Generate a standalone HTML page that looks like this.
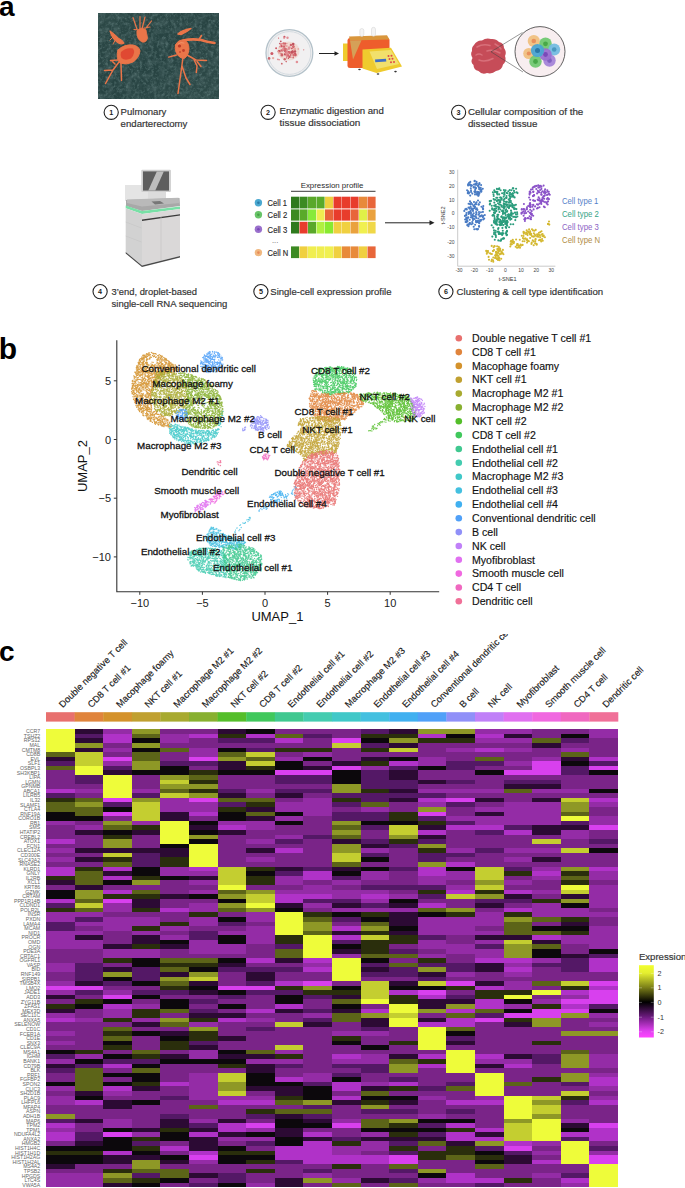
<!DOCTYPE html>
<html><head><meta charset="utf-8"><style>
html,body{margin:0;padding:0;background:#fff;}
body{width:685px;height:1188px;overflow:hidden;position:relative;}
svg{position:absolute;left:0;top:0;}
text{font-family:'Liberation Sans',sans-serif;}
</style></head><body>
<svg width="685" height="1188" viewBox="0 0 685 1188">
<text x="-1" y="15.6" font-size="28" font-weight="bold" fill="#000">a</text>
<text x="-1.2" y="359" font-size="30" font-weight="bold" fill="#000">b</text>
<text x="-1" y="661" font-size="28" font-weight="bold" fill="#000">c</text>
<path fill="#eefc3a" shape-rendering="crispEdges" d="M46.0 729.20H74.6V752.10H46.0zM74.6 765.84H103.2V775.00H74.6zM103.2 775.00H131.8V797.90H103.2zM160.4 820.80H189.0V843.70H160.4zM189.0 843.70H217.6V866.60H189.0zM217.6 884.92H246.2V889.50H217.6zM246.2 903.24H274.8V907.82H246.2zM274.8 912.40H303.4V935.30H274.8zM303.4 935.30H332.0V958.20H303.4zM332.0 958.20H360.6V981.10H332.0zM360.6 999.42H389.2V1004.00H360.6zM389.2 1004.00H417.8V1013.16H389.2zM389.2 1017.74H417.8V1026.90H389.2zM417.8 1026.90H446.4V1049.80H417.8zM446.4 1049.80H475.0V1072.70H446.4zM475.0 1072.70H503.6V1095.60H475.0zM503.6 994.84H532.2V999.42H503.6zM503.6 1095.60H532.2V1118.50H503.6zM532.2 990.26H560.8V994.84H532.2zM532.2 1118.50H560.8V1141.40H532.2zM560.8 816.22H589.4V820.80H560.8zM560.8 884.92H589.4V889.50H560.8zM560.8 1141.40H589.4V1164.30H560.8zM589.4 1164.30H618.0V1187.20H589.4z"/>
<path fill="#5c6418" shape-rendering="crispEdges" d="M46.0 752.10H74.6V756.68H46.0zM46.0 765.84H74.6V770.42H46.0zM46.0 802.48H74.6V811.64H46.0zM74.6 797.90H103.2V802.48H74.6zM74.6 807.06H103.2V816.22H74.6zM74.6 871.18H103.2V884.92H74.6zM74.6 898.66H103.2V903.24H74.6zM74.6 907.82H103.2V912.40H74.6zM74.6 1068.12H103.2V1091.02H74.6zM103.2 825.38H131.8V829.96H103.2zM103.2 862.02H131.8V866.60H103.2zM103.2 1026.90H131.8V1031.48H103.2zM103.2 1036.06H131.8V1040.64H103.2zM103.2 1178.04H131.8V1182.62H103.2zM131.8 733.78H160.4V738.36H131.8zM131.8 752.10H160.4V761.26H131.8zM131.8 889.50H160.4V894.08H131.8zM131.8 1049.80H160.4V1054.38H131.8zM131.8 1068.12H160.4V1072.70H131.8zM131.8 1168.88H160.4V1173.46H131.8zM160.4 747.52H189.0V752.10H160.4zM160.4 788.74H189.0V793.32H160.4zM160.4 958.20H189.0V962.78H160.4zM160.4 967.36H189.0V971.94H160.4zM160.4 981.10H189.0V985.68H160.4zM160.4 1008.58H189.0V1013.16H160.4zM160.4 1022.32H189.0V1026.90H160.4zM160.4 1168.88H189.0V1178.04H160.4zM189.0 775.00H217.6V779.58H189.0zM189.0 958.20H217.6V962.78H189.0zM189.0 1104.76H217.6V1109.34H189.0zM217.6 752.10H246.2V756.68H217.6zM217.6 797.90H246.2V802.48H217.6zM217.6 889.50H246.2V894.08H217.6zM217.6 907.82H246.2V912.40H217.6zM246.2 756.68H274.8V761.26H246.2zM246.2 797.90H274.8V802.48H246.2zM246.2 811.64H274.8V816.22H246.2zM246.2 1049.80H274.8V1054.38H246.2zM274.8 733.78H303.4V738.36H274.8zM274.8 949.04H303.4V958.20H274.8zM274.8 1100.18H303.4V1104.76H274.8zM274.8 1109.34H303.4V1113.92H274.8zM303.4 916.98H332.0V921.56H303.4zM303.4 930.72H332.0V935.30H303.4zM303.4 1109.34H332.0V1113.92H303.4zM332.0 825.38H360.6V829.96H332.0zM332.0 834.54H360.6V839.12H332.0zM332.0 862.02H360.6V866.60H332.0zM332.0 999.42H360.6V1004.00H332.0zM332.0 1013.16H360.6V1022.32H332.0zM332.0 1182.62H360.6V1187.20H332.0zM360.6 802.48H389.2V807.06H360.6zM360.6 921.56H389.2V926.14H360.6zM360.6 953.62H389.2V958.20H360.6zM360.6 1091.02H389.2V1095.60H360.6zM360.6 1118.50H389.2V1127.66H360.6zM389.2 953.62H417.8V958.20H389.2zM389.2 962.78H417.8V967.36H389.2zM389.2 1058.96H417.8V1063.54H389.2zM389.2 1164.30H417.8V1168.88H389.2zM389.2 1182.62H417.8V1187.20H389.2zM417.8 907.82H446.4V912.40H417.8zM417.8 1141.40H446.4V1145.98H417.8zM446.4 1013.16H475.0V1017.74H446.4zM446.4 1026.90H475.0V1031.48H446.4zM446.4 1086.44H475.0V1091.02H446.4zM446.4 1155.14H475.0V1159.72H446.4zM475.0 756.68H503.6V761.26H475.0zM475.0 1008.58H503.6V1013.16H475.0zM475.0 1164.30H503.6V1168.88H475.0zM503.6 788.74H532.2V793.32H503.6zM503.6 921.56H532.2V935.30H503.6zM503.6 1081.86H532.2V1086.44H503.6zM532.2 738.36H560.8V742.94H532.2zM532.2 916.98H560.8V921.56H532.2zM532.2 930.72H560.8V935.30H532.2zM532.2 944.46H560.8V949.04H532.2zM532.2 981.10H560.8V985.68H532.2zM560.8 752.10H589.4V756.68H560.8zM560.8 811.64H589.4V816.22H560.8zM560.8 875.76H589.4V880.34H560.8zM560.8 1049.80H589.4V1054.38H560.8z"/>
<path fill="#2c0a34" shape-rendering="crispEdges" d="M46.0 756.68H74.6V761.26H46.0zM46.0 880.34H74.6V884.92H46.0zM46.0 994.84H74.6V999.42H46.0zM46.0 1008.58H74.6V1013.16H46.0zM46.0 1063.54H74.6V1068.12H46.0zM46.0 1164.30H74.6V1168.88H46.0zM74.6 729.20H103.2V733.78H74.6zM74.6 738.36H103.2V742.94H74.6zM74.6 747.52H103.2V752.10H74.6zM74.6 829.96H103.2V834.54H74.6zM74.6 848.28H103.2V852.86H74.6zM74.6 857.44H103.2V862.02H74.6zM74.6 884.92H103.2V889.50H74.6zM74.6 935.30H103.2V939.88H74.6zM74.6 981.10H103.2V985.68H74.6zM74.6 1091.02H103.2V1095.60H74.6zM74.6 1118.50H103.2V1123.08H74.6zM74.6 1141.40H103.2V1145.98H74.6zM103.2 770.42H131.8V775.00H103.2zM103.2 848.28H131.8V852.86H103.2zM103.2 871.18H131.8V875.76H103.2zM103.2 944.46H131.8V949.04H103.2zM103.2 967.36H131.8V971.94H103.2zM103.2 1100.18H131.8V1109.34H103.2zM103.2 1155.14H131.8V1164.30H103.2zM103.2 1182.62H131.8V1187.20H103.2zM131.8 829.96H160.4V834.54H131.8zM131.8 848.28H160.4V852.86H131.8zM131.8 898.66H160.4V907.82H131.8zM131.8 935.30H160.4V944.46H131.8zM131.8 1022.32H160.4V1026.90H131.8zM131.8 1086.44H160.4V1091.02H131.8zM131.8 1127.66H160.4V1132.24H131.8zM131.8 1155.14H160.4V1159.72H131.8zM160.4 811.64H189.0V820.80H160.4zM160.4 848.28H189.0V857.44H160.4zM160.4 894.08H189.0V898.66H160.4zM160.4 944.46H189.0V949.04H160.4zM160.4 971.94H189.0V976.52H160.4zM160.4 1031.48H189.0V1036.06H160.4zM160.4 1054.38H189.0V1058.96H160.4zM160.4 1118.50H189.0V1127.66H160.4zM160.4 1159.72H189.0V1164.30H160.4zM189.0 825.38H217.6V829.96H189.0zM189.0 875.76H217.6V880.34H189.0zM189.0 981.10H217.6V985.68H189.0zM189.0 990.26H217.6V994.84H189.0zM189.0 1013.16H217.6V1017.74H189.0zM189.0 1045.22H217.6V1049.80H189.0zM189.0 1127.66H217.6V1132.24H189.0zM189.0 1136.82H217.6V1150.56H189.0zM189.0 1173.46H217.6V1178.04H189.0zM217.6 729.20H246.2V733.78H217.6zM217.6 761.26H246.2V770.42H217.6zM217.6 793.32H246.2V797.90H217.6zM217.6 829.96H246.2V834.54H217.6zM217.6 962.78H246.2V967.36H217.6zM217.6 1013.16H246.2V1017.74H217.6zM217.6 1036.06H246.2V1040.64H217.6zM217.6 1054.38H246.2V1058.96H217.6zM217.6 1118.50H246.2V1123.08H217.6zM217.6 1132.24H246.2V1136.82H217.6zM246.2 807.06H274.8V811.64H246.2zM246.2 816.22H274.8V820.80H246.2zM246.2 848.28H274.8V852.86H246.2zM246.2 971.94H274.8V981.10H246.2zM246.2 1054.38H274.8V1058.96H246.2zM246.2 1063.54H274.8V1072.70H246.2zM246.2 1086.44H274.8V1091.02H246.2zM274.8 793.32H303.4V797.90H274.8zM274.8 866.60H303.4V871.18H274.8zM274.8 903.24H303.4V907.82H274.8zM274.8 958.20H303.4V962.78H274.8zM274.8 1008.58H303.4V1013.16H274.8zM274.8 1086.44H303.4V1095.60H274.8zM274.8 1113.92H303.4V1118.50H274.8zM274.8 1127.66H303.4V1136.82H274.8zM274.8 1178.04H303.4V1187.20H274.8zM303.4 765.84H332.0V770.42H303.4zM303.4 1022.32H332.0V1026.90H303.4zM303.4 1118.50H332.0V1123.08H303.4zM303.4 1136.82H332.0V1141.40H303.4zM332.0 761.26H360.6V765.84H332.0zM332.0 839.12H360.6V843.70H332.0zM332.0 866.60H360.6V871.18H332.0zM332.0 903.24H360.6V907.82H332.0zM332.0 930.72H360.6V935.30H332.0zM332.0 949.04H360.6V953.62H332.0zM332.0 994.84H360.6V999.42H332.0zM332.0 1008.58H360.6V1013.16H332.0zM332.0 1100.18H360.6V1104.76H332.0zM360.6 756.68H389.2V761.26H360.6zM360.6 843.70H389.2V848.28H360.6zM360.6 967.36H389.2V971.94H360.6zM360.6 1017.74H389.2V1026.90H360.6zM360.6 1086.44H389.2V1091.02H360.6zM360.6 1136.82H389.2V1141.40H360.6zM360.6 1178.04H389.2V1182.62H360.6zM389.2 729.20H417.8V733.78H389.2zM389.2 742.94H417.8V747.52H389.2zM389.2 770.42H417.8V779.58H389.2zM389.2 788.74H417.8V793.32H389.2zM389.2 797.90H417.8V802.48H389.2zM389.2 903.24H417.8V907.82H389.2zM389.2 912.40H417.8V926.14H389.2zM389.2 930.72H417.8V935.30H389.2zM389.2 981.10H417.8V985.68H389.2zM389.2 1054.38H417.8V1058.96H389.2zM389.2 1100.18H417.8V1104.76H389.2zM389.2 1136.82H417.8V1141.40H389.2zM417.8 779.58H446.4V784.16H417.8zM417.8 825.38H446.4V829.96H417.8zM417.8 834.54H446.4V839.12H417.8zM417.8 971.94H446.4V976.52H417.8zM417.8 999.42H446.4V1008.58H417.8zM417.8 1017.74H446.4V1022.32H417.8zM417.8 1136.82H446.4V1141.40H417.8zM446.4 999.42H475.0V1004.00H446.4zM446.4 1040.64H475.0V1045.22H446.4zM446.4 1141.40H475.0V1145.98H446.4zM475.0 797.90H503.6V802.48H475.0zM475.0 811.64H503.6V816.22H475.0zM475.0 903.24H503.6V907.82H475.0zM475.0 935.30H503.6V939.88H475.0zM475.0 962.78H503.6V971.94H475.0zM475.0 981.10H503.6V985.68H475.0zM475.0 1063.54H503.6V1068.12H475.0zM475.0 1132.24H503.6V1136.82H475.0zM503.6 733.78H532.2V738.36H503.6zM503.6 784.16H532.2V788.74H503.6zM503.6 894.08H532.2V898.66H503.6zM503.6 935.30H532.2V939.88H503.6zM503.6 1022.32H532.2V1026.90H503.6zM503.6 1054.38H532.2V1058.96H503.6zM503.6 1155.14H532.2V1164.30H503.6zM532.2 742.94H560.8V747.52H532.2zM532.2 784.16H560.8V788.74H532.2zM532.2 797.90H560.8V802.48H532.2zM532.2 825.38H560.8V834.54H532.2zM532.2 857.44H560.8V862.02H532.2zM532.2 939.88H560.8V944.46H532.2zM560.8 756.68H589.4V761.26H560.8zM560.8 825.38H589.4V829.96H560.8zM560.8 894.08H589.4V898.66H560.8zM560.8 921.56H589.4V926.14H560.8zM560.8 953.62H589.4V958.20H560.8zM560.8 1123.08H589.4V1127.66H560.8z"/>
<path fill="#541866" shape-rendering="crispEdges" d="M46.0 761.26H74.6V765.84H46.0zM46.0 793.32H74.6V797.90H46.0zM46.0 903.24H74.6V907.82H46.0zM46.0 921.56H74.6V930.72H46.0zM46.0 1054.38H74.6V1058.96H46.0zM46.0 1068.12H74.6V1072.70H46.0zM46.0 1118.50H74.6V1123.08H46.0zM74.6 733.78H103.2V738.36H74.6zM74.6 775.00H103.2V784.16H74.6zM74.6 916.98H103.2V921.56H74.6zM74.6 962.78H103.2V981.10H74.6zM74.6 990.26H103.2V994.84H74.6zM74.6 1063.54H103.2V1068.12H74.6zM74.6 1132.24H103.2V1141.40H74.6zM103.2 765.84H131.8V770.42H103.2zM103.2 802.48H131.8V807.06H103.2zM103.2 981.10H131.8V985.68H103.2zM103.2 1058.96H131.8V1063.54H103.2zM131.8 793.32H160.4V797.90H131.8zM131.8 852.86H160.4V866.60H131.8zM131.8 967.36H160.4V981.10H131.8zM131.8 990.26H160.4V994.84H131.8zM131.8 1058.96H160.4V1063.54H131.8zM131.8 1141.40H160.4V1145.98H131.8zM131.8 1173.46H160.4V1178.04H131.8zM160.4 761.26H189.0V765.84H160.4zM160.4 990.26H189.0V994.84H160.4zM160.4 1095.60H189.0V1100.18H160.4zM160.4 1113.92H189.0V1118.50H160.4zM189.0 761.26H217.6V765.84H189.0zM189.0 930.72H217.6V939.88H189.0zM189.0 999.42H217.6V1004.00H189.0zM189.0 1008.58H217.6V1013.16H189.0zM189.0 1040.64H217.6V1045.22H189.0zM189.0 1123.08H217.6V1127.66H189.0zM189.0 1182.62H217.6V1187.20H189.0zM217.6 738.36H246.2V742.94H217.6zM217.6 788.74H246.2V793.32H217.6zM217.6 802.48H246.2V807.06H217.6zM217.6 921.56H246.2V926.14H217.6zM217.6 967.36H246.2V971.94H217.6zM217.6 994.84H246.2V999.42H217.6zM217.6 1173.46H246.2V1182.62H217.6zM246.2 738.36H274.8V742.94H246.2zM246.2 747.52H274.8V752.10H246.2zM246.2 967.36H274.8V971.94H246.2zM246.2 981.10H274.8V985.68H246.2zM246.2 990.26H274.8V994.84H246.2zM246.2 1026.90H274.8V1031.48H246.2zM246.2 1113.92H274.8V1118.50H246.2zM246.2 1141.40H274.8V1145.98H246.2zM274.8 775.00H303.4V784.16H274.8zM274.8 788.74H303.4V793.32H274.8zM274.8 839.12H303.4V843.70H274.8zM274.8 871.18H303.4V875.76H274.8zM274.8 944.46H303.4V949.04H274.8zM274.8 967.36H303.4V971.94H274.8zM274.8 990.26H303.4V994.84H274.8zM274.8 1063.54H303.4V1068.12H274.8zM274.8 1159.72H303.4V1164.30H274.8zM303.4 733.78H332.0V738.36H303.4zM303.4 775.00H332.0V784.16H303.4zM303.4 788.74H332.0V793.32H303.4zM303.4 834.54H332.0V839.12H303.4zM303.4 866.60H332.0V871.18H303.4zM303.4 898.66H332.0V903.24H303.4zM303.4 994.84H332.0V999.42H303.4zM303.4 1008.58H332.0V1013.16H303.4zM303.4 1017.74H332.0V1022.32H303.4zM303.4 1081.86H332.0V1086.44H303.4zM303.4 1104.76H332.0V1109.34H303.4zM303.4 1113.92H332.0V1118.50H303.4zM303.4 1168.88H332.0V1173.46H303.4zM332.0 793.32H360.6V797.90H332.0zM332.0 802.48H360.6V807.06H332.0zM332.0 811.64H360.6V820.80H332.0zM332.0 875.76H360.6V880.34H332.0zM332.0 898.66H360.6V903.24H332.0zM332.0 916.98H360.6V921.56H332.0zM332.0 939.88H360.6V944.46H332.0zM332.0 1063.54H360.6V1068.12H332.0zM332.0 1072.70H360.6V1077.28H332.0zM332.0 1136.82H360.6V1141.40H332.0zM360.6 729.20H389.2V733.78H360.6zM360.6 742.94H389.2V747.52H360.6zM360.6 770.42H389.2V788.74H360.6zM360.6 793.32H389.2V802.48H360.6zM360.6 811.64H389.2V820.80H360.6zM360.6 825.38H389.2V829.96H360.6zM360.6 839.12H389.2V843.70H360.6zM360.6 852.86H389.2V857.44H360.6zM360.6 884.92H389.2V889.50H360.6zM360.6 903.24H389.2V907.82H360.6zM360.6 962.78H389.2V967.36H360.6zM360.6 971.94H389.2V976.52H360.6zM360.6 1026.90H389.2V1031.48H360.6zM360.6 1063.54H389.2V1072.70H360.6zM360.6 1109.34H389.2V1113.92H360.6zM389.2 765.84H417.8V770.42H389.2zM389.2 779.58H417.8V788.74H389.2zM389.2 793.32H417.8V797.90H389.2zM389.2 843.70H417.8V848.28H389.2zM389.2 866.60H417.8V871.18H389.2zM389.2 884.92H417.8V889.50H389.2zM389.2 949.04H417.8V953.62H389.2zM389.2 967.36H417.8V976.52H389.2zM389.2 1077.28H417.8V1081.86H389.2zM389.2 1109.34H417.8V1113.92H389.2zM389.2 1141.40H417.8V1145.98H389.2zM389.2 1150.56H417.8V1155.14H389.2zM389.2 1168.88H417.8V1173.46H389.2zM389.2 1178.04H417.8V1182.62H389.2zM417.8 793.32H446.4V797.90H417.8zM417.8 816.22H446.4V820.80H417.8zM417.8 839.12H446.4V843.70H417.8zM417.8 852.86H446.4V862.02H417.8zM417.8 884.92H446.4V889.50H417.8zM417.8 894.08H446.4V898.66H417.8zM417.8 935.30H446.4V939.88H417.8zM417.8 962.78H446.4V967.36H417.8zM417.8 976.52H446.4V981.10H417.8zM417.8 1086.44H446.4V1091.02H417.8zM417.8 1123.08H446.4V1127.66H417.8zM417.8 1132.24H446.4V1136.82H417.8zM446.4 761.26H475.0V770.42H446.4zM446.4 779.58H475.0V784.16H446.4zM446.4 802.48H475.0V807.06H446.4zM446.4 820.80H475.0V825.38H446.4zM446.4 852.86H475.0V857.44H446.4zM446.4 962.78H475.0V971.94H446.4zM446.4 994.84H475.0V999.42H446.4zM446.4 1036.06H475.0V1040.64H446.4zM446.4 1081.86H475.0V1086.44H446.4zM446.4 1109.34H475.0V1113.92H446.4zM475.0 761.26H503.6V765.84H475.0zM475.0 829.96H503.6V834.54H475.0zM475.0 848.28H503.6V852.86H475.0zM475.0 898.66H503.6V903.24H475.0zM475.0 944.46H503.6V949.04H475.0zM475.0 1013.16H503.6V1017.74H475.0zM475.0 1145.98H503.6V1150.56H475.0zM475.0 1182.62H503.6V1187.20H475.0zM503.6 779.58H532.2V784.16H503.6zM503.6 825.38H532.2V829.96H503.6zM503.6 866.60H532.2V871.18H503.6zM503.6 898.66H532.2V903.24H503.6zM503.6 1150.56H532.2V1155.14H503.6zM532.2 779.58H560.8V784.16H532.2zM532.2 962.78H560.8V967.36H532.2zM532.2 1054.38H560.8V1063.54H532.2zM560.8 738.36H589.4V742.94H560.8zM560.8 765.84H589.4V775.00H560.8zM560.8 820.80H589.4V825.38H560.8zM560.8 958.20H589.4V971.94H560.8zM560.8 1081.86H589.4V1086.44H560.8zM560.8 1100.18H589.4V1104.76H560.8zM560.8 1136.82H589.4V1141.40H560.8zM560.8 1173.46H589.4V1178.04H560.8zM589.4 761.26H618.0V765.84H589.4zM589.4 839.12H618.0V843.70H589.4zM589.4 953.62H618.0V958.20H589.4zM589.4 1004.00H618.0V1008.58H589.4zM589.4 1145.98H618.0V1150.56H589.4z"/>
<path fill="#7a2488" shape-rendering="crispEdges" d="M46.0 770.42H74.6V788.74H46.0zM46.0 825.38H74.6V839.12H46.0zM46.0 843.70H74.6V848.28H46.0zM46.0 852.86H74.6V857.44H46.0zM46.0 862.02H74.6V866.60H46.0zM46.0 884.92H74.6V889.50H46.0zM46.0 949.04H74.6V962.78H46.0zM46.0 971.94H74.6V981.10H46.0zM46.0 999.42H74.6V1004.00H46.0zM46.0 1022.32H74.6V1031.48H46.0zM46.0 1036.06H74.6V1040.64H46.0zM46.0 1045.22H74.6V1049.80H46.0zM46.0 1072.70H74.6V1081.86H46.0zM46.0 1091.02H74.6V1095.60H46.0zM46.0 1104.76H74.6V1113.92H46.0zM46.0 1141.40H74.6V1145.98H46.0zM46.0 1168.88H74.6V1173.46H46.0zM74.6 784.16H103.2V788.74H74.6zM74.6 793.32H103.2V797.90H74.6zM74.6 820.80H103.2V825.38H74.6zM74.6 834.54H103.2V848.28H74.6zM74.6 852.86H103.2V857.44H74.6zM74.6 862.02H103.2V866.60H74.6zM74.6 926.14H103.2V930.72H74.6zM74.6 949.04H103.2V962.78H74.6zM74.6 994.84H103.2V999.42H74.6zM74.6 1008.58H103.2V1017.74H74.6zM74.6 1022.32H103.2V1049.80H74.6zM74.6 1104.76H103.2V1118.50H74.6zM74.6 1123.08H103.2V1132.24H74.6zM74.6 1164.30H103.2V1173.46H74.6zM103.2 742.94H131.8V747.52H103.2zM103.2 752.10H131.8V756.68H103.2zM103.2 816.22H131.8V820.80H103.2zM103.2 884.92H131.8V889.50H103.2zM103.2 912.40H131.8V916.98H103.2zM103.2 930.72H131.8V944.46H103.2zM103.2 962.78H131.8V967.36H103.2zM103.2 985.68H131.8V990.26H103.2zM103.2 1022.32H131.8V1026.90H103.2zM103.2 1049.80H131.8V1054.38H103.2zM103.2 1068.12H131.8V1072.70H103.2zM103.2 1077.28H131.8V1081.86H103.2zM103.2 1095.60H131.8V1100.18H103.2zM103.2 1109.34H131.8V1118.50H103.2zM103.2 1164.30H131.8V1168.88H103.2zM131.8 775.00H160.4V788.74H131.8zM131.8 834.54H160.4V848.28H131.8zM131.8 884.92H160.4V889.50H131.8zM131.8 912.40H160.4V916.98H131.8zM131.8 985.68H160.4V990.26H131.8zM131.8 999.42H160.4V1004.00H131.8zM131.8 1026.90H160.4V1031.48H131.8zM131.8 1036.06H160.4V1049.80H131.8zM131.8 1091.02H160.4V1100.18H131.8zM131.8 1104.76H160.4V1127.66H131.8zM160.4 729.20H189.0V733.78H160.4zM160.4 742.94H189.0V747.52H160.4zM160.4 752.10H189.0V761.26H160.4zM160.4 880.34H189.0V894.08H160.4zM160.4 898.66H189.0V907.82H160.4zM160.4 912.40H189.0V921.56H160.4zM160.4 930.72H189.0V935.30H160.4zM160.4 949.04H189.0V958.20H160.4zM160.4 994.84H189.0V999.42H160.4zM160.4 1013.16H189.0V1017.74H160.4zM160.4 1026.90H189.0V1031.48H160.4zM160.4 1049.80H189.0V1054.38H160.4zM160.4 1063.54H189.0V1081.86H160.4zM160.4 1086.44H189.0V1095.60H160.4zM160.4 1100.18H189.0V1113.92H160.4zM160.4 1141.40H189.0V1145.98H160.4zM160.4 1150.56H189.0V1155.14H160.4zM160.4 1164.30H189.0V1168.88H160.4zM160.4 1182.62H189.0V1187.20H160.4zM189.0 729.20H217.6V733.78H189.0zM189.0 738.36H217.6V747.52H189.0zM189.0 765.84H217.6V770.42H189.0zM189.0 816.22H217.6V820.80H189.0zM189.0 884.92H217.6V889.50H189.0zM189.0 898.66H217.6V903.24H189.0zM189.0 926.14H217.6V930.72H189.0zM189.0 953.62H217.6V958.20H189.0zM189.0 994.84H217.6V999.42H189.0zM189.0 1004.00H217.6V1008.58H189.0zM189.0 1063.54H217.6V1072.70H189.0zM189.0 1100.18H217.6V1104.76H189.0zM189.0 1109.34H217.6V1118.50H189.0zM189.0 1164.30H217.6V1173.46H189.0zM189.0 1178.04H217.6V1182.62H189.0zM217.6 742.94H246.2V747.52H217.6zM217.6 775.00H246.2V788.74H217.6zM217.6 834.54H246.2V866.60H217.6zM217.6 912.40H246.2V916.98H217.6zM217.6 926.14H246.2V930.72H217.6zM217.6 953.62H246.2V958.20H217.6zM217.6 971.94H246.2V985.68H217.6zM217.6 999.42H246.2V1004.00H217.6zM217.6 1008.58H246.2V1013.16H217.6zM217.6 1022.32H246.2V1036.06H217.6zM217.6 1040.64H246.2V1049.80H217.6zM217.6 1068.12H246.2V1072.70H217.6zM217.6 1104.76H246.2V1118.50H217.6zM217.6 1141.40H246.2V1145.98H217.6zM217.6 1164.30H246.2V1173.46H217.6zM246.2 742.94H274.8V747.52H246.2zM246.2 775.00H274.8V788.74H246.2zM246.2 793.32H274.8V797.90H246.2zM246.2 829.96H274.8V839.12H246.2zM246.2 843.70H274.8V848.28H246.2zM246.2 852.86H274.8V857.44H246.2zM246.2 862.02H274.8V866.60H246.2zM246.2 884.92H274.8V889.50H246.2zM246.2 921.56H274.8V926.14H246.2zM246.2 944.46H274.8V958.20H246.2zM246.2 962.78H274.8V967.36H246.2zM246.2 994.84H274.8V1008.58H246.2zM246.2 1013.16H274.8V1017.74H246.2zM246.2 1022.32H274.8V1026.90H246.2zM246.2 1031.48H274.8V1049.80H246.2zM246.2 1091.02H274.8V1095.60H246.2zM246.2 1104.76H274.8V1109.34H246.2zM246.2 1118.50H274.8V1123.08H246.2zM246.2 1145.98H274.8V1150.56H246.2zM246.2 1164.30H274.8V1168.88H246.2zM246.2 1173.46H274.8V1182.62H246.2zM274.8 729.20H303.4V733.78H274.8zM274.8 742.94H303.4V747.52H274.8zM274.8 752.10H303.4V756.68H274.8zM274.8 784.16H303.4V788.74H274.8zM274.8 797.90H303.4V802.48H274.8zM274.8 825.38H303.4V834.54H274.8zM274.8 843.70H303.4V848.28H274.8zM274.8 852.86H303.4V866.60H274.8zM274.8 884.92H303.4V889.50H274.8zM274.8 962.78H303.4V967.36H274.8zM274.8 971.94H303.4V981.10H274.8zM274.8 1013.16H303.4V1022.32H274.8zM274.8 1026.90H303.4V1045.22H274.8zM274.8 1068.12H303.4V1077.28H274.8zM274.8 1104.76H303.4V1109.34H274.8zM274.8 1164.30H303.4V1178.04H274.8zM303.4 729.20H332.0V733.78H303.4zM303.4 738.36H332.0V747.52H303.4zM303.4 761.26H332.0V765.84H303.4zM303.4 784.16H332.0V788.74H303.4zM303.4 793.32H332.0V797.90H303.4zM303.4 816.22H332.0V834.54H303.4zM303.4 839.12H332.0V866.60H303.4zM303.4 880.34H332.0V884.92H303.4zM303.4 907.82H332.0V912.40H303.4zM303.4 971.94H332.0V981.10H303.4zM303.4 999.42H332.0V1008.58H303.4zM303.4 1026.90H332.0V1072.70H303.4zM303.4 1127.66H332.0V1132.24H303.4zM303.4 1164.30H332.0V1168.88H303.4zM303.4 1182.62H332.0V1187.20H303.4zM332.0 729.20H360.6V738.36H332.0zM332.0 747.52H360.6V761.26H332.0zM332.0 807.06H360.6V811.64H332.0zM332.0 884.92H360.6V889.50H332.0zM332.0 921.56H360.6V926.14H332.0zM332.0 981.10H360.6V985.68H332.0zM332.0 1022.32H360.6V1031.48H332.0zM332.0 1045.22H360.6V1054.38H332.0zM332.0 1068.12H360.6V1072.70H332.0zM332.0 1091.02H360.6V1095.60H332.0zM332.0 1104.76H360.6V1118.50H332.0zM332.0 1127.66H360.6V1136.82H332.0zM332.0 1168.88H360.6V1178.04H332.0zM360.6 752.10H389.2V756.68H360.6zM360.6 829.96H389.2V839.12H360.6zM360.6 862.02H389.2V866.60H360.6zM360.6 880.34H389.2V884.92H360.6zM360.6 976.52H389.2V981.10H360.6zM360.6 1004.00H389.2V1008.58H360.6zM360.6 1036.06H389.2V1045.22H360.6zM360.6 1049.80H389.2V1054.38H360.6zM360.6 1072.70H389.2V1081.86H360.6zM360.6 1113.92H389.2V1118.50H360.6zM360.6 1150.56H389.2V1155.14H360.6zM360.6 1164.30H389.2V1178.04H360.6zM360.6 1182.62H389.2V1187.20H360.6zM389.2 752.10H417.8V756.68H389.2zM389.2 802.48H417.8V811.64H389.2zM389.2 848.28H417.8V866.60H389.2zM389.2 871.18H417.8V884.92H389.2zM389.2 889.50H417.8V894.08H389.2zM389.2 944.46H417.8V949.04H389.2zM389.2 958.20H417.8V962.78H389.2zM389.2 976.52H417.8V981.10H389.2zM389.2 1026.90H417.8V1040.64H389.2zM389.2 1045.22H417.8V1054.38H389.2zM389.2 1072.70H417.8V1077.28H389.2zM389.2 1091.02H417.8V1095.60H389.2zM389.2 1104.76H417.8V1109.34H389.2zM389.2 1113.92H417.8V1118.50H389.2zM389.2 1173.46H417.8V1178.04H389.2zM417.8 742.94H446.4V756.68H417.8zM417.8 770.42H446.4V779.58H417.8zM417.8 784.16H446.4V788.74H417.8zM417.8 898.66H446.4V903.24H417.8zM417.8 949.04H446.4V953.62H417.8zM417.8 1013.16H446.4V1017.74H417.8zM417.8 1049.80H446.4V1054.38H417.8zM417.8 1068.12H446.4V1086.44H417.8zM417.8 1091.02H446.4V1095.60H417.8zM417.8 1100.18H446.4V1113.92H417.8zM417.8 1145.98H446.4V1150.56H417.8zM417.8 1159.72H446.4V1168.88H417.8zM417.8 1182.62H446.4V1187.20H417.8zM446.4 742.94H475.0V747.52H446.4zM446.4 752.10H475.0V761.26H446.4zM446.4 770.42H475.0V779.58H446.4zM446.4 784.16H475.0V788.74H446.4zM446.4 793.32H475.0V797.90H446.4zM446.4 807.06H475.0V816.22H446.4zM446.4 829.96H475.0V848.28H446.4zM446.4 857.44H475.0V862.02H446.4zM446.4 880.34H475.0V884.92H446.4zM446.4 898.66H475.0V907.82H446.4zM446.4 935.30H475.0V944.46H446.4zM446.4 953.62H475.0V962.78H446.4zM446.4 976.52H475.0V981.10H446.4zM446.4 990.26H475.0V994.84H446.4zM446.4 1045.22H475.0V1049.80H446.4zM446.4 1072.70H475.0V1081.86H446.4zM446.4 1091.02H475.0V1100.18H446.4zM446.4 1104.76H475.0V1109.34H446.4zM446.4 1113.92H475.0V1118.50H446.4zM446.4 1159.72H475.0V1173.46H446.4zM446.4 1182.62H475.0V1187.20H446.4zM475.0 742.94H503.6V747.52H475.0zM475.0 752.10H503.6V756.68H475.0zM475.0 765.84H503.6V770.42H475.0zM475.0 775.00H503.6V788.74H475.0zM475.0 793.32H503.6V797.90H475.0zM475.0 802.48H503.6V807.06H475.0zM475.0 834.54H503.6V848.28H475.0zM475.0 852.86H503.6V866.60H475.0zM475.0 907.82H503.6V912.40H475.0zM475.0 926.14H503.6V930.72H475.0zM475.0 971.94H503.6V981.10H475.0zM475.0 1022.32H503.6V1054.38H475.0zM475.0 1068.12H503.6V1072.70H475.0zM475.0 1104.76H503.6V1127.66H475.0zM475.0 1168.88H503.6V1178.04H475.0zM503.6 742.94H532.2V747.52H503.6zM503.6 752.10H532.2V761.26H503.6zM503.6 765.84H532.2V770.42H503.6zM503.6 775.00H532.2V779.58H503.6zM503.6 793.32H532.2V802.48H503.6zM503.6 834.54H532.2V848.28H503.6zM503.6 852.86H532.2V857.44H503.6zM503.6 862.02H532.2V866.60H503.6zM503.6 875.76H532.2V880.34H503.6zM503.6 884.92H532.2V889.50H503.6zM503.6 903.24H532.2V907.82H503.6zM503.6 976.52H532.2V981.10H503.6zM503.6 1026.90H532.2V1054.38H503.6zM503.6 1068.12H532.2V1081.86H503.6zM503.6 1086.44H532.2V1095.60H503.6zM503.6 1164.30H532.2V1178.04H503.6zM503.6 1182.62H532.2V1187.20H503.6zM532.2 729.20H560.8V738.36H532.2zM532.2 747.52H560.8V756.68H532.2zM532.2 775.00H560.8V779.58H532.2zM532.2 793.32H560.8V797.90H532.2zM532.2 834.54H560.8V839.12H532.2zM532.2 843.70H560.8V848.28H532.2zM532.2 852.86H560.8V857.44H532.2zM532.2 862.02H560.8V866.60H532.2zM532.2 880.34H560.8V889.50H532.2zM532.2 894.08H560.8V898.66H532.2zM532.2 921.56H560.8V926.14H532.2zM532.2 967.36H560.8V981.10H532.2zM532.2 985.68H560.8V990.26H532.2zM532.2 994.84H560.8V999.42H532.2zM532.2 1026.90H560.8V1040.64H532.2zM532.2 1045.22H560.8V1054.38H532.2zM532.2 1063.54H560.8V1077.28H532.2zM532.2 1081.86H560.8V1095.60H532.2zM532.2 1145.98H560.8V1150.56H532.2zM532.2 1155.14H560.8V1159.72H532.2zM532.2 1164.30H560.8V1173.46H532.2zM532.2 1178.04H560.8V1187.20H532.2zM560.8 729.20H589.4V733.78H560.8zM560.8 742.94H589.4V747.52H560.8zM560.8 775.00H589.4V788.74H560.8zM560.8 793.32H589.4V797.90H560.8zM560.8 839.12H589.4V848.28H560.8zM560.8 852.86H589.4V866.60H560.8zM560.8 944.46H589.4V953.62H560.8zM560.8 971.94H589.4V981.10H560.8zM560.8 1017.74H589.4V1031.48H560.8zM560.8 1036.06H589.4V1049.80H560.8zM560.8 1068.12H589.4V1072.70H560.8zM560.8 1086.44H589.4V1091.02H560.8zM560.8 1104.76H589.4V1118.50H560.8zM560.8 1164.30H589.4V1173.46H560.8zM589.4 738.36H618.0V756.68H589.4zM589.4 775.00H618.0V788.74H589.4zM589.4 793.32H618.0V797.90H589.4zM589.4 807.06H618.0V816.22H589.4zM589.4 829.96H618.0V839.12H589.4zM589.4 843.70H618.0V848.28H589.4zM589.4 852.86H618.0V866.60H589.4zM589.4 880.34H618.0V884.92H589.4zM589.4 907.82H618.0V912.40H589.4zM589.4 916.98H618.0V926.14H589.4zM589.4 971.94H618.0V981.10H589.4zM589.4 1017.74H618.0V1022.32H589.4zM589.4 1026.90H618.0V1031.48H589.4zM589.4 1036.06H618.0V1054.38H589.4zM589.4 1068.12H618.0V1072.70H589.4zM589.4 1091.02H618.0V1095.60H589.4zM589.4 1104.76H618.0V1123.08H589.4zM589.4 1141.40H618.0V1145.98H589.4z"/>
<path fill="#b032c8" shape-rendering="crispEdges" d="M46.0 788.74H74.6V793.32H46.0zM46.0 839.12H74.6V843.70H46.0zM46.0 866.60H74.6V875.76H46.0zM46.0 898.66H74.6V903.24H46.0zM46.0 1017.74H74.6V1022.32H46.0zM46.0 1123.08H74.6V1127.66H46.0zM46.0 1132.24H74.6V1141.40H46.0zM74.6 1100.18H103.2V1104.76H74.6zM103.2 733.78H131.8V742.94H103.2zM103.2 866.60H131.8V871.18H103.2zM103.2 875.76H131.8V880.34H103.2zM103.2 889.50H131.8V894.08H103.2zM103.2 1004.00H131.8V1008.58H103.2zM103.2 1063.54H131.8V1068.12H103.2zM103.2 1086.44H131.8V1091.02H103.2zM103.2 1150.56H131.8V1155.14H103.2zM160.4 907.82H189.0V912.40H160.4zM160.4 1081.86H189.0V1086.44H160.4zM160.4 1145.98H189.0V1150.56H160.4zM189.0 733.78H217.6V738.36H189.0zM189.0 811.64H217.6V816.22H189.0zM189.0 866.60H217.6V871.18H189.0zM189.0 1132.24H217.6V1136.82H189.0zM189.0 1150.56H217.6V1155.14H189.0zM217.6 825.38H246.2V829.96H217.6zM217.6 1017.74H246.2V1022.32H217.6zM217.6 1100.18H246.2V1104.76H217.6zM217.6 1123.08H246.2V1132.24H217.6zM246.2 733.78H274.8V738.36H246.2zM246.2 958.20H274.8V962.78H246.2zM246.2 1008.58H274.8V1013.16H246.2zM246.2 1100.18H274.8V1104.76H246.2zM274.8 738.36H303.4V742.94H274.8zM274.8 848.28H303.4V852.86H274.8zM274.8 894.08H303.4V903.24H274.8zM274.8 981.10H303.4V985.68H274.8zM274.8 1004.00H303.4V1008.58H274.8zM274.8 1077.28H303.4V1081.86H274.8zM274.8 1145.98H303.4V1159.72H274.8zM303.4 871.18H332.0V880.34H303.4zM303.4 894.08H332.0V898.66H303.4zM303.4 958.20H332.0V962.78H303.4zM303.4 967.36H332.0V971.94H303.4zM303.4 1132.24H332.0V1136.82H303.4zM303.4 1141.40H332.0V1164.30H303.4zM332.0 926.14H360.6V930.72H332.0zM332.0 935.30H360.6V939.88H332.0zM332.0 1054.38H360.6V1058.96H332.0zM332.0 1081.86H360.6V1091.02H332.0zM332.0 1095.60H360.6V1100.18H332.0zM332.0 1155.14H360.6V1164.30H332.0zM360.6 894.08H389.2V898.66H360.6zM360.6 1008.58H389.2V1013.16H360.6zM360.6 1155.14H389.2V1164.30H360.6zM389.2 761.26H417.8V765.84H389.2zM389.2 990.26H417.8V994.84H389.2zM389.2 1081.86H417.8V1086.44H389.2zM417.8 733.78H446.4V738.36H417.8zM417.8 797.90H446.4V802.48H417.8zM417.8 829.96H446.4V834.54H417.8zM417.8 866.60H446.4V875.76H417.8zM417.8 903.24H446.4V907.82H417.8zM417.8 994.84H446.4V999.42H417.8zM417.8 1022.32H446.4V1026.90H417.8zM417.8 1054.38H446.4V1058.96H417.8zM417.8 1063.54H446.4V1068.12H417.8zM446.4 825.38H475.0V829.96H446.4zM446.4 862.02H475.0V866.60H446.4zM446.4 889.50H475.0V894.08H446.4zM446.4 1008.58H475.0V1013.16H446.4zM446.4 1017.74H475.0V1026.90H446.4zM446.4 1100.18H475.0V1104.76H446.4zM446.4 1123.08H475.0V1127.66H446.4zM446.4 1132.24H475.0V1141.40H446.4zM446.4 1173.46H475.0V1182.62H446.4zM475.0 733.78H503.6V738.36H475.0zM475.0 747.52H503.6V752.10H475.0zM475.0 825.38H503.6V829.96H475.0zM475.0 958.20H503.6V962.78H475.0zM475.0 985.68H503.6V990.26H475.0zM475.0 999.42H503.6V1008.58H475.0zM475.0 1054.38H503.6V1058.96H475.0zM475.0 1100.18H503.6V1104.76H475.0zM475.0 1127.66H503.6V1132.24H475.0zM475.0 1136.82H503.6V1141.40H475.0zM475.0 1178.04H503.6V1182.62H475.0zM503.6 829.96H532.2V834.54H503.6zM503.6 889.50H532.2V894.08H503.6zM503.6 907.82H532.2V912.40H503.6zM503.6 958.20H532.2V962.78H503.6zM503.6 967.36H532.2V971.94H503.6zM503.6 1063.54H532.2V1068.12H503.6zM503.6 1141.40H532.2V1145.98H503.6zM532.2 871.18H560.8V875.76H532.2zM532.2 935.30H560.8V939.88H532.2zM532.2 1159.72H560.8V1164.30H532.2zM560.8 990.26H589.4V994.84H560.8zM560.8 1004.00H589.4V1008.58H560.8zM560.8 1132.24H589.4V1136.82H560.8zM560.8 1178.04H589.4V1182.62H560.8zM589.4 756.68H618.0V761.26H589.4zM589.4 797.90H618.0V802.48H589.4zM589.4 866.60H618.0V871.18H589.4zM589.4 958.20H618.0V971.94H589.4zM589.4 985.68H618.0V990.26H589.4zM589.4 1077.28H618.0V1086.44H589.4zM589.4 1100.18H618.0V1104.76H589.4zM589.4 1127.66H618.0V1141.40H589.4z"/>
<path fill="#2a2e0c" shape-rendering="crispEdges" d="M46.0 797.90H74.6V802.48H46.0zM46.0 875.76H74.6V880.34H46.0zM46.0 907.82H74.6V912.40H46.0zM46.0 1004.00H74.6V1008.58H46.0zM46.0 1150.56H74.6V1155.14H46.0zM74.6 866.60H103.2V871.18H74.6zM74.6 999.42H103.2V1004.00H74.6zM74.6 1049.80H103.2V1054.38H74.6zM74.6 1150.56H103.2V1155.14H74.6zM103.2 834.54H131.8V839.12H103.2zM103.2 857.44H131.8V862.02H103.2zM103.2 894.08H131.8V898.66H103.2zM103.2 958.20H131.8V962.78H103.2zM103.2 1017.74H131.8V1022.32H103.2zM103.2 1031.48H131.8V1036.06H103.2zM103.2 1045.22H131.8V1049.80H103.2zM103.2 1168.88H131.8V1173.46H103.2zM131.8 825.38H160.4V829.96H131.8zM131.8 875.76H160.4V880.34H131.8zM131.8 894.08H160.4V898.66H131.8zM131.8 907.82H160.4V912.40H131.8zM131.8 926.14H160.4V930.72H131.8zM131.8 944.46H160.4V949.04H131.8zM131.8 1008.58H160.4V1017.74H131.8zM131.8 1054.38H160.4V1058.96H131.8zM131.8 1081.86H160.4V1086.44H131.8zM131.8 1136.82H160.4V1141.40H131.8zM131.8 1145.98H160.4V1150.56H131.8zM131.8 1178.04H160.4V1182.62H131.8zM160.4 857.44H189.0V866.60H160.4zM160.4 921.56H189.0V926.14H160.4zM160.4 962.78H189.0V967.36H160.4zM160.4 985.68H189.0V990.26H160.4zM160.4 1040.64H189.0V1049.80H160.4zM160.4 1127.66H189.0V1132.24H160.4zM189.0 770.42H217.6V775.00H189.0zM189.0 779.58H217.6V784.16H189.0zM189.0 788.74H217.6V793.32H189.0zM189.0 912.40H217.6V916.98H189.0zM189.0 962.78H217.6V967.36H189.0zM189.0 1017.74H217.6V1022.32H189.0zM189.0 1031.48H217.6V1040.64H189.0zM217.6 733.78H246.2V738.36H217.6zM217.6 807.06H246.2V811.64H217.6zM217.6 1063.54H246.2V1068.12H217.6zM217.6 1150.56H246.2V1155.14H217.6zM246.2 765.84H274.8V770.42H246.2zM246.2 802.48H274.8V807.06H246.2zM246.2 866.60H274.8V871.18H246.2zM246.2 875.76H274.8V884.92H246.2zM246.2 1109.34H274.8V1113.92H246.2zM246.2 1150.56H274.8V1155.14H246.2zM246.2 1159.72H274.8V1164.30H246.2zM246.2 1168.88H274.8V1173.46H246.2zM274.8 747.52H303.4V752.10H274.8zM274.8 935.30H303.4V944.46H274.8zM274.8 985.68H303.4V990.26H274.8zM274.8 1054.38H303.4V1058.96H274.8zM274.8 1095.60H303.4V1100.18H274.8zM303.4 747.52H332.0V752.10H303.4zM303.4 912.40H332.0V916.98H303.4zM303.4 990.26H332.0V994.84H303.4zM332.0 797.90H360.6V802.48H332.0zM332.0 990.26H360.6V994.84H332.0zM332.0 1036.06H360.6V1040.64H332.0zM332.0 1141.40H360.6V1145.98H332.0zM332.0 1164.30H360.6V1168.88H332.0zM360.6 733.78H389.2V738.36H360.6zM360.6 747.52H389.2V752.10H360.6zM360.6 761.26H389.2V765.84H360.6zM360.6 788.74H389.2V793.32H360.6zM360.6 912.40H389.2V916.98H360.6zM360.6 930.72H389.2V935.30H360.6zM360.6 939.88H389.2V953.62H360.6zM360.6 1100.18H389.2V1104.76H360.6zM389.2 733.78H417.8V738.36H389.2zM389.2 811.64H417.8V820.80H389.2zM389.2 839.12H417.8V843.70H389.2zM389.2 935.30H417.8V944.46H389.2zM389.2 994.84H417.8V1004.00H389.2zM389.2 1040.64H417.8V1045.22H389.2zM389.2 1086.44H417.8V1091.02H389.2zM389.2 1123.08H417.8V1127.66H389.2zM389.2 1132.24H417.8V1136.82H389.2zM389.2 1145.98H417.8V1150.56H389.2zM417.8 738.36H446.4V742.94H417.8zM417.8 820.80H446.4V825.38H417.8zM417.8 848.28H446.4V852.86H417.8zM417.8 889.50H446.4V894.08H417.8zM417.8 958.20H446.4V962.78H417.8zM417.8 1058.96H446.4V1063.54H417.8zM417.8 1150.56H446.4V1159.72H417.8zM446.4 738.36H475.0V742.94H446.4zM446.4 912.40H475.0V916.98H446.4zM446.4 985.68H475.0V990.26H446.4zM446.4 1127.66H475.0V1132.24H446.4zM446.4 1145.98H475.0V1155.14H446.4zM475.0 889.50H503.6V894.08H475.0zM475.0 990.26H503.6V999.42H475.0zM475.0 1155.14H503.6V1159.72H475.0zM503.6 871.18H532.2V875.76H503.6zM503.6 912.40H532.2V916.98H503.6zM503.6 990.26H532.2V994.84H503.6zM503.6 1017.74H532.2V1022.32H503.6zM503.6 1178.04H532.2V1182.62H503.6zM532.2 898.66H560.8V903.24H532.2zM532.2 1004.00H560.8V1008.58H532.2zM532.2 1040.64H560.8V1045.22H532.2zM532.2 1077.28H560.8V1081.86H532.2zM560.8 871.18H589.4V875.76H560.8zM560.8 880.34H589.4V884.92H560.8zM560.8 916.98H589.4V921.56H560.8zM560.8 930.72H589.4V935.30H560.8zM560.8 985.68H589.4V990.26H560.8zM560.8 1095.60H589.4V1100.18H560.8z"/>
<path fill="#0c080c" shape-rendering="crispEdges" d="M46.0 811.64H74.6V820.80H46.0zM46.0 889.50H74.6V898.66H46.0zM46.0 1049.80H74.6V1054.38H46.0zM46.0 1081.86H74.6V1086.44H46.0zM46.0 1145.98H74.6V1150.56H46.0zM46.0 1155.14H74.6V1164.30H46.0zM74.6 816.22H103.2V820.80H74.6zM74.6 1004.00H103.2V1008.58H74.6zM74.6 1058.96H103.2V1063.54H74.6zM74.6 1095.60H103.2V1100.18H74.6zM74.6 1145.98H103.2V1150.56H74.6zM74.6 1155.14H103.2V1164.30H74.6zM103.2 807.06H131.8V811.64H103.2zM103.2 829.96H131.8V834.54H103.2zM103.2 880.34H131.8V884.92H103.2zM103.2 976.52H131.8V981.10H103.2zM103.2 999.42H131.8V1004.00H103.2zM103.2 1040.64H131.8V1045.22H103.2zM103.2 1054.38H131.8V1058.96H103.2zM103.2 1072.70H131.8V1077.28H103.2zM103.2 1081.86H131.8V1086.44H103.2zM103.2 1127.66H131.8V1132.24H103.2zM103.2 1136.82H131.8V1150.56H103.2zM131.8 738.36H160.4V742.94H131.8zM131.8 747.52H160.4V752.10H131.8zM131.8 770.42H160.4V775.00H131.8zM131.8 866.60H160.4V875.76H131.8zM131.8 958.20H160.4V967.36H131.8zM131.8 981.10H160.4V985.68H131.8zM131.8 994.84H160.4V999.42H131.8zM131.8 1031.48H160.4V1036.06H131.8zM131.8 1063.54H160.4V1068.12H131.8zM131.8 1072.70H160.4V1081.86H131.8zM131.8 1100.18H160.4V1104.76H131.8zM131.8 1150.56H160.4V1155.14H131.8zM131.8 1182.62H160.4V1187.20H131.8zM160.4 765.84H189.0V775.00H160.4zM160.4 843.70H189.0V848.28H160.4zM160.4 875.76H189.0V880.34H160.4zM160.4 939.88H189.0V944.46H160.4zM160.4 999.42H189.0V1008.58H160.4zM160.4 1036.06H189.0V1040.64H160.4zM160.4 1058.96H189.0V1063.54H160.4zM160.4 1132.24H189.0V1141.40H160.4zM160.4 1155.14H189.0V1159.72H160.4zM160.4 1178.04H189.0V1182.62H160.4zM189.0 820.80H217.6V825.38H189.0zM189.0 829.96H217.6V834.54H189.0zM189.0 839.12H217.6V843.70H189.0zM189.0 894.08H217.6V898.66H189.0zM189.0 967.36H217.6V971.94H189.0zM189.0 985.68H217.6V990.26H189.0zM189.0 1058.96H217.6V1063.54H189.0zM217.6 747.52H246.2V752.10H217.6zM217.6 770.42H246.2V775.00H217.6zM217.6 811.64H246.2V820.80H217.6zM217.6 898.66H246.2V903.24H217.6zM217.6 916.98H246.2V921.56H217.6zM217.6 935.30H246.2V944.46H217.6zM217.6 958.20H246.2V962.78H217.6zM217.6 990.26H246.2V994.84H217.6zM217.6 1004.00H246.2V1008.58H217.6zM217.6 1049.80H246.2V1054.38H217.6zM217.6 1058.96H246.2V1063.54H217.6zM217.6 1145.98H246.2V1150.56H217.6zM217.6 1155.14H246.2V1164.30H217.6zM217.6 1182.62H246.2V1187.20H217.6zM246.2 729.20H274.8V733.78H246.2zM246.2 770.42H274.8V775.00H246.2zM246.2 871.18H274.8V875.76H246.2zM246.2 1072.70H274.8V1086.44H246.2zM246.2 1132.24H274.8V1136.82H246.2zM246.2 1155.14H274.8V1159.72H246.2zM274.8 761.26H303.4V770.42H274.8zM274.8 811.64H303.4V816.22H274.8zM274.8 820.80H303.4V825.38H274.8zM274.8 907.82H303.4V912.40H274.8zM274.8 994.84H303.4V1004.00H274.8zM274.8 1081.86H303.4V1086.44H274.8zM274.8 1118.50H303.4V1127.66H274.8zM274.8 1136.82H303.4V1145.98H274.8zM303.4 756.68H332.0V761.26H303.4zM303.4 1086.44H332.0V1100.18H303.4zM303.4 1123.08H332.0V1127.66H303.4zM332.0 770.42H360.6V784.16H332.0zM332.0 871.18H360.6V875.76H332.0zM332.0 912.40H360.6V916.98H332.0zM332.0 944.46H360.6V949.04H332.0zM332.0 985.68H360.6V990.26H332.0zM332.0 1004.00H360.6V1008.58H332.0zM332.0 1040.64H360.6V1045.22H332.0zM332.0 1077.28H360.6V1081.86H332.0zM360.6 738.36H389.2V742.94H360.6zM360.6 820.80H389.2V825.38H360.6zM360.6 857.44H389.2V862.02H360.6zM360.6 866.60H389.2V871.18H360.6zM360.6 916.98H389.2V921.56H360.6zM360.6 958.20H389.2V962.78H360.6zM360.6 1045.22H389.2V1049.80H360.6zM360.6 1095.60H389.2V1100.18H360.6zM360.6 1127.66H389.2V1132.24H360.6zM389.2 756.68H417.8V761.26H389.2zM389.2 820.80H417.8V825.38H389.2zM389.2 898.66H417.8V903.24H389.2zM389.2 926.14H417.8V930.72H389.2zM389.2 985.68H417.8V990.26H389.2zM389.2 1095.60H417.8V1100.18H389.2zM389.2 1127.66H417.8V1132.24H389.2zM417.8 765.84H446.4V770.42H417.8zM417.8 912.40H446.4V916.98H417.8zM417.8 985.68H446.4V990.26H417.8zM417.8 1118.50H446.4V1123.08H417.8zM417.8 1127.66H446.4V1132.24H417.8zM417.8 1173.46H446.4V1178.04H417.8zM446.4 733.78H475.0V738.36H446.4zM446.4 866.60H475.0V871.18H446.4zM446.4 1031.48H475.0V1036.06H446.4zM446.4 1118.50H475.0V1123.08H446.4zM475.0 770.42H503.6V775.00H475.0zM475.0 1150.56H503.6V1155.14H475.0zM475.0 1159.72H503.6V1164.30H475.0zM503.6 999.42H532.2V1004.00H503.6zM503.6 1008.58H532.2V1013.16H503.6zM532.2 926.14H560.8V930.72H532.2zM532.2 949.04H560.8V958.20H532.2zM560.8 733.78H589.4V738.36H560.8zM560.8 761.26H589.4V765.84H560.8zM560.8 903.24H589.4V907.82H560.8zM560.8 926.14H589.4V930.72H560.8zM560.8 1127.66H589.4V1132.24H560.8zM589.4 770.42H618.0V775.00H589.4zM589.4 788.74H618.0V793.32H589.4zM589.4 848.28H618.0V852.86H589.4zM589.4 949.04H618.0V953.62H589.4zM589.4 1008.58H618.0V1013.16H589.4z"/>
<path fill="#942ca6" shape-rendering="crispEdges" d="M46.0 820.80H74.6V825.38H46.0zM46.0 848.28H74.6V852.86H46.0zM46.0 857.44H74.6V862.02H46.0zM46.0 912.40H74.6V921.56H46.0zM46.0 930.72H74.6V949.04H46.0zM46.0 962.78H74.6V971.94H46.0zM46.0 981.10H74.6V985.68H46.0zM46.0 990.26H74.6V994.84H46.0zM46.0 1013.16H74.6V1017.74H46.0zM46.0 1031.48H74.6V1036.06H46.0zM46.0 1040.64H74.6V1045.22H46.0zM46.0 1058.96H74.6V1063.54H46.0zM46.0 1086.44H74.6V1091.02H46.0zM46.0 1095.60H74.6V1104.76H46.0zM46.0 1127.66H74.6V1132.24H46.0zM46.0 1173.46H74.6V1187.20H46.0zM74.6 788.74H103.2V793.32H74.6zM74.6 825.38H103.2V829.96H74.6zM74.6 912.40H103.2V916.98H74.6zM74.6 921.56H103.2V926.14H74.6zM74.6 930.72H103.2V935.30H74.6zM74.6 939.88H103.2V949.04H74.6zM74.6 1017.74H103.2V1022.32H74.6zM74.6 1054.38H103.2V1058.96H74.6zM74.6 1173.46H103.2V1187.20H74.6zM103.2 729.20H131.8V733.78H103.2zM103.2 747.52H131.8V752.10H103.2zM103.2 761.26H131.8V765.84H103.2zM103.2 903.24H131.8V912.40H103.2zM103.2 916.98H131.8V930.72H103.2zM103.2 949.04H131.8V958.20H103.2zM103.2 990.26H131.8V994.84H103.2zM103.2 1008.58H131.8V1017.74H103.2zM103.2 1091.02H131.8V1095.60H103.2zM103.2 1118.50H131.8V1127.66H103.2zM131.8 788.74H160.4V793.32H131.8zM131.8 820.80H160.4V825.38H131.8zM131.8 916.98H160.4V926.14H131.8zM131.8 930.72H160.4V935.30H131.8zM131.8 949.04H160.4V958.20H131.8zM131.8 1004.00H160.4V1008.58H131.8zM131.8 1017.74H160.4V1022.32H131.8zM131.8 1132.24H160.4V1136.82H131.8zM160.4 733.78H189.0V742.94H160.4zM160.4 797.90H189.0V811.64H160.4zM160.4 866.60H189.0V875.76H160.4zM160.4 926.14H189.0V930.72H160.4zM160.4 935.30H189.0V939.88H160.4zM189.0 747.52H217.6V756.68H189.0zM189.0 802.48H217.6V811.64H189.0zM189.0 871.18H217.6V875.76H189.0zM189.0 880.34H217.6V884.92H189.0zM189.0 889.50H217.6V894.08H189.0zM189.0 903.24H217.6V912.40H189.0zM189.0 916.98H217.6V926.14H189.0zM189.0 939.88H217.6V953.62H189.0zM189.0 1022.32H217.6V1026.90H189.0zM189.0 1049.80H217.6V1058.96H189.0zM189.0 1072.70H217.6V1100.18H189.0zM189.0 1118.50H217.6V1123.08H189.0zM189.0 1159.72H217.6V1164.30H189.0zM217.6 820.80H246.2V825.38H217.6zM217.6 930.72H246.2V935.30H217.6zM217.6 944.46H246.2V953.62H217.6zM217.6 1095.60H246.2V1100.18H217.6zM217.6 1136.82H246.2V1141.40H217.6zM246.2 788.74H274.8V793.32H246.2zM246.2 820.80H274.8V829.96H246.2zM246.2 839.12H274.8V843.70H246.2zM246.2 857.44H274.8V862.02H246.2zM246.2 912.40H274.8V921.56H246.2zM246.2 926.14H274.8V944.46H246.2zM246.2 1017.74H274.8V1022.32H246.2zM246.2 1058.96H274.8V1063.54H246.2zM246.2 1095.60H274.8V1100.18H246.2zM246.2 1127.66H274.8V1132.24H246.2zM246.2 1136.82H274.8V1141.40H246.2zM246.2 1182.62H274.8V1187.20H246.2zM274.8 756.68H303.4V761.26H274.8zM274.8 802.48H303.4V811.64H274.8zM274.8 816.22H303.4V820.80H274.8zM274.8 834.54H303.4V839.12H274.8zM274.8 875.76H303.4V884.92H274.8zM274.8 889.50H303.4V894.08H274.8zM274.8 1049.80H303.4V1054.38H274.8zM274.8 1058.96H303.4V1063.54H274.8zM303.4 752.10H332.0V756.68H303.4zM303.4 797.90H332.0V816.22H303.4zM303.4 884.92H332.0V894.08H303.4zM303.4 903.24H332.0V907.82H303.4zM303.4 962.78H332.0V967.36H303.4zM303.4 1013.16H332.0V1017.74H303.4zM303.4 1072.70H332.0V1081.86H303.4zM303.4 1173.46H332.0V1178.04H303.4zM332.0 880.34H360.6V884.92H332.0zM332.0 889.50H360.6V898.66H332.0zM332.0 907.82H360.6V912.40H332.0zM332.0 953.62H360.6V958.20H332.0zM332.0 1031.48H360.6V1036.06H332.0zM332.0 1058.96H360.6V1063.54H332.0zM332.0 1118.50H360.6V1123.08H332.0zM332.0 1145.98H360.6V1155.14H332.0zM332.0 1178.04H360.6V1182.62H332.0zM360.6 765.84H389.2V770.42H360.6zM360.6 807.06H389.2V811.64H360.6zM360.6 848.28H389.2V852.86H360.6zM360.6 871.18H389.2V880.34H360.6zM360.6 889.50H389.2V894.08H360.6zM360.6 898.66H389.2V903.24H360.6zM360.6 907.82H389.2V912.40H360.6zM360.6 1031.48H389.2V1036.06H360.6zM360.6 1054.38H389.2V1063.54H360.6zM360.6 1081.86H389.2V1086.44H360.6zM360.6 1132.24H389.2V1136.82H360.6zM360.6 1141.40H389.2V1150.56H360.6zM389.2 894.08H417.8V898.66H389.2zM389.2 907.82H417.8V912.40H389.2zM417.8 756.68H446.4V765.84H417.8zM417.8 788.74H446.4V793.32H417.8zM417.8 802.48H446.4V807.06H417.8zM417.8 875.76H446.4V884.92H417.8zM417.8 916.98H446.4V935.30H417.8zM417.8 939.88H446.4V949.04H417.8zM417.8 953.62H446.4V958.20H417.8zM417.8 1095.60H446.4V1100.18H417.8zM417.8 1113.92H446.4V1118.50H417.8zM417.8 1178.04H446.4V1182.62H417.8zM446.4 747.52H475.0V752.10H446.4zM446.4 788.74H475.0V793.32H446.4zM446.4 816.22H475.0V820.80H446.4zM446.4 848.28H475.0V852.86H446.4zM446.4 871.18H475.0V880.34H446.4zM446.4 884.92H475.0V889.50H446.4zM446.4 916.98H475.0V935.30H446.4zM446.4 944.46H475.0V953.62H446.4zM446.4 971.94H475.0V976.52H446.4zM475.0 729.20H503.6V733.78H475.0zM475.0 738.36H503.6V742.94H475.0zM475.0 788.74H503.6V793.32H475.0zM475.0 807.06H503.6V811.64H475.0zM475.0 816.22H503.6V825.38H475.0zM475.0 912.40H503.6V926.14H475.0zM475.0 930.72H503.6V935.30H475.0zM475.0 939.88H503.6V944.46H475.0zM475.0 949.04H503.6V958.20H475.0zM475.0 1058.96H503.6V1063.54H475.0zM475.0 1095.60H503.6V1100.18H475.0zM503.6 729.20H532.2V733.78H503.6zM503.6 738.36H532.2V742.94H503.6zM503.6 747.52H532.2V752.10H503.6zM503.6 761.26H532.2V765.84H503.6zM503.6 802.48H532.2V825.38H503.6zM503.6 848.28H532.2V852.86H503.6zM503.6 857.44H532.2V862.02H503.6zM503.6 880.34H532.2V884.92H503.6zM503.6 962.78H532.2V967.36H503.6zM503.6 971.94H532.2V976.52H503.6zM503.6 981.10H532.2V990.26H503.6zM503.6 1004.00H532.2V1008.58H503.6zM503.6 1058.96H532.2V1063.54H503.6zM532.2 756.68H560.8V761.26H532.2zM532.2 788.74H560.8V793.32H532.2zM532.2 802.48H560.8V825.38H532.2zM532.2 848.28H560.8V852.86H532.2zM532.2 866.60H560.8V871.18H532.2zM532.2 875.76H560.8V880.34H532.2zM532.2 889.50H560.8V894.08H532.2zM532.2 903.24H560.8V916.98H532.2zM532.2 958.20H560.8V962.78H532.2zM532.2 999.42H560.8V1004.00H532.2zM532.2 1141.40H560.8V1145.98H532.2zM532.2 1150.56H560.8V1155.14H532.2zM532.2 1173.46H560.8V1178.04H532.2zM560.8 747.52H589.4V752.10H560.8zM560.8 788.74H589.4V793.32H560.8zM560.8 829.96H589.4V839.12H560.8zM560.8 907.82H589.4V916.98H560.8zM560.8 935.30H589.4V944.46H560.8zM560.8 994.84H589.4V999.42H560.8zM560.8 1118.50H589.4V1123.08H560.8zM560.8 1182.62H589.4V1187.20H560.8zM589.4 729.20H618.0V738.36H589.4zM589.4 802.48H618.0V807.06H589.4zM589.4 816.22H618.0V825.38H589.4zM589.4 871.18H618.0V880.34H589.4zM589.4 884.92H618.0V907.82H589.4zM589.4 912.40H618.0V916.98H589.4zM589.4 926.14H618.0V949.04H589.4zM589.4 1013.16H618.0V1017.74H589.4zM589.4 1022.32H618.0V1026.90H589.4zM589.4 1054.38H618.0V1068.12H589.4zM589.4 1072.70H618.0V1077.28H589.4zM589.4 1086.44H618.0V1091.02H589.4zM589.4 1095.60H618.0V1100.18H589.4zM589.4 1150.56H618.0V1155.14H589.4z"/>
<path fill="#d840ee" shape-rendering="crispEdges" d="M46.0 985.68H74.6V990.26H46.0zM74.6 985.68H103.2V990.26H74.6zM103.2 756.68H131.8V761.26H103.2zM103.2 797.90H131.8V802.48H103.2zM103.2 811.64H131.8V816.22H103.2zM103.2 898.66H131.8V903.24H103.2zM103.2 994.84H131.8V999.42H103.2zM103.2 1132.24H131.8V1136.82H103.2zM189.0 756.68H217.6V761.26H189.0zM189.0 797.90H217.6V802.48H189.0zM189.0 1155.14H217.6V1159.72H189.0zM217.6 985.68H246.2V990.26H217.6zM246.2 985.68H274.8V990.26H246.2zM246.2 1123.08H274.8V1127.66H246.2zM274.8 770.42H303.4V775.00H274.8zM303.4 770.42H332.0V775.00H303.4zM303.4 981.10H332.0V985.68H303.4zM332.0 738.36H360.6V742.94H332.0zM332.0 765.84H360.6V770.42H332.0zM332.0 1123.08H360.6V1127.66H332.0zM389.2 1155.14H417.8V1164.30H389.2zM417.8 811.64H446.4V816.22H417.8zM417.8 990.26H446.4V994.84H417.8zM446.4 797.90H475.0V802.48H446.4zM446.4 981.10H475.0V985.68H446.4zM475.0 1017.74H503.6V1022.32H475.0zM503.6 770.42H532.2V775.00H503.6zM503.6 1013.16H532.2V1017.74H503.6zM503.6 1145.98H532.2V1150.56H503.6zM532.2 761.26H560.8V775.00H532.2zM532.2 1008.58H560.8V1017.74H532.2zM560.8 999.42H589.4V1004.00H560.8zM560.8 1008.58H589.4V1013.16H560.8zM589.4 765.84H618.0V770.42H589.4zM589.4 825.38H618.0V829.96H589.4zM589.4 981.10H618.0V985.68H589.4zM589.4 990.26H618.0V1004.00H589.4zM589.4 1123.08H618.0V1127.66H589.4zM589.4 1155.14H618.0V1164.30H589.4z"/>
<path fill="#8e9826" shape-rendering="crispEdges" d="M46.0 1113.92H74.6V1118.50H46.0zM74.6 742.94H103.2V747.52H74.6zM74.6 802.48H103.2V807.06H74.6zM74.6 889.50H103.2V898.66H74.6zM103.2 820.80H131.8V825.38H103.2zM103.2 839.12H131.8V848.28H103.2zM103.2 971.94H131.8V976.52H103.2zM103.2 1173.46H131.8V1178.04H103.2zM131.8 729.20H160.4V733.78H131.8zM131.8 742.94H160.4V747.52H131.8zM131.8 761.26H160.4V770.42H131.8zM131.8 797.90H160.4V802.48H131.8zM131.8 880.34H160.4V884.92H131.8zM131.8 1159.72H160.4V1168.88H131.8zM160.4 775.00H189.0V779.58H160.4zM160.4 784.16H189.0V788.74H160.4zM160.4 976.52H189.0V981.10H160.4zM160.4 1017.74H189.0V1022.32H160.4zM189.0 784.16H217.6V788.74H189.0zM189.0 793.32H217.6V797.90H189.0zM189.0 834.54H217.6V839.12H189.0zM189.0 971.94H217.6V976.52H189.0zM189.0 1026.90H217.6V1031.48H189.0zM217.6 756.68H246.2V761.26H217.6zM217.6 894.08H246.2V898.66H217.6zM217.6 903.24H246.2V907.82H217.6zM217.6 1081.86H246.2V1091.02H217.6zM246.2 889.50H274.8V894.08H246.2zM246.2 907.82H274.8V912.40H246.2zM303.4 921.56H332.0V930.72H303.4zM303.4 985.68H332.0V990.26H303.4zM303.4 1100.18H332.0V1104.76H303.4zM303.4 1178.04H332.0V1182.62H303.4zM332.0 784.16H360.6V793.32H332.0zM332.0 820.80H360.6V825.38H332.0zM332.0 829.96H360.6V834.54H332.0zM332.0 843.70H360.6V852.86H332.0zM360.6 926.14H389.2V930.72H360.6zM360.6 1013.16H389.2V1017.74H360.6zM360.6 1104.76H389.2V1109.34H360.6zM389.2 738.36H417.8V742.94H389.2zM389.2 834.54H417.8V839.12H389.2zM389.2 1063.54H417.8V1072.70H389.2zM389.2 1118.50H417.8V1123.08H389.2zM417.8 729.20H446.4V733.78H417.8zM417.8 807.06H446.4V811.64H417.8zM417.8 843.70H446.4V848.28H417.8zM417.8 862.02H446.4V866.60H417.8zM417.8 967.36H446.4V971.94H417.8zM417.8 1008.58H446.4V1013.16H417.8zM417.8 1168.88H446.4V1173.46H417.8zM446.4 729.20H475.0V733.78H446.4zM446.4 907.82H475.0V912.40H446.4zM446.4 1004.00H475.0V1008.58H446.4zM475.0 880.34H503.6V884.92H475.0zM475.0 894.08H503.6V898.66H475.0zM475.0 1141.40H503.6V1145.98H475.0zM503.6 916.98H532.2V921.56H503.6zM503.6 944.46H532.2V958.20H503.6zM503.6 1118.50H532.2V1123.08H503.6zM532.2 1017.74H560.8V1026.90H532.2zM532.2 1100.18H560.8V1104.76H532.2zM532.2 1113.92H560.8V1118.50H532.2zM560.8 802.48H589.4V811.64H560.8zM560.8 866.60H589.4V871.18H560.8zM560.8 898.66H589.4V903.24H560.8zM560.8 1013.16H589.4V1017.74H560.8zM560.8 1031.48H589.4V1036.06H560.8zM560.8 1054.38H589.4V1068.12H560.8zM560.8 1072.70H589.4V1081.86H560.8zM589.4 1031.48H618.0V1036.06H589.4z"/>
<path fill="#c4ce30" shape-rendering="crispEdges" d="M74.6 752.10H103.2V765.84H74.6zM74.6 903.24H103.2V907.82H74.6zM103.2 852.86H131.8V857.44H103.2zM131.8 802.48H160.4V820.80H131.8zM160.4 779.58H189.0V784.16H160.4zM160.4 793.32H189.0V797.90H160.4zM189.0 976.52H217.6V981.10H189.0zM217.6 866.60H246.2V884.92H217.6zM217.6 1072.70H246.2V1081.86H217.6zM217.6 1091.02H246.2V1095.60H217.6zM246.2 752.10H274.8V756.68H246.2zM246.2 761.26H274.8V765.84H246.2zM246.2 894.08H274.8V903.24H246.2zM274.8 1022.32H303.4V1026.90H274.8zM274.8 1045.22H303.4V1049.80H274.8zM332.0 742.94H360.6V747.52H332.0zM332.0 852.86H360.6V862.02H332.0zM360.6 935.30H389.2V939.88H360.6zM360.6 981.10H389.2V999.42H360.6zM389.2 747.52H417.8V752.10H389.2zM389.2 825.38H417.8V834.54H389.2zM389.2 1013.16H417.8V1017.74H389.2zM417.8 981.10H446.4V985.68H417.8zM446.4 894.08H475.0V898.66H446.4zM475.0 866.60H503.6V880.34H475.0zM475.0 884.92H503.6V889.50H475.0zM503.6 939.88H532.2V944.46H503.6zM503.6 1123.08H532.2V1141.40H503.6zM532.2 839.12H560.8V843.70H532.2zM532.2 1095.60H560.8V1100.18H532.2zM532.2 1104.76H560.8V1113.92H532.2zM560.8 797.90H589.4V802.48H560.8zM560.8 848.28H589.4V852.86H560.8zM560.8 889.50H589.4V894.08H560.8zM560.8 981.10H589.4V985.68H560.8zM560.8 1091.02H589.4V1095.60H560.8z"/>
<rect x="46.00" y="712.2" width="28.90" height="9.4" fill="#e8706e"/>
<rect x="74.60" y="712.2" width="28.90" height="9.4" fill="#e0843c"/>
<rect x="103.20" y="712.2" width="28.90" height="9.4" fill="#d4922c"/>
<rect x="131.80" y="712.2" width="28.90" height="9.4" fill="#c0a030"/>
<rect x="160.40" y="712.2" width="28.90" height="9.4" fill="#a8aa30"/>
<rect x="189.00" y="712.2" width="28.90" height="9.4" fill="#88b030"/>
<rect x="217.60" y="712.2" width="28.90" height="9.4" fill="#54be2a"/>
<rect x="246.20" y="712.2" width="28.90" height="9.4" fill="#40c85c"/>
<rect x="274.80" y="712.2" width="28.90" height="9.4" fill="#40c890"/>
<rect x="303.40" y="712.2" width="28.90" height="9.4" fill="#44ccb0"/>
<rect x="332.00" y="712.2" width="28.90" height="9.4" fill="#40c8c8"/>
<rect x="360.60" y="712.2" width="28.90" height="9.4" fill="#44c0e0"/>
<rect x="389.20" y="712.2" width="28.90" height="9.4" fill="#40b0f0"/>
<rect x="417.80" y="712.2" width="28.90" height="9.4" fill="#50a0f8"/>
<rect x="446.40" y="712.2" width="28.90" height="9.4" fill="#9090f8"/>
<rect x="475.00" y="712.2" width="28.90" height="9.4" fill="#c080f8"/>
<rect x="503.60" y="712.2" width="28.90" height="9.4" fill="#e070f0"/>
<rect x="532.20" y="712.2" width="28.90" height="9.4" fill="#f068e0"/>
<rect x="560.80" y="712.2" width="28.90" height="9.4" fill="#f068c0"/>
<rect x="589.40" y="712.2" width="28.90" height="9.4" fill="#f07098"/>
<defs><clipPath id="lc"><rect x="0" y="634" width="685" height="80"/></clipPath></defs><g clip-path="url(#lc)">
<text transform="translate(62.8 708.3) rotate(-45)" font-size="9.35" fill="#1a1a1a" stroke="#1a1a1a" stroke-width="0.15">Double negative T cell</text>
<text transform="translate(91.4 708.3) rotate(-45)" font-size="9.35" fill="#1a1a1a" stroke="#1a1a1a" stroke-width="0.15">CD8 T cell #1</text>
<text transform="translate(120.0 708.3) rotate(-45)" font-size="9.35" fill="#1a1a1a" stroke="#1a1a1a" stroke-width="0.15">Macophage foamy</text>
<text transform="translate(148.6 708.3) rotate(-45)" font-size="9.35" fill="#1a1a1a" stroke="#1a1a1a" stroke-width="0.15">NKT cell #1</text>
<text transform="translate(177.2 708.3) rotate(-45)" font-size="9.35" fill="#1a1a1a" stroke="#1a1a1a" stroke-width="0.15">Macrophage M2 #1</text>
<text transform="translate(205.8 708.3) rotate(-45)" font-size="9.35" fill="#1a1a1a" stroke="#1a1a1a" stroke-width="0.15">Macrophage M2 #2</text>
<text transform="translate(234.4 708.3) rotate(-45)" font-size="9.35" fill="#1a1a1a" stroke="#1a1a1a" stroke-width="0.15">NKT cell #2</text>
<text transform="translate(263.0 708.3) rotate(-45)" font-size="9.35" fill="#1a1a1a" stroke="#1a1a1a" stroke-width="0.15">CD8 T cell #2</text>
<text transform="translate(291.6 708.3) rotate(-45)" font-size="9.35" fill="#1a1a1a" stroke="#1a1a1a" stroke-width="0.15">Endothelial cell #1</text>
<text transform="translate(320.2 708.3) rotate(-45)" font-size="9.35" fill="#1a1a1a" stroke="#1a1a1a" stroke-width="0.15">Endothelial cell #2</text>
<text transform="translate(348.8 708.3) rotate(-45)" font-size="9.35" fill="#1a1a1a" stroke="#1a1a1a" stroke-width="0.15">Macrophage M2 #3</text>
<text transform="translate(377.4 708.3) rotate(-45)" font-size="9.35" fill="#1a1a1a" stroke="#1a1a1a" stroke-width="0.15">Endothelial cell #3</text>
<text transform="translate(406.0 708.3) rotate(-45)" font-size="9.35" fill="#1a1a1a" stroke="#1a1a1a" stroke-width="0.15">Endothelial cell #4</text>
<text transform="translate(434.6 708.3) rotate(-45)" font-size="9.35" fill="#1a1a1a" stroke="#1a1a1a" stroke-width="0.15">Conventional dendritic cell</text>
<text transform="translate(463.2 708.3) rotate(-45)" font-size="9.35" fill="#1a1a1a" stroke="#1a1a1a" stroke-width="0.15">B cell</text>
<text transform="translate(491.8 708.3) rotate(-45)" font-size="9.35" fill="#1a1a1a" stroke="#1a1a1a" stroke-width="0.15">NK cell</text>
<text transform="translate(520.4 708.3) rotate(-45)" font-size="9.35" fill="#1a1a1a" stroke="#1a1a1a" stroke-width="0.15">Myofibroblast</text>
<text transform="translate(549.0 708.3) rotate(-45)" font-size="9.35" fill="#1a1a1a" stroke="#1a1a1a" stroke-width="0.15">Smooth muscle cell</text>
<text transform="translate(577.6 708.3) rotate(-45)" font-size="9.35" fill="#1a1a1a" stroke="#1a1a1a" stroke-width="0.15">CD4 T cell</text>
<text transform="translate(606.2 708.3) rotate(-45)" font-size="9.35" fill="#1a1a1a" stroke="#1a1a1a" stroke-width="0.15">Dendritic cell</text>
</g>
<g font-size="5.2" fill="#666" text-anchor="end"><text x="40.2" y="733.29">CCR7</text><text x="40.2" y="737.87">TSHZ2</text><text x="40.2" y="742.45">RPS12</text><text x="40.2" y="747.03">MAL</text><text x="40.2" y="751.61">CMTM8</text><text x="40.2" y="756.19">CD8B</text><text x="40.2" y="760.77">EVL</text><text x="40.2" y="765.35">SLF1</text><text x="40.2" y="769.93">OSBPL3</text><text x="40.2" y="774.51">SH3KBP1</text><text x="40.2" y="779.09">LIPA</text><text x="40.2" y="783.67">LGMN</text><text x="40.2" y="788.25">GPNMB</text><text x="40.2" y="792.83">ABCA1</text><text x="40.2" y="797.41">LILRB5</text><text x="40.2" y="801.99">IL32</text><text x="40.2" y="806.57">SLAMF1</text><text x="40.2" y="811.15">CTLA4</text><text x="40.2" y="815.73">RNF19A</text><text x="40.2" y="820.31">CORO1B</text><text x="40.2" y="824.89">RB1</text><text x="40.2" y="829.47">SMS</text><text x="40.2" y="834.05">HTATIP2</text><text x="40.2" y="838.63">CREBL2</text><text x="40.2" y="843.21">ATOX1</text><text x="40.2" y="847.79">FCN1</text><text x="40.2" y="852.37">CLEC12A</text><text x="40.2" y="856.95">CD300E</text><text x="40.2" y="861.53">SLC43A2</text><text x="40.2" y="866.11">RNASE2</text><text x="40.2" y="870.69">KLRD1</text><text x="40.2" y="875.27">GNLY</text><text x="40.2" y="879.85">IL2RB</text><text x="40.2" y="884.43">XCL1</text><text x="40.2" y="889.01">KRT86</text><text x="40.2" y="893.59">GZMK</text><text x="40.2" y="898.17">CRTAM</text><text x="40.2" y="902.75">PPP1R14B</text><text x="40.2" y="907.33">CLDND1</text><text x="40.2" y="911.91">POLR2L</text><text x="40.2" y="916.49">INSR</text><text x="40.2" y="921.07">PXDN</text><text x="40.2" y="925.65">LAMA4</text><text x="40.2" y="930.23">MCAM</text><text x="40.2" y="934.81">NID1</text><text x="40.2" y="939.39">PROCR</text><text x="40.2" y="943.97">OMD</text><text x="40.2" y="948.55">OGN</text><text x="40.2" y="953.13">PDE3A</text><text x="40.2" y="957.71">CRTAC1</text><text x="40.2" y="962.29">OGFRL1</text><text x="40.2" y="966.87">VASP</text><text x="40.2" y="971.45">BID</text><text x="40.2" y="976.03">RNF149</text><text x="40.2" y="980.61">SIRPB1</text><text x="40.2" y="985.19">TMSB4X</text><text x="40.2" y="989.77">LMO2</text><text x="40.2" y="994.35">JADE1</text><text x="40.2" y="998.93">ADD3</text><text x="40.2" y="1003.51">ZYG11B</text><text x="40.2" y="1008.09">ZFAS1</text><text x="40.2" y="1012.67">MEX3D</text><text x="40.2" y="1017.25">SEC11C</text><text x="40.2" y="1021.83">ANXA5</text><text x="40.2" y="1026.41">SELENOW</text><text x="40.2" y="1030.99">CD1C</text><text x="40.2" y="1035.57">FCER1A</text><text x="40.2" y="1040.15">CD1E</text><text x="40.2" y="1044.73">SNX3</text><text x="40.2" y="1049.31">CLEC9A</text><text x="40.2" y="1053.89">MS4A1</text><text x="40.2" y="1058.47">IGHM</text><text x="40.2" y="1063.05">BANK1</text><text x="40.2" y="1067.63">CD79B</text><text x="40.2" y="1072.21">BLK</text><text x="40.2" y="1076.79">PRF1</text><text x="40.2" y="1081.37">FGFBP2</text><text x="40.2" y="1085.95">SPON2</text><text x="40.2" y="1090.53">CLIC3</text><text x="40.2" y="1095.11">SH2D1B</text><text x="40.2" y="1099.69">PLAC9</text><text x="40.2" y="1104.27">LHFPL6</text><text x="40.2" y="1108.85">MFAP4</text><text x="40.2" y="1113.43">ASPN</text><text x="40.2" y="1118.01">ADH1B</text><text x="40.2" y="1122.59">MAP6</text><text x="40.2" y="1127.17">TPM2</text><text x="40.2" y="1131.75">TPM1</text><text x="40.2" y="1136.33">NDUFA4L2</text><text x="40.2" y="1140.91">ANXA2</text><text x="40.2" y="1145.49">HMGB2</text><text x="40.2" y="1150.07">HIST1H4C</text><text x="40.2" y="1154.65">HIST1H1D</text><text x="40.2" y="1159.23">HIST1H2AG</text><text x="40.2" y="1163.81">HIST1H2AL</text><text x="40.2" y="1168.39">MS4A2</text><text x="40.2" y="1172.97">TPSB2</text><text x="40.2" y="1177.55">HPGDS</text><text x="40.2" y="1182.13">LTC4S</text><text x="40.2" y="1186.71">VWA5A</text></g>
<defs><linearGradient id="cb" x1="0" y1="0" x2="0" y2="1">
<stop offset="0" stop-color="#f2ff30"/><stop offset="0.11" stop-color="#e4ee30"/>
<stop offset="0.31" stop-color="#7a7e18"/><stop offset="0.51" stop-color="#000000"/>
<stop offset="0.71" stop-color="#6a1a7c"/><stop offset="0.91" stop-color="#e040f0"/><stop offset="1" stop-color="#ff44ff"/>
</linearGradient></defs>
<rect x="639" y="965.2" width="14.8" height="72.3" fill="url(#cb)"/>
<line x1="639" x2="642" y1="973.4" y2="973.4" stroke="#fff" stroke-opacity=".5" stroke-width=".6"/>
<line x1="650.8" x2="653.8" y1="973.4" y2="973.4" stroke="#fff" stroke-opacity=".5" stroke-width=".6"/>
<text x="657.5" y="976.0" font-size="7.2" fill="#333">2</text>
<line x1="639" x2="642" y1="987.8" y2="987.8" stroke="#fff" stroke-opacity=".5" stroke-width=".6"/>
<line x1="650.8" x2="653.8" y1="987.8" y2="987.8" stroke="#fff" stroke-opacity=".5" stroke-width=".6"/>
<text x="657.5" y="990.4" font-size="7.2" fill="#333">1</text>
<line x1="639" x2="642" y1="1002.4" y2="1002.4" stroke="#fff" stroke-opacity=".5" stroke-width=".6"/>
<line x1="650.8" x2="653.8" y1="1002.4" y2="1002.4" stroke="#fff" stroke-opacity=".5" stroke-width=".6"/>
<text x="657.5" y="1005.0" font-size="7.2" fill="#333">0</text>
<line x1="639" x2="642" y1="1017.2" y2="1017.2" stroke="#fff" stroke-opacity=".5" stroke-width=".6"/>
<line x1="650.8" x2="653.8" y1="1017.2" y2="1017.2" stroke="#fff" stroke-opacity=".5" stroke-width=".6"/>
<text x="657.5" y="1019.8" font-size="7.2" fill="#333">-1</text>
<line x1="639" x2="642" y1="1031.8" y2="1031.8" stroke="#fff" stroke-opacity=".5" stroke-width=".6"/>
<line x1="650.8" x2="653.8" y1="1031.8" y2="1031.8" stroke="#fff" stroke-opacity=".5" stroke-width=".6"/>
<text x="657.5" y="1034.4" font-size="7.2" fill="#333">-2</text>
<text x="638.9" y="960" font-size="9.6" fill="#3a3a3a" stroke="#3a3a3a" stroke-width="0.2">Expression</text>
<path stroke="#d4922c" stroke-width="1.3" stroke-linecap="round" fill="none" opacity="0.88" d="M146.2 363.6h0M161.1 357.7h0M155.8 379.7h0M134.0 390.4h0M133.1 384.9h0M150.8 414.5h0M137.0 369.0h0M160.0 423.6h0M145.5 413.7h0M139.6 396.0h0M156.4 356.9h0M145.7 396.3h0M152.1 374.8h0M142.5 395.5h0M155.3 418.1h0M164.7 373.9h0M150.5 409.2h0M138.3 389.0h0M169.7 423.3h0M149.0 402.5h0M132.4 387.0h0M139.1 361.0h0M137.3 370.8h0M149.2 417.8h0M135.1 386.0h0M156.5 418.7h0M144.1 383.5h0M147.8 418.8h0M139.4 369.7h0M142.0 388.7h0M158.3 372.0h0M148.2 394.8h0M162.2 356.3h0M149.3 382.2h0M136.1 400.0h0M140.9 364.4h0M146.9 356.2h0M136.0 379.6h0M159.4 363.4h0M142.9 378.4h0M170.1 427.0h0M152.6 388.6h0M147.0 372.1h0M169.2 364.4h0M156.2 354.2h0M143.3 379.8h0M139.0 410.3h0M155.7 410.9h0M146.4 369.0h0M168.4 426.4h0M141.7 391.2h0M147.6 354.4h0M143.2 404.3h0M141.5 369.3h0M140.4 367.6h0M159.9 420.0h0M135.3 401.9h0M139.5 411.6h0M146.6 412.5h0M164.5 365.0h0M147.4 393.5h0M155.4 422.5h0M151.2 417.8h0M169.1 368.1h0M142.9 374.3h0M142.4 396.4h0M143.2 383.8h0M147.5 386.7h0M158.0 420.3h0M150.6 421.3h0M155.3 353.6h0M151.5 366.0h0M139.3 387.9h0M146.3 391.2h0M136.2 394.4h0M142.7 373.1h0M152.0 392.4h0M163.3 418.2h0M156.9 423.2h0M169.7 362.5h0M136.9 385.5h0M134.7 402.6h0M167.1 419.7h0M138.4 406.1h0M161.5 363.0h0M149.6 388.9h0M138.8 384.7h0M154.9 377.7h0M140.3 376.2h0M167.3 425.4h0M136.2 372.2h0M143.7 362.0h0M150.7 420.8h0M168.7 371.7h0M152.1 377.7h0M156.6 422.0h0M143.6 361.9h0M155.4 370.2h0M145.6 375.2h0M154.2 365.6h0M147.2 353.6h0M140.0 387.9h0M154.0 415.0h0M149.3 390.4h0M162.8 426.2h0M147.0 414.9h0M149.9 378.4h0M143.1 364.5h0M144.3 370.4h0M144.8 386.8h0M138.6 385.8h0M145.5 379.1h0M153.0 390.1h0M140.6 390.2h0M135.5 382.3h0M145.3 369.7h0M164.0 418.4h0M149.2 376.8h0M137.8 391.6h0M154.4 415.1h0M158.0 419.4h0M137.5 379.4h0M161.5 357.2h0M165.0 371.2h0M134.8 372.2h0M164.7 367.7h0M165.1 425.7h0M153.9 381.0h0M160.7 358.0h0M138.1 371.3h0M162.2 374.1h0M172.2 367.2h0M132.2 386.8h0M168.8 425.1h0M151.9 372.4h0M141.0 396.0h0M137.9 391.7h0M153.6 354.1h0M152.0 374.9h0M137.8 378.1h0M145.8 415.5h0M148.4 381.8h0M147.8 384.4h0M143.9 355.8h0M142.8 372.2h0M154.7 366.5h0M160.2 421.0h0M144.5 355.9h0M152.9 378.1h0M145.0 407.8h0M161.3 374.9h0M156.8 381.9h0M139.0 364.4h0M154.1 368.8h0M140.2 359.0h0M147.0 359.1h0M142.3 371.7h0M157.4 419.0h0M150.3 391.7h0M148.6 377.7h0M170.7 368.5h0M143.8 370.9h0M149.6 385.8h0M160.8 375.1h0M137.2 371.2h0M149.1 369.0h0M145.1 386.9h0M142.1 370.8h0M150.6 371.6h0M161.8 421.9h0M146.8 383.9h0M162.5 367.1h0M154.4 367.7h0M168.8 369.6h0M141.5 409.5h0M154.0 366.3h0M141.6 383.6h0M161.7 423.6h0M138.1 381.8h0M134.1 381.8h0M148.4 377.2h0M144.2 378.7h0M175.4 367.8h0M147.7 414.1h0M133.6 387.9h0M140.2 379.6h0M150.1 413.3h0M165.5 419.9h0M146.9 372.7h0M143.4 406.2h0M145.8 373.0h0M142.1 388.0h0M149.0 371.1h0M151.0 389.4h0M173.7 366.0h0M159.1 376.9h0M146.0 379.4h0M140.4 408.9h0M142.7 357.1h0M132.9 393.8h0M143.5 358.5h0M135.8 389.7h0M142.1 383.6h0M161.7 361.3h0M157.2 380.3h0M165.1 367.2h0M142.7 370.7h0M157.8 376.8h0M154.5 369.6h0M153.0 413.9h0M136.8 366.5h0M143.3 410.8h0M141.3 380.0h0M137.8 367.6h0M143.0 397.3h0M161.1 367.5h0M162.3 366.1h0M145.6 367.5h0M149.4 393.6h0M160.5 359.1h0M138.9 404.6h0M150.1 373.5h0M145.6 394.9h0M147.7 383.6h0M170.8 427.2h0M148.0 367.0h0M164.6 367.5h0M150.7 414.0h0M149.9 418.7h0M152.4 364.4h0M132.1 393.7h0M160.6 420.7h0M135.5 399.1h0M148.3 390.2h0M138.1 373.5h0M155.2 421.9h0M136.4 389.1h0M168.1 425.0h0M140.4 361.7h0M153.4 356.2h0M169.0 364.3h0M167.2 368.9h0M149.8 415.9h0M169.2 366.0h0M141.3 382.3h0M155.0 381.1h0M137.0 370.8h0M164.5 419.8h0M133.3 394.5h0M160.0 375.3h0M150.6 396.1h0M150.8 401.8h0M151.8 385.2h0M153.7 369.9h0M152.3 365.7h0M137.3 384.6h0M135.6 385.5h0M154.7 355.3h0M160.4 358.4h0M154.7 356.3h0M154.4 380.7h0M170.5 427.2h0M173.2 364.6h0M167.4 422.3h0M134.4 378.6h0M165.9 364.2h0M168.6 363.0h0M154.3 421.5h0M140.9 372.0h0M154.5 376.2h0M162.4 419.6h0M136.6 392.2h0M157.8 418.7h0M167.8 372.1h0M147.8 409.8h0M151.6 365.5h0M168.8 371.3h0M154.8 419.6h0M137.4 369.3h0M136.3 379.1h0M141.6 396.1h0M158.3 367.6h0M142.5 363.4h0M135.8 400.3h0M149.7 372.1h0M157.0 378.6h0M133.4 392.2h0M149.9 370.1h0M132.0 393.7h0M140.5 398.0h0M168.5 365.4h0M145.5 374.8h0M141.7 360.1h0M146.7 408.6h0M163.9 372.2h0M143.5 400.5h0M175.4 368.5h0M143.3 370.0h0M165.3 423.3h0M161.7 425.9h0M152.8 415.4h0M163.2 416.8h0M151.3 406.8h0M157.4 375.4h0M141.1 399.1h0M147.1 362.9h0M134.4 396.7h0M148.0 413.8h0M136.3 367.7h0M160.3 414.3h0M160.2 373.8h0M165.9 367.6h0M146.0 384.1h0M144.3 406.1h0M148.2 376.4h0M132.8 383.3h0M151.3 410.4h0M147.2 405.3h0M155.9 368.5h0M168.8 365.0h0M166.2 425.8h0M131.6 389.2h0M153.8 412.2h0M139.8 389.4h0M147.2 414.8h0M144.3 368.4h0M136.4 400.1h0M160.0 379.0h0M149.7 381.9h0M140.8 372.0h0M148.7 418.8h0M142.1 386.9h0M147.3 376.8h0M139.1 385.2h0M137.1 387.0h0M171.8 370.1h0M140.1 374.9h0M138.4 363.9h0M142.7 376.8h0M155.2 364.3h0M146.4 366.5h0M136.0 381.1h0M140.3 400.2h0M136.3 367.7h0M149.1 354.8h0M149.6 411.8h0M137.9 397.7h0M149.9 408.0h0M150.6 369.4h0M164.3 418.5h0M145.7 399.5h0M135.9 383.8h0M160.1 371.0h0M150.7 386.5h0M162.2 422.2h0M139.7 401.5h0M133.1 393.1h0M136.0 395.5h0M141.0 403.7h0M149.3 409.6h0M147.6 356.5h0M143.9 382.3h0M132.0 383.7h0M150.6 404.8h0M147.5 372.2h0M141.6 408.0h0M141.4 412.6h0M149.3 368.2h0M147.5 400.3h0M152.7 374.4h0M148.6 371.3h0M150.8 366.2h0M144.2 370.6h0M145.2 388.3h0M150.9 400.2h0M161.3 371.0h0M142.1 410.7h0M147.2 363.7h0M161.9 419.5h0M140.4 404.4h0M151.4 418.7h0M156.7 372.1h0M142.1 362.7h0M153.9 356.6h0M156.0 417.2h0M161.7 415.5h0M148.5 383.7h0M162.5 422.3h0M146.8 417.1h0M148.1 387.9h0M141.0 385.0h0M150.7 393.9h0M154.4 372.7h0M146.5 376.1h0M145.0 396.4h0M162.5 368.2h0M166.2 359.8h0M166.7 421.0h0M157.0 371.6h0M145.2 384.0h0M145.9 384.6h0M160.7 422.5h0M133.9 394.9h0M158.4 422.8h0M160.8 368.2h0M164.2 370.4h0M164.9 366.3h0M163.9 416.6h0M164.7 358.5h0M152.4 422.4h0M145.6 407.1h0M153.6 356.7h0M148.2 395.5h0M151.4 403.2h0M148.0 400.8h0M149.0 411.4h0M157.2 374.2h0M146.5 397.8h0M158.8 375.4h0M150.9 419.1h0M148.6 403.8h0M158.8 419.7h0M150.7 396.4h0M157.5 372.8h0M162.6 421.0h0M147.2 358.6h0M156.6 412.2h0M140.5 408.7h0M173.9 369.8h0M152.6 367.8h0M143.0 408.8h0M166.6 369.7h0M157.8 419.7h0M140.0 366.7h0M139.6 405.0h0M147.9 394.7h0M149.8 391.1h0M136.2 399.8h0M167.3 364.0h0M158.6 378.2h0M155.1 353.7h0M157.3 371.9h0M168.7 424.7h0M143.0 355.1h0M140.6 365.8h0M156.8 417.8h0M143.1 394.7h0M160.6 424.2h0M143.1 378.7h0M165.8 422.9h0M162.3 374.7h0M136.2 376.6h0M143.1 361.5h0M142.3 363.0h0M164.1 366.9h0M137.8 385.9h0M152.0 377.8h0M160.0 363.0h0M143.5 383.2h0M138.5 372.6h0M139.1 389.2h0M161.9 368.1h0M153.2 373.8h0M143.2 367.4h0M135.8 374.0h0M164.5 374.3h0M139.9 385.0h0M173.0 368.6h0M157.5 362.6h0M139.6 410.2h0M163.8 367.0h0M143.9 367.7h0M153.9 353.4h0M148.1 364.5h0M148.3 397.0h0M131.6 391.3h0M151.7 391.0h0M136.9 406.0h0M146.0 405.8h0M148.8 408.8h0M155.9 353.8h0M175.5 369.0h0M139.7 359.9h0M142.8 413.7h0M163.3 366.9h0M163.4 359.9h0M144.2 361.4h0M158.4 417.0h0M138.1 395.3h0M165.4 364.6h0M169.1 422.8h0M149.1 383.9h0M142.4 377.4h0M168.1 420.9h0M133.8 391.2h0M142.8 384.0h0M155.6 357.4h0M151.1 390.2h0M160.7 372.2h0M162.3 372.8h0M156.1 421.8h0M159.7 371.1h0M145.3 401.0h0M136.9 396.9h0M143.6 387.3h0M144.8 382.8h0M144.5 370.5h0M135.4 393.3h0M140.6 405.7h0M145.6 370.4h0M141.5 390.8h0M148.9 396.3h0M170.7 370.2h0M144.9 410.3h0M134.2 381.4h0M151.5 407.6h0M136.4 369.2h0M138.4 377.6h0M147.5 403.1h0M159.5 416.2h0M152.0 386.7h0M164.4 374.3h0M149.2 394.0h0M148.9 376.4h0M154.2 385.6h0M139.8 375.1h0M138.0 395.5h0M157.9 358.8h0M175.1 367.6h0M150.8 420.8h0M147.7 397.0h0M135.9 380.4h0M149.7 394.5h0M157.6 418.5h0M155.6 413.6h0M139.2 376.2h0M168.8 426.8h0M138.5 374.0h0M140.0 365.9h0M160.4 355.4h0M150.2 411.5h0M145.4 404.2h0M161.9 367.0h0M143.5 400.9h0M166.0 360.2h0M155.2 414.2h0M139.1 372.3h0M158.0 378.5h0M151.9 381.2h0M158.0 424.5h0M142.8 355.5h0M158.9 424.5h0M142.5 381.6h0M164.2 368.9h0M153.5 411.9h0M142.5 365.3h0M147.7 366.2h0M157.0 360.9h0M155.7 381.2h0M149.8 357.1h0M147.4 370.6h0M140.1 373.6h0M138.5 405.4h0M135.6 372.5h0M169.5 361.8h0M151.6 415.2h0M168.1 364.2h0M147.5 406.6h0M154.4 369.3h0M152.0 362.1h0M163.6 371.8h0M148.2 370.7h0M159.1 368.2h0M143.7 410.3h0M148.9 401.7h0M157.3 375.6h0M149.2 358.7h0M146.0 402.1h0M136.4 394.5h0M147.9 389.9h0M144.9 357.2h0M145.6 369.2h0M137.2 406.2h0M144.3 382.6h0M137.4 373.0h0M150.2 401.8h0M163.3 370.9h0M160.1 365.9h0M138.8 367.1h0M145.2 380.9h0M160.5 365.7h0M164.1 371.4h0M151.2 403.7h0M144.5 355.4h0M165.6 358.7h0M144.2 359.0h0M150.9 390.7h0M143.3 393.3h0M156.2 371.0h0M134.1 379.1h0M150.2 367.4h0M145.6 362.5h0M142.2 370.4h0M137.9 394.6h0M146.6 413.6h0M139.1 402.4h0M136.6 374.0h0M147.8 367.7h0M140.4 405.0h0M146.2 387.5h0M148.0 364.9h0M136.4 389.0h0M151.2 366.5h0M160.0 422.6h0M161.2 371.1h0M142.6 362.6h0M139.9 400.2h0M170.0 422.0h0M146.3 366.1h0M148.2 393.7h0M148.2 414.8h0M138.6 374.8h0M157.9 358.2h0M162.8 364.5h0M151.4 366.6h0M144.3 402.0h0M154.9 383.9h0M146.8 385.2h0M172.6 364.6h0M144.9 385.6h0M157.1 378.4h0M140.3 358.6h0M146.2 386.9h0M170.9 425.6h0M144.9 395.2h0M160.9 374.7h0M147.1 418.8h0M135.3 401.9h0M148.4 395.9h0M150.4 392.1h0M157.2 382.0h0M136.6 365.8h0M143.0 359.4h0M155.6 371.1h0M141.7 395.3h0M136.6 390.8h0M158.2 358.2h0M150.0 357.7h0M151.4 417.2h0M165.9 360.8h0M149.3 365.1h0M166.7 362.5h0M142.2 380.2h0M141.1 374.8h0M139.1 408.3h0M147.0 409.7h0M137.0 380.3h0M165.0 423.6h0M158.9 359.7h0M156.4 412.7h0M162.2 371.4h0M140.2 385.8h0M139.8 393.9h0M144.6 403.9h0M147.0 363.6h0M154.3 417.9h0M134.9 377.0h0M158.3 355.5h0M139.1 379.4h0M149.1 378.8h0M146.6 353.7h0M162.0 372.7h0M143.9 389.9h0M143.4 395.0h0M155.5 424.3h0M147.9 373.4h0M145.3 409.7h0M160.4 378.6h0M156.5 382.8h0M134.2 377.6h0M153.4 379.9h0M142.5 369.9h0M147.3 362.4h0M152.1 385.7h0M157.3 375.0h0M145.1 375.4h0M147.7 410.5h0M150.9 417.6h0M134.5 388.7h0M138.9 372.4h0M163.5 368.6h0M149.6 367.3h0M158.9 417.3h0M161.0 367.0h0M164.9 424.7h0M158.8 358.2h0M147.0 362.5h0M140.0 392.6h0M173.5 368.2h0M146.3 408.6h0M134.0 383.4h0M133.5 399.4h0M146.7 389.4h0M158.7 371.6h0M152.5 353.2h0M146.4 359.2h0M138.5 362.9h0M166.4 359.0h0M158.8 377.1h0M165.2 371.6h0M166.6 425.8h0M152.1 373.2h0M155.3 423.1h0M165.9 359.0h0M134.1 390.0h0M156.7 365.9h0M138.2 365.6h0M165.0 421.6h0M166.9 370.5h0M160.4 378.1h0M134.4 400.8h0M149.7 417.3h0M134.1 394.7h0M141.6 371.2h0M143.4 384.9h0M142.0 367.5h0M141.3 395.1h0M144.3 377.2h0M153.5 419.3h0M138.8 403.6h0M157.8 418.7h0M147.8 410.9h0M170.8 365.9h0M170.8 427.1h0M138.3 407.6h0M162.5 359.0h0M164.1 418.6h0M142.1 411.8h0M154.4 369.6h0M136.9 388.9h0M137.6 384.5h0M139.6 403.8h0M138.1 407.8h0M147.5 389.6h0M143.8 365.5h0M143.5 357.4h0M133.4 390.5h0M150.0 394.1h0M162.9 426.2h0M149.6 376.2h0M149.1 381.2h0M159.1 421.9h0M143.0 398.2h0M148.6 370.3h0M140.4 360.9h0M142.1 399.6h0M162.3 376.5h0M141.6 398.3h0M141.5 362.9h0M168.5 370.2h0M148.8 414.9h0M168.7 361.5h0M138.4 371.1h0M136.1 379.1h0M153.2 412.3h0M166.0 363.5h0M155.1 370.1h0M148.3 377.8h0M148.8 353.5h0M140.6 395.2h0M164.1 372.9h0M146.2 370.4h0M160.4 416.9h0M140.6 384.1h0M148.3 355.5h0M151.6 379.8h0M163.9 374.4h0M150.0 401.0h0M149.0 395.8h0M173.6 366.6h0M148.4 402.3h0M146.4 357.5h0M152.5 387.0h0M153.0 419.2h0M151.5 389.2h0M154.7 414.3h0M149.7 355.3h0M136.8 368.8h0M150.5 396.2h0M171.2 363.2h0M146.6 391.2h0M143.9 372.0h0M145.7 371.4h0M154.7 383.8h0M155.9 380.3h0M152.6 389.0h0M158.0 379.7h0M167.9 367.3h0M133.7 375.9h0M155.7 383.0h0M157.2 376.6h0M143.9 412.1h0M144.7 405.7h0M151.7 418.3h0M134.0 384.9h0M160.6 355.9h0M158.6 365.8h0M144.8 368.1h0M169.6 363.2h0M173.3 367.8h0M167.2 423.8h0M150.3 401.8h0M162.7 363.9h0M144.8 369.7h0M157.9 376.2h0M157.0 363.8h0M169.8 363.6h0M167.9 426.0h0M149.3 354.7h0M148.7 400.5h0M141.6 393.3h0M135.7 387.2h0M162.4 360.8h0M169.2 361.4h0M144.7 378.4h0M153.5 417.3h0M170.0 369.3h0M158.7 425.0h0M161.3 356.0h0M146.6 386.1h0M142.7 408.1h0M139.6 411.5h0M145.0 357.4h0M156.9 359.4h0M156.6 411.5h0M132.9 390.9h0M135.8 400.9h0M137.4 395.7h0M147.5 380.4h0M161.6 364.5h0M146.5 415.6h0M136.8 387.4h0M138.9 392.5h0M154.5 379.8h0M140.4 382.6h0M140.7 361.8h0M154.3 419.3h0M153.7 411.8h0M141.9 408.7h0M138.4 372.1h0M132.8 381.8h0M155.0 374.2h0M157.8 369.8h0M142.6 397.3h0M150.0 358.8h0M142.6 407.5h0M162.4 363.6h0M147.1 362.8h0M140.4 368.7h0M153.3 389.6h0M166.9 420.6h0M140.5 399.3h0M147.3 364.4h0M165.4 362.4h0M169.2 422.8h0M142.9 415.3h0M142.0 367.1h0M152.3 370.0h0M153.9 420.6h0M149.3 411.2h0M149.9 358.8h0M161.2 415.2h0M146.9 397.0h0M131.6 389.0h0M146.7 368.3h0M147.5 415.8h0M159.6 374.2h0M135.4 372.6h0M136.9 403.6h0M139.8 372.6h0M159.2 419.5h0M149.4 389.8h0M169.3 364.4h0M152.1 413.1h0M142.8 378.7h0M136.0 393.8h0M134.9 399.2h0M147.9 402.0h0M151.8 408.8h0M146.2 362.5h0M138.0 396.4h0M157.7 355.7h0M149.3 408.5h0M160.7 373.3h0M144.1 364.4h0M157.6 414.4h0M137.8 391.1h0M171.4 364.4h0M165.1 365.1h0M145.6 356.2h0M145.0 381.0h0M139.9 375.5h0M174.4 367.1h0M146.0 385.2h0M136.3 371.8h0M149.4 381.2h0M151.9 415.2h0M145.8 363.7h0M165.7 372.9h0M155.5 373.9h0M160.1 371.8h0M143.5 370.5h0M134.6 393.5h0M150.2 413.0h0M136.5 375.3h0M160.8 425.0h0M147.0 381.8h0M161.9 420.1h0M137.5 377.7h0M134.4 383.3h0M154.3 416.4h0M149.8 395.4h0M143.9 415.8h0M138.3 402.8h0M161.0 418.4h0M137.4 405.2h0M143.9 357.3h0M158.9 414.3h0M143.9 368.2h0M141.6 359.3h0M162.2 425.6h0M163.3 357.6h0M137.7 372.9h0M134.1 385.8h0M156.7 413.0h0M136.4 369.1h0M160.1 377.8h0M146.5 395.0h0M141.3 411.9h0M132.7 390.2h0M150.7 356.9h0M153.2 362.3h0M147.0 366.5h0M149.8 373.5h0M140.3 407.6h0M140.4 405.2h0M140.4 372.2h0M143.4 379.0h0M138.9 399.8h0M153.1 414.1h0M140.9 371.2h0M163.8 423.4h0M141.2 396.3h0M152.5 355.5h0M134.6 376.5h0M159.9 418.9h0M140.8 370.5h0M136.1 396.7h0M137.2 367.3h0M151.4 357.3h0M152.9 382.3h0M142.3 401.1h0M158.7 356.9h0M141.8 381.7h0M141.4 402.8h0M165.9 360.0h0M138.8 390.8h0M156.7 414.0h0M156.3 374.1h0M149.5 352.8h0M161.0 367.8h0M147.5 359.3h0M148.2 375.0h0M166.2 363.3h0M150.0 398.2h0M161.0 421.2h0M162.4 416.2h0M151.0 418.3h0M151.5 405.4h0M142.9 374.8h0M147.3 376.6h0M135.7 385.5h0M169.6 427.1h0M165.7 372.8h0M142.8 383.3h0M146.4 410.2h0M166.7 419.2h0M145.7 399.4h0M148.1 392.7h0M156.0 422.8h0M150.0 421.0h0M162.9 425.0h0M164.0 426.7h0M139.4 385.2h0M142.7 371.6h0M140.9 371.7h0M145.3 357.0h0M136.5 389.4h0M143.9 410.1h0M139.5 359.7h0M145.2 383.0h0M164.6 359.3h0M169.2 369.2h0M162.0 373.1h0M172.7 364.1h0M161.6 365.8h0M141.6 357.1h0M148.0 406.6h0M142.9 379.8h0M142.7 412.1h0M144.4 380.9h0M166.3 369.1h0M140.2 368.7h0M148.9 379.7h0M161.7 415.2h0M153.3 365.3h0M141.9 385.4h0M147.9 387.5h0M171.1 424.7h0M142.3 365.0h0M170.8 368.2h0M135.2 372.2h0M164.7 357.8h0M152.1 376.1h0M140.8 402.1h0M132.5 387.6h0M142.1 389.8h0M172.6 365.9h0M141.7 397.2h0M140.1 408.6h0M158.0 422.9h0M149.7 403.3h0M142.0 388.1h0M154.7 423.6h0M159.7 368.5h0M169.4 367.4h0M146.1 382.8h0M147.0 402.6h0M132.4 380.4h0M143.2 386.4h0M137.7 370.3h0M138.2 362.5h0M142.1 364.8h0M150.0 419.1h0M161.6 417.0h0M144.6 374.0h0M150.6 392.1h0M136.7 370.6h0M167.9 419.9h0M157.4 365.9h0M163.0 371.5h0M142.2 379.8h0M131.8 388.0h0M160.9 365.8h0M142.0 384.6h0M175.1 367.8h0M172.4 369.7h0M137.2 369.0h0M141.2 372.2h0M149.9 383.9h0M134.9 396.1h0M147.6 405.2h0M151.3 365.4h0M153.4 353.5h0M162.2 364.3h0M163.5 425.0h0M140.4 409.9h0M145.1 371.5h0M158.2 367.1h0M132.1 392.5h0M164.5 372.7h0M139.3 404.6h0M143.5 405.7h0M146.7 391.5h0M146.0 383.6h0M153.2 371.7h0M143.4 411.8h0M153.8 366.4h0M164.1 369.5h0M135.7 396.3h0M140.1 405.5h0M141.9 359.2h0M137.7 366.7h0M158.0 360.3h0M160.3 370.3h0M143.2 384.1h0M141.5 374.1h0M159.4 420.1h0M140.7 375.6h0M161.6 371.8h0M138.6 369.2h0M164.1 424.4h0M145.8 406.5h0M133.9 398.1h0M152.5 367.1h0M136.9 390.4h0M155.2 379.5h0M166.8 360.2h0M134.6 381.3h0M153.4 371.2h0M161.9 368.9h0M145.9 388.1h0M148.3 385.8h0M159.6 360.1h0M144.1 355.0h0M137.3 387.3h0M159.6 374.8h0M135.3 381.9h0M166.4 362.4h0M138.9 392.2h0M169.4 364.9h0M139.3 409.8h0M150.8 377.7h0M137.0 370.5h0M143.2 408.0h0M158.9 373.9h0M164.9 362.0h0M146.9 370.9h0M143.0 387.5h0M139.3 408.3h0M147.0 366.3h0M150.5 414.1h0M159.1 419.9h0M143.5 379.7h0M148.5 378.8h0M150.1 400.1h0M168.1 426.8h0M168.5 371.3h0M169.7 362.3h0M156.0 377.5h0M146.9 411.2h0M141.2 377.8h0M142.8 359.8h0M146.3 354.2h0M167.7 369.3h0M165.2 367.1h0M152.5 382.5h0M168.0 424.0h0M145.5 399.8h0M157.5 360.2h0M158.2 414.6h0M150.4 418.5h0M161.7 367.9h0M147.9 379.6h0M133.0 396.7h0M151.1 406.2h0M155.3 414.0h0M141.5 408.3h0M168.0 368.7h0M151.2 380.9h0M163.8 422.2h0M140.6 374.9h0M146.4 407.3h0M139.9 393.4h0M167.7 366.0h0M154.3 419.9h0M154.7 422.4h0M156.9 363.0h0M150.7 397.5h0M143.2 373.0h0M150.6 390.8h0M142.2 371.4h0M155.0 365.4h0M158.9 420.3h0M140.6 396.3h0M143.8 415.3h0M137.9 386.8h0M146.7 409.9h0M142.6 367.2h0M138.8 383.1h0M159.6 375.0h0M138.8 368.7h0M145.8 390.2h0M139.8 388.3h0M152.9 367.1h0M158.4 363.1h0M163.4 425.0h0M149.8 378.9h0M150.8 378.7h0M147.6 399.6h0M151.1 374.7h0M164.9 423.7h0M138.0 379.7h0M156.5 382.5h0M139.7 360.9h0M153.3 389.5h0M148.0 419.6h0M147.4 392.3h0M153.1 377.2h0M149.1 398.1h0M167.2 371.8h0M148.3 381.4h0M156.0 373.0h0M146.6 414.1h0M138.7 404.2h0M138.1 369.4h0M156.5 421.6h0M151.2 366.7h0M149.0 359.2h0M139.7 398.1h0M162.1 425.2h0M151.2 381.6h0M143.0 369.7h0M163.6 365.4h0M139.6 363.7h0M147.4 407.7h0M134.1 392.1h0M151.4 411.8h0M146.8 382.0h0M137.9 365.4h0M148.9 404.2h0M150.3 402.6h0M159.5 376.0h0M148.6 372.5h0M145.9 409.2h0M143.4 398.2h0M153.7 372.9h0M138.2 409.5h0M157.5 420.5h0M166.8 359.9h0M144.0 360.8h0M164.5 371.5h0M135.8 389.4h0M164.3 368.4h0M161.2 373.1h0M150.9 395.3h0M152.2 417.2h0M165.6 363.1h0M162.4 356.2h0M165.2 362.1h0M142.8 413.6h0M132.9 388.2h0M152.6 387.5h0M139.8 362.5h0M168.6 361.2h0M139.9 389.9h0M146.7 364.5h0M167.2 371.0h0M173.0 368.9h0M165.4 369.7h0M152.5 414.2h0M138.7 403.7h0M156.7 382.7h0M139.0 362.5h0M152.8 389.3h0M143.6 379.9h0M158.3 364.4h0M137.8 396.0h0M156.4 375.8h0M137.1 373.6h0M147.8 397.7h0M156.6 367.7h0M162.6 422.0h0M133.6 384.3h0M150.4 420.2h0M158.3 414.3h0M154.9 376.6h0M163.2 357.3h0M169.3 426.1h0M143.7 363.3h0M148.0 402.0h0M161.2 364.3h0M143.0 362.9h0M138.6 363.4h0M138.7 390.1h0M150.2 393.1h0M150.7 370.0h0M165.9 370.4h0M169.0 370.4h0M135.6 388.2h0M149.1 377.5h0M166.3 368.9h0M152.0 390.1h0M135.1 377.2h0M135.5 401.1h0M150.7 375.4h0M154.8 422.7h0M142.5 363.8h0M145.3 376.6h0M138.5 399.3h0M134.1 390.4h0M146.7 359.9h0M154.7 364.9h0M161.6 359.1h0M141.6 382.2h0M140.4 358.8h0M146.7 372.2h0M162.0 369.0h0M149.7 404.0h0M151.0 363.9h0M134.6 393.1h0M136.0 390.0h0M153.7 366.8h0M167.9 360.7h0M146.1 356.2h0M147.3 404.6h0M148.1 405.8h0M151.4 352.5h0M164.1 360.9h0M148.8 402.8h0M147.5 418.1h0M140.4 391.3h0M153.4 377.6h0M148.4 390.6h0M158.2 369.0h0M144.1 390.1h0M154.4 383.7h0M161.7 366.2h0M155.7 373.0h0M154.7 380.5h0M144.6 382.5h0M141.1 386.2h0M147.7 375.3h0M147.8 409.0h0M164.8 367.8h0M142.1 411.3h0M143.8 356.8h0M147.8 354.6h0M162.0 425.0h0M168.1 369.5h0M146.8 360.4h0M153.6 380.0h0M143.7 388.9h0M163.9 419.6h0M151.4 383.9h0M139.8 364.1h0M150.9 366.7h0M151.4 382.1h0M158.5 371.4h0M132.3 381.6h0M148.7 353.0h0M148.4 409.5h0M146.6 403.4h0M159.9 366.4h0M159.3 374.3h0M172.9 369.8h0M146.1 354.9h0M146.2 400.7h0M137.0 368.2h0M145.6 383.6h0M142.5 396.4h0M148.6 355.1h0M143.7 410.6h0M133.9 380.8h0M141.8 399.3h0M156.4 381.4h0M143.3 408.9h0M135.5 387.0h0M148.2 384.8h0M154.6 374.0h0M148.4 417.0h0M147.7 377.5h0M144.3 358.6h0M136.6 401.6h0M155.7 376.9h0M146.4 415.8h0M146.8 383.6h0M151.8 382.8h0M142.0 411.7h0M152.3 414.8h0M148.5 407.4h0M152.9 367.1h0M139.3 400.8h0M163.0 371.7h0M160.8 362.5h0M159.4 365.1h0M154.6 375.8h0M137.5 375.4h0M157.5 368.9h0M151.6 414.7h0M148.0 386.0h0M161.2 360.2h0M159.3 354.7h0M164.6 372.3h0M170.0 365.5h0M151.5 414.7h0M170.7 367.5h0M159.9 361.3h0M138.7 374.2h0M164.8 369.3h0M170.7 363.0h0M144.2 408.3h0M169.3 370.9h0M141.6 368.6h0M165.4 418.2h0M147.7 368.0h0M147.2 407.3h0M154.5 411.5h0M140.4 406.6h0M147.5 413.4h0M135.7 373.0h0M148.6 395.8h0M141.3 385.1h0M143.0 414.8h0M159.9 361.6h0M151.3 402.9h0M136.0 383.2h0M139.7 395.7h0M140.1 388.0h0M154.4 415.2h0M155.9 368.6h0M164.5 369.4h0M148.3 388.3h0M134.4 400.6h0M162.9 363.8h0M142.7 358.5h0M142.9 358.7h0M153.7 371.1h0M145.1 387.0h0M148.3 411.6h0M164.4 360.8h0M146.4 360.3h0M149.3 375.7h0M154.8 385.4h0M151.3 410.1h0M139.5 382.8h0M142.6 394.2h0M148.2 418.5h0M137.4 374.8h0M140.7 400.6h0M132.4 385.5h0M146.2 397.2h0M146.8 361.9h0M162.0 373.8h0M156.3 413.1h0M136.7 407.3h0M148.2 365.7h0M149.4 389.9h0M155.2 374.8h0M151.3 369.4h0M160.9 414.9h0M149.3 409.1h0M144.1 360.4h0M133.3 386.0h0M171.3 367.5h0M151.5 409.6h0M144.0 363.7h0M155.1 384.2h0M142.3 394.4h0M150.4 354.7h0M151.7 421.1h0M145.2 396.3h0M145.2 406.1h0M137.2 387.8h0M141.5 358.3h0M142.9 370.3h0M165.2 359.5h0M158.7 417.2h0M164.3 373.1h0M154.1 366.3h0M151.3 373.4h0M158.1 374.7h0M143.9 400.6h0M154.0 369.4h0M136.6 390.5h0M148.4 383.2h0M143.1 413.5h0M159.3 367.6h0M139.4 371.7h0M159.5 366.8h0M135.8 401.9h0M136.2 388.0h0M150.8 380.4h0M169.7 370.3h0M145.6 379.9h0M139.2 363.9h0M157.3 368.2h0M146.7 359.9h0M138.5 406.2h0M146.4 416.1h0M145.2 372.3h0M149.4 353.1h0M151.3 380.8h0M175.2 369.4h0M135.9 405.6h0M142.6 373.8h0M156.5 413.4h0M138.4 392.8h0M143.5 382.3h0M140.1 405.5h0M157.2 376.8h0M136.1 377.3h0M163.6 422.3h0M151.7 387.0h0M136.4 398.9h0M168.3 370.9h0M162.6 419.4h0M153.9 377.4h0M151.7 411.9h0M160.2 365.3h0M134.9 386.3h0M132.2 388.4h0M150.3 416.2h0M142.2 375.2h0M153.8 381.9h0M146.1 397.9h0M150.7 415.2h0M163.2 424.9h0M148.9 371.9h0M159.7 357.1h0M156.1 380.5h0M153.8 382.7h0M136.7 397.3h0M171.1 426.5h0M142.7 395.6h0M148.7 374.5h0M146.5 393.1h0M164.5 425.1h0M163.5 423.5h0M142.3 380.9h0M141.7 405.3h0M169.9 371.5h0M175.3 370.2h0M177.7 369.1h0M169.1 366.3h0M173.1 365.2h0M168.6 370.3h0M175.1 365.1h0M176.7 370.9h0M169.2 370.9h0M172.0 371.3h0M170.2 371.9h0M175.0 364.8h0M168.7 370.0h0M170.1 366.2h0M176.8 370.4h0M176.8 368.8h0M175.5 365.1h0M170.8 366.6h0M169.2 370.7h0M168.2 366.9h0M169.2 371.8h0M174.6 368.3h0M170.7 372.3h0M173.5 371.8h0M168.8 366.3h0M166.5 368.5h0M171.5 372.9h0M172.2 367.4h0M170.6 365.1h0M174.5 370.7h0M178.8 369.9h0M169.6 368.6h0M169.3 368.0h0M172.0 372.2h0M172.2 372.7h0M167.1 372.3h0M174.6 371.9h0M165.4 371.6h0M177.3 367.4h0M176.3 368.2h0M171.2 365.8h0M177.0 370.6h0M168.3 367.4h0M171.2 369.2h0M174.5 367.3h0M172.8 369.2h0M171.7 372.8h0M171.2 367.2h0M171.3 365.5h0M179.1 369.3h0M173.1 367.8h0"/>
<path stroke="#a8aa30" stroke-width="1.3" stroke-linecap="round" fill="none" opacity="0.88" d="M160.5 385.0h0M169.8 390.9h0M158.9 373.1h0M157.0 386.4h0M180.7 411.0h0M160.0 406.0h0M167.8 395.0h0M171.3 372.6h0M153.5 400.9h0M177.2 387.9h0M162.5 373.7h0M172.0 400.3h0M159.5 372.7h0M169.5 372.2h0M179.0 399.0h0M161.6 390.9h0M159.9 379.1h0M157.9 407.6h0M168.2 403.1h0M164.2 407.2h0M173.6 400.3h0M165.9 396.1h0M176.5 394.8h0M175.3 375.2h0M163.7 381.1h0M167.9 410.0h0M180.7 403.3h0M162.5 381.2h0M177.8 384.2h0M178.5 386.6h0M179.9 396.7h0M165.4 415.4h0M152.1 395.4h0M165.8 405.6h0M163.0 380.1h0M180.8 395.6h0M179.7 392.9h0M159.3 392.1h0M176.3 405.3h0M175.2 390.8h0M178.8 401.0h0M173.7 403.7h0M158.5 384.8h0M164.0 375.0h0M164.2 403.7h0M172.9 378.5h0M178.8 376.0h0M179.5 377.4h0M154.7 382.1h0M161.8 404.7h0M177.4 396.1h0M160.7 413.7h0M163.5 385.2h0M158.5 390.2h0M182.8 384.7h0M161.3 380.3h0M155.4 387.3h0M155.5 378.8h0M171.0 405.8h0M178.5 386.3h0M172.3 392.2h0M163.5 376.8h0M184.7 398.3h0M177.6 381.5h0M171.4 408.5h0M164.3 393.3h0M176.3 379.4h0M174.8 390.0h0M161.4 376.0h0M156.7 394.6h0M157.6 406.7h0M154.7 398.9h0M159.3 405.4h0M168.9 412.9h0M163.8 388.7h0M183.3 405.8h0M179.5 397.9h0M154.9 406.2h0M178.5 385.1h0M177.0 389.3h0M186.5 388.1h0M181.5 392.1h0M181.9 384.3h0M169.6 374.3h0M183.7 401.4h0M167.2 414.8h0M154.1 402.6h0M178.6 398.1h0M167.7 397.7h0M182.0 383.2h0M161.3 372.6h0M179.1 380.2h0M176.3 397.1h0M156.0 389.4h0M166.9 373.3h0M177.4 393.0h0M169.7 377.3h0M170.5 407.0h0M156.0 410.4h0M167.0 382.8h0M160.1 391.5h0M175.6 396.5h0M184.8 393.9h0M170.5 415.5h0M159.2 371.5h0M163.5 384.9h0M155.7 389.6h0M169.4 410.5h0M177.5 403.8h0M179.8 384.4h0M178.7 380.0h0M172.1 397.7h0M180.5 378.3h0M164.1 408.0h0M155.5 380.2h0M155.1 403.5h0M179.3 400.1h0M180.6 394.1h0M172.4 412.4h0M175.6 400.4h0M173.4 393.1h0M179.8 396.6h0M155.9 390.0h0M167.0 390.3h0M165.9 390.0h0M165.1 414.7h0M178.4 388.6h0M168.1 397.5h0M164.9 381.5h0M182.8 381.6h0M160.7 402.3h0M181.3 392.0h0M165.7 381.3h0M181.3 409.8h0M178.2 391.5h0M156.5 373.4h0M181.7 400.9h0M169.0 411.1h0M186.4 398.6h0M154.8 397.4h0M167.0 382.0h0M186.3 403.8h0M155.6 381.1h0M164.0 396.7h0M163.3 390.6h0M181.9 378.9h0M178.4 385.7h0M163.4 398.2h0M155.2 389.3h0M174.7 399.6h0M164.0 372.2h0M155.7 396.1h0M157.5 384.6h0M174.5 411.5h0M170.6 382.2h0M180.7 377.8h0M161.0 390.6h0M158.3 376.7h0M159.1 385.8h0M166.0 405.1h0M166.3 392.2h0M166.1 405.8h0M185.3 390.0h0M176.9 388.0h0M161.3 376.8h0M184.6 387.0h0M177.5 391.6h0M171.0 380.1h0M157.7 385.9h0M176.9 395.3h0M167.5 373.8h0M160.9 380.3h0M182.3 395.6h0M163.4 382.0h0M162.1 383.4h0M164.2 406.5h0M181.0 402.3h0M184.6 400.3h0M157.2 382.4h0M171.1 407.9h0M173.3 390.2h0M179.6 386.2h0M160.7 409.1h0M155.5 400.3h0M164.5 411.0h0M162.3 375.3h0M158.6 407.2h0M188.2 399.8h0M176.9 383.5h0M161.4 374.6h0M174.3 386.6h0M158.1 390.5h0M157.3 399.2h0M176.0 393.8h0M157.8 410.3h0M155.2 378.6h0M169.1 395.8h0M178.6 411.2h0M168.8 372.6h0M163.1 377.2h0M173.9 406.1h0M155.9 384.0h0M183.3 401.9h0M155.1 401.8h0M181.2 389.2h0M156.9 400.6h0M163.1 376.8h0M157.3 388.9h0M155.8 388.1h0M172.0 395.7h0M166.3 406.9h0M154.3 385.6h0M186.0 405.4h0M171.4 406.4h0M172.8 376.0h0M160.7 375.1h0M184.3 385.3h0M166.5 395.1h0M154.8 402.7h0M181.2 406.8h0M184.5 385.1h0M156.5 405.2h0M177.3 387.5h0M164.0 377.7h0M182.6 391.6h0M181.9 386.1h0M163.2 394.0h0M179.3 410.7h0M164.4 402.1h0M166.3 409.7h0M179.9 395.9h0M164.8 383.1h0M184.6 407.0h0M162.6 374.5h0M171.1 395.8h0M171.5 389.3h0M172.2 374.8h0M156.3 401.2h0M175.4 407.2h0M177.3 412.9h0M160.0 406.0h0M156.8 394.8h0M180.3 377.8h0M171.0 411.5h0M179.4 388.7h0M169.2 383.3h0M176.9 384.5h0M178.8 392.8h0M181.3 387.2h0M184.5 401.7h0M168.1 396.2h0M181.6 394.7h0M185.1 403.0h0M169.6 409.2h0M156.7 386.0h0M178.1 408.0h0M165.2 415.7h0M172.7 385.3h0M160.9 391.0h0M182.9 396.0h0M173.9 386.4h0M178.6 408.1h0M164.1 376.4h0M167.1 415.4h0M159.4 380.7h0M153.1 394.6h0M162.4 401.2h0M172.3 397.8h0M162.4 404.0h0M177.2 403.1h0M168.9 391.7h0M161.9 372.5h0M168.7 398.6h0M158.1 409.7h0M182.0 392.8h0M157.7 383.0h0M164.4 386.5h0M173.7 375.8h0M183.1 386.0h0M185.5 385.6h0M162.6 378.7h0M187.7 397.4h0M171.6 403.9h0M154.9 387.6h0M161.0 396.1h0M164.7 396.9h0M184.3 382.3h0M166.8 413.5h0M160.7 387.3h0M173.1 381.4h0M177.9 400.3h0M153.7 402.3h0M164.2 377.2h0M181.4 391.5h0M186.2 394.8h0M161.4 394.2h0M176.5 408.9h0M166.5 396.0h0M183.3 379.7h0M171.4 396.7h0M167.7 379.1h0M166.6 397.5h0M154.5 403.0h0M156.0 382.3h0M181.7 409.7h0M151.7 390.2h0M160.0 397.3h0M153.9 402.2h0M155.1 380.8h0M167.7 415.4h0M163.3 385.0h0M169.1 378.1h0M166.3 402.4h0M163.3 406.8h0M158.0 375.3h0M174.8 391.2h0M179.4 401.0h0M165.1 376.5h0M174.3 405.0h0M169.0 392.1h0M177.1 398.3h0M167.1 379.1h0M168.6 395.6h0M172.2 385.6h0M179.1 381.9h0M165.9 413.2h0M167.6 400.2h0M183.9 379.9h0M164.1 415.3h0M153.5 384.6h0M169.1 404.4h0M175.0 412.8h0M167.4 371.9h0M171.0 399.4h0M158.7 409.5h0M166.7 414.2h0M164.6 398.8h0M160.5 385.2h0M184.5 393.4h0M174.2 407.3h0M155.1 406.0h0M165.8 394.4h0M167.0 390.6h0M185.9 404.0h0M177.6 377.1h0M176.6 399.3h0M162.9 382.8h0M186.0 394.8h0M164.3 373.8h0M166.9 375.8h0M178.6 407.4h0M181.0 406.6h0M154.5 408.9h0M182.5 394.1h0M159.9 409.5h0M155.6 385.4h0M166.8 405.6h0M181.5 397.0h0M154.1 404.7h0M159.6 385.4h0M164.0 415.5h0M153.3 390.4h0M169.9 402.5h0M170.8 405.5h0M163.8 389.4h0M179.3 402.5h0M184.7 384.7h0M183.2 404.1h0M172.5 374.2h0M154.7 384.8h0M178.2 403.8h0M174.4 380.0h0M178.4 408.1h0M174.5 381.0h0M172.5 388.6h0M161.2 377.4h0M183.9 399.3h0M153.2 384.4h0M171.5 392.5h0M185.6 396.9h0M175.2 397.2h0M180.8 387.3h0M155.3 380.8h0M176.0 376.6h0M151.8 393.1h0M165.5 380.0h0M160.3 385.4h0M166.8 387.0h0M163.3 371.6h0M182.8 404.1h0M159.9 411.5h0M168.4 380.0h0M155.6 393.4h0M172.3 376.0h0M163.1 398.7h0M176.6 399.2h0M174.6 387.8h0M180.2 378.5h0M164.2 379.8h0M183.7 407.8h0M182.6 388.0h0M172.8 401.2h0M159.9 388.0h0M154.8 406.8h0M158.0 376.9h0M161.6 399.7h0M175.2 394.5h0M183.4 404.8h0M157.4 381.7h0M156.6 374.2h0M164.3 410.9h0M175.9 374.7h0M159.3 397.5h0M154.6 396.3h0M173.8 374.3h0M180.4 381.6h0M173.4 394.7h0M163.9 413.6h0M166.0 389.9h0M171.5 408.7h0M171.5 403.2h0M159.2 396.5h0M167.7 381.2h0M180.7 380.7h0M178.0 392.9h0M167.2 402.7h0M161.0 401.0h0M169.8 413.3h0M168.0 386.9h0M152.0 392.0h0M155.0 392.6h0M167.9 386.5h0M170.0 394.7h0M165.8 376.7h0M151.7 396.0h0M164.4 385.2h0M179.2 393.0h0M156.0 380.0h0M165.0 388.8h0M165.6 414.4h0M167.7 396.8h0M187.6 399.8h0M173.6 408.2h0M163.7 372.3h0M187.4 394.9h0M173.1 373.7h0M179.3 387.6h0M175.4 383.5h0M185.9 387.4h0M161.5 411.2h0M159.5 383.0h0M169.5 415.1h0M155.4 380.2h0M166.7 406.2h0M178.1 406.6h0M164.6 407.6h0M168.9 411.1h0M169.2 382.4h0M156.7 393.2h0M184.2 396.7h0M169.3 391.9h0M155.1 382.6h0M186.0 403.5h0M170.3 398.3h0M173.6 373.0h0M160.1 376.9h0M170.5 397.1h0M168.5 392.0h0M156.4 403.2h0M171.4 384.7h0M153.6 388.3h0M168.1 382.3h0M179.3 411.7h0M168.1 375.4h0M168.3 394.1h0M180.9 379.1h0M161.6 415.3h0M151.4 398.4h0M154.6 404.7h0M167.1 412.6h0M159.5 410.4h0M159.6 372.9h0M165.8 414.7h0M164.5 403.2h0M152.3 394.1h0M171.5 375.1h0M173.0 390.9h0M163.4 408.3h0M177.3 376.2h0M181.1 405.2h0M169.0 415.8h0M173.8 376.1h0M159.2 376.6h0M174.2 399.0h0M161.0 382.7h0M172.4 398.3h0M151.2 398.2h0M174.3 405.6h0M170.7 375.9h0M159.5 400.3h0M160.5 406.8h0M171.8 386.9h0M187.6 397.0h0M160.1 396.3h0M183.5 387.4h0M167.5 396.9h0M188.5 399.6h0M157.9 397.1h0M163.2 392.1h0M170.3 384.9h0M173.8 407.9h0M168.8 399.2h0M162.0 382.3h0M170.4 394.8h0M159.5 405.4h0M170.0 386.8h0M160.6 408.6h0M160.4 373.9h0M183.5 401.5h0M163.8 390.7h0M177.0 378.0h0M164.9 406.3h0M176.9 397.2h0M154.9 380.5h0M160.7 372.1h0M175.3 396.6h0M186.1 395.8h0M185.9 391.9h0M170.7 383.4h0M168.6 413.1h0M164.4 379.7h0M174.7 393.8h0M169.1 412.7h0M152.2 402.4h0M173.7 400.3h0M170.0 372.3h0M168.2 408.5h0M171.7 378.2h0M177.9 412.6h0M183.9 399.9h0M168.6 407.4h0M164.0 377.2h0M183.9 402.6h0M172.2 413.9h0M174.5 410.4h0M155.0 396.8h0M157.9 385.7h0M156.7 391.7h0M152.8 400.4h0M175.6 411.7h0M184.0 395.3h0M186.6 393.0h0M154.1 402.6h0M171.5 411.6h0M176.2 402.9h0M168.5 383.2h0M167.0 403.1h0M159.7 377.9h0M169.4 400.5h0M153.5 383.0h0M180.3 384.5h0M154.3 392.7h0M184.0 405.9h0M152.8 402.6h0M174.6 392.5h0M176.3 394.3h0M158.0 402.2h0M155.9 384.7h0M183.4 396.4h0M170.4 402.9h0M169.7 388.1h0M164.4 372.5h0M175.8 377.9h0M183.5 383.5h0M181.6 400.2h0M174.0 404.3h0M161.2 408.5h0M171.6 405.0h0M182.9 382.2h0M166.6 387.1h0M177.1 392.9h0M171.7 410.6h0M153.7 386.9h0M177.1 394.9h0M159.5 401.1h0M164.0 413.2h0M155.0 387.0h0M153.8 393.4h0M164.8 383.2h0M183.1 409.5h0M175.6 388.3h0M167.2 398.3h0M171.0 410.0h0M185.0 385.5h0M175.6 400.4h0M185.1 387.2h0M169.0 414.8h0M153.3 396.1h0M179.1 377.8h0M182.4 406.5h0M187.0 403.2h0M171.8 408.0h0M181.6 399.2h0M176.4 378.8h0M163.9 385.4h0M183.6 406.1h0M163.5 374.2h0M165.8 409.4h0M171.3 399.3h0M167.7 391.5h0M171.0 392.4h0M156.4 377.3h0M170.3 406.9h0M167.4 373.4h0M175.7 377.3h0M160.9 389.8h0M179.7 390.4h0M166.9 388.9h0M170.8 383.4h0M164.3 403.4h0M152.5 401.4h0M164.8 412.7h0M162.4 390.3h0M161.7 401.0h0M166.6 402.8h0M162.1 391.4h0M172.2 403.2h0M175.8 390.1h0M156.6 379.0h0M158.0 400.7h0M164.0 411.8h0M159.9 381.8h0M158.0 377.2h0M176.9 396.9h0M160.5 407.4h0M176.7 390.1h0M174.1 400.4h0M167.8 374.9h0M164.9 413.6h0M165.2 399.6h0M154.4 405.8h0M183.8 387.6h0M165.1 393.9h0M160.6 380.2h0M155.9 401.8h0M170.4 414.0h0M174.4 398.8h0M167.6 389.9h0M156.5 395.5h0M161.4 376.2h0M184.1 396.7h0M184.3 384.0h0M182.6 380.2h0M175.6 395.8h0M163.4 374.3h0M169.5 394.4h0M182.1 379.9h0M158.0 384.5h0M181.5 381.2h0M154.1 402.8h0M169.9 375.8h0M169.0 413.3h0M165.9 395.9h0M167.0 393.6h0M173.0 386.4h0M161.8 379.2h0M165.4 398.0h0M172.0 379.8h0M157.2 396.3h0M157.2 400.3h0M176.1 394.4h0M169.6 409.6h0M169.1 380.5h0M166.4 374.1h0M173.1 380.6h0M177.7 378.6h0M177.2 398.7h0M162.2 401.6h0M166.1 411.2h0M182.4 405.3h0M173.8 382.5h0M182.2 401.5h0M182.9 407.0h0M168.3 388.6h0M181.2 400.4h0M171.5 410.3h0M168.7 375.1h0M184.5 380.9h0M156.1 404.8h0M176.7 389.3h0M173.7 395.8h0M187.0 393.7h0M171.5 391.6h0M166.6 402.0h0M155.2 402.1h0M186.3 405.2h0M171.6 386.7h0M171.5 410.6h0M179.5 407.3h0M169.2 409.6h0M158.1 385.9h0M170.5 403.6h0M168.1 384.4h0M183.9 388.5h0M166.9 380.8h0M169.4 402.7h0M164.7 400.7h0M171.7 414.1h0M158.9 373.6h0M158.8 377.6h0M183.3 394.1h0M170.4 378.6h0M162.6 411.7h0M167.9 381.3h0M173.7 375.8h0M170.8 400.0h0M154.4 395.5h0M162.8 404.4h0M174.4 411.9h0M174.1 379.0h0M158.0 402.6h0M166.8 383.5h0M168.8 410.2h0M172.3 404.4h0M180.1 383.3h0M174.5 387.7h0M169.0 394.7h0M176.3 378.3h0M162.9 409.2h0M157.1 404.8h0M164.6 374.5h0M179.1 393.0h0M185.0 396.3h0M171.0 378.4h0M163.2 380.7h0M163.3 405.5h0M172.8 408.2h0M170.3 399.3h0M160.1 402.2h0M166.4 403.4h0M173.2 377.0h0M162.4 404.8h0M151.6 399.3h0M171.7 403.1h0M163.5 392.3h0M169.1 404.6h0M153.8 393.8h0M160.9 397.4h0M160.9 380.0h0M159.8 411.2h0M164.8 410.6h0M178.9 382.9h0M186.4 399.3h0M155.3 394.2h0M169.8 401.1h0M162.0 411.9h0M174.7 374.0h0M162.6 402.9h0M160.4 407.0h0M177.1 391.8h0M172.8 404.0h0M176.5 388.8h0M170.0 393.7h0M159.2 382.5h0M183.1 409.0h0M177.5 401.9h0M170.4 396.7h0M167.9 414.6h0M153.9 382.3h0M181.4 406.8h0M184.0 382.3h0M186.4 387.5h0M168.1 413.8h0M171.7 401.5h0M161.1 375.5h0M182.3 382.0h0M187.4 401.4h0M158.3 402.9h0M163.1 394.6h0M180.9 397.0h0M177.2 386.1h0M155.9 385.4h0M179.1 396.2h0M156.1 381.6h0M169.1 371.4h0M152.7 391.1h0M155.9 404.6h0M181.2 385.0h0M167.0 385.0h0M175.8 410.7h0M177.2 378.9h0M170.2 409.2h0M155.1 397.8h0M180.9 405.9h0M174.1 388.7h0M168.3 395.1h0M173.4 411.0h0M161.7 383.2h0M158.0 375.8h0M155.8 387.0h0M162.5 373.7h0M160.5 393.5h0M169.0 401.6h0M156.9 376.3h0M163.6 374.8h0M155.6 375.4h0M181.4 410.5h0M183.1 400.2h0M162.4 407.8h0M185.8 404.9h0M175.6 377.3h0M176.3 401.2h0M159.8 392.3h0M159.1 410.2h0M175.0 402.0h0M174.6 373.5h0M184.7 406.0h0M170.6 397.5h0M169.7 404.9h0M171.3 383.3h0M170.6 380.4h0M184.1 403.3h0M158.9 393.7h0M173.2 396.9h0M168.5 393.8h0M177.2 410.6h0M170.6 406.2h0M176.8 376.1h0M160.8 384.9h0M164.5 392.9h0M178.9 387.5h0M177.6 412.6h0M157.1 399.2h0M184.3 407.1h0M163.2 377.2h0M181.6 389.5h0M164.3 391.7h0M178.7 411.2h0M185.8 405.4h0M157.7 387.4h0M163.9 378.7h0M169.1 376.7h0M175.8 389.3h0M160.4 401.8h0M163.5 371.8h0M182.9 404.9h0M184.4 384.0h0M161.0 402.2h0M175.8 395.5h0M167.1 415.1h0M156.5 397.5h0M179.4 407.5h0M179.5 378.8h0M160.2 372.5h0M172.0 374.4h0M158.2 378.6h0M161.9 414.7h0M157.1 377.1h0M165.5 407.2h0M154.7 406.4h0M171.7 406.9h0M163.8 372.6h0M154.8 403.5h0M170.3 405.3h0M158.6 383.4h0M159.0 409.2h0M177.7 377.7h0M168.7 382.3h0M180.1 403.3h0M177.0 379.6h0M152.6 399.7h0M164.7 394.2h0M175.7 412.6h0M175.7 394.1h0M180.2 392.9h0M152.2 395.5h0M166.7 385.9h0M166.0 380.7h0M162.9 404.5h0M184.6 391.4h0M170.6 404.4h0M180.7 388.2h0M174.2 400.3h0M164.1 375.8h0M172.7 389.0h0M184.8 400.7h0M179.7 396.5h0M179.6 376.8h0M173.7 379.3h0M154.5 402.6h0M178.6 400.9h0M160.7 392.8h0M180.2 399.7h0M174.8 394.9h0M153.8 389.7h0M176.4 410.0h0M153.9 393.8h0M164.0 380.2h0M156.5 380.6h0M166.9 402.7h0M186.6 396.0h0M166.9 371.7h0M156.0 407.3h0M155.3 384.3h0M171.0 394.5h0M176.7 389.0h0M154.5 392.4h0M153.8 395.7h0M155.3 395.1h0M164.6 415.0h0M177.9 398.1h0M160.7 390.5h0M172.4 374.8h0M167.0 415.4h0M166.2 393.6h0M179.6 407.5h0M179.0 388.0h0M178.0 379.7h0M158.3 378.6h0M164.4 404.1h0M187.1 398.5h0M168.0 409.5h0M175.6 405.9h0M156.7 374.5h0M170.9 398.2h0M177.1 378.8h0M172.6 414.6h0M160.6 407.8h0M187.5 401.2h0M167.7 389.6h0M168.8 376.4h0M153.8 383.4h0M157.6 411.4h0M164.8 410.4h0M172.4 411.4h0M185.1 402.9h0M168.0 381.7h0M172.4 384.8h0M167.0 395.3h0M164.6 414.1h0M187.3 394.5h0M172.4 379.6h0M181.0 392.7h0M174.7 402.2h0M171.9 376.6h0M168.4 373.5h0M165.4 376.8h0M167.5 373.4h0M174.1 381.0h0M178.2 397.1h0M169.5 389.8h0M170.9 385.9h0M183.1 407.4h0M181.2 393.0h0M170.0 408.9h0M155.5 380.9h0M151.5 393.0h0M168.2 414.0h0M186.4 389.1h0M169.8 375.5h0M179.6 394.2h0M157.4 410.4h0M169.1 415.9h0M156.3 382.8h0M181.1 385.9h0M160.0 384.7h0M176.6 410.9h0M152.9 392.6h0M159.3 376.2h0M160.2 404.0h0M172.9 376.6h0M161.9 373.7h0M186.2 404.9h0M168.9 414.2h0M160.7 379.4h0M174.9 397.7h0M170.7 405.8h0M152.9 392.7h0M156.3 404.5h0M167.4 408.7h0M173.0 397.7h0M163.8 375.4h0M176.1 413.7h0M174.1 404.5h0M173.6 380.8h0M154.0 404.4h0M168.2 376.3h0M172.2 382.7h0M161.0 410.4h0M174.5 404.6h0M182.0 390.5h0M168.1 390.3h0M164.6 406.0h0M184.6 384.2h0M178.0 380.5h0M180.5 385.6h0M163.2 405.1h0M185.6 390.4h0M161.4 387.8h0M171.1 394.6h0M162.2 373.4h0M175.0 403.2h0M177.4 388.7h0M172.1 394.4h0M159.6 394.5h0M153.6 400.4h0M170.3 395.1h0M182.9 399.7h0M186.8 401.6h0M182.2 385.2h0M165.9 394.4h0M171.5 396.4h0M178.3 386.2h0M174.0 404.0h0M165.5 401.6h0M185.3 387.4h0M171.0 392.6h0M182.9 382.9h0M161.9 388.5h0M175.8 377.7h0M178.8 389.4h0M152.0 388.2h0M172.7 374.8h0M188.2 397.3h0M168.4 372.0h0M160.4 386.0h0M175.7 378.6h0M172.5 401.9h0M170.7 404.7h0M174.7 374.5h0M176.0 392.6h0M164.4 409.2h0M159.7 400.1h0M168.0 391.3h0M169.9 387.6h0M159.7 402.1h0M174.8 373.2h0M161.3 412.9h0M161.7 384.0h0M173.0 387.6h0M155.9 380.9h0M157.5 390.8h0M161.8 401.2h0M162.8 376.8h0M167.4 387.2h0M175.4 376.7h0M174.2 410.7h0M157.3 411.6h0M177.5 405.2h0M153.6 398.7h0M181.2 385.3h0M164.9 385.6h0M164.9 380.7h0M167.8 384.8h0M168.8 409.4h0M166.2 389.8h0M179.7 402.6h0M187.2 394.8h0M165.7 371.0h0M171.0 386.8h0M162.7 412.9h0M180.8 401.2h0M176.6 392.8h0M154.5 408.4h0M179.9 392.3h0M172.4 407.1h0M169.8 392.2h0M169.4 404.0h0M178.9 385.9h0M180.5 387.7h0M176.6 387.8h0M180.6 388.0h0M164.3 390.3h0M171.7 412.8h0M178.5 403.3h0M179.6 389.8h0M155.5 409.4h0M184.3 403.4h0M170.6 387.2h0M169.6 391.4h0M188.3 399.1h0M157.7 405.6h0M165.5 397.8h0M172.4 404.2h0M162.4 401.4h0M165.0 406.1h0M169.8 399.8h0M170.9 400.0h0M165.7 415.4h0M165.8 403.6h0M182.6 387.1h0M167.0 387.3h0M164.0 389.4h0M172.3 399.8h0M162.4 405.3h0M184.2 388.0h0M170.0 380.6h0M160.5 409.3h0M175.4 391.0h0M175.3 379.1h0M172.9 379.1h0M171.6 385.4h0M161.0 404.2h0M164.7 404.3h0M179.5 387.7h0M172.0 397.0h0M177.0 395.6h0M187.8 398.6h0M166.5 411.8h0M185.0 397.7h0M151.4 398.9h0M166.7 396.7h0M183.1 384.8h0M160.5 372.4h0M155.1 382.8h0M171.1 413.3h0M157.5 383.8h0M165.2 399.7h0M164.4 401.0h0M156.7 372.7h0M173.0 403.5h0M176.4 373.7h0M186.2 402.0h0M157.1 389.3h0M164.4 410.5h0M185.6 404.8h0M175.2 397.2h0M170.4 400.4h0M169.9 388.7h0M182.8 384.3h0M166.4 401.5h0M167.5 388.9h0M159.0 386.8h0M181.0 379.2h0M173.0 405.7h0M155.4 392.7h0M158.1 400.0h0M176.8 380.7h0M159.8 384.4h0M163.5 411.1h0M184.2 406.6h0M166.0 391.4h0M166.0 379.6h0M183.1 384.4h0M169.5 373.1h0M177.2 394.0h0M181.4 403.4h0M179.3 382.6h0M160.5 397.8h0M178.4 393.1h0M164.7 374.2h0M172.1 405.7h0M177.1 392.0h0M181.1 389.3h0M173.3 391.1h0M182.1 402.6h0M182.1 382.2h0M170.2 395.3h0M181.9 391.0h0M157.0 409.4h0M172.1 404.2h0M179.1 398.9h0M163.7 378.1h0M175.2 380.6h0M168.3 391.7h0M151.5 394.6h0M160.6 374.8h0M166.2 378.3h0M168.6 378.1h0M178.9 410.4h0M163.3 374.0h0M175.7 405.0h0M169.4 411.1h0M156.6 403.3h0M183.3 390.5h0M170.4 409.1h0M165.4 382.3h0M162.7 386.7h0"/>
<path stroke="#88b030" stroke-width="1.3" stroke-linecap="round" fill="none" opacity="0.88" d="M198.5 380.2h0M199.3 377.9h0M210.7 384.3h0M206.4 408.5h0M187.0 407.5h0M215.6 407.0h0M189.0 391.1h0M198.5 388.7h0M192.3 376.6h0M192.3 401.6h0M211.9 400.7h0M180.4 375.4h0M203.0 405.8h0M194.6 413.8h0M213.2 411.3h0M209.1 398.2h0M201.8 419.5h0M192.3 414.8h0M210.2 395.7h0M184.8 415.3h0M209.5 404.0h0M211.6 425.6h0M189.0 411.1h0M221.0 405.0h0M213.2 393.1h0M198.6 405.3h0M214.2 395.7h0M201.4 380.5h0M185.7 388.6h0M205.9 394.5h0M213.9 403.0h0M195.0 410.1h0M217.2 418.9h0M195.9 427.8h0M212.3 387.9h0M192.8 401.7h0M218.1 410.0h0M204.7 395.2h0M195.2 395.1h0M210.2 397.2h0M210.1 421.5h0M181.9 373.4h0M214.6 395.1h0M180.4 372.9h0M190.9 421.8h0M211.8 386.7h0M196.2 395.7h0M209.9 388.3h0M194.0 400.6h0M188.7 396.4h0M211.6 400.7h0M203.7 385.3h0M194.4 382.6h0M202.9 402.9h0M217.5 406.0h0M211.9 394.2h0M192.6 411.1h0M203.6 423.6h0M209.1 423.3h0M199.0 416.6h0M192.8 411.3h0M191.4 382.8h0M190.1 413.0h0M210.1 423.6h0M210.3 399.8h0M188.2 414.3h0M198.7 421.9h0M214.3 402.3h0M196.0 402.3h0M190.2 393.8h0M198.9 388.6h0M185.7 409.8h0M188.0 388.1h0M194.4 399.9h0M189.6 392.3h0M198.0 422.2h0M213.0 399.3h0M214.8 396.7h0M196.8 420.4h0M189.8 402.1h0M193.6 403.4h0M195.6 391.6h0M219.6 411.2h0M199.0 392.8h0M217.0 392.9h0M202.4 387.5h0M220.9 404.1h0M219.9 411.3h0M215.1 404.1h0M215.4 408.3h0M207.2 389.4h0M212.3 401.9h0M212.8 410.5h0M215.8 411.4h0M195.3 426.0h0M218.8 410.0h0M197.6 400.4h0M215.4 405.7h0M199.0 417.5h0M189.3 406.5h0M218.4 395.4h0M183.2 373.0h0M215.6 398.6h0M192.5 398.9h0M203.8 384.8h0M207.1 408.2h0M191.3 378.1h0M191.0 384.3h0M190.4 414.2h0M214.6 417.0h0M216.3 407.8h0M205.2 396.2h0M215.0 402.3h0M193.8 400.2h0M199.2 382.8h0M208.3 419.2h0M196.2 415.4h0M208.7 402.3h0M221.8 414.3h0M210.4 393.6h0M209.5 411.5h0M196.4 425.6h0M197.7 398.5h0M188.8 397.0h0M187.0 413.0h0M211.2 410.9h0M184.0 375.0h0M210.2 403.0h0M220.0 418.3h0M207.5 418.8h0M200.8 388.6h0M208.0 407.8h0M201.0 397.9h0M212.3 422.7h0M200.1 394.1h0M190.8 418.9h0M188.5 413.0h0M190.3 395.3h0M199.1 386.2h0M215.0 425.2h0M211.3 403.0h0M208.7 387.0h0M195.7 414.5h0M192.2 382.7h0M202.2 422.7h0M197.4 385.2h0M214.5 395.8h0M198.0 421.6h0M191.4 397.5h0M193.1 407.6h0M197.0 419.0h0M203.1 413.1h0M203.8 411.5h0M195.5 380.6h0M194.4 390.6h0M200.9 426.6h0M216.7 395.2h0M193.5 396.7h0M212.6 398.3h0M210.4 428.0h0M211.7 401.2h0M211.4 400.1h0M204.1 395.9h0M212.9 386.6h0M210.1 388.2h0M204.8 415.9h0M201.6 386.0h0M191.8 403.5h0M206.5 395.0h0M212.3 413.2h0M207.1 385.6h0M221.7 403.1h0M219.5 409.9h0M187.7 413.5h0M205.7 393.6h0M209.2 415.0h0M208.6 384.6h0M197.5 424.4h0M186.6 386.0h0M200.0 380.4h0M188.7 413.4h0M196.4 412.2h0M189.6 399.2h0M216.9 392.9h0M191.3 424.8h0M194.7 402.7h0M217.4 418.6h0M214.8 423.7h0M188.4 375.2h0M202.6 393.1h0M210.0 384.7h0M205.4 395.8h0M186.3 417.3h0M212.3 396.9h0M198.4 383.8h0M194.6 387.3h0M185.3 415.1h0M197.5 380.9h0M188.3 381.1h0M203.2 416.0h0M209.6 419.0h0M197.0 396.9h0M218.5 419.1h0M197.0 419.1h0M192.0 386.1h0M202.8 384.2h0M189.7 407.9h0M185.8 416.5h0M217.3 395.9h0M191.3 378.2h0M209.9 403.7h0M190.2 386.2h0M210.6 423.8h0M187.9 398.4h0M204.1 389.5h0M205.2 402.8h0M196.6 380.6h0M206.1 422.1h0M205.4 415.7h0M219.8 405.5h0M215.2 403.2h0M197.6 381.3h0M199.6 412.4h0M213.7 422.5h0M201.3 425.4h0M186.6 420.2h0M203.5 379.9h0M201.4 415.7h0M204.8 410.3h0M205.1 424.2h0M187.1 374.9h0M202.2 392.1h0M195.8 394.5h0M209.1 404.2h0M190.8 423.6h0M189.5 389.2h0M186.7 411.7h0M209.2 392.8h0M193.2 403.2h0M188.0 396.3h0M215.5 389.7h0M205.1 426.9h0M210.5 423.6h0M193.8 426.0h0M212.7 423.9h0M187.6 394.3h0M212.7 404.5h0M219.3 396.7h0M198.2 381.7h0M190.3 421.5h0M189.8 422.7h0M214.1 404.4h0M190.6 424.9h0M197.8 393.0h0M218.9 418.4h0M208.5 388.4h0M189.8 383.1h0M203.7 390.0h0M187.7 421.6h0M187.7 419.4h0M194.6 402.8h0M196.6 416.5h0M185.6 385.0h0M215.8 390.7h0M205.3 425.8h0M221.8 404.1h0M193.2 408.8h0M210.9 410.5h0M208.4 393.9h0M210.2 392.1h0M188.5 377.9h0M202.9 381.9h0M190.7 389.0h0M194.7 395.7h0M221.9 401.9h0M202.7 394.8h0M202.6 418.1h0M201.5 401.1h0M193.8 382.7h0M187.6 377.3h0M190.8 374.6h0M198.3 407.4h0M197.4 416.9h0M202.7 387.2h0M211.6 393.1h0M188.1 374.2h0M189.3 424.6h0M213.2 427.1h0M192.3 377.0h0M190.1 407.2h0M190.1 422.3h0M204.4 394.8h0M181.2 375.5h0M187.8 406.9h0M190.9 395.5h0M205.4 413.6h0M208.5 396.7h0M198.7 424.5h0M201.8 405.2h0M208.0 399.4h0M205.0 428.4h0M191.7 400.1h0M202.9 389.4h0M197.2 396.6h0M189.5 399.3h0M207.6 412.2h0M186.8 386.3h0M208.4 395.4h0M180.0 375.3h0M200.8 424.3h0M209.8 397.3h0M189.7 379.7h0M207.1 415.3h0M195.7 377.1h0M190.5 412.0h0M212.7 394.8h0M217.9 394.2h0M218.1 412.0h0M195.8 399.3h0M201.9 387.1h0M220.0 412.7h0M216.6 421.4h0M192.0 405.0h0M196.7 384.5h0M208.0 389.1h0M199.2 421.3h0M188.5 423.2h0M214.0 425.6h0M192.5 392.0h0M218.9 396.5h0M219.3 417.1h0M190.8 392.5h0M189.5 383.2h0M200.7 414.2h0M208.9 397.1h0M201.4 379.5h0M188.9 391.6h0M194.1 409.3h0M188.9 385.7h0M217.4 416.2h0M219.9 416.1h0M186.8 399.7h0M215.5 417.6h0M188.3 399.4h0M189.0 414.0h0M208.0 397.4h0M193.6 377.1h0M211.4 415.7h0M197.6 415.5h0M215.2 411.2h0M214.4 426.6h0M198.4 416.0h0M210.9 391.3h0M194.9 387.6h0M214.4 408.3h0M191.4 413.9h0M186.3 417.4h0M205.2 415.3h0M205.7 427.7h0M209.3 398.4h0M190.8 389.5h0M213.9 418.3h0M221.4 410.9h0M200.7 394.5h0M209.7 408.8h0M220.4 414.3h0M195.3 387.9h0M197.3 394.5h0M211.5 415.0h0M189.2 410.2h0M204.3 426.6h0M201.2 392.2h0M218.8 407.4h0M193.4 408.8h0M184.9 382.9h0M217.8 398.3h0M199.2 385.6h0M214.1 405.9h0M195.7 393.9h0M187.5 384.1h0M209.1 389.8h0M198.4 427.8h0M195.3 395.0h0M221.7 412.8h0M198.6 394.7h0M188.1 380.9h0M185.8 406.1h0M193.5 409.7h0M213.2 395.0h0M195.2 376.7h0M187.5 407.2h0M208.3 390.8h0M194.5 412.9h0M199.8 396.9h0M203.3 378.8h0M199.2 388.8h0M209.6 401.9h0M197.0 427.5h0M203.6 411.4h0M195.2 394.7h0M193.4 386.0h0M213.6 420.8h0M190.6 404.0h0M198.7 379.7h0M211.0 402.2h0M185.9 411.9h0M217.1 401.3h0M198.3 426.9h0M209.8 394.0h0M198.9 389.9h0M188.2 389.3h0M190.3 382.9h0M217.3 393.6h0M203.2 417.9h0M215.8 390.8h0M215.4 408.4h0M209.4 402.9h0M220.7 416.7h0M193.4 423.3h0M206.6 416.6h0M188.1 386.1h0M212.7 402.0h0M191.0 397.6h0M217.9 417.8h0M195.3 409.7h0M184.3 374.7h0M190.9 401.3h0M193.0 404.9h0M187.4 403.5h0M189.9 408.3h0M213.1 419.8h0M202.7 392.0h0M191.0 400.9h0M211.6 390.4h0M204.9 387.2h0M210.3 400.2h0M192.0 397.5h0M197.5 405.2h0M200.8 414.4h0M213.5 413.6h0M190.0 381.5h0M220.9 407.2h0M211.0 406.4h0M203.4 421.3h0M187.9 405.8h0M195.7 424.0h0M188.5 387.4h0M219.3 412.8h0M197.3 393.3h0M210.5 385.0h0M219.1 420.7h0M219.1 418.3h0M191.1 417.3h0M204.1 386.2h0M209.0 395.6h0M210.3 386.0h0M197.2 410.7h0M194.7 386.8h0M201.7 425.7h0M199.7 427.6h0M187.3 379.9h0M200.5 428.1h0M218.4 411.0h0M212.2 403.6h0M222.1 402.3h0M211.2 406.0h0M217.7 391.2h0M198.8 418.0h0M189.5 393.2h0M216.1 408.7h0M212.4 395.6h0M188.7 394.0h0M213.9 426.6h0M184.7 381.9h0M190.4 407.1h0M197.4 382.0h0M193.7 400.5h0M200.6 419.5h0M204.5 379.6h0M201.9 382.3h0M190.5 379.1h0M208.3 417.6h0M193.0 418.3h0M199.6 382.6h0M211.0 390.6h0M219.2 403.3h0M205.9 415.3h0M206.7 425.6h0M221.0 413.8h0M189.9 412.3h0M204.1 420.7h0M212.8 390.9h0M185.7 409.3h0M190.4 394.8h0M207.4 407.9h0M218.2 411.9h0M218.8 406.7h0M207.1 422.2h0M211.6 408.0h0M179.8 373.6h0M210.3 419.9h0M195.4 384.1h0M197.9 419.6h0M187.1 384.0h0M211.5 386.4h0M218.0 395.4h0M216.7 395.9h0M217.3 423.3h0M216.6 413.1h0M203.5 401.0h0M210.2 406.1h0M218.4 414.7h0M197.9 420.0h0M190.9 394.3h0M204.0 426.8h0M188.9 419.9h0M207.6 424.0h0M191.5 409.6h0M218.0 422.0h0M209.4 419.5h0M186.7 401.4h0M188.8 419.6h0M186.2 415.3h0M186.8 391.4h0M204.2 387.7h0M208.5 386.8h0M220.3 407.9h0M219.1 414.1h0M195.1 383.6h0M218.1 409.6h0M193.7 376.3h0M188.8 375.0h0M185.7 414.3h0M190.6 417.2h0M211.1 408.5h0M205.2 380.2h0M215.3 424.2h0M201.9 382.8h0M190.6 401.8h0M213.1 389.6h0M214.4 415.2h0M222.2 411.5h0M204.9 408.1h0M186.7 376.2h0M204.2 380.0h0M213.3 397.7h0M213.2 423.6h0M194.4 416.9h0M193.0 425.0h0M189.5 412.9h0M190.8 396.0h0M210.5 418.8h0M184.3 382.0h0M187.5 415.4h0M208.3 412.6h0M189.7 417.0h0M187.6 397.1h0M208.8 384.8h0M207.9 394.8h0M207.4 418.5h0M208.6 420.8h0M208.0 416.1h0M215.7 405.8h0M201.9 381.4h0M188.6 377.1h0M191.2 403.9h0M218.2 419.2h0M186.6 405.4h0M186.9 375.9h0M187.9 383.8h0M214.3 420.9h0M194.9 391.7h0M209.5 402.1h0M192.8 380.7h0M188.0 401.8h0M190.0 399.8h0M200.6 387.1h0M202.2 417.9h0M203.7 391.8h0M219.8 416.2h0M199.8 397.6h0M215.8 407.1h0M202.8 401.2h0M218.1 392.2h0M183.9 382.2h0M189.0 377.7h0M221.9 403.5h0M213.9 397.8h0M201.5 385.0h0M218.1 395.9h0M196.3 414.0h0M199.7 396.1h0M215.2 396.2h0M187.1 399.2h0M191.8 386.8h0M212.8 391.9h0M206.1 389.3h0M212.9 411.9h0M205.4 382.1h0M200.6 419.1h0M213.3 405.5h0M206.4 381.9h0M196.0 411.7h0M209.4 421.0h0M189.2 379.2h0M192.8 378.1h0M221.3 404.6h0M190.2 380.0h0M202.1 388.3h0M203.7 412.5h0M188.2 379.7h0M201.2 394.8h0M198.1 393.0h0M185.4 379.2h0M210.7 407.9h0M208.9 408.2h0M201.1 383.3h0M219.1 402.2h0M198.6 387.0h0M195.0 427.4h0M196.3 417.5h0M190.2 385.5h0M191.7 394.6h0M207.0 395.2h0M216.5 396.8h0M213.7 394.5h0M189.6 422.6h0M206.6 412.9h0M201.5 412.2h0M221.0 413.9h0M191.4 421.9h0M215.5 422.2h0M197.6 395.5h0M185.5 382.0h0M191.6 395.8h0M195.2 398.2h0M199.7 423.2h0M207.4 425.5h0M216.7 400.1h0M203.9 419.7h0M192.9 379.7h0M212.2 402.6h0M199.1 379.5h0M202.9 404.5h0M210.0 423.0h0M192.5 395.7h0M193.5 417.7h0M199.3 380.6h0M195.1 397.6h0M218.6 402.9h0M222.1 402.8h0M220.9 411.2h0M207.8 389.0h0M185.3 408.3h0M187.4 382.6h0M210.0 424.5h0M187.1 385.7h0M184.4 384.0h0M188.2 395.8h0M188.7 409.6h0M188.8 387.3h0M196.8 381.8h0M218.0 406.8h0M191.8 394.9h0M197.2 390.3h0M184.4 384.0h0M192.9 378.1h0M205.7 383.5h0M201.0 411.3h0M200.4 413.9h0M213.1 397.5h0M187.6 374.7h0M209.2 393.0h0M191.1 377.0h0M199.2 419.9h0M188.2 422.1h0M188.7 405.9h0M220.1 398.5h0M197.1 426.1h0M216.8 424.4h0M209.8 384.9h0M180.2 373.5h0M219.5 402.8h0M190.3 382.4h0M199.7 418.6h0M214.2 422.7h0M194.3 385.4h0M201.1 424.8h0M205.6 421.3h0M186.8 400.8h0M219.3 404.4h0M213.7 417.7h0M197.9 411.0h0M209.1 397.0h0M201.4 417.8h0M194.5 410.3h0M202.8 420.2h0M188.8 398.5h0M189.5 417.4h0M182.9 380.3h0M204.6 415.9h0M193.5 376.8h0M197.4 387.5h0M193.6 385.4h0M214.6 393.7h0M210.1 403.2h0M188.3 388.0h0M208.2 420.8h0M189.7 377.9h0M210.3 423.8h0M204.6 380.5h0M194.9 380.4h0M190.6 404.6h0M200.6 382.0h0M190.4 422.7h0M192.5 389.1h0M207.4 426.0h0M207.3 410.2h0M191.0 410.6h0M219.1 398.6h0M195.8 410.8h0M217.3 410.9h0M219.7 416.2h0M208.3 384.1h0M191.9 424.4h0M222.2 414.9h0M193.9 418.6h0M180.9 372.9h0M188.9 420.6h0M198.1 420.1h0M200.0 393.2h0M198.5 425.8h0M210.1 427.8h0M186.4 409.3h0M184.7 377.4h0M199.8 402.8h0M194.0 376.3h0M202.9 381.6h0M192.9 426.8h0M207.2 409.9h0M205.3 383.6h0M208.8 426.8h0M193.5 383.6h0M207.5 420.1h0M185.5 383.4h0M200.5 383.8h0M200.8 427.9h0M187.1 381.7h0M204.5 425.5h0M209.5 420.6h0M205.2 421.9h0M183.3 379.7h0M220.2 396.4h0M204.0 395.4h0M195.2 387.2h0M210.5 417.2h0M208.9 397.1h0M196.5 382.9h0M204.4 395.0h0M202.1 400.0h0M191.2 395.8h0M197.4 422.8h0M198.5 384.8h0M198.7 398.1h0M200.5 398.9h0M191.7 375.3h0M192.6 391.8h0M187.9 402.2h0M218.2 411.1h0M215.7 409.5h0M188.1 418.0h0M212.0 399.7h0M202.4 417.1h0M197.2 379.1h0M219.9 400.8h0M198.8 386.2h0M204.5 412.0h0M192.0 425.8h0M208.0 427.0h0M220.5 398.0h0M205.8 421.7h0M206.7 389.2h0M222.8 409.7h0M195.4 426.4h0M198.7 378.8h0M206.6 402.8h0M203.8 407.0h0M189.9 380.9h0M187.1 400.2h0M195.6 415.0h0M184.4 383.9h0M201.5 410.9h0M192.1 383.9h0M195.1 417.1h0M188.8 391.4h0M190.8 398.2h0M187.5 416.5h0M217.8 412.3h0M196.0 419.5h0M196.4 413.9h0M191.2 375.9h0M198.6 420.2h0M204.0 387.2h0M187.5 403.7h0M200.9 423.1h0M198.1 393.5h0M202.4 383.2h0M192.4 401.9h0M220.3 399.4h0M201.3 391.6h0M205.7 392.0h0M211.1 407.8h0M180.8 375.1h0M203.1 385.2h0M193.5 412.6h0M195.9 402.0h0M188.3 407.6h0M211.9 417.4h0M209.6 398.5h0M190.0 411.8h0M196.8 390.4h0M210.0 415.5h0M184.9 383.8h0M217.9 424.4h0M206.4 387.0h0M203.3 415.4h0M193.5 408.8h0M205.1 423.4h0M212.9 409.9h0M202.5 422.3h0M205.1 411.0h0M192.0 378.3h0M203.1 384.8h0M186.6 404.7h0M192.0 378.6h0M192.2 410.1h0M198.0 418.4h0M208.6 386.8h0M188.6 373.9h0M220.8 402.4h0M213.7 393.9h0M218.1 415.4h0M200.4 388.1h0M185.2 376.6h0M186.4 402.1h0M201.5 379.8h0M221.7 411.2h0M220.2 416.6h0M192.7 417.8h0M195.5 376.5h0M219.4 409.3h0M222.8 408.3h0M199.4 422.7h0M198.7 392.4h0M186.4 377.4h0M222.8 411.5h0M216.2 393.7h0M191.5 401.9h0M188.1 386.8h0M210.7 416.7h0M222.2 409.1h0M193.8 398.7h0M204.4 405.6h0M219.3 404.2h0M221.3 399.2h0M192.6 399.4h0M217.8 423.7h0M191.4 402.3h0M205.5 383.0h0M203.5 424.8h0M218.1 407.0h0M201.4 414.4h0M198.4 412.0h0M194.8 403.5h0M211.0 405.2h0M205.1 393.9h0M193.8 409.1h0M198.1 397.1h0M195.0 388.6h0M206.2 421.6h0M186.8 408.8h0M207.8 394.8h0M219.7 409.3h0M207.4 392.0h0M217.8 399.8h0M198.4 411.2h0M202.4 428.3h0M183.4 375.9h0M204.8 385.0h0M201.8 388.8h0M194.4 385.0h0M189.3 379.9h0M221.9 413.6h0M194.2 378.4h0M202.8 427.7h0M197.8 396.8h0M188.7 421.8h0M188.1 421.9h0M193.0 417.6h0M210.1 424.8h0M203.9 392.5h0M189.8 385.5h0M192.3 418.5h0M200.8 381.2h0M209.2 384.0h0M187.2 379.7h0M194.9 394.4h0M192.7 382.1h0M186.3 414.1h0M210.0 398.3h0M187.2 390.0h0M193.3 386.4h0M195.4 413.6h0M205.7 409.0h0M186.7 383.7h0M187.0 376.6h0M215.8 419.7h0M190.9 380.4h0M201.1 414.4h0M185.4 376.9h0M202.1 389.1h0M219.0 423.1h0M210.7 401.1h0M207.1 391.0h0M197.0 397.3h0M211.1 420.5h0M191.7 376.5h0M188.0 400.4h0M212.4 413.5h0M219.2 416.1h0M191.4 375.4h0M199.7 390.8h0M217.1 423.2h0M202.2 415.8h0M210.7 401.5h0M197.9 425.9h0M213.9 404.4h0M212.6 403.2h0M192.5 379.4h0M204.2 421.1h0M202.9 399.6h0M193.1 379.0h0M215.8 425.8h0M200.4 400.4h0M204.2 428.1h0M187.1 411.3h0M206.5 383.9h0M198.8 396.1h0M221.7 402.8h0M184.5 413.8h0M195.0 379.2h0M201.8 412.3h0M184.9 412.5h0M197.4 381.7h0M198.8 425.0h0M202.4 421.9h0M199.4 386.3h0M209.0 388.8h0M207.7 402.3h0M204.8 424.3h0M203.6 417.8h0M210.4 398.8h0M187.8 421.7h0M203.2 427.9h0M217.8 414.4h0M215.4 412.5h0M182.4 376.2h0M212.4 415.4h0M209.3 393.0h0M188.2 397.1h0M189.7 413.7h0M215.6 414.1h0M192.6 404.9h0M192.2 403.1h0M201.9 380.9h0M216.0 418.0h0M188.5 414.4h0M214.3 407.0h0M220.0 396.3h0M188.2 399.0h0M191.6 393.7h0M213.2 390.5h0M210.1 405.6h0M217.0 408.7h0M216.3 408.2h0M197.1 383.4h0M212.0 388.8h0M207.9 409.1h0M192.8 386.5h0M187.6 412.3h0M181.4 375.4h0M217.9 424.5h0M211.3 404.3h0M197.6 383.6h0M202.2 396.1h0M214.4 424.1h0M202.0 379.5h0M202.2 418.3h0M208.3 398.6h0M217.2 399.7h0M196.0 394.6h0M195.0 387.8h0M201.3 396.5h0M211.8 400.6h0M185.3 387.4h0M206.5 414.2h0M194.1 415.4h0M204.2 386.6h0M216.1 425.7h0M214.7 418.5h0M204.5 386.1h0M191.3 420.7h0M190.3 399.5h0M213.8 416.4h0M214.0 405.3h0M217.2 413.7h0M198.9 401.8h0M200.6 382.9h0M197.4 412.7h0M206.3 382.7h0M205.4 386.2h0M183.0 380.2h0M208.5 426.6h0M184.4 375.6h0M178.7 373.4h0M210.9 423.3h0M192.5 383.1h0M190.0 397.6h0M207.7 428.4h0M202.7 378.8h0M208.1 410.7h0M204.3 393.9h0M219.3 416.1h0M188.8 393.8h0M204.8 393.7h0M198.4 380.2h0M184.9 373.2h0M203.4 425.4h0M212.6 405.5h0M190.8 410.2h0M188.3 395.4h0M204.9 422.3h0M204.6 387.3h0M182.8 372.8h0M198.9 403.4h0M186.5 384.1h0M204.3 395.0h0M200.5 423.7h0M199.0 414.1h0M191.5 389.4h0M213.3 403.0h0M218.2 407.0h0M207.0 396.3h0M215.6 397.6h0M184.3 384.9h0M186.1 407.5h0M208.7 398.5h0M207.4 395.9h0M196.5 427.0h0M203.9 391.5h0M206.0 427.2h0M199.0 395.7h0M215.0 420.1h0M188.2 409.9h0M191.4 392.2h0M214.1 392.7h0M219.1 399.6h0M216.6 422.3h0M199.9 398.4h0M191.8 380.0h0M219.4 417.4h0M201.7 413.3h0M215.6 409.9h0M217.2 399.0h0M186.6 385.0h0M208.6 428.1h0M194.8 407.2h0M212.0 428.3h0M195.2 385.7h0M208.0 421.4h0M208.7 409.3h0M203.9 418.8h0M201.0 418.2h0M187.1 394.4h0M202.5 405.9h0M216.2 397.9h0M218.4 411.9h0M191.5 375.2h0M191.5 419.7h0M198.3 380.3h0M202.3 387.6h0M200.2 419.9h0M208.2 385.9h0M200.0 413.3h0M191.5 375.0h0M206.6 383.4h0M218.1 423.9h0M213.2 416.0h0M213.0 419.1h0M195.1 412.9h0M198.0 427.6h0M213.3 397.8h0M209.8 405.2h0M188.1 386.8h0M209.7 423.8h0M206.3 414.9h0M189.5 405.0h0M211.9 395.9h0M209.3 391.1h0M192.2 381.8h0M193.6 425.0h0M209.1 393.6h0M214.8 409.8h0M197.9 409.4h0M208.7 390.8h0M186.8 409.0h0M195.8 388.9h0M211.8 413.8h0M222.7 406.4h0M187.9 390.7h0M188.6 381.3h0M189.5 400.5h0M214.5 415.7h0M206.7 387.3h0M191.7 417.1h0M216.2 419.8h0M188.6 380.2h0M183.2 379.9h0M192.4 375.1h0M191.3 420.4h0M188.9 400.9h0M210.7 402.8h0M221.3 404.7h0M206.6 384.2h0M191.9 391.7h0M217.1 404.1h0M210.4 404.2h0M220.9 399.0h0M191.5 389.2h0M192.8 417.8h0M210.9 393.4h0M185.5 414.5h0M209.2 383.7h0M215.0 406.5h0M213.9 425.6h0M208.8 410.0h0M191.4 387.7h0M194.8 417.9h0M204.8 387.9h0M218.6 401.3h0M222.0 409.0h0M211.1 391.7h0M208.3 395.0h0M201.5 382.2h0M194.6 395.5h0M186.9 408.5h0M199.3 421.9h0M215.4 414.7h0M190.8 403.7h0M209.4 408.7h0M191.9 391.5h0M195.0 388.7h0M187.3 400.0h0M201.7 390.7h0M191.2 375.6h0M191.3 397.1h0M209.0 386.9h0M195.1 422.9h0M206.6 397.3h0M187.5 416.5h0M216.3 393.3h0M188.9 385.8h0M187.1 418.7h0M214.1 389.2h0M204.1 383.2h0M218.9 401.3h0M204.6 416.9h0M210.0 399.0h0M203.9 389.1h0M184.9 384.8h0M221.7 405.5h0M222.2 414.2h0M206.3 410.8h0M213.8 412.6h0M214.9 391.3h0M213.8 405.8h0M205.9 420.7h0M212.2 411.5h0M184.6 381.0h0M192.3 408.9h0M183.4 383.2h0M190.5 403.1h0M210.3 425.5h0M188.3 377.1h0M216.6 405.4h0M219.4 412.5h0M187.9 397.6h0M190.8 420.7h0M195.3 421.4h0M220.6 413.6h0M194.3 407.7h0M212.5 391.4h0M191.9 411.8h0M197.3 412.3h0M190.8 377.2h0M208.0 386.7h0M187.2 398.3h0M200.3 422.3h0M209.4 396.8h0M205.2 425.1h0M205.0 384.1h0M221.5 417.0h0M188.0 393.0h0M187.8 418.7h0M210.3 415.9h0M203.4 385.9h0M197.7 402.7h0M184.8 383.6h0M205.5 382.1h0M184.9 384.7h0M189.3 408.9h0M190.9 391.8h0M192.1 390.2h0M204.2 425.7h0M194.8 420.2h0M189.2 385.0h0M193.8 390.2h0M208.2 412.7h0M215.0 421.5h0M208.4 384.7h0M215.8 419.7h0M199.0 413.1h0M194.1 410.7h0M181.8 377.5h0M208.0 396.3h0M191.1 402.6h0M200.1 382.7h0M185.0 377.0h0M194.0 413.2h0M196.2 413.9h0M191.7 419.9h0M199.2 380.5h0M203.1 394.4h0M221.8 413.2h0M215.1 393.8h0M193.7 424.1h0M200.3 395.1h0M189.7 421.8h0M198.3 415.9h0M210.5 427.4h0M209.2 414.4h0M217.5 408.3h0M220.5 403.5h0M208.0 394.0h0M188.5 412.0h0M204.7 385.6h0M192.8 385.9h0M202.0 387.9h0M202.5 388.1h0M196.2 387.0h0M210.3 423.0h0M194.7 413.5h0M206.1 388.4h0M196.6 395.3h0M194.3 382.9h0M189.7 399.0h0M187.8 410.1h0M197.2 390.9h0M213.6 396.1h0M190.6 383.6h0M199.2 417.7h0M208.1 389.3h0M186.6 414.7h0M204.8 384.7h0M213.0 426.7h0M199.6 426.8h0M198.8 392.1h0M219.3 401.7h0M197.5 424.1h0M209.6 411.4h0M216.9 424.9h0M215.1 403.0h0M207.0 392.2h0M193.1 389.9h0M202.5 381.7h0M201.6 387.0h0M191.6 385.0h0M211.6 393.2h0M216.8 390.7h0M187.6 382.4h0M201.5 397.3h0M184.3 373.0h0M192.9 389.6h0M219.5 395.5h0M206.9 397.4h0M217.2 418.5h0M207.9 428.3h0M206.1 395.1h0M199.2 407.9h0M209.4 412.1h0M196.7 382.0h0M187.3 383.0h0M203.9 410.9h0M190.2 393.9h0M205.8 418.0h0M201.2 378.5h0M196.1 376.7h0M194.4 427.1h0M189.3 389.7h0M195.4 410.0h0M213.7 392.2h0M209.2 426.5h0M197.9 395.4h0M217.1 403.0h0M186.8 393.9h0M198.3 383.4h0M219.4 414.5h0M191.0 385.0h0M190.8 394.5h0M207.4 415.9h0M186.8 393.7h0M220.8 398.0h0M210.4 418.9h0M198.7 393.5h0M212.9 408.3h0M220.9 399.6h0M217.1 408.3h0M203.4 420.4h0M199.9 418.4h0M186.4 416.1h0M198.9 412.5h0M201.5 420.0h0M209.2 393.9h0M201.4 394.2h0M186.1 386.0h0M189.3 417.8h0M208.9 386.1h0M196.9 422.6h0M209.0 424.3h0M214.9 404.5h0M185.0 385.6h0M188.0 391.6h0M205.6 389.3h0M187.6 421.1h0M196.3 398.7h0M217.2 414.2h0M214.5 416.8h0M210.9 421.2h0M202.3 422.3h0M214.9 416.9h0M188.0 404.3h0M197.7 413.8h0M195.9 390.2h0M212.3 411.4h0M194.3 412.4h0M189.8 400.4h0M186.4 391.6h0M196.8 377.3h0M192.0 392.1h0M192.7 400.8h0M218.5 420.0h0M191.3 379.9h0M212.2 413.8h0M218.9 394.8h0M185.7 377.4h0M196.0 415.5h0M188.5 375.8h0M186.4 374.3h0M202.1 398.0h0M218.8 399.6h0M209.5 427.4h0M211.7 385.5h0M193.5 396.9h0M197.5 388.2h0M185.0 373.8h0M208.9 383.9h0M193.0 417.1h0M201.7 385.4h0M219.8 397.5h0M222.6 412.9h0M209.2 397.2h0M186.5 409.3h0M221.5 405.9h0M207.5 406.2h0M190.8 384.2h0M205.3 424.5h0M217.2 399.7h0M191.3 405.3h0M213.3 426.7h0M195.1 412.3h0M196.9 382.4h0M208.8 415.2h0M196.1 392.8h0M212.9 398.2h0M202.0 386.4h0M192.4 375.6h0M218.1 418.9h0M200.4 420.0h0M210.4 400.6h0M192.3 387.2h0M205.1 398.5h0M206.1 420.8h0M209.3 383.6h0M191.4 400.2h0M186.0 408.4h0M191.5 425.9h0M192.8 380.4h0M208.1 386.0h0M214.6 399.1h0M190.0 405.5h0M188.0 387.2h0M187.8 381.2h0M196.7 397.6h0M208.7 406.8h0M199.2 420.3h0M217.6 395.2h0M215.9 403.9h0M192.9 388.0h0M196.7 426.0h0M199.1 392.6h0M219.6 395.9h0M213.8 422.7h0M220.2 413.5h0M200.4 389.2h0M220.3 417.5h0M207.2 411.1h0M198.5 386.5h0M182.8 380.8h0M213.7 395.7h0M190.5 386.4h0M192.2 406.0h0M210.2 396.5h0M210.2 404.5h0M214.5 413.3h0M193.8 378.8h0M184.9 411.5h0M201.3 409.6h0M213.7 426.7h0M205.9 396.3h0M200.3 391.8h0"/>
<path stroke="#40c8c8" stroke-width="1.3" stroke-linecap="round" fill="none" opacity="0.88" d="M171.7 432.3h0M195.4 431.5h0M177.9 435.9h0M174.5 427.0h0M187.9 443.8h0M202.5 437.1h0M214.6 435.7h0M205.8 433.4h0M214.0 431.6h0M196.7 432.9h0M207.0 430.9h0M181.7 429.3h0M191.9 435.1h0M172.1 425.5h0M186.9 443.2h0M179.9 430.3h0M181.0 429.7h0M179.8 430.7h0M198.3 435.3h0M184.3 427.9h0M189.2 443.4h0M198.8 438.6h0M203.8 441.7h0M207.4 433.4h0M180.8 439.8h0M183.3 435.7h0M212.2 436.9h0M180.9 427.4h0M184.8 442.9h0M172.9 428.3h0M193.8 435.6h0M196.7 441.6h0M211.6 434.5h0M180.4 440.2h0M190.2 429.0h0M207.5 439.5h0M210.1 433.9h0M194.6 441.3h0M182.6 431.2h0M215.2 433.4h0M198.9 439.2h0M185.8 429.1h0M172.8 436.7h0M184.7 430.2h0M174.8 436.0h0M176.3 428.0h0M185.2 440.2h0M200.3 435.1h0M214.2 437.6h0M201.2 443.2h0M192.2 441.9h0M217.6 428.9h0M178.6 435.5h0M169.6 425.6h0M172.2 429.7h0M203.2 439.4h0M210.5 435.0h0M206.6 440.2h0M197.5 440.8h0M181.0 431.0h0M174.3 432.9h0M178.0 425.9h0M213.3 430.4h0M198.2 433.7h0M201.3 440.5h0M178.1 434.9h0M182.1 427.4h0M179.5 440.1h0M215.6 432.6h0M177.3 427.2h0M184.0 431.3h0M213.1 434.5h0M193.3 436.7h0M177.4 431.3h0M184.0 435.5h0M172.2 435.5h0M215.8 430.2h0M182.4 431.4h0M190.6 435.5h0M177.9 428.2h0M169.6 431.9h0M174.4 428.4h0M180.0 434.2h0M196.1 440.3h0M180.5 436.7h0M205.1 435.3h0M186.6 434.2h0M202.2 432.7h0M205.7 439.2h0M206.4 432.6h0M175.9 427.1h0M183.5 435.3h0M171.5 430.0h0M175.9 434.7h0M178.6 440.8h0M171.7 431.0h0M206.2 441.0h0M188.3 443.3h0M212.9 435.3h0M185.2 427.5h0M177.9 436.4h0M188.1 439.9h0M185.8 436.1h0M180.8 426.3h0M201.8 432.8h0M203.5 441.0h0M174.1 427.2h0M192.5 429.3h0M175.0 426.5h0M170.7 432.5h0M175.3 424.1h0M201.1 430.7h0M189.6 443.1h0M171.2 426.6h0M192.7 430.9h0M208.4 435.8h0M189.5 435.2h0M193.8 435.4h0M184.7 440.6h0M198.0 439.8h0M193.7 430.3h0M196.0 438.0h0M189.2 432.3h0M194.7 439.5h0M177.1 427.4h0M178.5 431.2h0M213.7 436.3h0M182.6 436.9h0M190.7 438.2h0M187.7 432.8h0M209.9 432.7h0M195.9 439.4h0M212.4 435.8h0M187.5 427.5h0M207.5 437.6h0M175.4 435.7h0M187.5 431.2h0M195.3 432.3h0M186.7 429.0h0M198.8 431.9h0M177.7 425.3h0M188.3 440.8h0M209.2 433.0h0M208.8 439.4h0M179.5 437.5h0M213.6 431.0h0M180.2 439.1h0M200.0 431.8h0M192.8 439.7h0M202.6 437.9h0M199.2 442.6h0M187.3 434.2h0M191.3 441.5h0M185.2 428.6h0M187.1 440.8h0M185.5 440.1h0M203.5 436.4h0M212.3 430.5h0M211.8 438.9h0M205.2 440.7h0M212.9 430.3h0M196.1 443.5h0M209.3 432.5h0M215.8 429.4h0M178.6 433.7h0M192.7 433.7h0M208.7 430.3h0M188.7 442.3h0M205.8 438.8h0M208.6 432.4h0M186.0 434.5h0M203.9 433.5h0M215.1 432.2h0M191.8 428.7h0M179.0 430.1h0M179.3 436.6h0M197.2 439.0h0M195.1 436.4h0M195.2 433.5h0M185.7 430.0h0M185.3 434.2h0M190.9 435.0h0M184.5 436.3h0M197.9 433.0h0M209.2 433.6h0M186.0 429.9h0M216.3 430.5h0M197.7 432.2h0M201.9 435.2h0M182.6 439.1h0M176.5 430.5h0M201.1 438.3h0M202.1 430.9h0M188.6 428.6h0M187.1 434.1h0M200.6 439.5h0M186.6 429.1h0M193.6 436.7h0M196.6 443.9h0M186.1 428.0h0M189.0 442.4h0M177.3 428.5h0M207.9 438.0h0M176.9 440.1h0M186.1 440.7h0M175.6 431.8h0M183.9 440.7h0M207.1 434.7h0M191.6 433.2h0M198.1 431.5h0M193.1 438.0h0M174.7 438.0h0M209.7 434.1h0M173.0 425.9h0M173.3 437.7h0M187.8 431.1h0M216.7 432.2h0M195.9 439.3h0M204.9 438.1h0M197.0 436.6h0M179.7 440.1h0M215.5 432.2h0M187.4 428.0h0M170.2 426.5h0M176.2 434.4h0M214.8 436.8h0M189.6 442.6h0M189.9 434.1h0M215.1 431.9h0M208.6 434.0h0M174.1 434.4h0M216.4 435.9h0M207.1 430.3h0M176.4 429.3h0M180.0 435.2h0M169.3 428.3h0M200.0 432.9h0M172.7 431.6h0M182.7 440.3h0M180.6 436.9h0M202.6 432.3h0M170.8 434.7h0M174.0 428.6h0M170.1 424.2h0M182.2 430.7h0M185.7 436.8h0M183.8 433.3h0M175.3 437.2h0M190.4 441.3h0M198.5 437.7h0M213.9 435.8h0M212.6 437.3h0M185.7 438.4h0M182.2 434.1h0M200.2 439.8h0M180.9 439.3h0M195.9 436.7h0M173.3 434.5h0M173.2 436.7h0M208.5 431.6h0M190.4 436.6h0M211.0 437.9h0M204.1 437.2h0M192.8 430.6h0M185.8 428.9h0M210.6 433.1h0M196.6 436.8h0M174.8 430.6h0M182.0 435.1h0M188.1 442.9h0M213.9 432.7h0M187.4 436.6h0M183.9 428.7h0M214.6 437.0h0M193.7 433.2h0M208.7 439.0h0M182.7 430.1h0M202.1 430.5h0M185.0 428.1h0M181.2 428.3h0M213.2 433.1h0M196.1 430.2h0M177.1 437.8h0M190.2 442.6h0M207.6 440.0h0M201.4 435.6h0M176.1 424.7h0M195.1 442.8h0M185.1 436.9h0M213.3 429.8h0M204.8 439.0h0M190.3 442.0h0M170.9 429.5h0M201.8 434.2h0M197.2 432.2h0M197.1 435.3h0M184.6 431.2h0M176.7 436.7h0M198.2 431.7h0M177.7 424.8h0M175.3 429.4h0M197.8 433.5h0M179.8 437.7h0M185.5 439.8h0M200.0 435.5h0M170.3 430.0h0M174.1 435.3h0M180.5 434.6h0M188.3 429.1h0M191.6 429.3h0M216.2 433.2h0M174.9 439.1h0M176.8 439.1h0M194.7 439.2h0M208.5 440.6h0M199.1 442.3h0M206.1 431.5h0M187.1 441.1h0M215.3 431.4h0M203.6 430.6h0M182.4 429.6h0M203.1 433.2h0M179.8 426.6h0M177.1 434.7h0M171.3 432.0h0M196.5 433.9h0M201.0 441.9h0M181.7 432.6h0M174.0 433.4h0M191.7 430.1h0M179.2 432.5h0M183.1 433.8h0M197.4 432.0h0M198.5 432.2h0M193.6 433.7h0M198.0 439.4h0M183.8 426.9h0M186.0 434.8h0M182.2 439.7h0M217.3 433.5h0M187.9 437.4h0M174.6 437.7h0M169.8 430.0h0M171.1 434.2h0M174.9 437.3h0M189.1 440.5h0M174.5 425.2h0M193.8 434.1h0M177.6 428.7h0M190.4 440.7h0M188.1 439.6h0M183.7 430.6h0M173.0 426.3h0M190.1 432.6h0M182.1 426.3h0M196.2 441.0h0M179.8 439.6h0M186.9 443.6h0M209.2 435.9h0M188.1 434.4h0M214.2 433.6h0M197.0 433.9h0M181.4 437.9h0M200.1 439.2h0M174.4 428.3h0M193.0 443.0h0M188.5 427.9h0M195.0 430.1h0M191.5 441.2h0M173.8 430.6h0M191.1 436.2h0M171.1 432.7h0M188.1 438.3h0M185.1 434.3h0M192.3 430.7h0M171.4 424.3h0M178.3 430.2h0M170.2 430.7h0M182.8 430.4h0M210.8 435.2h0M205.3 440.7h0M187.3 440.6h0M203.5 435.4h0M199.6 433.2h0M190.2 433.5h0M199.2 441.3h0M185.5 435.2h0M177.0 439.1h0M190.4 429.8h0M193.2 443.1h0M201.1 431.1h0M209.0 440.2h0M188.5 437.8h0M179.1 429.1h0M216.2 435.1h0M204.4 431.1h0M188.6 443.0h0M176.1 432.2h0M181.8 438.5h0M173.8 433.1h0M178.3 432.1h0M202.4 437.7h0M184.0 430.5h0M189.7 428.8h0M202.0 437.1h0M183.3 429.3h0M179.0 439.5h0M215.9 434.2h0M174.8 435.0h0M180.2 437.1h0M200.2 441.0h0M202.6 438.8h0M193.5 443.3h0M179.2 436.4h0M196.0 432.4h0M189.6 436.0h0M206.5 438.3h0M173.7 427.9h0M192.9 439.7h0M182.4 439.0h0M180.1 429.9h0M211.0 435.1h0M169.8 433.4h0M187.3 433.7h0M192.4 442.8h0M188.0 442.3h0M183.3 439.2h0M176.3 435.8h0M206.2 440.9h0M183.9 441.4h0M205.1 432.5h0M180.2 436.9h0M211.4 439.0h0M191.9 429.6h0M195.5 437.5h0M184.0 429.5h0M189.8 429.5h0M178.2 428.2h0M193.3 442.0h0M202.0 442.3h0M200.4 431.1h0M176.9 429.3h0M176.2 435.6h0M190.7 438.8h0M198.3 438.9h0M207.7 431.5h0M215.4 436.8h0M193.0 431.5h0M190.5 430.7h0M211.4 431.3h0M173.4 428.8h0M210.7 434.4h0M186.2 441.9h0M218.2 432.3h0M175.5 430.2h0M201.3 441.3h0M191.7 437.1h0M190.9 434.6h0M191.6 432.1h0M197.4 431.8h0M183.5 432.2h0M205.6 434.0h0M173.2 425.7h0M170.7 429.5h0M189.2 443.9h0M213.4 435.1h0M202.2 436.5h0M209.5 431.3h0M180.0 429.1h0M188.9 429.7h0M184.5 436.2h0M208.6 440.0h0M190.3 436.6h0M202.1 440.1h0M173.9 432.2h0M183.6 441.2h0M175.3 435.3h0M190.6 443.5h0M176.2 438.3h0M170.1 429.6h0M172.7 430.8h0M196.3 437.1h0M200.4 440.0h0M216.2 430.7h0M174.2 437.2h0M181.5 434.6h0M171.2 432.9h0M176.5 431.0h0M186.2 430.5h0M200.9 433.8h0M199.4 430.3h0M196.5 431.6h0M211.6 432.7h0M189.6 435.4h0M171.4 433.9h0M179.2 437.5h0M195.9 432.0h0M189.1 428.2h0M171.9 428.5h0M169.8 428.5h0M178.5 431.0h0M204.1 440.7h0M196.7 439.5h0M203.1 431.1h0M217.5 429.3h0M175.6 431.3h0M184.5 427.5h0M203.7 432.5h0M178.7 440.1h0M208.5 437.0h0M186.2 435.4h0M176.8 432.7h0M198.5 437.9h0M207.5 430.4h0M206.5 431.0h0M207.8 434.2h0M197.5 442.3h0M177.4 434.0h0M176.9 426.3h0M207.8 438.3h0M185.1 433.8h0M186.5 433.9h0M170.4 429.5h0M216.9 430.2h0M203.9 436.5h0M192.0 436.5h0M203.6 435.6h0M180.1 433.2h0M208.3 434.0h0M195.9 439.5h0M185.1 427.1h0M191.1 444.1h0M169.8 429.9h0M179.5 433.4h0M208.2 435.3h0M195.4 439.2h0M217.5 434.1h0M185.7 427.2h0M183.7 432.4h0M173.2 433.4h0M195.0 443.5h0M183.8 428.4h0M192.6 443.1h0M179.2 425.1h0M194.3 444.2h0M183.8 439.3h0M191.8 433.6h0M176.8 426.2h0M184.2 431.9h0M216.6 430.4h0M171.5 429.6h0M203.6 436.2h0M183.0 438.8h0M204.1 441.7h0M212.8 437.3h0M193.4 438.8h0M191.6 441.5h0M199.5 434.5h0M181.7 441.7h0M214.7 433.6h0M180.1 438.3h0M182.0 431.6h0M174.2 434.1h0M192.2 437.4h0M186.5 431.7h0M206.8 440.2h0M198.4 430.5h0M205.9 432.3h0M206.9 435.8h0M186.6 430.2h0M181.6 436.9h0M195.2 430.2h0M177.4 429.3h0M190.8 437.9h0M196.6 441.9h0M186.3 440.8h0M200.6 433.4h0M181.8 441.2h0M202.1 437.6h0M175.5 424.5h0M195.5 443.0h0M178.3 433.9h0M212.0 432.7h0M183.6 437.4h0M210.6 433.8h0M203.2 433.1h0M196.5 430.2h0M183.4 430.6h0M191.3 430.9h0M220.8 419.1h0M218.6 429.0h0M218.2 429.5h0M220.6 423.9h0M220.4 424.0h0M220.3 419.6h0M219.8 424.8h0M220.9 421.8h0M220.4 422.0h0M218.6 425.3h0M221.8 413.1h0M219.2 425.5h0M219.1 429.4h0M221.7 415.3h0M218.8 428.9h0M220.6 418.0h0M220.6 423.4h0M220.0 417.7h0M220.9 420.8h0M219.2 425.5h0M220.6 418.6h0M220.9 419.6h0M221.0 418.3h0M223.0 411.3h0M218.4 423.5h0M218.4 429.5h0M220.7 422.0h0M220.1 423.1h0M220.2 420.1h0M221.1 426.7h0M220.3 418.3h0M222.7 415.5h0M218.0 429.9h0M220.8 421.7h0M220.1 423.7h0"/>
<path stroke="#50a0f8" stroke-width="1.3" stroke-linecap="round" fill="none" opacity="0.88" d="M207.7 362.2h0M209.4 356.8h0M204.0 357.8h0M214.8 361.9h0M207.4 365.9h0M207.9 369.4h0M219.5 356.2h0M211.9 359.0h0M221.7 364.6h0M212.1 365.3h0M214.7 369.2h0M210.6 356.3h0M212.5 357.7h0M209.3 368.7h0M214.2 356.0h0M212.0 353.8h0M211.7 370.0h0M210.6 357.8h0M211.2 358.9h0M204.6 355.8h0M211.7 359.5h0M202.8 364.4h0M220.3 363.0h0M207.8 362.0h0M207.0 359.4h0M207.2 354.9h0M218.1 354.7h0M212.9 362.1h0M216.9 362.6h0M206.6 371.9h0M211.1 354.6h0M212.5 362.3h0M211.4 366.8h0M208.3 365.2h0M206.0 367.0h0M218.3 362.7h0M221.1 360.0h0M208.7 367.8h0M210.2 364.4h0M201.3 362.5h0M219.5 353.8h0M201.8 361.9h0M214.0 359.3h0M209.6 371.6h0M204.0 358.0h0M206.1 371.0h0M214.2 363.2h0M202.0 368.5h0M219.4 356.2h0M207.9 367.2h0M214.7 359.5h0M222.4 360.1h0M205.9 356.0h0M200.8 360.9h0M221.4 367.0h0M208.0 357.7h0M218.5 369.1h0M207.2 356.5h0M206.0 368.9h0M211.0 365.8h0M215.6 368.6h0M212.5 351.5h0M215.2 356.3h0M219.7 363.8h0M215.8 366.1h0M219.6 369.0h0M205.8 367.4h0M208.1 367.6h0M212.8 363.6h0M208.0 361.0h0M213.2 366.3h0M214.7 363.3h0M211.1 362.4h0M218.7 359.9h0M217.6 364.0h0M200.7 362.9h0M210.5 355.0h0M220.5 363.3h0M209.6 363.5h0M210.0 361.8h0M213.5 366.9h0M209.0 369.3h0M213.6 366.9h0M211.5 371.4h0M215.5 371.9h0M218.8 363.1h0M209.1 353.0h0M201.6 368.1h0M211.6 359.1h0M221.0 356.1h0M204.6 355.9h0M200.8 366.4h0M210.6 356.0h0M213.7 355.9h0M212.1 367.4h0M209.7 370.8h0M208.1 352.6h0M207.0 353.7h0M211.1 356.7h0M208.2 362.8h0M208.5 356.2h0M204.8 355.8h0M205.5 365.3h0M220.6 362.2h0M221.7 367.0h0M220.6 362.5h0M209.6 370.5h0M220.8 357.9h0M217.5 368.1h0M215.4 356.1h0M206.2 362.5h0M208.1 359.8h0M207.2 354.0h0M206.4 365.7h0M206.5 370.7h0M220.0 361.1h0M206.8 365.4h0M204.9 355.7h0M206.4 359.6h0M217.6 357.4h0M209.3 351.6h0M218.9 357.3h0M218.7 367.6h0M202.6 357.6h0M218.3 366.1h0M209.7 353.9h0M203.9 358.7h0M211.3 365.4h0M220.0 366.2h0M212.8 362.6h0M214.1 352.1h0M201.0 363.0h0M209.9 370.1h0M205.3 358.6h0M205.8 365.4h0M218.5 353.2h0M208.9 366.0h0M217.0 367.9h0M203.8 366.9h0M210.4 370.5h0M204.5 369.5h0M221.1 364.4h0M203.9 358.6h0M208.5 370.4h0M204.0 360.1h0M208.5 362.7h0M211.3 365.2h0M218.1 367.0h0M214.5 365.2h0M209.0 366.0h0M210.4 357.9h0M207.2 360.4h0M202.5 366.7h0M203.9 363.8h0M218.8 355.1h0M205.2 357.1h0M204.9 362.0h0M206.6 366.9h0M206.9 354.9h0M219.0 367.0h0M218.1 370.3h0M210.4 360.5h0M205.6 364.5h0M210.1 367.8h0M220.0 368.4h0M201.6 363.2h0M210.3 352.0h0M216.2 355.7h0M204.1 370.0h0M206.2 366.1h0M215.3 364.9h0M206.9 361.9h0M207.3 366.2h0M210.6 372.0h0M212.5 363.4h0M213.2 355.1h0M209.0 362.1h0M218.1 363.3h0M208.0 372.4h0M208.0 372.5h0M210.7 359.8h0M218.9 356.1h0M218.4 352.7h0M213.7 371.7h0M213.9 356.4h0M204.9 368.7h0M206.1 371.5h0M209.9 353.2h0M216.8 367.2h0M208.5 361.8h0M209.9 358.7h0M214.4 360.9h0M207.3 361.6h0M212.5 351.9h0M207.4 356.6h0M206.4 358.9h0M206.3 359.1h0M215.7 356.1h0M206.8 367.0h0M215.0 357.7h0M206.5 366.7h0M208.7 368.7h0M215.5 356.1h0M213.0 370.7h0M214.6 370.3h0M207.8 357.3h0M212.5 358.9h0M212.0 356.6h0M204.8 364.4h0M202.1 366.2h0M203.6 357.0h0M219.7 362.5h0M210.7 358.2h0M211.9 368.1h0M208.3 354.0h0M204.2 366.4h0M211.0 371.5h0M205.1 366.7h0M209.0 357.2h0M205.1 360.9h0M209.8 352.9h0M222.7 359.8h0M208.3 353.8h0M201.6 363.1h0M214.9 369.7h0M206.0 368.7h0M217.2 352.3h0M204.5 355.4h0M220.0 367.4h0M203.7 364.8h0M209.9 371.8h0M219.3 357.3h0M206.3 362.0h0M209.3 368.5h0M204.4 370.1h0M213.5 359.7h0M222.2 358.7h0M210.2 368.0h0M219.2 357.6h0M210.4 371.2h0M217.8 353.6h0M209.0 363.6h0M213.2 364.5h0M215.2 354.7h0M212.5 351.8h0M204.7 362.0h0M208.6 366.1h0M203.1 362.4h0M209.7 355.3h0M220.7 358.7h0M206.8 368.7h0M212.7 364.0h0M216.4 362.5h0M218.9 363.2h0M211.1 370.9h0M211.2 366.2h0M212.2 371.5h0M206.6 356.4h0M213.9 366.6h0M205.9 369.2h0M210.4 361.9h0M208.4 361.0h0M222.3 357.4h0M208.1 372.5h0M214.9 357.6h0M217.6 362.9h0M215.3 367.1h0M213.2 366.0h0M204.4 355.0h0M210.1 369.5h0M205.1 368.1h0M219.0 367.2h0M218.6 355.8h0M200.5 363.8h0M216.0 369.1h0M216.4 364.1h0M208.3 371.4h0M206.2 361.0h0M202.6 363.7h0M215.8 362.4h0M214.6 351.9h0M217.5 364.6h0M219.8 365.5h0M217.5 357.2h0M221.6 363.9h0M212.6 359.4h0M219.4 364.9h0M212.7 364.5h0M206.5 360.6h0M216.9 368.9h0M207.9 357.8h0M212.2 361.6h0M209.2 357.6h0M208.0 371.1h0M214.4 353.4h0M204.1 359.2h0M217.6 361.8h0M203.5 362.3h0M215.6 369.4h0M210.0 355.7h0M200.9 364.0h0M212.2 366.3h0M205.4 357.1h0M204.3 369.6h0M213.2 357.0h0M208.3 356.6h0M207.9 371.5h0M206.1 366.4h0M221.1 357.7h0M204.0 366.3h0M207.9 361.0h0M219.7 354.5h0M205.2 364.6h0M205.4 360.9h0M205.0 365.0h0M215.1 352.1h0M206.9 368.3h0M207.1 370.8h0M222.0 366.5h0M209.4 358.6h0M221.4 366.6h0M221.1 358.4h0M201.9 361.5h0M223.0 364.1h0M219.3 365.3h0M209.5 361.7h0M205.6 359.6h0M214.1 366.5h0M207.5 365.2h0M209.3 367.3h0M217.6 354.1h0M218.0 355.7h0M216.4 352.1h0M184.8 410.7h0M184.2 417.6h0M180.1 410.7h0M180.2 409.8h0M186.8 413.9h0M181.2 416.0h0M180.1 417.4h0M186.6 415.2h0M179.6 418.3h0M176.8 412.3h0M181.7 419.2h0M182.8 414.3h0M183.3 420.2h0M180.2 410.8h0M182.2 410.2h0M178.6 416.7h0M181.1 410.7h0M186.0 416.4h0M182.5 414.5h0M178.4 414.7h0M182.6 412.6h0M182.9 415.8h0M187.0 414.3h0M180.6 415.4h0M186.3 418.0h0M178.7 416.2h0M177.4 415.2h0M182.1 417.0h0M176.7 417.6h0M178.5 412.6h0M186.7 417.2h0M176.9 416.1h0M179.2 418.5h0M176.8 417.5h0M180.5 410.5h0M178.7 418.5h0M183.3 413.4h0M176.0 417.5h0M182.2 411.2h0M182.2 409.5h0M177.7 414.6h0M183.5 409.9h0M181.7 415.4h0M182.2 412.1h0M178.3 412.3h0M177.6 411.1h0M175.9 413.4h0M182.5 416.7h0M178.2 416.1h0M185.8 410.0h0M182.3 420.1h0M180.6 416.5h0M185.1 413.1h0M176.9 417.2h0M181.5 415.4h0M177.3 415.2h0M181.0 416.7h0M176.7 412.1h0M182.3 418.2h0M187.3 413.4h0M186.0 413.0h0M178.7 414.9h0M181.8 410.2h0M183.1 419.0h0M177.7 416.2h0M182.2 411.2h0M186.2 410.2h0M185.3 409.4h0M186.6 411.9h0M184.2 416.8h0M183.9 418.1h0M178.9 414.0h0M182.9 417.4h0M180.6 412.9h0M183.3 409.7h0M182.3 413.5h0M184.0 412.6h0M176.2 417.2h0M179.5 409.4h0M181.8 410.2h0M176.3 415.5h0M180.9 409.1h0M182.3 414.8h0M182.8 409.9h0M180.4 419.3h0M182.1 410.3h0M177.3 418.8h0M178.4 415.9h0M179.9 412.3h0M180.1 416.2h0M180.0 412.7h0M180.0 419.1h0M185.0 413.3h0M184.6 416.9h0M184.3 412.5h0M183.5 419.1h0M184.6 410.3h0M181.8 410.2h0M185.2 415.2h0M181.7 419.2h0M187.0 415.8h0M181.0 417.0h0M181.7 410.8h0"/>
<path stroke="#40c85c" stroke-width="1.3" stroke-linecap="round" fill="none" opacity="0.88" d="M353.3 386.7h0M336.2 390.3h0M327.2 374.1h0M347.4 391.6h0M337.3 381.3h0M339.9 377.3h0M331.4 368.0h0M338.7 389.3h0M328.2 386.4h0M345.1 385.9h0M320.2 378.9h0M339.3 391.6h0M321.1 389.0h0M319.5 381.5h0M326.0 386.1h0M331.5 373.9h0M336.1 391.9h0M350.9 381.5h0M344.4 392.8h0M344.0 383.9h0M346.8 369.3h0M337.9 373.6h0M334.7 368.5h0M325.2 381.0h0M355.9 384.0h0M348.5 377.3h0M317.9 374.9h0M342.6 382.3h0M317.5 372.3h0M343.0 393.3h0M332.3 381.0h0M352.4 387.5h0M342.5 381.7h0M348.9 375.4h0M314.9 389.5h0M342.7 368.9h0M354.4 379.4h0M332.9 368.3h0M319.1 389.4h0M344.0 382.5h0M336.1 376.3h0M316.4 373.7h0M346.9 386.0h0M347.3 370.0h0M330.7 379.7h0M313.5 382.4h0M319.8 380.5h0M346.6 368.7h0M354.2 387.7h0M328.7 368.7h0M343.1 378.5h0M356.8 379.6h0M339.8 375.8h0M319.1 377.9h0M322.3 380.7h0M323.6 387.0h0M350.7 385.6h0M325.2 367.6h0M345.9 377.6h0M339.9 390.9h0M326.3 377.4h0M355.3 377.6h0M352.6 380.2h0M349.5 374.8h0M322.9 379.4h0M330.8 375.6h0M321.6 390.2h0M342.1 382.3h0M315.7 375.1h0M352.5 376.4h0M341.4 373.3h0M341.1 381.5h0M338.6 367.5h0M322.8 374.2h0M335.6 375.0h0M329.2 380.4h0M337.6 376.4h0M327.9 382.6h0M340.3 387.5h0M340.5 369.5h0M328.3 384.5h0M344.2 392.3h0M345.0 383.4h0M339.7 373.8h0M338.1 376.6h0M327.3 372.4h0M326.1 380.9h0M315.5 390.0h0M324.4 390.7h0M322.9 380.9h0M343.2 383.3h0M352.8 387.3h0M333.8 377.3h0M330.1 379.2h0M326.0 386.3h0M317.3 389.2h0M328.2 391.6h0M323.1 388.4h0M350.7 375.5h0M337.6 388.5h0M354.4 382.6h0M332.8 383.8h0M339.7 369.0h0M338.1 392.7h0M336.6 371.2h0M326.2 392.4h0M331.2 368.4h0M325.2 382.6h0M319.8 380.2h0M334.0 385.3h0M324.8 371.5h0M333.2 371.3h0M337.4 377.4h0M350.4 371.4h0M336.1 374.1h0M318.6 369.9h0M337.4 381.1h0M340.0 385.7h0M354.2 373.5h0M320.0 389.0h0M316.3 384.6h0M326.3 394.0h0M318.5 380.2h0M318.1 369.7h0M344.4 388.8h0M319.2 374.6h0M323.6 373.4h0M339.1 366.3h0M348.4 389.7h0M355.0 384.8h0M318.4 374.4h0M339.4 386.7h0M346.6 387.8h0M328.8 379.7h0M339.7 380.5h0M323.6 375.1h0M342.5 368.2h0M349.3 368.5h0M331.4 391.3h0M320.7 381.0h0M321.8 369.3h0M339.7 392.1h0M330.8 392.6h0M327.0 385.7h0M351.2 371.2h0M345.0 374.2h0M330.1 370.2h0M352.4 374.4h0M330.3 390.5h0M330.6 382.7h0M338.6 388.9h0M332.5 391.6h0M335.6 391.4h0M346.8 378.0h0M324.8 390.5h0M339.2 372.1h0M338.2 383.4h0M314.7 381.2h0M339.1 371.4h0M352.4 376.9h0M337.4 375.2h0M331.7 394.4h0M329.5 379.5h0M323.9 377.8h0M346.8 391.9h0M342.3 393.3h0M324.6 392.5h0M347.3 385.7h0M333.1 387.0h0M313.7 384.5h0M318.4 378.5h0M315.3 386.4h0M321.6 370.7h0M343.7 386.3h0M331.7 371.9h0M321.1 368.4h0M316.5 374.2h0M337.1 368.0h0M337.5 380.5h0M326.1 368.3h0M330.4 390.7h0M345.4 386.6h0M325.9 371.0h0M346.8 368.5h0M333.1 376.4h0M326.0 382.6h0M334.8 389.6h0M322.5 374.8h0M328.2 370.2h0M325.0 380.5h0M329.8 374.5h0M347.1 387.1h0M353.5 381.8h0M338.4 383.3h0M353.6 375.5h0M350.5 380.7h0M346.7 388.7h0M325.4 383.2h0M332.6 370.8h0M329.5 393.7h0M327.5 369.8h0M343.1 379.7h0M339.7 369.7h0M335.8 379.0h0M338.0 379.8h0M328.1 369.5h0M320.8 372.1h0M329.4 394.7h0M316.0 377.3h0M336.0 371.8h0M327.5 386.4h0M342.9 389.1h0M343.6 375.7h0M342.1 389.1h0M343.8 383.5h0M330.7 367.4h0M332.5 369.2h0M325.6 388.2h0M338.6 391.9h0M350.8 386.9h0M345.5 384.3h0M337.0 369.5h0M334.7 392.2h0M344.3 393.0h0M347.2 367.9h0M330.3 390.5h0M344.6 380.2h0M332.7 377.4h0M328.9 376.3h0M333.5 383.1h0M319.4 370.9h0M340.6 382.6h0M334.3 381.1h0M325.8 381.4h0M325.8 383.5h0M326.1 378.3h0M314.7 375.9h0M332.7 383.9h0M326.8 373.0h0M333.0 392.3h0M353.9 387.0h0M354.1 380.5h0M340.0 369.9h0M344.7 373.7h0M337.2 372.7h0M335.3 377.5h0M351.6 381.2h0M346.6 373.5h0M334.9 381.3h0M326.3 378.0h0M327.2 385.7h0M338.4 386.7h0M316.5 372.3h0M320.2 382.1h0M333.0 391.3h0M350.6 382.9h0M332.5 378.9h0M334.0 388.1h0M342.3 368.8h0M348.6 392.9h0M345.7 371.0h0M352.4 370.2h0M343.3 388.6h0M336.1 368.0h0M314.2 384.7h0M346.4 376.0h0M346.5 377.0h0M332.8 385.9h0M343.1 384.8h0M318.7 386.0h0M347.2 387.8h0M340.5 383.2h0M341.7 387.8h0M333.5 374.4h0M328.2 370.5h0M348.2 381.0h0M356.2 384.8h0M337.0 369.1h0M315.5 380.4h0M317.9 384.4h0M323.0 392.7h0M341.3 367.4h0M350.8 385.8h0M322.1 376.9h0M342.5 391.9h0M330.3 389.4h0M340.0 389.8h0M315.8 386.7h0M350.4 376.1h0M350.3 376.2h0M349.6 375.6h0M337.2 384.0h0M328.0 378.5h0M340.9 393.9h0M344.0 369.4h0M352.3 386.6h0M335.6 382.7h0M340.3 369.0h0M333.7 392.3h0M315.7 381.5h0M315.3 378.4h0M332.1 374.9h0M328.8 372.4h0M330.1 394.4h0M318.7 390.1h0M347.9 379.3h0M343.3 382.0h0M346.2 389.8h0M314.9 383.8h0M345.7 368.1h0M336.3 389.7h0M342.4 377.1h0M348.9 392.5h0M322.7 373.2h0M349.1 387.9h0M331.6 394.7h0M356.0 383.3h0M329.4 368.6h0M331.7 368.5h0M322.5 391.1h0M345.7 376.4h0M352.7 388.1h0M342.9 385.8h0M324.5 382.2h0M320.7 369.2h0M344.8 378.8h0M326.6 388.7h0M341.0 385.6h0M352.7 371.4h0M332.5 368.1h0M345.2 387.8h0M315.7 389.7h0M339.5 373.2h0M343.6 393.0h0M351.4 377.2h0M324.2 386.5h0M327.2 390.6h0M324.9 391.9h0M353.8 381.7h0M350.6 369.9h0M344.9 368.7h0M326.7 374.4h0M319.5 384.6h0M356.4 380.6h0M354.5 373.7h0M318.2 374.2h0M348.9 375.5h0M328.0 391.3h0M339.6 377.5h0M351.3 370.1h0M321.4 383.9h0M334.4 385.9h0M348.7 385.9h0M320.3 387.0h0M323.0 368.8h0M325.7 377.2h0M334.9 369.4h0M340.7 377.0h0M356.5 379.9h0M349.5 389.4h0M339.4 385.2h0M316.1 372.2h0M326.5 371.1h0M323.9 368.8h0M338.6 391.3h0M327.4 390.2h0M351.1 382.6h0M350.9 373.3h0M339.7 384.7h0M324.1 381.0h0M347.7 379.9h0M351.2 380.3h0M346.1 370.3h0M341.4 368.5h0M334.4 393.6h0M313.7 380.5h0M332.5 389.2h0M350.0 381.5h0M338.2 381.7h0M341.9 372.5h0M322.8 380.2h0M342.2 389.0h0M324.6 371.5h0M316.5 388.1h0M332.1 389.4h0M328.1 369.2h0M318.4 371.7h0M347.8 386.6h0M343.6 388.5h0M336.1 373.7h0M348.3 373.2h0M349.9 375.7h0M355.5 383.2h0M336.7 374.2h0M352.6 383.8h0M325.4 375.0h0M325.8 375.5h0M354.2 382.7h0M340.4 387.6h0M315.3 383.5h0M347.3 368.4h0M353.9 380.3h0M330.7 390.0h0M324.7 380.2h0M325.8 386.6h0M328.6 379.9h0M330.8 388.6h0M336.6 377.2h0M351.3 378.8h0M316.7 386.2h0M327.7 387.1h0M344.6 382.1h0M343.1 391.3h0M338.3 377.0h0M321.7 375.7h0M348.9 390.9h0M328.6 372.8h0M329.8 377.8h0M343.6 367.2h0M342.8 367.1h0M321.7 378.8h0M346.6 371.6h0M341.6 366.7h0M319.5 374.9h0M315.9 389.4h0M338.1 390.0h0M333.3 382.2h0M326.5 384.6h0M350.3 377.8h0M327.9 388.1h0M348.3 392.4h0M330.5 375.8h0M335.0 383.3h0M342.4 390.0h0M340.5 373.3h0M346.9 388.5h0M349.7 368.9h0M330.3 390.7h0M329.9 370.7h0M314.2 386.4h0M332.9 370.9h0M332.8 387.3h0M315.7 375.4h0M342.2 384.0h0M337.5 374.2h0M328.3 393.1h0M334.0 374.4h0M333.5 369.4h0M337.9 393.3h0M350.0 371.7h0M356.5 377.8h0M319.6 369.4h0M328.7 377.1h0M346.6 374.2h0M340.5 379.9h0M348.1 373.0h0M355.0 387.2h0M340.3 382.4h0M341.5 366.7h0M352.1 380.1h0M321.3 376.4h0M344.6 388.8h0M322.1 377.2h0M330.0 393.7h0M344.6 381.1h0M332.5 368.0h0M346.0 375.9h0M316.4 379.6h0M343.4 381.7h0M330.1 387.4h0M323.4 386.3h0M331.2 394.0h0M350.5 372.5h0M352.2 378.9h0M327.7 370.3h0M322.3 377.2h0M342.9 392.2h0M325.4 367.3h0M338.8 376.6h0M354.6 374.2h0M342.7 387.1h0M333.8 388.4h0M349.9 369.6h0M349.2 383.2h0M339.1 368.8h0M337.5 374.6h0M322.9 393.0h0M324.0 371.7h0M350.7 381.5h0M351.5 371.0h0M352.6 378.1h0M351.9 383.7h0M327.6 376.3h0M317.4 382.0h0M324.0 375.3h0M329.7 379.9h0M328.2 381.7h0M335.4 391.4h0M336.6 385.4h0M342.3 376.8h0M332.2 372.1h0M342.6 369.4h0M350.1 377.9h0M330.9 388.9h0M325.7 385.8h0M347.3 385.4h0M319.9 369.5h0M346.0 383.6h0M328.6 393.2h0M320.7 390.0h0M321.4 379.7h0M326.7 383.1h0M327.7 388.9h0M338.4 370.8h0M343.5 368.5h0M350.9 375.4h0M340.6 392.5h0M332.5 375.2h0M315.0 385.4h0M342.4 385.7h0M316.2 375.8h0M324.7 370.5h0M317.4 372.6h0M350.8 391.1h0M339.6 375.3h0M327.1 392.2h0M318.6 369.3h0M354.6 373.9h0M355.0 374.5h0M316.9 375.3h0M350.8 390.9h0M339.6 381.4h0M332.1 376.0h0M354.3 377.4h0M317.3 383.0h0M329.2 375.2h0M354.5 385.3h0M333.1 392.8h0M320.7 371.2h0M345.5 374.3h0M344.5 375.3h0M321.8 386.8h0M346.0 374.6h0M314.2 376.2h0M336.8 374.8h0M346.7 379.7h0M322.2 381.8h0M318.6 386.6h0M320.3 382.8h0M323.3 369.3h0M334.9 371.4h0M342.8 380.6h0M322.4 392.3h0M336.8 388.9h0M347.5 373.4h0M322.4 374.4h0M335.3 387.4h0M317.9 373.6h0M353.9 383.2h0M338.6 378.5h0M327.0 376.9h0M333.8 375.8h0M339.9 370.4h0M329.6 393.0h0M334.8 389.6h0M320.5 389.7h0M320.1 390.9h0M346.7 385.8h0M347.0 375.5h0M348.5 392.7h0M340.9 385.8h0M322.9 377.6h0M344.2 383.1h0M336.9 369.9h0M313.2 379.9h0M330.9 389.2h0M337.9 384.6h0M339.8 393.6h0M340.9 382.7h0M344.0 388.9h0M325.5 369.3h0M326.2 384.3h0M322.1 376.2h0M333.2 375.9h0M341.3 393.2h0M336.4 389.2h0M322.9 391.9h0M350.7 369.2h0M313.2 378.1h0M319.8 389.8h0M334.3 384.5h0M334.6 369.1h0M332.4 394.0h0M342.5 378.2h0M314.2 378.1h0M326.9 387.2h0M329.6 367.6h0M329.9 366.8h0M338.7 393.1h0M337.6 382.1h0M337.9 366.7h0M326.5 379.5h0M336.5 392.1h0M343.9 375.8h0M356.3 383.7h0M315.7 381.1h0M325.6 377.6h0M339.7 390.4h0M344.7 393.5h0M337.9 369.2h0M338.6 391.4h0M327.2 394.2h0M315.6 383.8h0M322.5 383.0h0M323.1 381.3h0M353.5 380.9h0M320.1 381.9h0M350.0 369.6h0M319.0 384.6h0M323.9 369.5h0M351.0 370.0h0M315.7 374.1h0M346.5 381.5h0M338.3 370.6h0M342.5 369.6h0M348.4 388.8h0M354.4 378.5h0M329.1 391.4h0M331.4 385.5h0M346.0 372.0h0M337.7 389.4h0M327.5 379.4h0M341.9 387.5h0M331.1 370.0h0M330.5 369.5h0M340.3 367.9h0M324.7 367.6h0M334.9 392.7h0M342.9 369.5h0M318.6 385.4h0M316.4 383.2h0M351.8 377.6h0M326.8 367.5h0M345.0 382.1h0M344.3 368.8h0M329.5 375.3h0M336.0 380.5h0M344.6 379.0h0M333.5 371.2h0M330.5 372.7h0M331.7 385.0h0M333.9 372.6h0M346.0 369.9h0M349.6 391.6h0M321.5 371.2h0M337.4 367.1h0M335.3 380.2h0M347.6 371.5h0M345.9 368.3h0M335.6 378.2h0M329.1 380.0h0M327.4 386.5h0M331.4 374.7h0M341.7 390.1h0M347.2 392.1h0M353.7 381.9h0M331.7 369.5h0M334.5 370.5h0M325.7 371.2h0M349.2 383.1h0M331.3 376.9h0M325.7 371.6h0M348.8 375.3h0M330.6 391.0h0M338.9 367.1h0M340.1 368.8h0M334.7 373.1h0M347.2 382.5h0M332.6 388.0h0M352.8 378.1h0M343.5 370.4h0M341.5 377.2h0M316.9 369.7h0M330.2 370.3h0M346.4 391.5h0M332.7 371.3h0M314.3 382.4h0M330.7 385.7h0M326.3 374.2h0M340.8 392.4h0M332.5 388.3h0M313.6 380.8h0M347.1 378.7h0M316.3 384.5h0M356.0 376.8h0M318.4 381.4h0M340.6 379.8h0M315.8 376.8h0M334.0 374.6h0M333.7 385.7h0M340.4 382.0h0M329.4 373.0h0M343.7 379.9h0M321.6 368.9h0M351.5 389.5h0M355.6 385.7h0M331.8 392.6h0M315.6 379.2h0M351.0 381.6h0M348.0 388.5h0M325.6 393.8h0M337.5 378.1h0M337.8 392.2h0M327.3 367.9h0M336.8 369.0h0M328.5 371.1h0M314.9 377.7h0M322.8 376.0h0M327.8 389.2h0M330.8 370.9h0M339.0 380.1h0M315.8 379.6h0M325.5 373.4h0M334.3 391.9h0M331.3 391.1h0M335.2 374.9h0M326.5 392.1h0M353.6 373.1h0M338.6 375.7h0M323.4 387.1h0M347.0 370.3h0M327.1 375.4h0M325.0 388.1h0M347.8 368.0h0M331.7 394.2h0M355.9 386.4h0M347.3 384.0h0M330.7 366.9h0M316.6 380.9h0M352.4 377.5h0M335.3 369.8h0M339.9 392.4h0M323.1 379.5h0M333.6 392.6h0M344.6 383.2h0M320.3 385.5h0M334.7 385.9h0M327.0 377.8h0M335.1 388.9h0M335.9 372.0h0M334.0 382.6h0M314.7 382.9h0M337.5 384.7h0M342.5 388.0h0M316.3 375.2h0M324.6 384.3h0M352.1 376.6h0M323.7 381.7h0M352.4 387.2h0M324.5 393.2h0M319.7 382.7h0M321.5 369.2h0M326.8 386.4h0M343.3 370.6h0M328.1 394.0h0M338.9 389.7h0M348.7 375.1h0M348.5 386.1h0M327.4 386.0h0M347.6 380.8h0M336.5 371.8h0M348.6 391.1h0M333.3 369.1h0M353.2 381.7h0M338.6 386.9h0M337.6 383.7h0M327.8 382.5h0M322.2 386.3h0M344.1 380.3h0M346.0 381.4h0M321.7 374.9h0M326.4 376.6h0M327.7 371.6h0M317.8 379.8h0M315.6 378.9h0M318.8 379.8h0M318.3 373.1h0M335.1 389.8h0M346.4 370.1h0M326.1 382.4h0M345.1 392.6h0M336.5 370.0h0M314.0 382.6h0M351.4 373.4h0M343.4 387.8h0M334.3 372.6h0M317.2 384.9h0M319.1 383.9h0M323.5 368.9h0M333.7 388.7h0M346.3 375.1h0M326.9 381.8h0M336.6 368.2h0M353.0 389.3h0M345.3 368.5h0M337.2 370.0h0M317.0 380.9h0M334.5 378.9h0M344.9 382.2h0M331.2 391.4h0M321.8 381.2h0M315.6 388.9h0M321.5 382.4h0M343.7 368.4h0M316.4 380.6h0M339.5 371.7h0M327.6 393.4h0M341.3 371.0h0M339.8 373.7h0M323.0 387.2h0M346.6 370.6h0M344.9 377.3h0M332.4 387.5h0M325.7 379.9h0M339.5 393.2h0M353.3 388.7h0M336.1 375.8h0M333.2 379.2h0M331.3 391.6h0M334.2 387.3h0M335.1 392.2h0M349.5 374.8h0M348.0 385.8h0M332.0 370.0h0M317.0 376.4h0M340.4 391.3h0M329.4 386.4h0M339.0 392.1h0M345.3 374.4h0M329.1 367.1h0M339.9 367.4h0M316.2 382.8h0M351.6 390.3h0M334.7 390.7h0M338.6 391.3h0M342.8 374.6h0M337.9 387.5h0M335.2 374.6h0M354.7 377.1h0M332.5 381.0h0M314.1 381.7h0M339.8 370.9h0M343.7 379.1h0M354.6 377.0h0M342.0 376.1h0M334.8 389.2h0M351.5 370.0h0M325.6 368.7h0M335.4 374.0h0M325.0 385.1h0M335.9 378.4h0M337.8 375.6h0M320.6 374.5h0M353.3 380.3h0M317.4 382.9h0M320.3 369.9h0M333.7 391.3h0M337.5 366.4h0M347.4 381.1h0M326.9 375.2h0M350.2 376.6h0M342.8 374.4h0M332.0 369.5h0M322.8 376.1h0M334.8 376.3h0M340.3 379.2h0M326.7 377.1h0M332.2 374.9h0M328.9 379.5h0M350.8 389.4h0M350.9 379.6h0M350.2 385.5h0M327.1 383.6h0M315.0 384.8h0M341.8 376.2h0M327.4 389.0h0M325.8 381.3h0M326.6 375.5h0M337.6 390.6h0M348.3 377.2h0M319.0 371.3h0M348.8 371.7h0M330.6 394.8h0M323.7 388.5h0M323.8 378.3h0M354.3 385.1h0M331.5 393.9h0M335.9 369.6h0M326.6 371.3h0M325.0 370.4h0M342.4 388.5h0M348.3 380.7h0M318.9 388.2h0M340.5 369.6h0M349.3 386.7h0M338.1 373.8h0M329.6 394.4h0M339.5 367.6h0M331.8 382.4h0M343.2 381.5h0M322.0 385.7h0M334.9 385.4h0M326.7 388.1h0M321.8 376.0h0M315.0 388.8h0M322.4 390.1h0M339.2 389.8h0M343.4 371.3h0M345.2 389.5h0M331.9 388.8h0M326.8 368.8h0M335.1 368.1h0M328.8 392.8h0M350.7 387.7h0M330.1 370.3h0M335.6 368.5h0M346.7 389.2h0M316.4 375.2h0M336.1 377.2h0M343.4 367.1h0M346.1 385.2h0M322.5 368.3h0M318.4 370.5h0M333.1 370.5h0M348.7 383.3h0M324.1 374.3h0M330.9 378.3h0M339.9 371.0h0M339.5 384.5h0M350.8 389.6h0M346.6 383.0h0M341.5 383.5h0M328.6 368.5h0M333.1 377.5h0M352.5 380.1h0M327.1 377.6h0M334.6 383.8h0M344.1 367.2h0M346.0 386.6h0M353.5 376.2h0M325.3 390.5h0M353.4 387.1h0M325.2 380.8h0M337.8 373.9h0M338.5 383.4h0M332.4 373.4h0M350.3 368.6h0M333.5 383.9h0"/>
<path stroke="#e0843c" stroke-width="1.3" stroke-linecap="round" fill="none" opacity="0.88" d="M311.6 400.3h0M316.7 418.1h0M345.1 418.5h0M311.5 404.0h0M356.2 394.5h0M327.7 409.7h0M356.7 397.0h0M340.3 410.6h0M311.4 394.1h0M334.6 410.1h0M339.4 409.8h0M344.2 402.1h0M341.7 402.5h0M349.6 406.4h0M311.9 402.0h0M313.2 404.1h0M349.3 403.4h0M310.3 396.5h0M331.7 398.0h0M354.5 397.0h0M321.7 403.5h0M341.0 395.2h0M346.5 406.3h0M316.7 408.0h0M323.0 397.9h0M326.4 414.5h0M338.3 394.7h0M344.4 395.2h0M309.1 398.6h0M330.3 405.6h0M322.1 394.8h0M354.3 393.5h0M337.8 415.8h0M328.4 411.1h0M324.0 410.8h0M346.2 404.7h0M343.0 415.8h0M357.8 405.8h0M327.3 396.1h0M325.0 412.5h0M313.7 409.6h0M321.2 404.4h0M315.4 411.4h0M330.2 421.6h0M321.7 409.7h0M334.9 406.1h0M344.0 403.4h0M352.0 410.0h0M323.0 396.7h0M344.8 407.6h0M317.9 403.8h0M359.6 403.3h0M325.3 409.9h0M312.2 401.4h0M316.5 401.2h0M337.2 409.5h0M339.1 410.2h0M322.2 410.2h0M328.9 414.3h0M331.7 409.7h0M346.5 403.9h0M321.0 414.0h0M334.8 406.7h0M327.8 407.4h0M342.5 416.5h0M347.6 407.7h0M351.6 393.1h0M360.0 404.4h0M323.7 413.9h0M318.5 409.8h0M312.0 411.6h0M352.0 413.2h0M338.3 415.0h0M320.5 405.2h0M339.6 398.9h0M326.6 413.3h0M337.9 413.0h0M339.8 415.4h0M336.3 413.9h0M354.5 398.1h0M311.9 400.7h0M347.7 397.0h0M319.2 400.0h0M330.6 406.1h0M322.4 399.3h0M320.0 396.6h0M336.3 410.6h0M335.7 420.2h0M315.6 409.1h0M314.1 414.4h0M347.8 398.1h0M328.7 394.7h0M334.6 399.3h0M353.8 394.2h0M336.0 403.1h0M354.1 402.8h0M332.5 402.1h0M331.4 413.4h0M328.1 406.9h0M332.0 412.0h0M326.8 420.3h0M313.1 393.6h0M322.4 396.7h0M315.4 395.5h0M362.8 400.2h0M333.5 414.8h0M350.1 410.4h0M340.9 409.3h0M313.2 410.3h0M342.3 418.2h0M351.3 405.7h0M342.8 398.9h0M322.0 395.1h0M341.7 399.5h0M321.3 413.2h0M363.0 401.3h0M332.5 411.7h0M355.4 409.6h0M358.8 399.1h0M354.0 396.2h0M312.4 399.6h0M346.3 408.9h0M325.0 403.2h0M319.6 411.0h0M350.9 393.2h0M312.5 411.0h0M310.0 411.3h0M314.8 396.5h0M331.0 412.2h0M328.1 398.3h0M349.9 401.0h0M324.3 414.2h0M309.8 406.7h0M324.9 410.9h0M322.4 405.3h0M344.8 419.8h0M316.6 406.1h0M316.4 397.0h0M320.8 404.2h0M314.1 408.1h0M337.6 394.0h0M336.9 419.8h0M335.4 404.2h0M327.4 410.0h0M328.0 412.2h0M338.5 409.4h0M350.9 399.9h0M312.6 401.7h0M320.9 412.7h0M341.3 393.3h0M349.3 403.0h0M341.8 399.5h0M317.3 400.7h0M345.6 406.1h0M350.1 414.1h0M357.1 394.7h0M318.2 399.8h0M347.4 403.6h0M331.8 395.0h0M351.8 413.6h0M343.5 418.7h0M351.7 405.3h0M329.9 421.5h0M352.3 407.4h0M345.6 399.1h0M319.7 398.5h0M338.3 400.0h0M329.9 405.8h0M317.2 407.1h0M310.1 403.9h0M342.0 406.8h0M310.0 406.7h0M358.8 401.9h0M323.8 416.5h0M334.6 396.9h0M315.4 410.2h0M317.3 411.1h0M316.7 404.2h0M344.6 410.7h0M326.1 408.8h0M313.6 396.4h0M310.6 411.6h0M362.2 404.7h0M358.5 396.2h0M347.1 398.9h0M360.4 400.3h0M330.7 405.7h0M324.5 418.2h0M326.9 414.0h0M322.6 417.3h0M335.9 393.7h0M357.4 395.2h0M313.1 411.3h0M340.1 407.0h0M325.6 402.2h0M332.0 419.2h0M339.1 417.9h0M339.7 400.8h0M316.5 406.4h0M328.9 411.5h0M339.9 414.1h0M319.5 416.7h0M328.1 394.2h0M333.5 396.1h0M333.9 419.1h0M330.6 396.6h0M349.0 401.2h0M341.3 415.7h0M323.3 397.1h0M315.2 411.0h0M351.9 414.1h0M362.9 402.1h0M347.7 408.7h0M345.7 399.8h0M324.4 393.1h0M310.7 395.5h0M311.9 390.8h0M325.9 406.3h0M348.1 394.6h0M316.0 409.5h0M328.3 419.4h0M342.6 412.0h0M355.6 405.9h0M331.3 410.7h0M314.7 395.8h0M314.5 414.8h0M343.2 395.8h0M357.4 394.8h0M320.2 400.6h0M351.9 409.4h0M352.2 413.1h0M350.0 406.8h0M337.2 409.6h0M335.8 401.1h0M345.7 416.6h0M330.4 403.3h0M310.7 401.3h0M332.0 407.9h0M355.0 395.5h0M333.7 413.1h0M314.7 397.4h0M321.7 407.4h0M349.7 415.6h0M314.4 401.7h0M314.1 399.3h0M352.5 405.4h0M325.5 403.3h0M347.2 392.8h0M333.6 395.1h0M346.3 416.0h0M321.8 395.3h0M315.7 408.4h0M340.5 409.0h0M334.9 417.0h0M334.7 418.4h0M333.2 405.1h0M332.1 397.3h0M331.5 402.0h0M353.6 400.3h0M349.7 408.8h0M342.1 415.3h0M357.4 394.3h0M325.1 418.9h0M331.0 402.9h0M324.0 415.2h0M337.1 405.5h0M356.3 395.2h0M352.4 413.7h0M353.2 406.7h0M314.2 396.2h0M348.1 394.4h0M342.1 402.9h0M328.6 393.9h0M339.0 410.3h0M310.9 405.4h0M316.9 400.3h0M314.6 401.1h0M337.2 420.1h0M317.6 414.2h0M331.7 406.3h0M319.3 395.1h0M327.4 406.5h0M323.9 406.7h0M358.1 404.9h0M330.2 411.8h0M359.3 396.1h0M358.3 400.7h0M328.3 399.2h0M352.5 410.3h0M317.1 399.7h0M340.9 416.6h0M342.5 411.3h0M326.0 417.3h0M342.9 409.3h0M324.6 408.3h0M326.5 402.7h0M360.8 404.2h0M319.5 403.2h0M321.6 412.7h0M320.7 412.7h0M334.5 403.3h0M341.6 396.7h0M326.6 394.6h0M343.9 419.1h0M312.4 398.6h0M315.3 406.9h0M355.0 394.9h0M354.6 402.8h0M338.5 409.3h0M340.7 409.0h0M326.1 395.0h0M334.2 398.1h0M336.6 398.3h0M339.4 400.0h0M332.0 419.3h0M321.1 416.5h0M333.1 401.1h0M330.5 406.4h0M326.6 409.5h0M332.1 408.6h0M317.2 406.6h0M357.5 396.1h0M322.9 402.0h0M339.1 402.5h0M357.3 397.5h0M322.5 407.3h0M326.5 412.9h0M337.3 416.9h0M320.2 420.1h0M362.9 403.1h0M339.8 403.5h0M351.8 413.7h0M310.1 400.9h0M342.7 419.1h0M326.5 414.9h0M353.7 405.6h0M347.4 413.9h0M345.6 417.0h0M311.9 408.9h0M328.8 406.8h0M355.3 399.2h0M336.7 414.1h0M338.4 407.8h0M313.5 403.9h0M351.8 401.4h0M318.8 414.4h0M346.7 413.4h0M350.2 414.0h0M312.6 392.7h0M344.7 400.7h0M327.4 419.2h0M322.4 403.3h0M342.0 396.4h0M353.2 403.0h0M361.7 401.8h0M330.4 403.4h0M317.6 400.7h0M348.8 401.0h0M328.4 403.6h0M325.7 420.9h0M359.0 408.8h0M341.8 412.8h0M342.1 407.9h0M347.5 408.7h0M354.4 406.6h0M326.7 395.5h0M325.3 402.3h0M326.8 407.5h0M342.6 400.9h0M334.7 412.1h0M312.6 412.2h0M352.0 413.8h0M329.0 416.5h0M321.0 411.2h0M328.3 418.9h0M324.8 413.3h0M338.4 403.4h0M363.3 404.7h0M344.6 410.3h0M326.3 408.8h0M332.6 409.9h0M346.3 393.4h0M324.0 408.3h0M357.1 403.8h0M353.6 408.3h0M327.1 402.4h0M337.4 418.0h0M314.2 404.5h0M355.2 396.5h0M338.6 418.0h0M351.9 396.6h0M333.1 402.0h0M358.8 407.8h0M312.7 401.4h0M317.5 399.6h0M351.2 414.8h0M342.6 415.9h0M328.2 417.0h0M352.3 405.2h0M342.5 403.6h0M314.0 409.0h0M335.4 397.9h0M330.6 409.6h0M324.0 401.1h0M334.5 402.5h0M329.0 409.8h0M333.9 419.5h0M326.3 409.6h0M361.3 400.7h0M337.1 399.9h0M324.9 404.3h0M345.0 408.2h0M314.0 413.1h0M329.7 419.9h0M325.4 393.9h0M312.0 396.6h0M323.7 394.4h0M323.3 412.5h0M344.0 399.9h0M335.7 415.4h0M316.1 398.9h0M332.4 400.3h0M345.1 417.3h0M354.2 410.3h0M338.5 411.2h0M324.8 412.5h0M318.7 419.7h0M351.1 413.7h0M334.8 409.1h0M334.0 411.2h0M313.4 406.2h0M331.6 418.1h0M324.3 399.6h0M317.5 415.4h0M348.1 397.3h0M347.6 398.0h0M357.5 403.4h0M357.8 406.5h0M315.8 414.6h0M317.0 394.5h0M331.4 407.6h0M341.3 419.4h0M335.2 407.3h0M359.7 407.0h0M318.0 396.4h0M334.5 409.3h0M314.7 406.7h0M335.1 405.9h0M345.4 397.0h0M312.7 408.7h0M320.6 407.2h0M347.8 401.7h0M335.5 413.9h0M327.9 413.4h0M316.5 406.0h0M313.3 407.7h0M318.5 406.4h0M347.5 412.2h0M332.2 410.8h0M338.4 402.9h0M327.5 405.0h0M342.5 400.9h0M349.2 413.6h0M335.2 407.5h0M314.3 391.4h0M354.0 399.0h0M349.2 402.9h0M312.6 394.8h0M309.5 403.3h0M342.9 413.2h0M313.6 390.8h0M320.9 414.4h0M315.5 394.8h0M348.4 404.8h0M338.4 393.4h0M315.6 402.4h0M337.5 403.2h0M348.8 411.1h0M327.5 408.9h0M321.2 419.0h0M330.2 409.6h0M349.4 413.1h0M316.4 391.4h0M324.7 406.9h0M326.3 398.6h0M350.3 394.2h0M319.6 405.0h0M315.0 416.4h0M342.3 418.9h0M324.7 406.5h0M335.9 416.8h0M331.4 410.4h0M361.8 404.2h0M313.3 412.5h0M323.6 410.7h0M316.9 392.8h0M360.1 401.1h0M324.3 406.4h0M323.5 408.7h0M321.3 414.8h0M361.2 397.8h0M327.9 403.5h0M313.0 406.5h0M317.5 417.5h0M318.0 397.5h0M319.9 413.0h0M337.1 399.8h0M340.2 408.4h0M339.1 398.1h0M352.1 397.4h0M353.4 395.9h0M318.6 398.4h0M349.1 399.1h0M331.4 417.8h0M322.9 417.9h0M330.8 404.7h0M313.8 402.8h0M333.6 398.3h0M331.0 405.0h0M342.0 417.0h0M349.7 408.7h0M325.8 393.4h0M320.6 407.5h0M332.4 400.2h0M315.7 413.5h0M330.4 400.4h0M356.9 396.5h0M335.8 398.8h0M354.5 405.3h0M330.2 405.8h0M362.1 404.6h0M342.1 415.9h0M346.8 401.0h0M337.6 415.0h0M314.1 394.5h0M340.6 407.9h0M347.6 396.5h0M311.7 406.2h0M338.5 417.0h0M338.8 419.8h0M322.2 413.2h0M318.2 406.0h0M343.5 392.8h0M329.3 418.0h0M313.4 394.7h0M312.2 411.5h0M349.6 403.1h0M324.3 407.1h0M339.2 397.4h0M319.4 415.1h0M337.0 419.9h0M327.2 401.9h0M348.4 415.2h0M347.1 404.9h0M328.0 420.3h0M338.2 412.1h0M336.4 417.9h0M322.8 409.3h0M346.0 414.8h0M347.3 405.8h0M320.0 396.9h0M343.9 416.1h0M320.8 410.8h0M346.5 418.2h0M317.9 402.6h0M361.8 402.3h0M318.3 412.2h0M350.1 414.9h0M327.2 405.4h0M313.5 403.2h0M328.6 401.3h0M331.7 401.3h0M327.3 411.9h0M340.9 418.3h0M351.2 414.6h0M341.7 397.7h0M321.6 410.1h0M344.1 396.4h0M309.6 398.7h0M344.1 398.9h0M342.3 407.9h0M310.2 399.0h0M354.2 401.9h0M331.7 417.2h0M357.1 407.4h0M333.0 402.6h0M314.1 403.5h0M309.7 405.1h0M339.8 402.0h0M341.8 418.2h0M358.7 401.9h0M324.0 395.2h0M361.8 406.7h0M321.7 417.8h0M357.7 399.1h0M340.9 401.9h0M358.9 398.2h0M311.5 396.5h0M339.1 414.2h0M337.1 417.9h0M328.9 406.5h0M335.2 416.6h0M340.6 404.8h0M329.3 420.7h0M349.3 401.4h0M345.1 393.8h0M317.5 400.8h0M322.2 406.1h0M348.0 408.8h0M332.5 417.0h0M328.4 395.3h0M356.2 405.8h0M313.5 411.8h0M332.5 408.3h0M351.0 410.8h0M361.6 401.2h0M320.6 414.5h0M317.3 407.8h0M321.5 404.5h0M358.4 397.7h0M342.3 395.5h0M331.9 418.6h0M345.1 419.2h0M326.0 398.8h0M316.2 394.0h0M347.6 402.6h0M319.6 399.5h0M323.3 402.2h0M351.4 408.0h0M337.9 394.7h0M338.9 399.9h0M312.5 405.6h0M335.2 394.2h0M359.3 404.4h0M327.1 410.1h0M314.7 404.0h0M339.3 394.7h0M316.0 394.9h0M356.2 410.3h0M356.7 409.2h0M340.5 404.4h0M326.9 406.1h0M334.6 397.2h0M319.2 418.2h0M358.5 407.2h0M345.1 407.3h0M330.9 421.8h0M341.2 398.0h0M322.7 405.3h0M318.3 414.5h0M349.5 412.1h0M322.4 394.2h0M339.0 404.4h0M322.8 419.2h0M344.1 403.3h0M347.7 396.4h0M351.1 394.1h0M341.0 410.7h0M330.2 420.9h0M320.0 397.4h0M353.4 401.7h0M330.0 406.5h0M327.6 393.8h0M326.5 402.1h0M317.4 413.6h0M347.7 414.5h0M354.0 402.1h0M327.7 416.4h0M349.4 404.3h0M334.0 409.4h0M316.5 394.3h0M341.2 409.0h0M349.9 392.4h0M318.6 410.9h0M320.9 407.1h0M318.8 411.3h0M322.7 419.3h0M360.4 399.0h0M359.0 408.5h0M320.2 406.0h0M330.3 420.2h0M318.1 411.2h0M331.6 397.3h0M342.7 416.8h0M343.5 392.9h0M344.7 401.8h0M353.8 409.8h0M353.5 401.0h0M316.1 414.8h0M352.2 413.2h0M348.0 414.9h0M336.4 395.0h0M324.3 415.5h0M357.5 400.0h0M354.5 394.0h0M326.9 414.9h0M347.7 395.4h0M355.1 409.1h0M326.3 402.4h0M326.5 405.7h0M348.4 395.2h0M326.6 406.7h0M338.3 396.6h0M335.4 398.4h0M333.1 398.8h0M339.1 409.1h0M362.0 400.0h0M333.1 404.4h0M324.3 398.8h0M350.1 402.7h0M346.3 414.8h0M316.0 411.6h0M333.0 403.2h0M349.8 411.4h0M334.7 396.1h0M358.3 406.8h0M324.5 403.9h0M345.6 399.0h0M334.1 413.1h0M344.8 406.9h0M345.5 400.7h0M354.9 411.9h0M312.4 401.3h0M324.2 419.7h0M344.0 411.3h0M337.4 397.5h0M344.4 407.8h0M343.5 394.4h0M317.9 401.5h0M328.4 395.8h0M344.5 418.7h0M339.1 414.3h0M329.5 402.2h0M344.3 394.9h0M348.4 412.2h0M327.8 419.8h0M353.5 412.9h0M334.1 408.1h0M344.3 398.3h0M355.6 409.1h0M333.7 409.5h0M335.3 402.5h0M338.3 417.3h0M357.3 402.8h0M334.9 402.1h0M359.6 399.5h0M339.2 408.8h0M317.7 407.3h0M325.3 396.4h0M310.9 409.2h0M312.7 412.8h0M344.6 413.1h0M326.7 416.9h0M322.9 418.4h0M336.5 399.4h0M326.2 401.3h0M335.0 417.1h0M321.4 405.9h0M315.5 394.9h0M334.0 402.6h0M325.2 416.8h0M313.0 390.4h0M327.5 398.2h0M350.1 400.9h0M315.2 406.0h0M360.9 406.6h0M317.9 415.8h0M313.9 398.3h0M350.0 413.0h0M337.0 403.1h0M313.2 406.2h0M333.0 395.0h0M348.9 397.7h0M323.1 400.1h0M339.5 406.7h0M349.9 403.1h0M332.5 403.4h0M325.4 414.5h0M324.6 412.0h0M361.3 403.5h0M341.3 397.9h0M342.8 410.4h0M312.4 392.3h0M333.2 413.0h0M322.5 399.5h0M351.7 402.8h0M315.2 407.4h0M325.6 398.5h0M357.0 396.1h0M352.9 398.5h0M318.5 418.3h0M321.9 397.0h0M335.2 406.8h0M314.9 415.4h0M331.6 397.7h0M352.1 394.4h0M339.3 394.5h0M339.0 419.2h0M340.9 417.2h0M327.0 406.7h0M330.4 410.3h0M346.0 399.8h0M335.5 414.3h0M323.5 399.4h0M319.4 411.6h0M313.6 395.0h0M318.3 404.1h0M329.6 409.7h0M331.2 398.5h0M329.9 401.3h0M328.6 407.4h0M328.7 410.2h0M353.9 402.0h0M326.1 411.3h0M310.9 400.2h0M321.0 405.8h0M331.4 397.2h0M319.9 411.1h0M326.0 396.0h0M340.5 394.2h0M313.7 391.6h0M341.2 409.8h0M345.2 407.7h0M327.3 404.6h0M353.8 409.5h0M352.7 399.3h0M356.6 402.0h0M354.0 398.2h0M354.4 411.9h0M345.0 401.6h0M335.0 414.5h0M326.4 417.7h0M337.3 403.9h0M337.3 419.7h0M350.9 400.9h0M343.1 411.6h0M326.6 406.7h0M351.8 395.3h0M327.4 401.7h0M344.5 404.3h0M309.3 398.2h0M327.8 394.5h0M312.0 390.7h0M341.8 405.2h0M341.4 400.5h0M315.9 396.3h0M331.2 416.4h0M318.2 393.3h0M321.1 403.6h0M355.1 397.6h0M344.7 403.4h0M343.7 405.2h0M320.8 403.2h0M324.4 404.2h0M314.0 408.8h0M313.0 406.3h0M340.7 412.7h0M336.7 407.9h0M337.8 411.3h0M312.9 396.7h0M329.1 400.1h0M351.1 410.4h0M324.8 401.9h0M348.5 411.3h0M339.0 403.2h0M322.2 402.7h0M313.0 412.4h0M342.1 416.9h0M354.8 412.1h0M314.0 411.9h0M322.0 399.9h0M327.9 408.0h0M351.7 395.1h0M327.4 396.0h0M343.8 395.3h0M329.9 416.3h0M339.1 399.9h0M317.4 394.3h0M343.0 398.4h0M319.3 414.0h0M328.6 396.7h0M313.1 399.3h0M336.1 401.0h0M350.9 404.9h0M326.2 415.9h0M353.3 400.7h0M344.1 412.5h0M317.4 395.1h0M328.3 401.7h0M363.5 403.4h0M322.7 396.8h0M322.2 409.1h0M310.2 398.3h0M356.8 402.3h0M350.0 407.5h0M321.7 393.6h0M330.1 419.3h0M333.2 415.2h0M326.8 399.9h0M312.5 397.1h0M361.5 403.7h0M345.4 407.9h0M320.9 415.6h0M341.1 402.0h0M331.8 398.8h0M335.7 417.7h0M344.8 407.2h0M315.1 391.7h0M320.7 408.0h0M330.5 415.7h0M312.2 411.5h0M335.3 417.3h0M313.4 415.2h0M349.8 407.2h0M350.6 411.3h0M340.7 400.3h0M355.4 398.1h0M319.1 396.8h0M352.6 396.1h0M340.4 409.0h0M312.9 400.1h0M341.6 416.6h0M334.3 415.6h0M329.1 421.7h0M319.2 408.3h0M348.6 415.4h0M359.7 403.1h0M313.7 404.6h0M327.9 396.6h0M347.6 409.6h0M320.2 418.5h0M344.6 398.3h0M311.8 391.8h0M348.5 409.9h0M338.5 403.3h0M321.7 419.3h0M339.4 420.7h0M331.8 399.2h0M337.3 418.7h0M344.5 413.5h0M346.3 401.0h0M352.4 409.0h0M316.6 395.5h0M314.9 403.9h0M317.7 408.3h0M315.2 414.4h0M324.2 412.2h0M328.6 402.3h0M316.9 415.3h0M333.1 396.3h0M324.4 396.7h0M336.8 417.2h0M317.4 415.8h0M353.4 393.2h0M346.5 409.4h0M340.1 393.5h0M358.6 406.7h0M337.2 397.0h0M324.2 408.9h0M322.6 411.3h0M348.9 405.8h0M350.4 401.8h0M361.4 402.2h0M324.2 419.1h0M345.1 394.9h0M326.4 399.5h0M316.4 405.5h0M355.2 395.4h0M323.8 405.9h0M329.5 409.4h0M315.0 397.1h0M357.6 397.6h0M362.0 400.3h0M325.2 406.0h0M336.8 402.2h0M346.2 416.3h0M336.8 416.4h0M326.9 402.8h0M345.1 418.8h0M339.9 416.2h0M320.9 395.4h0M333.1 414.7h0M323.7 404.3h0M342.5 397.1h0M333.9 407.8h0M361.6 404.7h0M315.3 404.0h0M341.3 398.9h0M330.7 401.9h0M360.3 396.8h0M322.3 420.5h0M358.5 405.2h0M316.5 402.0h0M328.4 420.2h0M339.2 411.1h0M315.4 402.0h0M312.9 401.2h0M325.0 406.8h0M347.2 405.4h0M335.0 406.8h0M327.6 404.3h0M311.7 408.0h0M313.6 408.7h0M324.0 413.3h0M331.6 398.5h0M347.2 400.5h0M329.8 415.5h0M315.1 416.0h0M333.5 418.4h0M320.9 396.4h0M318.9 397.2h0M319.2 407.6h0M353.2 394.7h0M335.1 419.4h0M338.8 419.2h0M326.1 417.6h0M330.1 416.9h0M321.1 394.1h0M333.8 416.0h0M331.0 401.2h0M324.3 402.5h0M322.3 416.5h0M331.6 413.7h0M359.9 396.5h0M343.1 405.3h0M323.7 406.0h0M347.6 408.5h0M345.7 397.5h0M310.4 407.3h0M321.6 411.3h0M310.8 393.8h0M314.5 395.9h0M346.2 402.7h0M313.4 410.5h0M326.6 396.5h0M349.7 401.8h0M331.4 416.4h0M340.4 401.0h0M361.6 399.8h0M353.0 396.0h0M318.8 398.1h0M325.6 400.5h0M355.4 410.3h0M318.0 415.1h0M322.7 420.6h0M344.2 409.7h0M324.2 417.2h0M339.8 403.1h0M336.0 405.2h0M329.4 396.4h0M341.0 404.5h0M320.8 397.3h0M348.4 395.8h0M346.4 402.0h0M314.7 396.9h0M348.8 400.4h0M361.3 404.6h0M353.1 397.1h0M360.7 397.4h0M343.8 393.5h0M346.4 409.9h0M312.0 399.6h0M327.3 397.5h0M353.1 394.1h0M323.4 395.6h0M318.5 418.0h0M351.4 399.6h0M325.1 395.3h0M342.3 393.6h0M332.6 410.4h0M316.4 391.2h0M311.6 404.0h0M347.8 408.2h0M362.3 403.7h0M357.6 398.3h0M330.3 421.8h0M332.4 409.3h0M329.0 420.0h0M329.2 397.3h0M322.6 417.0h0M340.1 402.3h0M319.4 398.6h0M322.7 405.7h0M312.1 407.2h0M341.9 414.0h0M339.0 414.4h0M318.3 416.6h0M320.7 401.0h0M342.2 393.4h0M348.4 400.6h0M319.1 396.1h0M321.4 410.2h0M322.0 408.1h0M350.1 400.5h0M344.9 392.7h0M338.3 405.2h0M309.8 399.3h0M356.0 405.1h0M335.0 407.2h0M319.0 410.9h0M317.0 407.2h0M335.4 412.3h0M317.1 404.2h0M347.7 403.4h0M315.0 390.8h0M318.4 397.3h0M321.2 403.0h0M350.1 409.4h0M331.0 402.1h0M334.3 401.0h0M357.8 402.7h0M350.1 407.7h0M333.1 408.9h0M352.0 405.2h0M345.5 399.1h0M346.1 397.4h0M324.6 419.9h0M347.1 410.5h0M325.5 408.4h0M325.4 397.0h0M344.4 394.3h0M310.6 411.2h0M328.6 400.9h0M343.7 418.1h0M345.0 394.0h0M350.9 407.5h0M325.6 404.8h0M333.6 401.1h0M340.7 404.7h0M353.1 409.6h0M342.7 398.1h0M339.7 412.2h0M315.9 408.8h0M342.2 408.3h0M354.7 395.1h0M348.5 413.0h0M338.0 404.4h0M329.8 402.1h0M331.2 396.5h0M353.5 408.7h0M314.4 406.9h0M343.6 419.2h0M332.1 414.4h0M322.9 401.4h0M331.3 409.1h0M323.5 395.2h0M310.5 395.4h0M326.0 404.5h0M331.2 408.0h0M354.6 409.7h0M315.6 403.4h0M343.1 412.8h0M335.0 413.8h0M331.5 417.3h0M309.5 397.8h0M342.8 416.4h0M324.3 412.3h0M337.1 415.6h0M357.1 404.7h0M322.0 400.9h0M329.3 420.6h0M318.9 395.5h0M329.6 403.7h0M350.9 398.4h0M328.1 400.2h0M316.9 406.8h0M328.2 399.2h0M324.3 414.8h0M329.9 411.9h0M347.5 416.1h0M354.5 411.9h0M337.2 400.8h0M314.7 393.3h0M330.9 418.4h0M360.4 397.5h0M339.3 400.8h0M339.3 418.3h0M317.8 406.5h0M313.3 393.8h0M328.0 406.1h0"/>
<path stroke="#54be2a" stroke-width="1.3" stroke-linecap="round" fill="none" opacity="0.88" d="M375.4 403.0h0M385.3 396.7h0M401.9 414.3h0M367.0 396.7h0M383.9 408.3h0M408.3 398.3h0M377.8 396.4h0M413.5 414.7h0M387.6 402.9h0M392.6 403.0h0M361.8 395.1h0M382.3 406.4h0M398.6 414.3h0M407.8 398.3h0M415.3 411.7h0M399.2 402.1h0M408.7 403.5h0M396.6 409.0h0M392.4 400.2h0M399.9 398.3h0M410.6 406.5h0M360.4 394.0h0M387.7 394.7h0M389.9 396.2h0M411.7 413.4h0M412.6 417.7h0M403.9 410.3h0M378.7 395.5h0M366.4 394.0h0M410.6 414.5h0M389.4 412.9h0M374.2 403.2h0M380.6 406.2h0M397.2 400.2h0M392.6 406.4h0M383.0 410.4h0M390.2 405.6h0M401.2 416.5h0M360.2 394.1h0M388.1 415.2h0M401.5 413.5h0M378.0 408.1h0M391.2 395.0h0M388.7 405.5h0M386.7 417.8h0M400.1 410.3h0M386.2 412.7h0M396.3 399.8h0M383.8 397.0h0M413.3 405.4h0M391.6 418.9h0M383.4 404.6h0M379.6 408.9h0M398.8 408.5h0M401.6 398.2h0M409.2 404.9h0M390.3 410.3h0M398.1 401.6h0M368.3 402.6h0M378.4 407.9h0M394.8 399.8h0M382.6 409.4h0M403.4 417.2h0M399.8 420.0h0M391.0 401.8h0M400.5 411.3h0M362.1 400.5h0M393.1 413.8h0M413.9 412.6h0M402.7 400.6h0M400.8 418.6h0M398.7 400.8h0M412.8 403.8h0M392.4 403.2h0M393.2 419.3h0M411.3 420.8h0M397.9 411.6h0M379.8 406.3h0M400.8 405.5h0M393.9 406.7h0M367.1 400.4h0M398.0 415.1h0M405.0 410.8h0M403.2 402.6h0M380.4 401.6h0M400.2 394.7h0M404.3 407.1h0M384.0 405.4h0M380.8 402.9h0M386.0 395.4h0M384.6 393.2h0M386.3 406.0h0M377.4 393.7h0M370.7 393.5h0M392.2 405.4h0M403.7 412.3h0M410.0 398.6h0M413.6 417.9h0M403.0 399.4h0M386.6 410.1h0M397.9 410.3h0M397.5 398.2h0M385.9 406.3h0M363.8 397.6h0M396.1 405.9h0M410.1 408.9h0M394.3 416.2h0M415.7 410.6h0M386.0 394.7h0M375.2 397.9h0M408.9 411.2h0M374.5 396.3h0M385.5 400.7h0M405.2 405.8h0M396.2 396.4h0M382.2 395.5h0M403.4 399.9h0M404.7 410.9h0M403.6 398.3h0M413.6 416.4h0M412.0 409.5h0M382.8 411.1h0M382.6 404.1h0M389.2 415.2h0M392.0 394.8h0M388.4 409.9h0M387.2 398.2h0M382.4 401.3h0M400.8 398.0h0M365.0 399.7h0M393.2 393.4h0M398.8 409.9h0M384.5 398.0h0M409.5 409.0h0M405.0 408.9h0M408.8 420.5h0M399.8 417.3h0M392.8 396.4h0M372.8 404.1h0M392.5 404.5h0M387.2 402.9h0M393.7 410.4h0M399.0 413.2h0M415.0 416.2h0M400.9 400.1h0M379.8 407.8h0M371.3 398.6h0M404.7 400.8h0M396.6 399.6h0M398.7 402.5h0M364.7 395.3h0M405.2 397.0h0M408.8 406.4h0M404.7 404.8h0M413.9 410.2h0M407.0 395.8h0M383.5 404.1h0M380.7 401.8h0M406.8 398.1h0M412.0 410.5h0M389.6 406.5h0M389.5 417.9h0M362.6 395.5h0M390.7 414.5h0M390.6 392.9h0M395.8 417.4h0M400.2 406.1h0M379.6 405.0h0M402.0 406.5h0M367.0 395.1h0M398.9 407.4h0M403.1 403.4h0M385.6 406.8h0M382.7 396.4h0M405.2 405.4h0M395.3 394.4h0M392.3 418.1h0M390.0 403.5h0M374.5 405.3h0M395.8 402.1h0M406.6 420.1h0M388.2 404.6h0M392.3 413.9h0M388.4 400.0h0M377.6 397.5h0M369.2 399.8h0M394.7 411.9h0M388.7 401.4h0M388.5 412.9h0M385.6 409.9h0M390.2 421.1h0M399.4 411.4h0M391.3 395.3h0M377.3 401.6h0M373.6 399.7h0M382.3 395.6h0M376.0 403.1h0M416.0 410.3h0M415.4 413.3h0M401.9 400.9h0M407.3 416.0h0M374.1 397.9h0M383.8 407.4h0M390.1 405.7h0M412.9 419.8h0M391.3 416.0h0M392.9 412.7h0M412.2 419.9h0M385.5 395.9h0M413.0 409.0h0M386.6 393.0h0M413.1 412.5h0M408.9 417.1h0M394.9 403.1h0M385.3 397.6h0M404.9 401.8h0M407.2 398.9h0M362.6 396.4h0M393.7 411.0h0M385.0 399.0h0M390.8 406.5h0M398.9 404.6h0M379.4 409.4h0M389.8 402.3h0M381.5 406.9h0M364.5 399.8h0M400.0 419.3h0M389.9 402.3h0M393.7 416.3h0M379.9 392.8h0M411.0 399.7h0M380.6 410.7h0M409.8 410.7h0M402.4 402.6h0M395.5 396.1h0M400.8 394.8h0M404.5 412.9h0M409.5 404.2h0M375.8 395.3h0M380.4 392.8h0M394.6 395.4h0M361.0 396.6h0M411.4 401.4h0M391.5 402.8h0M378.9 394.7h0M407.1 417.6h0M388.2 393.8h0M402.3 416.7h0M407.8 414.4h0M388.4 402.8h0M389.0 418.3h0M388.9 393.7h0M392.7 396.9h0M404.4 396.7h0M390.0 400.9h0M396.6 421.5h0M401.7 402.8h0M388.4 411.9h0M387.9 396.3h0M399.2 397.4h0M396.5 420.1h0M392.4 418.9h0M392.3 404.5h0M386.3 416.8h0M404.8 408.1h0M392.6 401.0h0M366.0 401.3h0M369.4 396.0h0M412.4 405.9h0M387.9 405.6h0M400.4 404.0h0M391.8 417.9h0M395.6 396.0h0M391.6 397.5h0M391.8 410.7h0M403.6 414.8h0M398.3 400.5h0M371.9 396.3h0M374.0 401.9h0M382.6 397.3h0M397.2 416.6h0M390.1 405.2h0M367.3 398.5h0M389.4 398.0h0M405.1 408.1h0M407.0 398.7h0M389.5 415.5h0M386.6 400.0h0M408.9 412.7h0M376.3 398.1h0M391.5 403.8h0M378.4 407.3h0M407.7 409.4h0M380.6 394.9h0M366.1 401.4h0M382.1 394.0h0M401.7 415.7h0M394.9 407.2h0M386.6 413.3h0M387.1 406.4h0M392.5 405.3h0M402.8 401.5h0M404.2 417.7h0M404.4 403.2h0M384.4 399.7h0M400.1 395.9h0M402.3 398.6h0M410.7 420.3h0M403.2 407.1h0M410.0 400.9h0M391.0 399.1h0M410.4 411.7h0M384.6 393.8h0M414.7 416.0h0M368.0 394.4h0M389.2 412.9h0M363.4 397.3h0M403.1 403.1h0M378.3 397.7h0M379.2 406.3h0M387.7 413.4h0M393.2 417.2h0M405.3 405.3h0M372.3 394.8h0M407.8 420.4h0M401.5 406.3h0M376.8 403.5h0M363.8 393.9h0M401.3 404.5h0M370.0 402.7h0M403.0 409.9h0M399.8 400.2h0M386.3 405.3h0M383.8 399.8h0M404.7 395.7h0M390.2 402.3h0M411.2 411.4h0M385.3 402.0h0M373.3 397.2h0M404.9 411.5h0M402.5 412.6h0M362.9 400.0h0M411.6 403.5h0M396.6 408.3h0M407.3 405.3h0M396.8 410.0h0M378.0 402.9h0M378.6 399.5h0M392.3 411.3h0M391.9 399.0h0M393.4 409.3h0M397.7 413.2h0M385.9 396.3h0M388.1 418.0h0M396.8 422.0h0M396.0 393.7h0M391.7 404.4h0M398.3 395.8h0M390.5 413.5h0M385.9 396.7h0M408.4 402.9h0M383.1 397.6h0M378.0 399.7h0M410.8 403.8h0M397.7 409.4h0M362.1 398.2h0M406.0 413.5h0M389.0 396.8h0M404.4 404.1h0M389.6 409.9h0M383.4 393.2h0M411.8 419.8h0M409.9 415.9h0M401.3 406.0h0M373.4 404.4h0M374.5 400.0h0M388.6 412.4h0M399.1 419.6h0M400.0 409.3h0M410.7 411.8h0M414.9 407.0h0M411.4 413.8h0M386.5 409.0h0M374.2 392.4h0M380.9 408.6h0M398.9 401.1h0M400.9 399.0h0M387.1 408.4h0M380.6 408.0h0M404.6 408.7h0M364.6 396.4h0M382.1 410.3h0M393.7 395.5h0M405.2 419.8h0M379.1 400.9h0M405.1 421.5h0M407.3 418.0h0M405.3 410.6h0M396.8 403.0h0M410.9 409.6h0M365.8 395.6h0M363.5 401.2h0M407.8 406.0h0M401.0 406.9h0M373.9 404.5h0M393.8 414.2h0M408.6 400.9h0M401.8 401.3h0M396.9 414.6h0M383.9 406.6h0M403.1 409.4h0M414.4 414.5h0M367.6 393.1h0M408.5 403.5h0M391.3 398.8h0M394.4 408.1h0M407.2 399.3h0M413.5 414.3h0M413.1 414.8h0M384.2 398.3h0M378.7 398.3h0M399.9 396.9h0M362.2 398.6h0M379.9 401.1h0M378.8 393.2h0M397.3 400.1h0M412.3 413.5h0M403.4 405.9h0M391.2 409.0h0M394.6 409.8h0M373.3 403.4h0M403.8 407.1h0M401.9 413.4h0M404.4 410.1h0M398.0 418.3h0M393.8 403.3h0M412.6 403.0h0M398.5 396.5h0M389.6 407.4h0M405.6 415.4h0M400.8 401.2h0M389.3 412.7h0M412.0 408.1h0M413.9 404.8h0M371.0 399.3h0M400.6 404.7h0M396.6 396.1h0M408.0 403.2h0M411.0 402.9h0M383.9 413.7h0M397.1 421.1h0M402.6 409.6h0M397.2 419.8h0M408.3 401.9h0M389.6 396.9h0M401.3 420.0h0M405.1 398.3h0M392.5 420.0h0M376.1 403.8h0M388.4 418.8h0M389.1 404.0h0M392.7 395.8h0M401.0 406.7h0M379.5 402.0h0M396.0 398.5h0M395.5 405.8h0M361.3 394.9h0M371.7 397.3h0M392.0 400.1h0M367.3 400.1h0M387.3 399.3h0M390.6 394.8h0M364.4 400.9h0M391.9 401.6h0M389.3 395.3h0M396.3 405.8h0M413.8 417.9h0M367.6 394.9h0M377.4 398.3h0M394.4 421.7h0M368.5 393.0h0M372.6 398.6h0M392.7 402.0h0M400.7 409.3h0M393.1 412.3h0M382.1 412.0h0M385.0 405.9h0M403.0 410.8h0M405.2 419.8h0M408.2 399.2h0M395.5 407.4h0M400.4 420.7h0M390.2 397.5h0M377.1 407.6h0M389.5 400.3h0M398.9 417.4h0M412.9 418.4h0M387.4 393.7h0M411.5 402.5h0M395.8 396.7h0M384.7 395.4h0M379.5 405.3h0M413.8 418.6h0M413.6 413.4h0M412.0 404.5h0M391.2 401.0h0M393.2 417.4h0M395.5 402.4h0M406.3 408.4h0M389.2 402.0h0M402.0 413.8h0M381.2 398.6h0M366.6 395.2h0M392.7 409.7h0M389.1 416.4h0M382.3 406.8h0M375.5 406.7h0M405.2 409.3h0M400.2 421.0h0M396.0 394.3h0M404.7 395.5h0M366.5 399.7h0M396.8 421.1h0M394.5 393.8h0M383.6 414.1h0M386.5 411.5h0M380.3 410.3h0M365.6 394.8h0M371.4 400.5h0M404.8 421.8h0M412.8 406.8h0M375.1 399.4h0M365.4 400.1h0M372.2 399.1h0M397.3 422.1h0M368.9 393.0h0M410.3 418.0h0M385.1 402.2h0M400.5 414.3h0M389.2 416.1h0M386.6 402.8h0M401.5 420.4h0M396.8 413.8h0M399.8 404.5h0M388.1 399.5h0M391.5 395.1h0M372.0 399.6h0M389.4 404.6h0M399.3 412.4h0M381.5 401.3h0M396.4 400.8h0M395.1 396.9h0M392.7 417.5h0M388.3 406.9h0M370.2 395.1h0M388.4 420.3h0M388.6 408.2h0M389.7 418.6h0M399.8 408.1h0M369.9 393.9h0M407.6 411.4h0M387.7 410.3h0M402.5 397.4h0M387.8 415.2h0M410.0 411.4h0M405.8 410.6h0M406.2 413.1h0M413.2 406.9h0M393.3 415.7h0M385.6 405.2h0M381.4 401.4h0M399.3 396.2h0M392.2 397.8h0M387.4 396.0h0M396.2 413.0h0M377.4 404.6h0M376.0 396.9h0M387.0 398.4h0M388.4 410.7h0M407.8 412.8h0M382.3 410.2h0M411.6 409.3h0M406.1 419.8h0M387.1 412.7h0M381.4 406.4h0M388.6 400.9h0M408.9 400.1h0M403.3 416.9h0M411.0 415.5h0M407.2 398.3h0M361.2 395.3h0M394.1 413.2h0M411.7 410.0h0M377.4 394.1h0M395.2 420.3h0M389.2 415.9h0M378.7 405.6h0M360.9 397.7h0M400.0 414.4h0M365.7 402.0h0M387.7 413.7h0M403.5 397.7h0M360.0 396.7h0M387.3 406.3h0M387.9 394.9h0M371.7 398.8h0M391.4 407.9h0M396.2 413.3h0M393.0 415.6h0M373.9 397.6h0M386.8 409.6h0M401.1 410.1h0M394.3 394.1h0M372.9 402.7h0M385.2 404.0h0M377.7 392.7h0M391.9 410.3h0M385.0 414.3h0M389.7 411.8h0M407.8 417.6h0M384.6 394.0h0M382.9 396.4h0M364.7 396.3h0M392.9 417.5h0M383.9 393.0h0M403.7 406.3h0M369.4 394.1h0M409.3 421.2h0M401.4 411.1h0M395.2 415.7h0M412.4 408.8h0M389.0 407.3h0M384.6 411.9h0M369.2 392.9h0M413.9 407.2h0M406.9 417.0h0M380.5 406.8h0M386.4 404.6h0M409.5 398.8h0M388.3 406.1h0M374.9 394.3h0M402.5 415.0h0M388.4 412.8h0M399.4 396.2h0M402.0 413.2h0M384.1 406.5h0M397.7 394.3h0M394.8 414.6h0M398.6 402.1h0M390.0 414.7h0M407.6 417.4h0M413.2 415.2h0M368.5 396.2h0M394.4 393.1h0M413.0 418.6h0M402.8 397.2h0M383.0 407.4h0M393.1 415.0h0M409.9 417.0h0M399.8 395.3h0M397.4 411.5h0M379.5 397.7h0M379.7 394.9h0M396.5 408.0h0M377.2 397.0h0M412.2 405.8h0M409.8 417.1h0M388.2 399.5h0M415.4 414.7h0M384.7 400.8h0M400.4 411.1h0M405.9 397.4h0M370.4 394.4h0M394.5 420.9h0M369.2 401.7h0M388.1 397.4h0M408.6 399.1h0M400.2 395.6h0M385.3 404.4h0M391.1 400.6h0M389.1 409.3h0M407.9 404.2h0M395.1 394.2h0M385.8 400.1h0M403.7 405.5h0M382.7 399.2h0M373.8 395.9h0M388.2 404.8h0M387.3 403.6h0M393.4 401.2h0M376.3 393.0h0M391.8 405.6h0M380.8 397.1h0M409.3 421.1h0M406.7 413.8h0M386.4 410.7h0M379.5 403.1h0M397.8 418.5h0M375.7 397.0h0M387.0 412.7h0M371.1 394.6h0M397.5 412.0h0M394.1 400.9h0M388.9 406.7h0M391.8 411.7h0M405.9 396.0h0M398.8 421.7h0M361.8 398.9h0M402.6 408.5h0M389.5 417.0h0M380.0 406.5h0M399.2 395.8h0M399.1 411.2h0M395.2 404.7h0M403.8 413.2h0M398.8 396.2h0M410.6 413.0h0M411.4 403.8h0M395.3 393.2h0M376.8 407.2h0M394.3 409.8h0M399.3 404.0h0M374.1 401.9h0M387.7 405.6h0M361.4 397.6h0M404.0 421.0h0M384.3 403.7h0M392.6 412.2h0M386.6 398.6h0M408.7 397.2h0M404.5 401.5h0M398.7 396.4h0M409.7 405.5h0M390.7 408.2h0M389.5 394.9h0M394.8 406.6h0M406.1 399.0h0M390.9 403.0h0M372.2 396.1h0M383.8 396.2h0M402.8 419.6h0M404.9 405.1h0M361.7 394.1h0M398.2 421.3h0M407.5 402.8h0M408.2 415.7h0M395.3 418.0h0M403.6 407.7h0M405.7 413.0h0M401.6 411.5h0M373.5 393.8h0M384.8 414.6h0M402.4 420.1h0M406.3 406.9h0M410.1 401.0h0M413.8 414.2h0M394.0 412.5h0M390.3 418.7h0M399.2 404.5h0M359.4 394.3h0M409.9 413.5h0M408.0 408.6h0M377.3 405.0h0M381.1 399.5h0M377.2 404.7h0M367.2 396.3h0M411.2 418.4h0M388.1 405.1h0M404.8 407.2h0M399.9 411.1h0M381.1 397.7h0M379.3 395.6h0M405.0 399.2h0M390.3 412.1h0M413.2 416.8h0M405.0 400.1h0M372.3 396.5h0M407.6 396.7h0M364.3 394.9h0M395.8 415.3h0M388.5 400.2h0M373.9 399.2h0M390.1 393.3h0M409.4 415.4h0M410.6 409.1h0M391.7 416.0h0M371.5 399.7h0M371.8 402.9h0M389.5 406.0h0M415.0 411.7h0M395.0 400.7h0M373.9 402.3h0M380.9 403.2h0M412.9 405.8h0M379.5 394.3h0M413.1 407.5h0M410.5 417.5h0M386.7 407.5h0M401.3 397.1h0M393.5 418.8h0M399.8 394.5h0M388.2 393.6h0M399.1 414.7h0M414.8 412.2h0M401.3 410.6h0M382.7 402.6h0M376.0 397.3h0M391.3 399.6h0M415.4 413.3h0M404.0 402.5h0M389.6 409.6h0M401.2 407.5h0M382.2 397.7h0M396.8 411.0h0M408.6 403.1h0M379.0 399.8h0M414.3 414.4h0M385.9 411.7h0M364.2 400.9h0M389.1 415.8h0M409.0 418.0h0M397.8 410.9h0M407.7 404.0h0M365.1 398.2h0M410.7 418.5h0M375.0 397.3h0M400.7 404.4h0M393.1 394.5h0M394.3 394.3h0M390.7 409.8h0M403.2 404.0h0M396.0 412.3h0M389.8 399.3h0M386.0 413.9h0M385.8 405.2h0M376.6 400.5h0M379.5 402.6h0M398.9 410.0h0M396.4 412.2h0M404.6 410.0h0M401.5 415.8h0M407.8 399.9h0M387.4 406.9h0M392.2 398.2h0M399.8 397.2h0M413.5 406.2h0M387.8 400.8h0M402.9 396.4h0M383.3 406.6h0M394.6 399.0h0M401.0 400.4h0M365.4 397.5h0M399.0 409.4h0M399.3 394.9h0M399.2 403.0h0M376.9 394.9h0M377.4 392.1h0M397.8 417.3h0M390.7 415.6h0M390.7 396.8h0M371.7 403.3h0M391.3 417.0h0M407.3 404.0h0M406.5 401.4h0M392.4 412.9h0M399.4 414.1h0M399.5 399.7h0M408.4 414.6h0M407.4 400.5h0M381.2 402.3h0M407.6 408.0h0M395.5 418.4h0M379.8 407.9h0M386.8 401.5h0M388.1 409.9h0M378.8 398.1h0M397.6 417.8h0M398.5 417.5h0M371.5 394.1h0M397.3 396.3h0M407.2 407.5h0M400.0 412.2h0M406.0 407.5h0M414.2 406.8h0M384.4 407.6h0M396.2 414.2h0M407.0 395.9h0M388.2 401.2h0M396.5 410.1h0M393.3 401.2h0M403.4 395.2h0M370.4 403.4h0M383.7 395.8h0M410.8 413.4h0M376.3 403.9h0M368.0 399.3h0M389.9 394.2h0M410.9 401.7h0M402.1 416.3h0M388.7 411.8h0M392.0 420.1h0M402.5 403.9h0M402.4 412.8h0M391.6 397.3h0M391.2 408.5h0M388.6 417.0h0M399.3 419.3h0M416.0 410.6h0M387.8 408.4h0M381.1 401.6h0M401.0 404.3h0M393.6 393.6h0M390.2 415.5h0M385.8 410.8h0M388.3 414.0h0M389.4 398.1h0M404.1 399.8h0M385.8 409.1h0M403.7 411.9h0M400.2 419.1h0M399.3 416.2h0M399.8 403.4h0M404.8 399.5h0M406.2 413.2h0M400.8 406.0h0M405.0 406.5h0M387.4 407.5h0M403.9 404.3h0M385.6 407.8h0M407.2 402.4h0M409.9 420.6h0M379.1 397.3h0M362.4 399.6h0M390.7 401.6h0M383.4 413.2h0M385.7 403.0h0M388.1 419.9h0M388.3 416.5h0M388.9 420.9h0M390.6 395.7h0M396.6 411.0h0M399.4 413.2h0M392.8 402.3h0M362.1 395.6h0M396.1 408.4h0M397.8 402.7h0M406.8 403.4h0M381.3 405.3h0M406.1 419.9h0M377.0 394.8h0M374.9 406.2h0M414.2 413.6h0M388.7 418.5h0M410.3 408.2h0M408.7 412.7h0M390.3 403.7h0M401.9 420.8h0M389.2 399.2h0M381.9 401.0h0M407.2 402.3h0M390.4 404.2h0M397.3 414.2h0M385.7 404.1h0M396.4 411.7h0M384.9 392.8h0M377.0 403.2h0M393.3 418.7h0M406.8 413.5h0M371.8 394.6h0M377.4 405.8h0M398.1 405.2h0M371.8 395.4h0M366.2 393.3h0M401.6 398.4h0M375.0 397.2h0M406.4 410.0h0M387.1 401.6h0M399.5 414.2h0M406.0 405.5h0M403.1 404.0h0M361.0 396.5h0M412.7 416.7h0M375.3 406.0h0M398.0 413.7h0M411.9 405.8h0M408.6 401.2h0M381.9 406.6h0M386.6 407.9h0M380.2 393.8h0M400.1 408.2h0M401.6 398.3h0M386.1 406.2h0M377.7 406.5h0M396.1 408.6h0M404.4 417.9h0M395.8 405.8h0M379.6 402.4h0M414.9 412.8h0M390.3 407.8h0M380.7 407.3h0M400.0 402.1h0M370.3 397.9h0M398.2 397.6h0M392.0 406.3h0M366.1 396.1h0M403.4 420.1h0M383.5 408.1h0M377.1 408.0h0M367.1 399.8h0M380.8 421.7h0M375.8 427.9h0M379.5 424.3h0M382.0 421.9h0M372.4 426.1h0M378.0 423.5h0M385.9 422.2h0M370.5 430.7h0M382.4 421.3h0M373.7 427.1h0M384.1 421.8h0M379.5 422.7h0M377.0 428.3h0M385.1 419.1h0M374.0 428.3h0M369.3 430.7h0M385.1 419.8h0M371.9 431.0h0M374.3 428.1h0M384.5 418.4h0M371.8 428.9h0M377.6 425.7h0M374.7 424.5h0M384.7 419.6h0M373.6 429.5h0M373.9 428.3h0M380.3 422.9h0M368.6 430.8h0M383.8 419.4h0M379.0 423.8h0M382.0 422.1h0M372.3 427.1h0M372.2 428.4h0M373.5 426.0h0M376.0 429.0h0M373.8 427.8h0M382.0 422.5h0M380.1 425.3h0M386.1 420.0h0M378.3 424.0h0"/>
<path stroke="#c080f8" stroke-width="1.3" stroke-linecap="round" fill="none" opacity="0.88" d="M424.5 408.9h0M414.0 398.1h0M414.0 401.5h0M419.6 403.8h0M414.4 405.1h0M420.2 416.4h0M418.6 399.1h0M424.1 413.0h0M413.3 412.8h0M412.2 407.4h0M417.1 405.5h0M416.1 415.9h0M422.8 407.2h0M412.1 407.9h0M417.8 407.6h0M413.8 401.2h0M417.3 408.3h0M423.5 410.9h0M420.0 404.7h0M424.3 412.4h0M417.8 401.5h0M420.8 415.1h0M416.8 397.1h0M415.7 416.4h0M413.2 415.7h0M418.9 412.3h0M415.8 415.1h0M416.8 400.4h0M419.8 409.9h0M416.5 401.4h0M419.3 400.3h0M421.6 399.2h0M421.1 406.4h0M419.2 415.1h0M416.1 408.8h0M419.2 415.2h0M423.3 410.2h0M418.8 398.4h0M415.6 400.5h0M413.5 406.1h0M415.6 397.7h0M415.3 410.3h0M419.5 414.4h0M419.2 404.6h0M419.4 416.9h0M417.2 405.0h0M424.0 413.0h0M417.3 404.1h0M412.5 411.4h0M423.2 404.5h0M413.4 412.5h0M416.9 398.6h0M414.2 402.5h0M424.9 406.5h0M411.3 401.2h0M421.5 409.3h0M413.2 403.2h0M420.4 412.8h0M414.3 405.5h0M415.7 414.2h0M414.3 407.5h0M416.9 407.4h0M420.4 415.0h0M416.7 412.9h0M415.3 404.2h0M412.7 403.0h0M420.0 401.2h0M415.1 398.5h0M416.1 404.4h0M418.8 415.8h0M421.8 403.7h0M416.7 403.7h0M424.1 408.9h0M411.6 402.4h0M415.3 406.9h0M417.7 414.6h0M414.5 413.4h0M420.4 409.4h0M420.4 415.0h0M422.0 409.5h0M411.0 398.2h0M412.7 404.6h0M416.5 407.7h0M418.0 411.0h0M415.6 413.0h0M420.6 405.7h0M422.8 405.8h0M412.8 409.7h0M412.4 411.8h0M420.0 414.3h0M419.3 398.5h0M421.5 407.4h0M411.2 398.3h0M416.6 415.5h0M420.4 413.5h0M418.2 405.4h0M415.7 408.7h0M413.7 401.5h0M421.2 399.4h0M416.7 410.3h0M419.3 407.0h0M424.2 413.1h0M410.8 401.1h0M415.4 397.7h0M419.0 411.0h0M419.0 415.0h0M418.6 409.9h0M421.3 413.0h0M418.9 400.4h0M422.2 413.9h0M412.2 399.8h0M422.5 411.7h0M418.9 412.6h0M416.8 416.2h0M420.4 404.6h0M413.7 409.2h0M417.2 402.1h0M424.2 403.1h0M410.1 397.8h0M419.7 409.6h0M421.5 412.3h0M419.3 410.8h0M423.0 408.0h0M420.0 405.7h0M413.6 402.1h0M421.7 406.5h0M416.0 406.4h0M411.8 401.2h0M420.8 413.5h0M417.1 401.0h0M418.2 415.0h0M411.9 410.4h0M416.7 400.3h0M416.0 402.1h0M413.2 401.3h0M413.7 398.3h0M414.7 404.8h0M416.3 403.9h0M412.3 401.0h0M423.2 413.3h0M423.4 408.5h0M414.3 404.2h0M417.3 397.4h0M421.7 403.8h0M421.3 415.8h0M418.5 401.5h0M417.9 409.5h0M420.9 402.9h0M415.7 409.1h0M413.5 410.6h0M413.6 402.6h0M416.6 409.5h0M415.7 411.4h0M413.3 404.8h0M423.3 409.9h0M417.5 414.1h0M420.6 407.9h0M420.1 398.7h0M417.5 402.7h0M417.5 399.5h0M413.1 409.2h0M421.3 412.4h0M421.3 408.2h0M415.4 407.4h0M421.4 403.2h0M411.4 408.2h0M412.7 410.0h0M419.0 413.3h0M416.8 397.2h0M418.8 406.2h0M422.3 411.4h0M410.9 406.2h0M422.4 400.5h0M419.3 409.7h0M417.6 405.3h0M418.7 409.6h0M413.5 414.0h0M415.6 416.0h0M422.7 411.9h0M415.2 411.4h0M412.7 399.9h0M419.2 403.5h0M418.1 404.3h0M416.8 398.4h0M414.7 407.9h0M416.0 410.9h0M413.3 407.2h0M413.9 413.2h0M414.3 413.7h0M416.1 406.7h0M411.8 398.5h0M417.5 409.2h0M422.7 407.3h0M412.1 401.0h0M418.8 405.7h0M415.0 406.9h0M414.9 407.6h0M415.6 413.1h0M416.6 397.7h0M415.7 409.8h0M412.8 410.0h0M414.2 416.2h0M417.4 416.9h0M412.5 402.7h0M416.7 400.9h0M415.5 402.5h0M421.7 402.4h0M422.4 414.1h0M415.1 400.8h0M418.7 416.6h0M417.6 406.0h0M413.4 400.9h0M417.6 396.8h0M419.7 406.8h0M413.1 400.6h0M417.6 396.9h0M412.5 400.3h0M419.3 400.4h0M418.3 413.2h0M418.9 407.5h0M424.5 403.9h0M414.4 406.9h0M419.9 414.7h0M411.0 400.0h0M415.9 400.5h0M421.2 404.0h0M414.5 403.1h0M420.8 406.2h0M413.3 413.6h0M418.0 399.9h0M412.7 410.4h0M419.4 403.2h0"/>
<path stroke="#c0a030" stroke-width="1.3" stroke-linecap="round" fill="none" opacity="0.88" d="M323.6 420.8h0M309.6 450.0h0M327.1 447.4h0M308.6 444.3h0M290.7 442.5h0M310.6 435.1h0M297.4 437.2h0M327.1 433.4h0M305.4 447.5h0M336.0 440.6h0M331.7 449.4h0M328.7 421.3h0M293.1 439.1h0M316.7 451.5h0M327.2 429.8h0M316.0 439.6h0M307.0 450.6h0M325.8 450.5h0M305.0 455.1h0M320.5 437.7h0M331.4 443.6h0M325.0 453.8h0M315.2 438.4h0M312.1 446.1h0M304.3 423.6h0M312.1 421.0h0M296.8 452.1h0M324.4 441.8h0M334.0 453.2h0M323.1 451.3h0M328.8 430.9h0M308.4 427.9h0M295.0 441.7h0M306.8 453.0h0M303.6 420.8h0M322.8 450.5h0M319.3 425.9h0M287.9 446.8h0M287.6 444.4h0M329.0 418.4h0M332.3 451.2h0M312.8 452.4h0M327.4 453.1h0M301.7 419.8h0M312.4 442.6h0M336.9 440.1h0M338.3 438.0h0M334.5 443.9h0M308.7 433.1h0M289.7 447.0h0M309.9 417.8h0M319.8 430.3h0M319.5 423.1h0M337.3 445.8h0M327.8 453.6h0M310.4 418.3h0M318.2 442.9h0M328.2 441.2h0M315.4 425.0h0M305.3 448.9h0M319.7 420.1h0M329.1 422.0h0M307.9 426.7h0M299.9 442.9h0M315.9 417.1h0M328.4 447.5h0M291.4 444.0h0M331.1 423.6h0M314.5 441.7h0M319.3 425.6h0M324.7 441.3h0M340.1 425.6h0M323.3 434.7h0M316.4 446.7h0M295.0 444.7h0M292.2 447.2h0M334.2 423.6h0M318.9 422.3h0M326.6 434.8h0M325.5 452.6h0M302.2 446.6h0M307.4 444.9h0M314.8 425.4h0M338.4 427.7h0M307.8 450.8h0M299.0 445.9h0M319.7 439.8h0M331.6 420.3h0M307.9 448.3h0M324.3 420.9h0M307.0 417.4h0M313.7 417.6h0M337.2 444.3h0M333.5 419.9h0M309.1 422.9h0M308.2 442.2h0M305.3 451.9h0M299.9 450.9h0M289.6 442.4h0M337.1 427.5h0M305.6 442.8h0M305.4 445.7h0M316.3 426.7h0M305.6 456.1h0M337.5 429.6h0M295.5 441.8h0M330.7 423.8h0M307.0 419.6h0M332.2 429.5h0M311.0 447.9h0M304.7 455.8h0M290.0 445.9h0M316.8 426.7h0M305.2 459.8h0M318.0 447.4h0M309.0 425.8h0M288.2 445.7h0M311.5 436.7h0M311.9 454.0h0M314.1 432.5h0M307.9 451.3h0M316.4 434.1h0M299.6 436.8h0M318.9 433.7h0M308.3 439.2h0M313.1 447.8h0M302.0 432.2h0M300.4 419.3h0M329.9 432.4h0M300.0 422.0h0M311.8 421.0h0M327.3 431.7h0M328.8 452.1h0M331.4 452.3h0M300.5 454.6h0M304.3 440.9h0M314.4 426.9h0M314.8 426.2h0M307.7 448.7h0M303.5 438.4h0M317.7 419.5h0M323.0 437.8h0M326.5 420.0h0M300.5 423.5h0M303.2 455.3h0M330.8 426.9h0M303.5 427.6h0M304.3 451.5h0M305.1 430.8h0M304.4 424.0h0M333.9 452.1h0M336.3 430.5h0M315.9 417.9h0M300.4 449.2h0M333.6 428.3h0M332.0 448.2h0M333.9 424.8h0M336.7 429.8h0M299.1 434.3h0M302.7 443.5h0M312.2 456.5h0M299.4 444.3h0M322.3 452.3h0M329.7 451.7h0M292.8 440.9h0M298.8 437.0h0M302.9 443.1h0M324.8 450.3h0M318.1 421.6h0M302.4 455.9h0M310.1 444.1h0M336.9 448.3h0M329.3 439.2h0M340.7 428.6h0M310.5 453.0h0M301.4 421.0h0M311.2 449.6h0M331.9 451.8h0M336.7 435.7h0M329.9 448.6h0M340.8 425.4h0M320.0 416.4h0M314.4 431.0h0M322.0 434.9h0M334.7 430.0h0M336.5 427.6h0M337.9 418.8h0M307.4 457.4h0M325.9 418.3h0M323.1 437.4h0M325.4 435.2h0M307.7 443.8h0M317.9 418.3h0M306.2 442.4h0M328.9 451.2h0M318.1 432.5h0M326.9 434.6h0M335.2 435.2h0M312.8 447.3h0M313.3 431.1h0M287.9 446.7h0M334.8 428.6h0M312.5 443.4h0M311.6 447.4h0M300.9 431.4h0M300.7 450.5h0M303.6 421.6h0M316.6 441.2h0M304.5 459.1h0M320.7 447.6h0M326.6 434.6h0M316.9 441.6h0M313.8 441.1h0M292.2 438.9h0M302.2 439.7h0M310.4 448.2h0M318.5 424.9h0M295.0 442.4h0M317.6 443.8h0M330.7 453.6h0M312.6 426.0h0M303.3 458.3h0M314.0 436.0h0M314.6 434.3h0M320.2 432.4h0M300.0 424.6h0M304.6 451.2h0M312.6 420.6h0M324.4 451.8h0M293.4 437.8h0M324.2 416.7h0M332.1 427.0h0M306.6 457.5h0M339.4 424.5h0M315.3 448.0h0M331.5 427.5h0M315.3 423.0h0M296.2 450.1h0M331.2 430.6h0M300.7 443.8h0M302.4 448.0h0M305.1 422.1h0M321.1 438.4h0M328.7 436.9h0M319.1 423.1h0M331.7 448.3h0M303.5 431.1h0M333.0 426.7h0M301.9 444.3h0M318.4 452.4h0M292.5 447.5h0M333.2 428.8h0M296.4 449.2h0M313.7 449.9h0M333.8 452.7h0M312.1 444.3h0M305.0 430.2h0M329.3 427.2h0M330.2 424.6h0M310.3 428.3h0M296.7 441.9h0M332.4 420.1h0M335.8 448.7h0M322.5 450.1h0M313.4 434.1h0M298.2 438.2h0M314.0 440.7h0M316.4 437.7h0M331.0 443.8h0M297.5 439.0h0M316.0 430.8h0M311.4 425.5h0M333.3 427.4h0M322.3 425.9h0M335.3 428.6h0M305.0 445.6h0M334.0 432.3h0M321.3 439.8h0M334.0 436.8h0M332.6 433.0h0M335.5 431.8h0M302.4 424.2h0M330.6 421.2h0M318.2 424.4h0M315.2 447.5h0M300.3 452.7h0M325.9 428.0h0M321.8 419.2h0M289.2 446.9h0M313.4 431.9h0M299.9 442.1h0M337.6 427.6h0M291.9 444.1h0M327.8 424.6h0M337.5 429.4h0M305.4 448.4h0M327.4 421.8h0M314.4 422.5h0M328.6 423.6h0M304.1 452.3h0M325.7 429.9h0M308.7 452.0h0M324.0 450.7h0M306.0 437.8h0M322.3 426.6h0M340.8 428.2h0M299.9 452.2h0M298.6 431.6h0M320.3 428.8h0M333.8 437.5h0M319.8 423.8h0M310.5 443.8h0M327.5 431.0h0M319.9 418.6h0M303.2 425.8h0M310.9 457.2h0M332.8 449.4h0M319.4 451.9h0M288.8 444.8h0M312.9 445.1h0M294.5 445.2h0M304.0 451.2h0M340.3 434.5h0M317.8 424.2h0M328.9 441.9h0M301.8 436.9h0M305.0 448.7h0M302.2 450.9h0M319.7 428.7h0M300.9 421.2h0M299.9 446.8h0M337.4 443.1h0M337.8 426.8h0M320.5 443.1h0M301.4 427.1h0M320.6 445.8h0M291.6 438.6h0M293.2 446.7h0M316.1 440.1h0M301.1 438.7h0M338.3 446.8h0M322.5 428.0h0M307.8 440.2h0M333.0 432.0h0M305.6 451.2h0M325.4 426.4h0M317.8 442.4h0M302.2 444.6h0M338.7 421.6h0M315.5 434.3h0M324.1 424.3h0M313.3 417.5h0M336.2 439.2h0M315.6 442.8h0M316.7 449.0h0M303.5 431.1h0M314.9 444.8h0M300.5 430.4h0M306.4 453.7h0M309.8 420.1h0M298.9 445.5h0M316.9 432.9h0M310.6 445.0h0M330.5 428.9h0M334.1 429.1h0M321.8 434.5h0M325.9 425.0h0M301.8 437.0h0M314.1 436.2h0M334.1 428.8h0M306.5 422.6h0M296.4 444.0h0M303.2 432.6h0M321.6 434.5h0M336.1 430.8h0M335.2 418.0h0M307.1 438.2h0M307.6 420.6h0M313.9 434.3h0M330.6 424.4h0M317.6 439.8h0M295.5 436.8h0M320.5 416.5h0M328.1 443.4h0M332.9 437.1h0M336.4 451.0h0M304.8 454.6h0M302.9 434.4h0M298.3 436.2h0M325.0 441.4h0M315.6 424.5h0M299.8 434.1h0M298.3 425.5h0M305.0 429.6h0M291.4 447.1h0M304.9 421.5h0M326.3 425.8h0M301.7 433.0h0M301.5 437.6h0M319.1 436.0h0M291.8 443.4h0M323.1 444.3h0M309.6 440.0h0M304.3 456.3h0M311.7 448.2h0M324.6 435.7h0M326.2 432.6h0M294.2 435.9h0M329.0 424.0h0M299.6 445.9h0M301.6 430.9h0M334.1 450.3h0M316.2 425.9h0M306.5 428.5h0M317.8 425.1h0M336.0 433.0h0M324.1 447.5h0M311.9 417.2h0M308.0 441.7h0M329.1 439.4h0M298.8 424.8h0M303.7 451.0h0M335.6 445.7h0M313.3 452.4h0M338.2 445.7h0M325.5 453.2h0M328.8 437.1h0M314.2 428.1h0M331.3 450.2h0M309.2 436.0h0M329.8 451.5h0M331.4 422.5h0M329.8 420.2h0M337.4 420.3h0M339.9 428.8h0M323.1 417.1h0M322.1 435.1h0M323.3 451.7h0M317.1 452.3h0M309.7 421.9h0M331.8 447.1h0M296.7 438.0h0M292.7 440.7h0M333.7 452.9h0M307.4 429.2h0M316.0 446.1h0M317.5 450.8h0M295.5 438.3h0M296.4 451.6h0M297.4 436.8h0M300.0 432.7h0M336.6 431.1h0M319.4 448.8h0M328.6 428.3h0M305.8 459.8h0M326.8 443.0h0M305.7 422.0h0M311.7 446.5h0M292.5 441.4h0M291.4 445.7h0M317.1 446.4h0M334.1 443.9h0M319.2 454.3h0M325.0 425.5h0M328.2 419.9h0M306.8 436.1h0M326.2 425.1h0M308.6 442.7h0M319.6 425.9h0M314.5 443.6h0M333.3 436.2h0M335.7 421.9h0M332.3 436.4h0M322.0 437.7h0M327.3 422.8h0M315.2 442.7h0M292.2 438.4h0M328.3 417.6h0M336.0 449.2h0M313.0 430.4h0M303.1 428.2h0M331.3 432.4h0M305.7 455.4h0M322.5 446.4h0M318.6 433.4h0M339.6 423.1h0M306.8 457.5h0M311.8 451.5h0M338.7 420.2h0M319.8 417.3h0M301.0 448.5h0M293.7 449.6h0M310.3 445.3h0M326.2 451.4h0M311.3 440.3h0M297.1 433.4h0M315.3 419.1h0M326.5 431.1h0M332.0 431.9h0M330.9 420.7h0M328.0 421.3h0M302.2 431.1h0M319.0 453.4h0M315.3 427.2h0M309.5 447.0h0M329.2 438.7h0M295.6 438.8h0M290.1 443.0h0M298.7 444.8h0M314.3 421.3h0M296.9 444.1h0M333.1 435.8h0M313.0 433.6h0M325.1 435.0h0M325.2 452.2h0M306.2 437.9h0M300.4 420.1h0M326.8 417.8h0M313.2 420.7h0M320.4 433.6h0M295.2 450.4h0M333.5 441.8h0M306.3 425.2h0M304.5 434.4h0M301.6 425.7h0M319.7 439.1h0M316.1 431.5h0M324.5 442.5h0M316.3 443.5h0M328.5 430.9h0M322.7 429.0h0M333.9 434.1h0M333.2 442.1h0M315.4 452.3h0M336.8 443.1h0M300.8 440.3h0M315.5 417.6h0M335.4 450.4h0M322.9 453.9h0M319.9 419.2h0M309.5 441.0h0M319.4 451.0h0M302.0 425.4h0M312.7 417.3h0M316.1 427.1h0M300.2 432.8h0M323.0 441.0h0M323.0 426.1h0M301.8 441.9h0M302.1 453.6h0M308.7 434.1h0M337.2 423.4h0M306.5 425.9h0M317.7 445.2h0M309.3 437.9h0M336.4 448.2h0M306.9 428.5h0M330.1 426.1h0M304.9 440.6h0M321.5 441.8h0M311.5 440.7h0M301.9 439.1h0M334.9 442.1h0M314.4 426.5h0M306.4 426.3h0M301.3 451.9h0M322.5 451.9h0M321.0 427.5h0M321.9 429.3h0M310.0 433.7h0M326.3 418.6h0M310.9 447.4h0M299.9 438.2h0M300.7 429.7h0M323.7 431.0h0M295.3 445.5h0M335.0 445.2h0M302.6 418.7h0M328.8 449.6h0M332.4 421.6h0M312.2 446.1h0M302.2 451.7h0M299.1 451.9h0M315.0 451.9h0M309.8 435.9h0M301.6 443.3h0M296.7 437.2h0M308.6 456.0h0M331.3 435.4h0M314.6 429.9h0M329.4 421.2h0M297.8 443.0h0M313.8 418.9h0M316.0 423.2h0M324.3 431.9h0M337.6 428.0h0M319.0 433.8h0M315.0 434.4h0M326.0 430.9h0M331.4 449.2h0M302.7 434.6h0M308.6 424.3h0M305.7 458.9h0M333.5 434.6h0M339.6 419.7h0M334.5 422.9h0M300.4 435.4h0M330.9 434.3h0M301.1 445.4h0M312.2 449.2h0M328.6 449.4h0M302.4 423.4h0M302.5 450.5h0M315.6 433.7h0M308.2 449.5h0M315.0 417.8h0M306.1 455.9h0M304.3 441.1h0M326.3 425.7h0M326.1 430.7h0M325.1 443.3h0M307.8 440.4h0M318.2 423.2h0M339.7 418.9h0M330.9 420.5h0M318.5 425.1h0M332.2 424.6h0M317.6 436.4h0M324.9 444.6h0M308.6 433.2h0M326.5 452.9h0M307.3 422.5h0M311.9 427.5h0M320.4 427.9h0M302.7 446.2h0M321.1 447.9h0M316.1 433.6h0M295.4 451.1h0M309.0 450.6h0M320.7 424.1h0M332.5 453.3h0M336.7 445.8h0M304.9 453.2h0M300.5 437.0h0M325.9 421.1h0M304.9 427.9h0M296.4 443.9h0M340.0 429.3h0M290.0 445.1h0M305.3 418.2h0M324.7 432.7h0M332.6 421.7h0M324.8 416.9h0M314.8 441.9h0M331.2 433.5h0M336.1 431.4h0M330.7 432.7h0M300.3 454.5h0M303.4 421.5h0M329.9 418.8h0M297.7 445.9h0M320.8 419.5h0M338.1 440.0h0M319.7 429.4h0M298.6 423.7h0M331.8 438.1h0M303.7 460.7h0M328.3 431.3h0M336.2 449.3h0M302.3 439.0h0M315.1 426.7h0M328.1 432.8h0M297.6 449.5h0M333.4 432.1h0M336.5 431.9h0M297.9 443.3h0M317.8 442.9h0M328.3 445.4h0M292.7 438.3h0M331.1 426.6h0M320.1 443.5h0M332.2 419.5h0M313.9 446.6h0M322.6 447.5h0M316.3 417.6h0M330.9 449.6h0M299.8 423.7h0M333.7 432.5h0M315.2 428.9h0M301.1 421.8h0M316.6 452.1h0M324.3 424.4h0M324.4 434.0h0M302.6 424.9h0M302.2 456.1h0M311.2 447.5h0M307.1 425.9h0M315.9 432.8h0M311.8 429.3h0M312.4 430.7h0M335.0 450.5h0M308.9 436.4h0M302.0 451.5h0M322.9 448.5h0M329.5 449.5h0M320.9 431.1h0M315.7 441.4h0M324.4 419.7h0M331.7 434.1h0M327.4 452.6h0M311.5 443.2h0M309.3 438.4h0M321.5 423.4h0M305.3 450.5h0M324.4 425.9h0M322.3 429.4h0M311.7 424.7h0M305.9 459.1h0M318.0 449.3h0M323.9 421.5h0M334.4 435.5h0M335.3 426.6h0M292.5 447.2h0M326.6 420.3h0M328.6 441.5h0M333.3 420.4h0M334.1 426.0h0M313.9 446.3h0M312.3 436.5h0M313.1 452.5h0M334.1 432.2h0M292.6 440.9h0M301.1 447.2h0M338.4 418.9h0M311.4 452.4h0M328.6 439.2h0M298.5 447.1h0M311.6 428.6h0M306.7 443.8h0M331.5 425.1h0M303.6 421.2h0M339.1 443.4h0M327.3 440.5h0M301.3 453.5h0M334.0 450.5h0M332.2 446.2h0M301.9 438.3h0M318.5 419.5h0M295.7 437.7h0M295.2 445.0h0M316.9 445.6h0M329.2 436.8h0M325.4 427.5h0M308.5 423.4h0M335.1 430.4h0M329.0 435.9h0M304.4 448.6h0M319.7 448.3h0M309.5 442.7h0M335.1 448.6h0M321.2 441.7h0M313.0 441.8h0M311.1 430.2h0M331.6 439.1h0M338.0 442.2h0M311.1 440.4h0M334.8 446.0h0M316.5 427.6h0M298.8 422.3h0M331.6 421.3h0M299.2 434.5h0M289.6 444.5h0M320.6 428.2h0M340.0 428.9h0M337.0 427.7h0M293.0 441.8h0M336.0 433.8h0M336.0 427.6h0M337.5 448.3h0M295.9 443.3h0M334.1 444.8h0M301.0 424.6h0M321.9 429.3h0M335.9 427.9h0M307.0 432.4h0M327.8 438.5h0M288.8 446.3h0M308.7 425.6h0M319.6 426.5h0M335.1 452.5h0M322.8 437.3h0M306.8 427.4h0M321.9 450.9h0M323.9 417.3h0M334.1 438.2h0M320.9 442.8h0M316.1 443.1h0M315.6 437.2h0M332.0 444.4h0M340.3 424.3h0M328.8 431.7h0M321.2 431.3h0M325.1 444.7h0M307.5 422.1h0M297.2 448.4h0M299.5 442.9h0M316.0 418.0h0M337.1 446.6h0M326.6 424.0h0M290.6 447.6h0M330.5 435.6h0M308.2 446.6h0M318.2 424.7h0M335.0 444.9h0M319.4 428.5h0M315.5 444.9h0M319.0 420.4h0M322.6 431.4h0M302.4 447.5h0M313.8 453.2h0M315.1 429.0h0M304.5 460.3h0M321.6 418.8h0M314.0 448.7h0M310.5 442.5h0M328.7 424.2h0M300.7 449.5h0M312.5 425.0h0M330.1 439.1h0M294.9 445.5h0M329.7 436.4h0M310.6 428.1h0M295.1 444.0h0M310.1 454.0h0M304.3 451.4h0M308.6 452.8h0M307.7 457.1h0M336.7 440.6h0M305.3 454.1h0M304.0 427.9h0M303.2 456.0h0M301.0 453.6h0M336.0 442.3h0M319.2 428.2h0M318.4 452.2h0M305.6 432.5h0M340.8 432.5h0M309.0 448.1h0M298.0 435.3h0M296.4 436.8h0M304.9 422.9h0M294.8 441.4h0M332.1 448.3h0M335.6 437.5h0M323.8 421.9h0M316.5 453.9h0M301.1 452.1h0M326.0 421.0h0M299.4 423.6h0M318.1 449.7h0M303.1 454.6h0M330.1 440.3h0M328.8 449.3h0M328.3 446.2h0M332.0 421.8h0M303.0 430.4h0M290.9 447.9h0M310.6 446.3h0M327.5 442.3h0M338.8 442.0h0M328.4 427.9h0M328.2 426.0h0M310.8 430.2h0M310.1 419.1h0M325.4 430.1h0M295.9 435.9h0M301.3 447.9h0M298.1 439.3h0M313.6 440.0h0M326.2 449.4h0M309.9 448.3h0M301.4 446.4h0M335.6 429.0h0M311.8 446.0h0M331.4 441.4h0M318.5 448.7h0M334.4 445.7h0M323.2 417.2h0M296.7 436.3h0M339.3 431.5h0M315.9 417.9h0M302.9 428.8h0M296.1 443.1h0M290.5 442.4h0M307.3 452.7h0M326.5 431.8h0M324.1 432.7h0M327.3 432.2h0M318.0 438.1h0M335.8 422.1h0M299.8 445.7h0M292.7 441.2h0M319.5 454.2h0M329.6 449.4h0M298.6 435.9h0M322.8 437.2h0M332.4 437.1h0M323.3 438.4h0M304.5 432.0h0M334.0 420.7h0M331.9 425.4h0M301.1 448.5h0M323.2 435.9h0M290.1 443.0h0M338.1 430.3h0M339.0 432.4h0M302.8 435.2h0M310.6 442.0h0M323.2 426.9h0M329.0 436.1h0M333.6 437.7h0M321.3 418.0h0M299.4 451.5h0M315.3 439.8h0M299.1 435.1h0M334.6 434.5h0M296.8 441.3h0M339.1 424.3h0M328.9 439.0h0M320.2 443.6h0M337.4 442.5h0M336.8 449.0h0M312.0 441.7h0M336.0 434.3h0M327.9 426.3h0M306.7 441.7h0M341.8 429.2h0M328.2 429.5h0M322.9 451.5h0M314.0 445.3h0M312.7 445.4h0M316.4 443.6h0M331.5 420.1h0M334.6 418.1h0M318.1 451.5h0M320.4 416.6h0M308.4 449.2h0M333.1 445.8h0M329.9 430.3h0M322.0 442.6h0M338.2 439.3h0M309.3 431.7h0M311.7 420.8h0M317.5 443.8h0M290.9 444.9h0M325.0 446.6h0M312.8 442.6h0M318.3 439.6h0M331.0 433.7h0M324.8 417.7h0M312.4 418.7h0M312.7 452.9h0M310.5 450.3h0M319.5 425.9h0M301.8 439.4h0M321.9 428.8h0M333.6 428.2h0M301.0 428.6h0M299.0 447.7h0M304.2 430.2h0M296.7 449.5h0M306.3 437.8h0M317.5 437.3h0M318.4 435.7h0M294.0 438.7h0M317.5 449.6h0M334.8 445.0h0M309.3 454.2h0M324.9 417.7h0M334.7 435.9h0M293.6 438.5h0M323.2 419.1h0M326.0 424.7h0M295.7 450.7h0M309.0 423.9h0M317.2 426.9h0M292.3 446.9h0M311.5 438.2h0M303.8 419.7h0M310.3 434.8h0M316.8 451.1h0M318.0 437.7h0M297.3 440.8h0M303.4 444.9h0M317.1 419.7h0M316.8 442.7h0M317.1 451.2h0M330.3 442.8h0M340.1 435.5h0M320.3 435.0h0M297.2 445.6h0M316.5 439.4h0M332.1 448.8h0M332.5 448.1h0M315.6 418.6h0M320.1 451.4h0M302.1 441.0h0M304.2 441.5h0M317.3 444.4h0M320.0 446.0h0M307.3 421.1h0M322.8 419.0h0M306.7 454.8h0M323.8 438.0h0M327.4 443.4h0M303.8 422.1h0M292.3 441.7h0M322.7 453.4h0M308.3 431.6h0M302.5 446.2h0M327.5 453.4h0M304.5 422.8h0M327.3 417.1h0M332.5 448.0h0M328.8 423.7h0M296.5 442.0h0M299.9 449.6h0M313.5 452.9h0M337.2 443.9h0M308.3 422.5h0M332.5 440.1h0M298.5 424.8h0M309.2 447.9h0M309.7 455.8h0M295.7 446.5h0M310.4 418.3h0M305.5 447.5h0M318.6 416.8h0M317.6 440.3h0M315.5 454.4h0M313.6 427.6h0M315.4 452.8h0M336.9 425.6h0M326.8 433.0h0M311.6 421.6h0M305.1 432.3h0M316.7 442.4h0M295.9 439.3h0M312.1 452.9h0M314.9 420.5h0M337.8 421.8h0M311.6 453.7h0M319.0 451.6h0M327.7 444.9h0M332.1 421.5h0M330.0 431.8h0M330.9 421.2h0M299.5 433.3h0M325.3 420.0h0M335.5 427.5h0M288.7 445.4h0M330.5 421.1h0M313.1 428.8h0M298.6 439.8h0M306.0 447.1h0M292.3 439.2h0M332.9 429.9h0M327.1 417.0h0M336.2 445.0h0M312.2 423.9h0M331.4 438.8h0M338.4 437.2h0M306.1 431.5h0M308.7 452.2h0M332.4 450.9h0M315.4 446.9h0M312.4 444.5h0M325.7 426.3h0M306.6 438.5h0M296.4 435.5h0M307.8 451.1h0M336.6 433.9h0M334.6 432.7h0M334.1 422.7h0M309.0 446.3h0M300.9 451.2h0M311.5 448.3h0M322.5 444.2h0M320.2 435.8h0M332.6 420.7h0M321.1 429.5h0M320.4 444.8h0M332.2 449.1h0M330.2 432.9h0M328.7 447.7h0M317.3 432.7h0M332.3 428.5h0M298.7 424.6h0M292.6 446.5h0M317.5 446.9h0M289.8 444.1h0M307.8 455.2h0M331.1 427.6h0M289.4 443.4h0M311.3 438.8h0M305.2 426.7h0M335.8 444.4h0M336.7 422.5h0M322.1 426.3h0M306.5 429.5h0M299.2 445.4h0M317.0 446.3h0M301.3 440.2h0M309.4 434.6h0M292.8 449.1h0M317.1 419.0h0M340.3 435.0h0M337.1 423.6h0M340.3 424.0h0M333.2 418.4h0M314.1 454.4h0M301.0 439.5h0M334.0 428.1h0M306.3 448.2h0M322.5 425.1h0M318.6 442.4h0M300.5 428.9h0M292.0 443.1h0M314.1 452.8h0M302.0 452.9h0M306.2 444.0h0M326.2 422.4h0M329.1 426.2h0M303.3 454.3h0M324.2 449.0h0M297.4 443.9h0M328.7 426.2h0M326.9 449.5h0M324.4 424.9h0M323.2 435.8h0M298.5 442.0h0M330.5 440.7h0M316.7 417.1h0M303.6 456.2h0M308.3 421.5h0M320.2 433.3h0M317.7 416.4h0M331.7 434.0h0M292.0 443.9h0M335.4 423.9h0M311.9 438.4h0M333.1 445.5h0M336.3 451.0h0M310.3 454.1h0M292.4 437.8h0M301.8 443.8h0M292.3 449.1h0M336.9 419.9h0M325.5 423.2h0M300.8 451.6h0M303.9 443.2h0M300.3 437.7h0M318.2 425.2h0M323.2 421.6h0M335.1 419.3h0M311.3 434.2h0M317.1 448.7h0M326.3 438.6h0M301.8 429.2h0M314.6 442.1h0M309.7 422.2h0M304.9 439.5h0M329.3 425.8h0M307.5 436.6h0M298.4 452.7h0M322.3 417.6h0M316.8 446.1h0M338.7 444.5h0M316.5 432.7h0M325.8 417.7h0M316.7 438.8h0M332.7 433.5h0M336.8 444.9h0M326.1 423.7h0M307.6 434.7h0M310.3 420.4h0M306.2 438.7h0M337.4 438.3h0M329.0 449.5h0M329.7 430.8h0M298.7 431.5h0M338.1 433.8h0M326.8 452.6h0M333.6 425.3h0M312.8 450.1h0M295.2 446.6h0M298.3 431.5h0M307.6 454.6h0M311.8 434.5h0M339.0 432.6h0M335.7 438.3h0M323.5 449.5h0M333.9 439.0h0M321.5 423.0h0M336.2 420.7h0M332.2 444.1h0M324.0 435.9h0M313.8 422.8h0M329.4 443.9h0M301.9 451.1h0M289.3 442.0h0M329.2 421.6h0M324.2 424.7h0M320.8 453.8h0M303.3 444.5h0M324.0 453.4h0M339.8 421.1h0M321.3 417.8h0M306.6 448.0h0M311.1 456.5h0M331.5 439.8h0M302.3 423.2h0M310.6 444.4h0M314.9 434.7h0M321.4 427.5h0M287.2 445.2h0M300.2 421.4h0M300.8 437.9h0M318.9 440.6h0M322.3 437.0h0M317.3 420.4h0M335.8 418.7h0M322.7 430.9h0M287.4 446.3h0M328.8 443.9h0M315.0 441.2h0M300.4 418.6h0M324.5 423.4h0M320.5 421.4h0M296.4 445.9h0M328.7 421.6h0M312.6 426.0h0M314.6 433.8h0M333.1 423.6h0M319.8 421.0h0M336.6 431.8h0M308.1 430.0h0M336.2 447.0h0M336.1 450.0h0M292.0 448.8h0M296.2 441.9h0M340.3 438.4h0M306.6 437.7h0M333.1 439.8h0M309.7 417.8h0M296.1 441.8h0M333.0 435.0h0M317.7 445.8h0M321.8 451.3h0M314.7 437.4h0M332.5 429.3h0M315.0 439.0h0M296.6 437.4h0M319.8 443.0h0M314.1 442.9h0M304.9 427.6h0M318.1 436.4h0M298.4 423.9h0M296.3 444.3h0M322.8 452.3h0M303.8 424.3h0M317.0 454.9h0M309.6 418.3h0M293.8 450.1h0M311.3 435.8h0M324.6 434.1h0M331.1 447.9h0M311.3 436.7h0M316.6 440.2h0M309.4 418.5h0M334.3 435.2h0M302.6 443.3h0M298.3 425.1h0M322.8 437.1h0M339.9 420.6h0M322.5 453.3h0M317.0 436.3h0M312.5 423.9h0M291.9 441.5h0M293.2 439.0h0M297.1 445.1h0M312.4 442.5h0M315.0 424.6h0M320.0 422.9h0M316.2 454.9h0M292.8 437.3h0M311.9 428.4h0M337.0 436.2h0M340.0 433.0h0M296.2 451.4h0M311.2 431.6h0M334.4 450.6h0M316.5 433.6h0M331.7 417.6h0M330.7 426.2h0M315.2 439.6h0M302.6 428.5h0M303.2 446.4h0M316.9 455.0h0M289.6 441.1h0M321.5 432.1h0M330.0 439.0h0M304.3 458.1h0M315.7 426.0h0M322.6 427.5h0M317.4 417.8h0M336.7 431.0h0M335.9 429.1h0M308.5 424.2h0M314.5 454.5h0M339.2 437.1h0M332.6 450.9h0M311.1 446.7h0M326.1 429.1h0M317.6 419.1h0M327.0 434.2h0M331.5 439.9h0M332.4 419.9h0M304.5 434.7h0M305.7 429.1h0M293.1 439.3h0M313.4 444.4h0M298.4 452.9h0M331.3 432.7h0M309.3 457.5h0M314.5 428.3h0M310.3 417.6h0M296.8 444.9h0M311.9 423.7h0M338.8 425.2h0M309.3 452.3h0M305.7 436.8h0M306.6 456.5h0M319.0 438.2h0M340.4 422.7h0M303.0 437.5h0M333.3 421.2h0M335.5 418.6h0M303.2 445.4h0M294.1 447.7h0M299.9 444.8h0M338.6 428.7h0M329.5 438.1h0M323.3 452.8h0M314.6 435.2h0M327.0 443.4h0M296.4 448.6h0M314.4 427.9h0M332.9 422.9h0M333.7 442.1h0M335.1 449.0h0M309.7 433.1h0M330.8 433.2h0M331.9 447.1h0M324.7 419.9h0M315.0 455.8h0M333.5 417.6h0M303.1 443.5h0M322.5 441.6h0M300.0 432.7h0M307.0 459.3h0M317.8 443.2h0M299.3 442.0h0M303.9 443.8h0M292.4 439.4h0M310.2 427.7h0M331.5 441.9h0M334.6 436.9h0M311.7 447.8h0M311.1 451.4h0M295.3 451.1h0M306.2 431.7h0M328.7 445.9h0M325.5 432.8h0M328.1 430.6h0M310.5 443.1h0M307.5 438.2h0M289.2 441.6h0M303.3 419.8h0M326.7 447.2h0M322.3 453.9h0M333.3 422.3h0M327.8 431.1h0M329.8 428.9h0M302.2 431.0h0M300.7 424.7h0M340.1 424.5h0M317.8 420.5h0M330.9 448.4h0M315.4 450.4h0M303.4 424.7h0M324.6 447.1h0M304.1 459.0h0M328.5 421.1h0M340.7 425.5h0M301.6 433.6h0M328.3 449.8h0M312.9 451.1h0M327.0 423.9h0M312.5 444.9h0M338.3 433.0h0M339.7 420.8h0M304.9 438.7h0M321.4 424.9h0M301.4 420.2h0M339.7 433.2h0M304.8 456.4h0M334.9 419.2h0M336.5 451.0h0M305.2 452.7h0M303.3 434.1h0M337.0 434.5h0M334.7 452.0h0M315.9 454.1h0M335.7 452.0h0M298.0 452.5h0M322.1 440.5h0M315.2 445.5h0M302.0 449.0h0M312.1 456.1h0M335.7 439.4h0M313.9 442.2h0M313.4 427.9h0M299.3 451.4h0M306.8 453.4h0M329.1 446.9h0M326.3 437.4h0M319.9 450.0h0M311.3 447.4h0M324.2 434.6h0M317.0 425.4h0M300.5 432.7h0M325.1 431.5h0M335.3 451.6h0M324.1 439.0h0M319.3 434.4h0M331.0 437.6h0M312.5 429.8h0M306.4 419.8h0M309.0 453.6h0M303.0 437.4h0M303.5 418.3h0M317.9 428.4h0M300.2 440.2h0M302.7 433.7h0M318.2 446.8h0M318.9 445.7h0M317.1 435.7h0M302.8 423.9h0M303.1 434.4h0M298.8 431.1h0M312.5 425.6h0M331.1 431.7h0M300.7 432.1h0M309.8 425.8h0M318.9 447.3h0M301.1 447.1h0M326.1 449.1h0M306.2 433.8h0M335.3 447.2h0M313.3 454.6h0M327.8 422.8h0M337.9 422.5h0M326.3 422.3h0M325.3 426.0h0M329.7 424.9h0M309.5 435.6h0M319.1 430.3h0M307.5 426.3h0M304.1 433.3h0M325.1 417.9h0M322.8 427.6h0M318.4 446.8h0M303.7 458.1h0M325.1 420.3h0M333.1 443.0h0M325.0 447.0h0M299.2 442.2h0M320.1 450.8h0M337.7 440.0h0M340.0 433.2h0M325.2 422.0h0M327.1 428.5h0M331.9 426.3h0M302.2 423.1h0M327.5 444.3h0M306.4 422.8h0M339.4 439.7h0M329.5 441.4h0M301.9 424.1h0M294.3 448.8h0M332.3 421.0h0M334.3 446.7h0M327.7 438.9h0M300.6 444.2h0M301.3 443.4h0M318.3 434.3h0M331.0 420.9h0M331.6 424.6h0M318.7 426.6h0M308.6 439.6h0M308.7 448.9h0M325.0 428.0h0M317.2 443.1h0M290.1 445.5h0M328.7 425.2h0M336.8 419.2h0M332.4 445.7h0M293.0 449.2h0M329.0 422.0h0M325.3 427.0h0M310.9 448.6h0M312.3 447.4h0M328.4 432.0h0M314.3 428.5h0M335.3 423.2h0M310.1 447.8h0M301.2 433.8h0M289.2 442.3h0M298.0 432.2h0M304.9 442.0h0M332.7 435.2h0M336.2 438.4h0M314.1 434.9h0M319.2 417.4h0M303.5 442.3h0M323.8 442.9h0M296.2 440.4h0M333.2 427.3h0M311.6 431.4h0M317.2 434.8h0M328.3 419.7h0M334.4 423.8h0M320.1 451.8h0M321.4 449.7h0M336.4 433.8h0M292.4 449.7h0M324.4 437.4h0M304.2 439.2h0M294.5 439.6h0M308.2 452.6h0M338.9 443.0h0M313.0 436.1h0M299.9 421.5h0M306.6 444.6h0M301.8 433.8h0M329.7 442.9h0M314.9 421.3h0M334.1 423.2h0M304.3 432.8h0M316.9 435.1h0M322.1 427.3h0M309.5 447.8h0M300.2 425.1h0M334.5 430.5h0M337.5 443.1h0M325.2 419.5h0M328.2 443.2h0M302.5 427.1h0M315.8 426.2h0M293.8 441.4h0M334.0 422.9h0M302.8 440.8h0"/>
<path stroke="#e8706e" stroke-width="1.3" stroke-linecap="round" fill="none" opacity="0.88" d="M316.8 489.1h0M297.5 492.1h0M328.6 501.5h0M335.9 460.1h0M305.8 461.5h0M328.2 460.3h0M307.5 475.1h0M295.4 484.1h0M300.1 481.6h0M303.7 473.7h0M307.2 484.6h0M312.4 502.7h0M318.4 481.1h0M300.9 500.6h0M296.2 476.1h0M297.2 477.0h0M296.8 489.3h0M326.9 463.2h0M330.0 456.7h0M324.2 463.4h0M330.4 466.3h0M332.2 500.7h0M324.3 480.7h0M308.9 488.1h0M333.2 503.4h0M300.2 492.0h0M304.7 461.0h0M326.6 461.2h0M323.6 455.1h0M302.0 492.0h0M316.3 476.0h0M301.7 498.3h0M331.7 487.9h0M334.8 458.3h0M325.1 453.5h0M313.8 506.4h0M319.7 478.2h0M307.0 507.3h0M334.3 490.3h0M310.8 463.9h0M330.7 478.7h0M318.1 454.6h0M307.6 477.8h0M306.1 493.1h0M334.8 466.6h0M303.9 479.3h0M315.6 458.9h0M316.3 474.9h0M328.0 467.3h0M304.5 493.1h0M328.5 488.8h0M335.3 465.0h0M310.8 461.2h0M300.7 487.1h0M296.8 496.0h0M309.2 491.7h0M339.3 480.3h0M333.7 499.7h0M333.9 480.2h0M318.4 493.9h0M320.7 463.9h0M333.9 484.5h0M324.7 487.8h0M326.7 478.8h0M310.8 481.6h0M308.0 506.3h0M326.5 502.4h0M301.7 472.8h0M316.0 502.1h0M321.5 481.9h0M338.4 478.2h0M334.6 486.5h0M317.6 492.7h0M319.3 468.5h0M323.2 485.9h0M310.6 464.7h0M307.0 468.0h0M319.2 478.9h0M318.9 490.1h0M331.7 465.9h0M329.5 489.9h0M336.1 469.0h0M331.2 452.6h0M337.7 476.8h0M333.2 460.3h0M337.0 489.3h0M325.9 487.9h0M328.6 473.6h0M329.4 451.6h0M313.3 504.6h0M308.3 457.5h0M334.6 464.5h0M336.0 480.7h0M322.2 483.3h0M311.9 470.9h0M334.4 472.8h0M337.8 467.2h0M312.9 461.4h0M338.3 469.0h0M335.8 489.7h0M308.0 479.3h0M319.8 466.3h0M332.8 487.8h0M332.3 501.6h0M325.5 469.5h0M318.3 494.2h0M303.5 483.7h0M314.3 455.1h0M307.9 505.5h0M319.8 492.0h0M332.4 456.0h0M321.5 484.5h0M319.4 470.3h0M295.8 482.1h0M332.7 461.4h0M322.2 502.2h0M305.4 504.3h0M333.5 480.1h0M303.5 488.2h0M321.0 495.1h0M330.5 472.3h0M301.7 485.1h0M321.0 451.4h0M332.4 458.6h0M306.7 467.8h0M304.9 485.7h0M315.0 457.3h0M336.0 495.3h0M321.6 478.3h0M304.9 483.4h0M307.6 467.0h0M316.0 456.3h0M323.1 503.4h0M333.3 469.3h0M337.0 466.1h0M311.2 458.1h0M330.3 477.1h0M321.5 494.9h0M305.6 459.4h0M336.9 457.3h0M310.7 503.8h0M313.3 480.8h0M334.1 475.3h0M311.8 495.3h0M332.8 461.5h0M310.6 504.5h0M318.7 489.3h0M319.1 472.3h0M324.9 478.3h0M339.0 474.8h0M321.5 481.1h0M336.8 478.6h0M329.0 468.1h0M313.9 501.6h0M333.9 463.7h0M324.5 474.4h0M333.3 489.9h0M314.4 492.3h0M300.0 476.7h0M317.0 460.2h0M329.0 493.0h0M318.7 461.1h0M317.8 496.8h0M302.4 488.6h0M314.2 482.4h0M326.6 470.3h0M323.3 508.1h0M326.9 481.7h0M307.2 489.5h0M317.4 479.4h0M314.4 491.3h0M315.1 498.7h0M312.2 494.1h0M305.8 484.7h0M311.6 487.9h0M337.9 477.3h0M323.7 475.0h0M338.1 459.5h0M328.6 491.2h0M331.1 481.3h0M327.1 458.1h0M325.2 467.2h0M319.7 464.1h0M305.2 484.2h0M317.8 479.0h0M319.9 475.4h0M339.6 484.1h0M325.8 504.8h0M309.3 495.8h0M321.1 453.5h0M331.2 469.5h0M312.5 489.2h0M309.0 483.4h0M330.3 479.7h0M328.1 497.0h0M324.2 486.3h0M301.6 464.9h0M335.6 482.6h0M325.3 487.1h0M315.7 469.7h0M332.1 461.7h0M299.8 496.7h0M328.5 495.1h0M308.1 498.9h0M328.7 483.4h0M324.0 467.8h0M329.1 458.2h0M335.9 455.0h0M302.0 475.1h0M335.3 498.1h0M336.8 478.1h0M337.7 488.1h0M299.1 489.4h0M315.9 455.4h0M314.8 457.5h0M317.2 506.2h0M319.1 467.2h0M318.7 508.2h0M300.9 494.8h0M295.0 488.3h0M316.7 496.6h0M299.5 494.1h0M301.9 483.2h0M301.9 477.9h0M320.3 463.4h0M306.6 498.9h0M330.3 487.2h0M315.3 467.1h0M304.1 486.4h0M306.2 480.0h0M303.2 468.6h0M335.0 486.6h0M303.4 480.5h0M304.0 505.9h0M328.4 483.4h0M307.3 478.6h0M329.7 452.9h0M326.7 457.2h0M330.8 470.6h0M318.6 473.7h0M318.5 476.3h0M312.8 471.2h0M308.0 501.1h0M328.9 477.1h0M299.9 494.9h0M333.5 464.6h0M313.0 461.2h0M304.6 472.5h0M310.4 470.2h0M310.7 487.2h0M320.4 504.8h0M314.1 478.4h0M333.5 468.8h0M317.1 478.8h0M323.2 476.7h0M329.2 485.2h0M329.9 494.2h0M311.7 454.0h0M310.9 502.7h0M327.7 500.8h0M324.5 480.7h0M325.1 484.7h0M332.2 457.9h0M321.1 503.5h0M311.4 474.0h0M321.8 505.1h0M338.8 463.6h0M326.1 502.8h0M326.1 460.7h0M317.3 499.5h0M327.1 484.9h0M324.4 490.6h0M298.2 501.0h0M297.3 498.4h0M319.4 478.7h0M321.2 469.7h0M299.3 481.4h0M331.4 479.3h0M328.8 469.2h0M335.0 462.3h0M305.0 464.1h0M304.0 492.5h0M333.4 467.3h0M333.4 483.9h0M314.3 467.8h0M328.8 488.8h0M331.0 453.9h0M310.6 467.9h0M309.9 469.1h0M313.2 461.5h0M312.4 488.6h0M314.7 463.9h0M326.2 492.5h0M324.0 494.8h0M314.9 501.6h0M311.6 461.0h0M330.2 458.9h0M312.7 468.5h0M337.1 472.8h0M317.2 500.5h0M300.8 493.8h0M320.2 470.8h0M317.1 463.4h0M314.7 481.1h0M304.6 464.4h0M295.1 484.2h0M314.0 489.3h0M314.1 474.3h0M323.6 486.3h0M334.0 463.5h0M317.4 455.4h0M332.8 466.7h0M332.9 453.7h0M300.2 502.0h0M325.3 469.6h0M310.0 504.2h0M296.6 495.8h0M320.1 467.8h0M303.9 499.8h0M315.2 502.5h0M302.7 479.8h0M337.7 464.5h0M330.4 454.9h0M326.0 470.9h0M306.2 472.3h0M296.3 497.2h0M317.7 465.3h0M324.8 457.3h0M329.8 499.0h0M324.4 459.3h0M297.2 497.3h0M327.5 463.8h0M317.6 483.2h0M301.7 486.0h0M317.4 480.1h0M314.4 490.0h0M307.3 473.0h0M298.7 479.8h0M314.1 477.9h0M309.0 463.5h0M337.6 473.9h0M316.1 482.2h0M330.4 478.1h0M328.0 455.4h0M334.8 479.6h0M324.4 477.7h0M302.4 462.9h0M304.2 468.0h0M325.1 478.6h0M316.2 466.1h0M313.4 506.6h0M336.5 465.1h0M294.5 486.9h0M334.2 487.9h0M325.4 455.4h0M330.6 493.7h0M308.4 466.4h0M339.1 471.9h0M300.1 472.7h0M312.7 475.5h0M321.7 468.3h0M313.4 500.6h0M320.1 470.3h0M324.7 462.9h0M336.7 463.7h0M299.5 480.0h0M318.0 473.6h0M323.1 476.3h0M314.8 502.0h0M311.6 498.6h0M334.2 460.2h0M328.1 504.1h0M338.1 468.1h0M321.3 489.0h0M322.2 461.4h0M322.0 481.7h0M320.6 484.4h0M337.7 455.4h0M310.3 455.9h0M298.0 493.4h0M311.1 462.0h0M310.5 457.9h0M323.2 469.6h0M311.9 467.4h0M323.8 451.5h0M332.0 478.6h0M319.7 483.8h0M327.1 502.3h0M314.0 500.2h0M332.7 471.3h0M337.1 489.1h0M312.2 462.8h0M310.9 458.5h0M333.6 453.6h0M326.3 506.1h0M318.4 468.3h0M335.7 495.9h0M325.6 492.8h0M329.5 491.5h0M324.1 479.3h0M305.0 465.6h0M326.3 496.0h0M337.9 472.9h0M325.0 474.3h0M301.9 464.4h0M313.7 491.1h0M317.7 463.9h0M324.4 478.8h0M316.9 507.0h0M320.9 483.2h0M308.3 506.9h0M314.9 466.0h0M312.4 480.0h0M307.3 466.3h0M335.9 473.9h0M307.3 482.0h0M311.5 502.5h0M300.7 484.5h0M313.5 486.5h0M328.5 480.1h0M315.0 507.4h0M332.5 480.1h0M314.6 502.3h0M323.6 490.2h0M329.0 485.8h0M329.5 496.9h0M300.0 481.5h0M336.4 474.8h0M323.9 492.0h0M299.7 492.8h0M307.7 481.1h0M305.1 493.3h0M333.8 491.0h0M329.3 482.1h0M296.9 488.9h0M294.1 486.7h0M323.4 481.2h0M315.9 452.9h0M310.1 467.7h0M314.2 460.0h0M333.1 460.8h0M337.9 478.9h0M327.6 460.7h0M322.9 501.7h0M318.7 464.2h0M326.6 479.4h0M334.9 480.6h0M317.6 486.8h0M322.6 506.4h0M323.1 451.8h0M311.8 459.3h0M332.9 455.9h0M310.3 474.1h0M302.6 486.2h0M330.4 475.4h0M336.5 453.0h0M307.8 466.4h0M334.2 495.8h0M299.4 491.9h0M330.8 477.6h0M297.8 498.4h0M305.0 465.3h0M316.7 453.6h0M307.4 462.7h0M336.7 476.1h0M327.2 492.9h0M312.1 478.6h0M305.5 460.1h0M330.3 478.6h0M317.2 457.1h0M336.1 484.1h0M334.3 502.9h0M326.5 463.5h0M329.7 470.6h0M318.2 505.3h0M314.8 499.1h0M329.5 472.8h0M320.9 490.1h0M334.2 467.8h0M321.9 500.6h0M334.5 467.6h0M334.4 477.6h0M298.1 477.6h0M318.1 470.0h0M312.0 485.0h0M320.0 476.9h0M306.8 480.6h0M337.7 456.0h0M309.0 463.4h0M323.0 469.7h0M324.6 474.1h0M314.8 483.4h0M307.2 479.5h0M308.1 459.8h0M296.2 480.9h0M335.6 463.3h0M304.5 500.0h0M329.3 492.7h0M331.5 489.2h0M309.8 495.4h0M313.7 492.4h0M300.3 497.0h0M305.8 463.8h0M298.4 481.4h0M308.0 489.9h0M322.2 472.4h0M331.2 486.6h0M304.1 490.0h0M330.7 481.8h0M321.2 462.9h0M298.8 483.7h0M306.7 459.8h0M307.9 493.2h0M297.7 474.0h0M312.3 481.2h0M329.7 498.1h0M318.2 462.9h0M319.4 484.3h0M300.5 502.2h0M334.8 475.9h0M316.9 472.4h0M328.7 476.1h0M323.4 455.5h0M339.2 482.3h0M329.7 486.8h0M330.9 490.3h0M329.2 495.3h0M333.4 454.0h0M328.1 477.3h0M333.4 474.3h0M312.0 493.3h0M303.1 494.0h0M323.1 475.9h0M304.1 492.2h0M296.7 484.2h0M335.5 466.2h0M314.1 455.2h0M320.5 456.5h0M324.1 457.9h0M320.1 479.2h0M312.9 490.8h0M317.8 507.8h0M325.1 477.6h0M334.6 460.7h0M295.8 488.9h0M334.9 457.5h0M318.6 496.5h0M328.7 476.6h0M334.0 489.3h0M319.8 474.4h0M330.9 467.6h0M305.7 491.5h0M310.2 488.6h0M305.2 476.1h0M325.9 474.0h0M334.9 488.8h0M305.3 466.7h0M330.5 491.7h0M303.8 496.6h0M334.3 483.2h0M294.9 495.1h0M309.8 501.2h0M309.8 479.5h0M298.1 478.3h0M304.7 469.6h0M316.4 474.4h0M314.0 500.6h0M309.7 499.3h0M321.7 486.9h0M307.9 483.3h0M334.4 499.0h0M320.2 498.5h0M333.4 488.2h0M332.0 455.0h0M322.3 483.4h0M318.8 488.6h0M317.4 460.1h0M321.5 493.1h0M322.3 474.3h0M311.7 458.8h0M305.3 464.3h0M308.6 485.7h0M316.1 454.5h0M305.4 470.0h0M319.4 501.7h0M310.5 467.6h0M295.8 493.4h0M332.8 478.9h0M334.8 486.0h0M297.8 476.0h0M316.4 474.3h0M327.0 453.5h0M310.0 480.7h0M316.2 472.2h0M328.4 484.5h0M321.9 460.2h0M321.9 470.9h0M312.5 491.9h0M336.4 469.4h0M323.7 504.4h0M309.5 504.2h0M320.5 477.9h0M326.7 499.9h0M319.4 461.1h0M336.1 458.1h0M314.4 478.5h0M311.0 501.5h0M301.3 469.4h0M328.0 491.0h0M311.3 491.3h0M296.1 485.2h0M297.7 473.0h0M337.3 476.5h0M332.6 451.5h0M318.8 474.3h0M311.7 468.5h0M305.2 498.5h0M331.1 459.4h0M321.5 460.2h0M336.1 479.1h0M306.9 465.5h0M304.4 478.5h0M330.3 462.5h0M316.4 453.4h0M336.4 458.0h0M304.3 500.5h0M297.8 500.0h0M306.6 494.0h0M310.9 457.7h0M320.8 508.6h0M339.2 466.0h0M310.9 469.9h0M298.9 486.0h0M310.2 488.0h0M298.4 489.5h0M318.6 469.5h0M333.0 490.2h0M323.9 465.8h0M317.6 469.4h0M327.9 474.3h0M331.0 472.1h0M295.7 480.4h0M314.8 472.3h0M316.0 487.5h0M315.1 494.7h0M333.2 498.8h0M309.2 464.7h0M333.4 463.3h0M297.0 476.1h0M310.7 497.2h0M319.8 489.3h0M328.5 493.7h0M333.3 493.8h0M325.1 495.3h0M316.2 463.2h0M309.5 458.5h0M321.0 466.6h0M323.4 468.1h0M319.6 501.3h0M323.3 464.3h0M320.0 495.2h0M304.4 473.7h0M319.9 468.9h0M315.9 466.1h0M308.3 489.9h0M300.9 470.9h0M294.5 492.5h0M295.6 496.7h0M332.4 456.8h0M315.3 461.2h0M318.0 500.5h0M312.1 487.0h0M338.4 485.2h0M295.0 492.9h0M336.6 462.3h0M330.2 457.8h0M332.0 483.7h0M306.0 476.3h0M315.9 468.0h0M339.2 473.7h0M300.4 486.9h0M317.9 481.7h0M336.9 471.6h0M302.1 487.6h0M313.2 458.4h0M308.5 490.6h0M329.2 498.0h0M317.1 493.3h0M310.1 461.5h0M319.1 482.3h0M325.7 471.2h0M321.4 461.2h0M330.8 479.6h0M335.0 460.4h0M322.3 469.5h0M339.1 472.6h0M323.7 473.3h0M329.6 471.5h0M309.6 466.3h0M333.0 497.7h0M303.9 484.1h0M334.8 478.2h0M331.3 454.5h0M309.7 481.9h0M299.8 484.9h0M329.9 497.2h0M319.1 452.1h0M314.3 506.2h0M306.9 470.7h0M336.3 465.0h0M312.4 498.3h0M297.0 490.4h0M338.8 468.8h0M327.8 502.2h0M312.1 500.3h0M322.4 494.1h0M300.9 486.2h0M320.6 456.5h0M322.4 493.2h0M319.4 490.8h0M330.7 475.7h0M316.1 491.6h0M337.0 477.6h0M324.5 470.6h0M312.0 463.9h0M314.2 480.1h0M322.0 493.7h0M301.5 475.6h0M312.1 463.7h0M335.0 499.9h0M302.6 485.3h0M328.0 456.2h0M315.8 491.4h0M316.3 457.0h0M296.8 495.2h0M339.1 488.7h0M332.7 490.7h0M315.9 459.1h0M320.1 466.0h0M322.6 455.4h0M331.6 498.7h0M302.6 479.4h0M309.4 497.7h0M311.1 474.3h0M327.3 456.3h0M330.7 500.9h0M334.6 460.7h0M328.4 473.3h0M324.5 501.2h0M318.1 483.2h0M308.3 501.7h0M315.7 492.2h0M320.6 476.8h0M336.5 452.9h0M297.8 488.8h0M329.6 474.0h0M309.6 487.3h0M305.2 505.6h0M334.2 503.1h0M328.0 467.2h0M302.9 464.6h0M312.0 468.2h0M315.4 473.1h0M333.6 464.4h0M303.1 490.9h0M326.8 477.5h0M331.3 461.4h0M306.2 481.7h0M327.3 473.3h0M337.8 476.0h0M331.9 483.0h0M330.7 480.9h0M324.1 460.0h0M316.8 470.5h0M317.8 475.7h0M305.9 503.4h0M327.2 502.7h0M330.0 500.2h0M328.0 468.8h0M324.8 461.2h0M336.2 494.9h0M317.6 456.4h0M319.0 490.1h0M322.6 479.8h0M320.4 508.3h0M339.1 462.5h0M297.7 496.5h0M313.7 485.4h0M304.0 505.7h0M330.2 480.5h0M302.3 488.4h0M326.0 455.7h0M315.9 457.5h0M327.3 467.8h0M299.4 482.9h0M328.6 466.4h0M299.3 467.5h0M321.5 486.4h0M330.4 495.0h0M306.5 460.4h0M305.3 474.8h0M299.0 475.6h0M312.7 488.5h0M316.3 475.5h0M314.1 468.2h0M310.2 466.8h0M328.2 456.1h0M312.7 476.1h0M296.1 496.2h0M314.1 507.6h0M306.1 478.6h0M334.4 481.7h0M326.9 481.3h0M335.2 469.8h0M333.6 490.3h0M331.6 452.1h0M335.9 476.2h0M312.4 469.8h0M338.9 475.5h0M322.7 500.8h0M303.0 474.7h0M329.3 485.3h0M322.5 461.9h0M322.5 479.6h0M296.1 498.4h0M339.8 469.6h0M325.1 455.8h0M332.8 494.7h0M326.9 495.6h0M328.9 498.5h0M310.0 467.9h0M329.6 472.7h0M301.4 472.0h0M309.8 458.2h0M296.5 483.4h0M304.3 482.5h0M319.8 465.8h0M321.0 503.4h0M318.1 481.8h0M336.0 460.1h0M312.4 492.3h0M305.7 479.4h0M299.9 486.3h0M327.5 480.3h0M334.0 472.1h0M318.8 481.0h0M297.0 474.6h0M307.6 488.5h0M316.6 487.6h0M330.0 460.4h0M333.2 493.0h0M308.5 502.8h0M315.5 501.6h0M312.8 466.3h0M312.2 485.0h0M299.5 477.4h0M311.8 481.1h0M337.8 461.3h0M317.4 462.4h0M301.7 485.5h0M317.2 485.9h0M321.8 469.8h0M318.6 496.9h0M336.9 470.9h0M318.8 484.2h0M295.3 491.8h0M301.6 483.2h0M324.7 503.8h0M312.7 471.3h0M329.5 500.9h0M310.6 477.8h0M320.9 495.1h0M314.5 468.6h0M305.4 475.1h0M312.5 501.6h0M316.6 480.6h0M318.8 495.6h0M322.7 505.8h0M316.8 487.7h0M309.6 490.3h0M309.0 484.8h0M312.0 473.4h0M331.9 459.6h0M338.7 480.2h0M316.1 472.0h0M310.1 505.9h0M332.9 468.6h0M318.6 485.1h0M301.8 479.6h0M322.1 502.1h0M333.8 484.0h0M328.9 463.8h0M300.2 484.1h0M315.1 477.0h0M334.9 495.6h0M308.3 486.7h0M333.4 492.1h0M327.2 498.9h0M305.2 460.3h0M320.1 478.3h0M308.4 469.7h0M326.1 493.0h0M325.7 481.3h0M302.5 464.5h0M311.2 471.9h0M329.2 502.7h0M314.2 463.1h0M316.7 507.0h0M335.2 502.6h0M312.2 468.1h0M323.8 485.4h0M322.6 503.3h0M313.2 476.5h0M324.6 479.1h0M329.8 474.8h0M314.8 477.7h0M332.1 480.2h0M303.8 487.8h0M308.1 504.5h0M305.7 479.6h0M317.0 476.3h0M324.9 486.3h0M326.2 506.2h0M305.8 475.1h0M337.0 458.2h0M318.9 466.6h0M304.7 487.9h0M331.3 476.8h0M332.0 497.9h0M308.4 494.0h0M333.9 463.0h0M299.2 476.0h0M325.8 480.0h0M331.7 500.4h0M308.9 506.7h0M306.4 497.2h0M303.7 486.5h0M311.0 497.0h0M320.6 494.5h0M298.8 471.1h0M309.1 497.2h0M309.7 481.4h0M335.1 484.5h0M316.4 495.0h0M316.2 507.4h0M317.3 506.5h0M317.7 481.0h0M319.9 452.6h0M335.5 486.1h0M326.1 479.0h0M325.6 488.2h0M309.9 486.6h0M316.1 468.7h0M299.2 479.4h0M295.6 486.5h0M332.2 478.4h0M323.8 455.8h0M304.6 477.4h0M312.7 454.7h0M324.7 452.7h0M329.3 455.8h0M318.2 506.8h0M326.3 474.5h0M320.8 470.2h0M329.3 485.0h0M306.8 501.7h0M307.4 500.0h0M314.9 503.0h0M329.8 471.9h0M322.2 494.6h0M305.7 474.2h0M334.9 463.3h0M333.0 505.1h0M314.0 493.6h0M323.2 489.2h0M320.3 476.2h0M296.4 480.7h0M334.6 453.6h0M331.8 458.8h0M334.3 505.1h0M309.8 460.3h0M320.6 465.7h0M308.7 482.2h0M330.3 496.3h0M311.4 503.9h0M310.0 487.8h0M320.2 465.8h0M322.9 467.5h0M301.9 476.8h0M321.5 453.9h0M328.9 495.7h0M322.2 472.2h0M300.3 484.9h0M330.5 470.8h0M324.8 493.5h0M329.5 475.4h0M312.6 505.1h0M316.3 467.1h0M327.1 488.1h0M320.6 493.4h0M311.8 485.3h0M311.7 470.6h0M325.7 494.7h0M307.3 489.2h0M315.7 456.5h0M329.6 457.1h0M334.2 477.6h0M336.6 481.4h0M316.7 495.3h0M317.8 462.6h0M301.7 472.0h0M307.6 457.3h0M302.1 484.3h0M297.0 489.6h0M324.1 504.2h0M322.6 471.8h0M328.0 476.8h0M339.0 465.8h0M303.9 494.0h0M314.9 480.0h0M307.6 504.4h0M311.8 499.1h0M316.2 475.4h0M326.7 483.8h0M325.2 461.9h0M313.0 505.8h0M325.0 465.8h0M310.6 477.3h0M308.5 469.3h0M314.8 498.5h0M322.9 460.4h0M333.9 490.9h0M338.1 484.0h0M312.7 474.5h0M327.2 450.6h0M313.8 483.0h0M332.8 459.2h0M331.4 473.2h0M329.1 460.9h0M323.3 481.3h0M323.3 459.8h0M312.9 480.4h0M323.4 498.5h0M320.2 455.5h0M321.9 488.6h0M324.2 503.7h0M334.1 494.7h0M308.7 461.6h0M304.2 487.9h0M320.8 498.1h0M316.9 473.7h0M308.9 497.3h0M308.8 496.2h0M325.5 469.9h0M320.8 491.3h0M336.2 471.0h0M321.4 503.1h0M314.5 489.3h0M300.6 501.8h0M338.8 472.6h0M313.6 493.3h0M336.7 467.1h0M320.7 468.1h0M332.2 454.7h0M310.8 507.1h0M299.7 500.6h0M320.3 458.8h0M336.1 499.7h0M319.7 504.2h0M319.8 506.3h0M307.9 461.4h0M336.4 487.1h0M306.5 505.0h0M325.3 500.9h0M336.1 463.5h0M319.7 477.0h0M310.1 495.2h0M331.5 493.1h0M305.5 501.1h0M323.8 486.1h0M311.9 458.0h0M305.3 474.3h0M311.0 501.7h0M314.0 481.8h0M321.5 452.2h0M333.5 498.7h0M337.1 482.4h0M326.1 503.3h0M331.6 452.9h0M331.7 472.6h0M294.4 483.5h0M324.6 479.4h0M336.3 475.7h0M329.3 471.8h0M324.1 476.8h0M334.6 496.3h0M310.5 464.9h0M326.6 492.8h0M330.3 467.3h0M329.6 477.3h0M320.0 451.7h0M311.3 485.5h0M313.2 457.7h0M315.6 487.2h0M310.2 464.1h0M329.8 474.5h0M298.7 497.6h0M297.0 478.5h0M310.6 503.2h0M328.1 470.0h0M323.1 463.3h0M326.7 506.4h0M321.5 502.0h0M296.3 487.6h0M327.1 457.4h0M313.6 484.4h0M300.3 476.7h0M319.7 484.5h0M328.7 481.1h0M320.5 464.8h0M334.6 484.5h0M314.7 480.4h0M331.8 468.1h0M301.4 489.7h0M308.3 456.9h0M322.2 463.5h0M294.8 495.7h0M327.9 468.9h0M307.4 498.1h0M311.4 503.5h0M321.5 456.3h0M319.2 480.1h0M311.0 490.8h0M318.4 504.0h0M331.3 454.1h0M308.2 500.2h0M301.4 476.9h0M306.9 473.5h0M338.3 475.6h0M299.4 488.9h0M325.5 452.4h0M326.4 451.5h0M321.5 453.3h0M303.0 504.2h0M333.2 495.2h0M326.9 463.1h0M311.6 472.3h0M309.0 463.6h0M319.7 453.0h0M304.1 483.1h0M322.9 485.6h0M314.2 494.0h0M323.2 495.9h0M306.1 479.9h0M321.6 488.7h0M336.9 462.1h0M301.3 465.1h0M328.8 453.4h0M298.7 473.5h0M312.0 461.0h0M336.9 477.3h0M323.7 500.1h0M309.0 494.5h0M313.9 475.6h0M319.1 491.7h0M314.3 507.8h0M315.5 485.5h0M322.2 458.5h0M304.0 494.3h0M314.8 477.4h0M334.2 486.4h0M303.7 480.7h0M325.7 492.8h0M334.4 470.3h0M332.2 481.2h0M313.4 456.2h0M300.8 489.5h0M334.9 487.6h0M327.0 490.6h0M306.9 482.5h0M304.5 497.0h0M335.2 479.8h0M307.6 465.1h0M337.4 475.8h0M324.0 504.1h0M325.2 499.0h0M310.6 477.9h0M302.8 461.5h0M312.7 460.9h0M326.1 461.8h0M328.5 492.0h0M329.4 457.4h0M335.4 485.0h0M339.2 479.4h0M312.8 503.2h0M307.8 500.0h0M337.1 493.1h0M325.1 464.2h0M307.5 475.7h0M335.8 495.5h0M326.6 487.9h0M324.7 472.6h0M310.4 465.1h0M327.2 461.2h0M301.6 502.4h0M318.3 501.0h0M339.1 462.6h0M300.1 493.1h0M326.7 471.9h0M298.4 481.6h0M334.2 504.2h0M317.3 505.1h0M300.7 487.1h0M319.2 462.2h0M317.8 464.9h0M323.7 492.4h0M314.7 492.7h0M336.2 492.3h0M323.3 457.4h0M328.9 462.5h0M324.1 489.4h0M338.2 473.7h0M321.2 482.0h0M311.6 482.4h0M320.7 458.0h0M327.1 458.5h0M303.4 488.7h0M315.6 453.2h0M303.5 471.2h0M326.4 501.7h0M316.2 456.4h0M303.4 487.3h0M303.3 501.5h0M322.5 503.5h0M314.5 453.7h0M327.8 486.7h0M309.0 484.1h0M304.7 495.2h0M333.3 492.7h0M325.4 497.7h0M315.6 474.8h0M323.8 454.6h0M319.8 482.2h0M300.4 471.3h0M323.0 482.6h0M332.5 459.5h0M332.5 493.5h0M330.3 456.2h0M334.2 473.4h0M332.9 464.6h0M301.4 470.2h0M325.3 485.4h0M326.1 479.3h0M311.7 497.1h0M337.3 463.8h0M309.7 485.3h0M327.8 492.8h0M319.0 458.9h0M312.5 477.9h0M308.2 489.4h0M331.6 467.4h0M316.8 476.2h0M305.8 462.0h0M315.5 466.3h0M322.0 460.5h0M321.6 472.1h0M311.4 476.3h0M295.5 493.4h0M298.1 490.8h0M326.4 461.4h0M338.1 460.4h0M311.9 455.9h0M321.0 496.2h0M314.9 466.8h0M308.4 499.2h0M339.5 472.1h0M311.3 475.0h0M319.4 480.8h0M335.7 476.6h0M319.2 469.5h0M312.9 493.8h0M334.0 491.4h0M316.7 484.8h0M328.9 470.6h0M316.7 480.8h0M326.9 460.6h0M314.8 498.3h0M321.7 508.4h0M302.4 478.8h0M326.8 460.1h0M320.8 482.5h0M323.2 506.3h0M326.1 506.5h0M307.0 481.6h0M332.9 462.1h0M328.8 486.4h0M303.3 481.0h0M335.4 474.2h0M332.6 453.0h0M305.0 498.4h0M326.2 465.9h0M308.3 480.0h0M331.2 479.5h0M317.2 458.0h0M331.1 504.4h0M322.3 489.4h0M325.4 496.8h0M299.7 471.0h0M322.2 492.3h0M319.4 472.1h0M317.9 497.6h0M316.3 454.0h0M318.6 506.3h0M332.1 463.1h0M324.9 495.8h0M322.9 454.3h0M309.9 492.1h0M311.5 460.2h0M332.9 503.8h0M327.7 487.1h0M316.8 478.9h0M295.6 489.4h0M325.0 473.6h0M321.5 502.7h0M306.5 471.1h0M298.3 483.0h0M317.5 468.7h0M308.5 461.3h0M334.1 496.7h0M327.3 483.7h0M308.5 478.9h0M327.2 500.4h0M338.5 466.7h0M312.9 499.8h0M331.9 462.1h0M318.4 454.4h0M310.9 468.8h0M326.7 454.5h0M323.9 474.9h0M317.9 461.0h0M318.9 505.6h0M317.1 463.0h0M313.5 461.8h0M321.6 472.3h0M321.4 474.1h0M301.9 464.3h0M337.8 473.4h0M330.2 476.3h0M319.4 507.2h0M298.9 492.7h0M314.5 487.8h0M296.5 493.6h0M300.8 481.1h0M334.0 490.2h0M303.5 480.3h0M322.0 451.7h0M327.6 501.5h0M297.7 485.6h0M319.7 490.5h0M319.7 476.4h0M327.1 451.3h0M305.8 479.9h0M331.0 492.9h0M313.3 468.7h0M323.5 490.0h0M322.6 474.5h0M296.0 486.2h0M311.5 455.5h0M325.4 492.4h0M295.2 497.6h0M322.7 503.2h0M300.6 467.0h0M322.1 477.2h0M328.2 493.8h0M326.2 457.2h0M316.2 505.8h0M329.3 452.5h0M311.6 501.7h0M322.0 503.7h0M315.2 455.5h0M328.5 463.2h0M322.3 459.9h0M312.7 499.9h0M314.9 493.5h0M324.1 490.9h0M301.4 466.2h0M322.2 491.0h0M335.9 483.8h0M295.5 499.6h0M304.6 493.9h0M304.5 488.7h0M305.6 477.4h0M305.4 495.5h0M307.7 499.0h0M336.2 470.9h0M311.7 485.9h0M325.6 464.9h0M311.3 501.5h0M333.1 495.3h0M298.3 500.3h0M338.4 489.9h0M308.9 501.2h0M326.3 471.6h0M299.4 474.9h0M332.3 481.6h0M319.8 507.6h0M337.6 496.3h0M313.2 462.1h0M310.6 505.1h0M320.3 465.8h0M308.6 467.8h0M302.2 495.9h0M328.2 454.7h0M294.6 482.4h0M337.3 455.8h0M330.6 486.9h0M306.5 482.7h0M307.5 470.7h0M333.1 478.3h0M309.3 504.2h0M328.6 502.9h0M298.0 483.4h0M302.7 484.5h0M326.8 497.2h0M332.8 458.5h0M298.8 473.5h0M309.0 472.5h0M303.2 469.0h0M319.8 468.0h0M322.0 474.3h0M308.3 476.6h0M314.1 472.3h0M313.5 487.3h0M327.3 470.0h0M325.0 476.5h0M330.2 475.2h0M336.6 469.1h0M296.2 483.0h0M309.5 464.8h0M325.6 450.7h0M320.1 485.7h0M331.6 452.8h0M299.1 470.7h0M317.1 493.0h0M297.5 482.2h0M336.6 493.9h0M300.0 488.0h0M328.0 471.3h0M338.4 476.6h0M326.5 467.5h0M310.1 500.4h0M321.9 507.6h0M300.6 465.5h0M323.3 475.0h0M330.4 477.8h0M331.3 472.8h0M338.9 490.7h0M296.9 496.4h0M338.6 476.1h0M333.3 475.7h0M310.4 502.9h0M314.8 500.8h0M305.6 484.8h0M333.4 455.0h0M331.6 468.4h0M338.7 481.6h0M321.5 498.8h0M314.2 479.1h0M313.2 505.8h0M337.2 485.2h0M332.0 490.8h0M300.3 486.0h0M328.8 503.2h0M327.9 499.8h0M329.7 502.4h0M324.6 464.6h0M324.0 475.4h0M322.0 486.8h0M334.3 496.5h0M325.3 491.7h0M324.7 494.0h0M333.9 487.5h0M315.3 493.6h0M300.4 471.8h0M319.6 482.9h0M317.5 500.8h0M317.3 499.6h0M315.0 465.7h0M300.9 488.5h0M309.4 499.3h0M303.4 492.7h0M312.4 458.6h0M324.0 498.0h0M327.6 498.5h0M294.1 483.7h0M335.7 461.9h0M320.4 476.3h0M308.3 456.5h0M327.2 484.0h0M307.7 496.3h0M313.4 467.0h0M327.5 482.1h0M304.0 476.1h0M336.6 489.7h0M303.1 474.9h0M327.2 497.2h0M319.0 481.1h0M332.0 500.0h0M302.0 490.4h0M319.1 458.4h0M330.2 495.4h0M296.5 492.1h0M330.5 486.7h0M330.3 486.4h0M326.7 496.4h0M298.5 470.9h0M300.5 489.1h0M303.9 486.1h0M311.5 488.8h0M319.8 499.3h0M332.0 459.6h0M319.2 482.1h0M310.0 482.5h0M309.3 500.1h0M312.4 486.7h0M305.4 487.4h0M306.6 468.9h0M339.5 484.6h0M306.7 493.7h0M329.5 452.2h0M322.7 494.4h0M325.8 463.7h0M339.9 471.3h0M319.1 468.8h0M335.3 462.3h0M318.8 459.8h0M330.6 481.0h0M312.3 503.4h0M308.7 506.4h0M308.8 491.5h0M328.3 457.5h0M324.9 503.2h0M337.4 494.2h0M333.2 457.4h0M328.4 477.4h0M324.4 459.4h0M325.3 465.5h0M300.6 489.2h0M314.9 502.5h0M335.8 479.3h0M334.4 493.2h0M320.0 482.9h0M330.5 455.0h0M329.8 473.1h0M326.7 463.7h0M301.5 487.8h0M335.5 501.1h0M317.2 480.7h0M318.7 464.0h0M307.5 502.8h0M306.6 475.5h0M307.8 466.8h0M328.5 462.5h0M303.4 473.7h0M310.1 484.5h0M317.7 462.0h0M302.0 496.2h0M319.2 494.3h0M321.7 504.6h0M334.4 483.6h0M326.2 499.3h0M311.2 456.6h0M299.4 474.2h0M305.8 486.4h0M332.6 452.9h0M326.6 496.9h0M330.2 461.7h0M324.3 499.6h0M337.8 493.3h0M333.0 465.8h0M321.5 452.6h0M336.8 491.6h0M305.3 460.2h0M337.8 457.7h0M316.5 505.8h0M321.2 478.6h0M326.7 452.8h0M310.5 468.6h0M313.4 455.4h0M339.4 483.2h0M322.8 471.8h0M311.8 494.6h0M331.9 464.4h0M319.6 483.4h0M318.6 479.4h0M319.6 490.9h0M319.1 498.4h0M317.1 491.3h0M333.5 478.4h0M311.9 460.0h0M315.0 454.9h0M332.8 459.4h0M312.4 467.7h0M319.3 485.0h0M316.7 455.3h0M327.8 463.2h0M304.3 488.7h0M312.6 455.1h0M314.8 492.3h0M307.6 484.2h0M334.0 477.4h0M327.4 503.1h0M314.0 476.7h0M328.5 489.5h0M301.3 503.0h0M322.9 472.5h0M305.1 469.5h0M327.8 505.6h0M320.2 485.2h0M306.5 468.7h0M297.2 474.5h0M333.5 489.0h0M317.6 453.0h0M306.7 485.6h0M323.3 482.2h0M295.4 484.5h0M314.8 474.2h0M311.9 461.0h0M294.8 483.0h0M301.8 466.8h0M312.5 485.9h0M322.4 500.5h0M321.0 475.0h0M338.2 464.4h0M303.2 484.1h0M328.4 506.5h0M317.6 504.4h0M323.0 504.5h0M327.0 474.6h0M306.0 472.5h0M331.2 478.4h0M299.2 497.3h0M312.9 457.8h0M310.0 484.0h0M337.5 477.0h0M310.5 483.4h0M318.9 464.8h0M322.6 496.2h0M328.8 463.0h0M302.9 476.2h0M334.9 489.9h0M322.7 497.4h0M299.4 475.4h0M335.2 465.9h0M295.2 481.3h0M319.5 489.3h0M310.1 504.1h0M325.9 454.2h0M327.2 459.2h0M323.7 462.8h0M297.8 483.3h0M324.5 469.1h0M327.2 478.7h0M320.7 488.9h0M311.4 457.0h0M307.7 485.0h0M300.6 472.9h0M322.9 453.9h0M312.2 479.5h0M320.7 483.2h0M310.4 455.1h0M338.2 476.1h0M335.3 470.1h0M311.5 472.2h0M317.7 500.9h0M300.5 503.4h0M309.7 467.8h0M323.3 470.5h0M301.7 493.3h0M320.9 488.2h0M300.5 489.2h0M325.0 470.5h0M318.2 475.7h0M323.5 470.7h0M332.5 479.7h0M297.5 472.8h0M330.8 499.7h0M321.0 488.7h0M334.6 487.8h0M329.7 492.5h0M319.8 471.8h0M333.8 499.3h0M337.4 488.9h0M313.9 481.8h0M319.0 485.6h0M323.2 458.9h0M333.9 500.3h0M321.7 471.2h0M322.5 495.2h0M316.6 489.7h0M308.2 474.2h0M315.9 495.6h0M320.1 495.0h0M339.2 475.8h0M308.0 458.4h0M311.0 480.8h0M322.6 454.0h0M325.2 500.2h0M310.2 470.7h0M315.3 463.8h0M328.2 461.2h0M297.1 494.3h0M338.0 465.6h0M311.1 460.1h0M325.4 500.0h0M310.0 498.2h0M314.4 475.7h0M322.0 476.7h0M332.0 499.3h0M322.4 485.7h0M321.0 481.0h0M325.1 462.2h0M310.4 467.9h0M321.7 502.5h0M339.5 485.1h0M328.4 487.5h0M299.4 495.0h0M312.0 466.6h0M326.9 461.1h0M337.2 492.5h0M336.5 482.6h0M302.9 463.0h0M333.4 475.1h0M307.3 485.9h0M335.0 503.1h0M315.3 506.1h0M319.5 499.1h0M338.6 458.6h0M323.1 462.6h0M310.9 505.8h0M326.3 489.7h0M317.3 471.5h0M331.1 464.6h0M308.2 492.6h0M310.3 507.0h0M328.9 461.3h0M331.2 479.5h0M307.6 503.2h0M297.5 486.3h0M335.5 503.2h0M312.5 453.3h0M334.3 463.1h0M298.2 495.5h0M310.1 487.8h0M327.1 475.7h0M313.4 455.8h0M317.0 484.3h0M304.4 488.0h0M321.9 483.0h0M339.3 480.3h0M318.6 492.8h0M311.4 486.5h0M311.7 471.1h0M299.7 496.9h0M314.7 470.0h0M321.9 459.4h0M306.0 504.4h0M310.9 506.4h0M328.9 455.6h0M330.2 465.0h0M295.1 490.5h0M325.4 477.3h0M313.1 479.7h0M303.6 480.5h0M312.0 468.0h0M336.0 460.7h0M329.4 485.6h0M302.7 482.7h0M302.1 498.7h0M305.9 478.7h0M299.5 483.1h0M337.5 460.1h0M311.9 506.8h0M327.3 462.8h0M306.7 466.6h0M315.6 481.2h0M322.8 506.3h0M335.8 461.5h0M328.9 455.6h0M323.5 507.1h0M333.2 481.1h0M300.7 482.3h0M333.0 482.2h0M317.1 497.9h0M334.2 501.4h0M317.1 462.3h0M321.0 505.7h0M314.8 473.4h0M335.4 501.8h0M321.1 477.5h0M317.0 455.8h0M307.1 481.0h0M299.3 480.3h0M302.4 503.8h0M318.8 487.3h0M335.0 501.4h0M328.6 499.5h0M301.1 478.8h0M313.3 508.1h0M308.3 482.4h0M329.5 502.8h0M311.7 481.6h0M294.8 494.1h0M336.1 481.0h0M320.1 483.5h0M321.7 454.3h0M330.5 496.3h0M335.9 494.9h0M310.9 466.9h0M323.2 496.2h0M304.4 463.0h0M326.0 498.2h0M300.0 467.9h0M325.2 481.2h0M324.0 500.1h0M304.3 474.7h0M310.1 496.6h0M331.6 452.6h0M328.3 501.3h0M301.4 470.4h0M319.1 483.2h0M301.4 477.3h0M333.7 455.7h0M324.8 486.3h0M301.1 489.6h0M316.1 471.8h0M299.4 484.8h0M320.8 466.3h0M334.9 475.2h0M311.6 477.2h0M296.5 480.0h0M316.2 496.2h0M299.8 500.6h0M320.0 451.6h0M326.2 485.9h0M307.3 462.2h0M321.1 469.9h0M312.2 499.9h0M314.8 458.6h0M297.7 486.0h0M318.3 499.7h0M322.0 481.0h0M321.9 456.6h0M301.2 470.0h0M319.3 508.7h0M296.9 490.4h0M312.9 468.2h0M312.5 506.4h0M319.9 493.3h0M324.4 462.3h0M302.8 478.8h0M330.6 452.8h0M303.9 491.5h0M303.5 484.3h0M298.0 496.5h0M326.2 465.9h0M315.6 492.0h0M324.1 489.4h0M319.5 485.0h0M330.8 504.3h0M324.2 478.4h0M320.3 452.4h0M330.0 468.0h0M310.2 483.3h0M306.7 479.4h0M308.1 462.2h0M307.9 498.2h0M312.3 502.3h0M327.8 503.2h0M297.3 490.8h0M305.5 471.4h0M308.3 467.1h0M332.7 491.1h0M335.0 486.9h0M322.3 480.3h0M336.3 469.4h0M323.9 492.6h0M298.5 485.6h0M335.0 492.8h0M339.0 469.8h0M333.6 461.5h0M295.7 485.4h0M315.5 469.9h0M318.2 494.0h0M325.4 474.1h0M304.8 478.5h0M338.2 492.9h0M312.9 463.0h0M329.0 487.1h0M296.4 487.9h0M322.8 506.5h0M310.9 465.6h0M324.0 459.0h0M336.8 479.0h0M318.7 503.5h0M307.6 471.3h0M322.2 458.7h0M328.9 501.1h0M330.6 462.8h0M315.3 480.3h0M334.3 485.6h0M335.2 489.3h0M297.0 493.9h0M313.9 491.9h0M318.8 462.3h0M321.9 457.1h0M333.6 475.5h0M310.5 502.9h0M316.3 477.2h0M297.5 478.6h0M298.2 485.9h0M322.3 492.0h0M315.1 506.2h0M328.6 489.0h0M335.7 484.5h0M320.6 463.2h0M300.7 480.5h0M317.7 495.6h0M327.5 483.3h0M318.3 508.2h0M325.1 453.6h0M323.0 474.7h0M334.1 470.1h0M325.0 462.0h0M331.0 460.3h0M302.5 490.9h0M311.3 475.5h0M326.2 471.1h0M327.9 505.3h0M315.2 456.8h0M309.5 499.7h0M303.1 477.0h0M318.6 502.3h0M308.0 473.7h0M309.0 472.8h0M311.5 506.1h0M311.5 466.8h0M309.7 497.4h0M316.8 500.4h0M336.2 471.2h0M329.5 474.6h0M338.4 473.3h0M295.3 480.2h0M309.8 455.6h0M324.6 489.1h0M321.3 489.1h0M309.8 486.1h0M337.0 462.5h0M309.3 506.1h0M321.6 459.6h0M311.6 454.5h0M337.8 469.7h0M305.7 501.7h0M318.0 500.4h0M301.2 487.6h0M298.9 494.0h0M299.2 486.4h0M319.9 456.8h0M324.9 454.7h0M298.6 495.7h0M314.4 496.5h0M312.6 456.0h0M336.1 478.6h0M316.6 493.4h0M335.2 465.1h0M316.3 463.5h0M303.4 484.8h0M306.7 501.6h0M333.3 478.2h0M317.8 494.2h0M314.5 454.7h0M319.3 459.7h0M298.9 483.6h0M320.8 504.9h0M318.8 496.6h0M321.8 492.4h0M299.9 496.1h0M337.4 464.4h0M310.6 488.7h0M331.5 491.0h0M315.6 505.3h0M327.9 457.0h0M337.1 460.7h0M311.1 498.8h0M310.1 472.5h0M314.1 462.1h0M312.4 456.8h0M315.3 492.6h0M325.7 453.2h0M319.0 499.4h0M313.5 483.8h0M304.2 495.2h0M333.6 481.3h0M327.7 455.9h0"/>
<path stroke="#9090f8" stroke-width="1.3" stroke-linecap="round" fill="none" opacity="0.88" d="M264.0 418.6h0M258.7 424.3h0M253.5 418.5h0M256.9 418.5h0M252.3 423.5h0M254.0 418.8h0M259.7 426.6h0M259.4 421.5h0M258.0 420.9h0M258.6 420.7h0M252.8 421.7h0M259.3 418.0h0M258.4 421.9h0M261.7 428.1h0M261.2 422.1h0M257.4 418.9h0M254.2 426.1h0M252.5 418.1h0M264.0 431.0h0M257.4 420.2h0M256.9 421.6h0M258.0 416.7h0M262.6 430.1h0M256.0 421.8h0M253.6 428.2h0M252.3 419.4h0M254.6 423.1h0M261.3 417.5h0M268.4 428.4h0M252.4 420.9h0M263.6 428.9h0M255.4 426.7h0M254.8 427.0h0M255.0 427.9h0M260.6 427.5h0M258.3 423.6h0M258.9 429.6h0M260.4 417.7h0M251.9 420.4h0M261.3 426.2h0M269.1 428.1h0M256.3 425.6h0M251.2 420.3h0M257.7 423.9h0M266.8 420.6h0M265.8 421.0h0M258.5 430.1h0M258.1 420.3h0M262.9 425.4h0M260.5 429.4h0M262.4 422.5h0M265.9 427.3h0M255.8 420.4h0M255.9 429.4h0M263.7 427.7h0M265.9 418.8h0M255.6 429.4h0M268.1 421.9h0M267.1 420.6h0M260.9 416.2h0M254.0 418.4h0M255.3 429.8h0M266.9 424.3h0M265.6 419.2h0M262.3 429.9h0M257.9 430.3h0M256.0 419.3h0M262.9 420.3h0M259.6 427.2h0M255.8 422.5h0M266.4 423.4h0M265.2 425.7h0M253.7 421.9h0M252.4 425.6h0M261.2 425.1h0M262.8 431.5h0M256.9 427.8h0M255.1 425.3h0M256.8 417.8h0M250.4 426.0h0M264.8 422.4h0M262.4 427.5h0M255.7 424.2h0M267.7 422.5h0M256.5 421.3h0M261.1 429.5h0M263.4 428.8h0M254.3 420.2h0M259.2 419.2h0M254.5 419.8h0M258.2 429.7h0M256.6 426.9h0M266.7 429.5h0M265.3 423.2h0M256.6 417.8h0M262.7 423.2h0M268.2 424.1h0M268.1 425.3h0M265.0 426.6h0M259.4 419.2h0M260.9 423.0h0M256.2 423.6h0M265.3 426.1h0M263.8 423.5h0M256.0 427.0h0M252.8 421.0h0M263.8 421.1h0M266.5 423.2h0M262.6 421.6h0M254.6 419.8h0M260.2 423.5h0M255.0 428.3h0M259.2 421.7h0M257.9 423.0h0M257.5 423.7h0M251.7 428.0h0M259.9 426.8h0M260.5 428.9h0M257.1 421.5h0M255.7 420.0h0M266.7 422.5h0M251.8 427.3h0M266.1 420.5h0M266.0 427.3h0M255.9 428.2h0M266.7 419.6h0M260.2 426.6h0M260.6 415.6h0M254.3 428.0h0M252.0 428.1h0M262.3 417.5h0M262.3 428.4h0M268.2 424.5h0M255.0 418.3h0M255.2 422.2h0M252.3 418.8h0M257.5 420.4h0M255.0 426.2h0M267.3 425.5h0M261.7 428.9h0M261.9 428.3h0M266.0 427.5h0M262.9 429.6h0M266.3 421.1h0M255.3 422.7h0M261.9 429.6h0M255.4 428.1h0M255.4 425.0h0M258.9 416.8h0M260.1 424.0h0M256.9 419.9h0M253.6 423.6h0M261.8 416.9h0M267.2 424.9h0M260.7 430.9h0M256.6 424.1h0M263.9 418.9h0M255.7 423.6h0M258.0 428.2h0M251.1 422.5h0M259.6 417.9h0M259.7 426.8h0M263.5 424.3h0M268.0 420.3h0M264.7 426.7h0M262.2 424.3h0M257.1 430.3h0M252.5 418.4h0M260.1 422.6h0M256.7 429.6h0M260.8 429.3h0M260.2 421.3h0M252.1 419.8h0M263.9 420.7h0M265.8 422.4h0M257.1 423.3h0M257.2 422.4h0M267.1 426.0h0M260.9 431.3h0M267.0 424.9h0M258.5 426.9h0M264.9 427.3h0M251.0 425.7h0M265.7 427.9h0M261.2 423.6h0M260.6 429.4h0M254.7 421.2h0M263.9 418.3h0M265.5 421.1h0M260.4 421.2h0M254.7 425.9h0M251.1 424.5h0M257.9 417.0h0M265.5 428.7h0M256.7 420.8h0M259.0 418.1h0M250.6 421.6h0M261.1 429.2h0M263.2 430.4h0M265.0 423.3h0M252.6 425.9h0M257.8 429.0h0M267.5 427.0h0M259.2 422.3h0M256.5 429.8h0M258.1 423.1h0M259.7 428.8h0M257.3 416.6h0M258.1 429.1h0M261.2 420.2h0M254.9 419.4h0M254.0 421.1h0M265.2 428.4h0M266.7 425.3h0M269.3 426.8h0M261.1 424.6h0M260.5 428.9h0M256.1 429.8h0M259.9 419.5h0M245.1 427.3h0M245.1 429.7h0M242.7 430.7h0M243.7 430.6h0M244.7 427.5h0M245.6 427.2h0M242.7 429.3h0M245.0 428.8h0M244.4 429.7h0M244.7 430.0h0M242.9 428.3h0M244.7 427.5h0"/>
<path stroke="#f068c0" stroke-width="1.3" stroke-linecap="round" fill="none" opacity="0.88" d="M263.5 455.3h0M268.5 457.5h0M265.0 457.6h0M268.1 458.6h0M263.5 457.6h0M267.6 459.8h0M268.0 454.1h0M266.3 454.7h0M264.6 458.6h0M262.7 457.5h0M268.4 458.6h0M263.1 458.4h0M267.1 459.3h0M268.8 455.6h0M265.5 456.3h0M264.8 457.8h0M267.2 458.7h0M266.1 456.5h0M268.7 457.3h0M263.5 455.3h0M265.0 454.9h0M264.2 459.1h0M265.7 458.6h0M269.8 455.5h0M266.8 457.6h0M263.8 456.2h0M264.9 455.7h0M263.6 459.8h0M265.6 455.6h0M268.0 455.9h0M266.0 453.8h0M266.2 458.7h0M269.2 456.0h0M262.4 456.6h0M263.8 458.4h0M264.4 457.9h0M264.9 454.1h0M263.6 455.1h0M267.0 459.5h0"/>
<path stroke="#f07098" stroke-width="1.3" stroke-linecap="round" fill="none" opacity="0.88" d="M217.2 462.0h0M220.4 461.7h0M220.5 460.8h0M220.2 465.7h0M218.6 464.8h0M220.3 461.2h0M220.9 462.3h0M218.6 462.2h0M220.7 462.6h0M217.9 463.9h0M220.7 460.9h0M217.4 461.8h0M220.5 465.4h0M220.1 460.6h0M219.8 462.6h0"/>
<path stroke="#40b0f0" stroke-width="1.3" stroke-linecap="round" fill="none" opacity="0.88" d="M285.0 497.2h0M276.5 500.9h0M267.0 508.5h0M277.1 499.5h0M270.6 499.5h0M292.8 493.8h0M276.0 503.1h0M279.3 499.6h0M281.8 500.3h0M282.3 495.2h0M279.5 500.1h0M295.0 495.5h0M292.7 494.2h0M275.4 501.3h0M295.2 486.9h0M275.6 500.2h0M285.7 496.7h0M283.0 494.8h0M284.2 497.9h0M265.6 507.7h0M264.3 506.8h0M288.6 494.8h0M285.5 494.7h0M264.7 506.4h0M284.2 497.3h0M274.9 505.5h0M269.1 505.2h0M267.1 504.5h0M286.5 496.9h0M260.8 508.6h0M276.5 500.9h0M266.1 507.4h0M264.0 508.3h0M283.5 496.0h0M263.4 508.1h0M287.8 493.7h0M278.3 499.2h0M292.3 491.1h0M259.5 509.9h0M284.1 497.4h0M276.0 501.6h0M281.3 497.3h0M279.2 499.4h0M270.1 505.9h0M292.4 494.1h0M259.0 510.3h0M281.9 502.2h0M286.6 498.2h0M281.2 495.3h0M266.2 509.3h0M293.9 489.2h0M279.5 501.4h0M272.0 503.4h0M292.9 490.1h0M295.9 487.7h0M271.3 503.0h0M271.2 504.2h0M277.9 501.0h0M262.0 509.6h0M277.1 502.1h0M276.9 500.3h0M272.7 501.7h0M291.4 493.6h0M285.9 495.9h0M287.4 496.0h0M271.0 500.6h0M269.6 504.5h0M274.4 500.8h0M259.1 511.3h0M292.0 492.5h0M271.5 497.1h0M272.1 496.4h0M276.7 494.9h0M277.1 496.9h0M279.6 494.9h0M276.1 495.5h0M276.7 494.4h0M273.5 493.6h0M273.1 498.4h0M278.6 495.9h0M279.0 494.1h0M279.6 491.7h0M279.5 494.4h0M280.2 491.0h0M277.8 496.4h0M278.9 491.1h0M273.2 497.7h0M281.2 491.5h0M281.1 493.9h0M279.9 493.2h0M270.0 496.2h0M273.2 497.9h0M277.3 492.2h0M269.4 497.3h0M274.2 494.1h0M279.8 493.2h0M272.0 499.4h0M271.5 494.7h0M274.0 497.6h0M270.9 497.2h0M278.8 493.7h0M273.5 494.1h0M279.4 492.7h0M280.2 493.4h0M271.4 495.0h0M282.5 494.0h0M275.5 495.3h0M275.9 492.3h0M272.3 494.7h0M276.6 495.1h0M277.5 497.0h0M280.5 495.7h0M282.3 493.1h0M280.8 492.6h0M272.1 497.6h0M280.9 493.3h0M275.5 495.4h0M282.5 493.1h0M274.7 493.1h0M280.0 494.4h0M277.8 492.7h0M273.3 494.7h0M280.2 492.4h0M279.9 492.5h0M275.9 495.3h0M279.6 492.2h0M272.1 496.4h0M275.6 493.9h0M277.3 492.0h0M270.7 497.2h0M278.8 493.7h0M273.6 497.3h0M272.3 499.6h0M281.2 494.3h0"/>
<path stroke="#f068e0" stroke-width="1.3" stroke-linecap="round" fill="none" opacity="0.88" d="M215.1 501.1h0M218.5 494.4h0M214.0 499.0h0M224.1 493.6h0M214.4 496.1h0M222.5 491.9h0M217.6 495.2h0M219.6 495.9h0M214.9 502.9h0M210.6 498.9h0M212.0 502.1h0M220.9 496.7h0M218.2 492.8h0M220.8 491.4h0M222.3 492.2h0M216.8 499.2h0M218.2 491.8h0M216.2 495.6h0M213.5 501.6h0M216.4 493.5h0M216.3 501.2h0M220.4 491.4h0M219.9 491.5h0M216.5 498.5h0M213.4 496.8h0M219.3 496.4h0M216.3 496.2h0M210.0 498.8h0M217.5 492.2h0M219.8 491.3h0M211.0 500.0h0M216.7 500.5h0M219.5 497.8h0M216.8 499.4h0M224.2 491.8h0M217.3 498.6h0M218.4 494.4h0M218.1 493.1h0M219.8 490.5h0M210.9 500.7h0M219.8 495.2h0M214.1 503.1h0M219.7 494.5h0M217.6 497.5h0M220.3 494.8h0M222.2 493.9h0M213.3 496.2h0M212.1 499.3h0M218.7 491.6h0M217.2 494.9h0M218.7 491.3h0M216.3 497.1h0M219.0 498.7h0M222.6 494.5h0M209.8 499.6h0M211.9 501.5h0M220.3 494.0h0M215.4 502.0h0M211.9 498.3h0M215.2 501.9h0M214.8 497.6h0M219.2 495.3h0M220.4 493.4h0M211.1 501.3h0M215.3 498.7h0M219.3 492.6h0M215.8 494.5h0M210.7 499.8h0M219.7 493.5h0M220.1 496.4h0M217.1 495.0h0M212.9 499.6h0M211.1 499.8h0M216.6 496.0h0M210.6 499.4h0M212.6 499.5h0M211.7 499.4h0M221.7 494.0h0M223.3 494.6h0M209.1 499.4h0M218.9 492.6h0M220.2 494.4h0M212.5 501.2h0M210.2 499.4h0M214.6 496.8h0M220.3 491.9h0M218.1 494.7h0M215.3 498.6h0M214.3 497.0h0M215.5 496.3h0M211.9 499.6h0"/>
<path stroke="#e070f0" stroke-width="1.3" stroke-linecap="round" fill="none" opacity="0.88" d="M195.8 509.3h0M204.0 503.0h0M205.5 505.0h0M204.1 504.5h0M202.2 508.3h0M200.8 508.8h0M197.0 506.2h0M200.7 511.3h0M203.0 509.5h0M204.5 505.0h0M200.7 504.6h0M204.8 500.6h0M204.4 506.1h0M197.1 505.5h0M206.7 505.2h0M197.6 507.2h0M197.0 510.0h0M202.7 506.8h0M207.5 504.6h0M198.0 505.1h0M200.0 507.1h0M200.1 506.2h0M196.9 509.6h0M208.9 501.8h0M199.5 507.7h0M198.4 508.3h0M197.4 508.0h0M204.9 504.5h0M205.9 501.8h0M207.8 503.9h0M208.2 504.6h0M202.5 502.3h0M201.9 505.4h0M206.9 502.1h0M208.1 505.2h0M205.3 502.5h0M201.8 504.2h0M210.1 502.3h0M208.6 502.1h0M210.6 503.3h0M196.9 505.8h0M195.0 510.3h0M197.4 507.1h0M200.3 511.5h0M198.6 511.8h0M207.3 504.4h0M207.2 505.3h0M207.8 504.9h0M200.4 509.7h0M201.7 507.3h0M194.9 509.6h0M205.8 503.6h0M203.1 505.3h0M206.5 506.5h0M203.3 508.9h0M196.5 507.5h0M204.3 503.5h0M205.7 501.5h0M206.8 504.3h0M195.9 510.3h0M197.5 506.3h0M206.0 506.0h0M202.4 505.6h0M203.1 506.6h0M200.0 503.8h0M195.2 511.4h0M201.6 503.4h0M206.4 502.7h0M202.8 509.4h0M198.5 506.0h0M205.7 500.3h0M206.6 501.2h0M198.0 509.4h0M203.3 502.6h0M205.7 503.2h0M200.5 504.3h0M207.7 501.9h0M204.1 506.2h0M198.3 511.4h0M205.2 500.4h0M210.6 502.9h0M200.4 509.0h0M195.6 511.1h0M200.0 504.6h0M200.6 505.4h0M201.7 509.6h0M205.9 506.7h0M205.3 502.1h0M205.2 506.1h0M207.5 501.6h0M205.2 507.5h0M195.5 508.4h0M199.8 506.4h0M195.1 507.6h0M200.5 507.7h0M205.4 507.1h0M194.6 507.6h0M200.1 508.6h0M210.2 504.2h0"/>
<path stroke="#44c0e0" stroke-width="1.3" stroke-linecap="round" fill="none" opacity="0.88" d="M243.0 541.7h0M217.1 533.6h0M213.9 535.1h0M229.2 536.5h0M215.1 536.7h0M240.1 547.6h0M239.2 540.1h0M234.3 544.0h0M213.3 533.7h0M212.8 528.4h0M226.1 541.0h0M241.2 541.7h0M212.2 528.9h0M236.7 540.2h0M213.8 529.2h0M219.6 544.3h0M243.0 543.5h0M224.8 534.7h0M236.8 549.0h0M231.2 548.0h0M212.0 528.5h0M225.9 547.0h0M209.6 543.0h0M222.9 534.4h0M218.4 530.5h0M244.0 543.6h0M223.2 539.7h0M213.0 541.8h0M217.3 539.2h0M221.8 542.0h0M218.5 532.9h0M237.9 542.3h0M221.3 543.1h0M229.1 537.4h0M222.0 546.5h0M234.4 547.9h0M209.3 543.7h0M213.5 529.5h0M229.0 538.9h0M215.8 541.4h0M212.3 544.0h0M208.0 535.1h0M239.0 547.4h0M216.8 539.7h0M241.0 543.3h0M224.0 542.1h0M217.2 536.8h0M240.0 549.1h0M236.1 546.7h0M210.9 544.8h0M226.5 541.5h0M216.7 544.4h0M221.5 546.5h0M210.6 541.3h0M212.3 532.6h0M243.0 541.6h0M230.7 542.6h0M237.7 543.0h0M213.6 529.7h0M216.3 533.3h0M236.3 543.2h0M237.2 545.5h0M220.7 533.3h0M232.1 543.0h0M232.7 548.2h0M225.8 539.1h0M221.3 543.7h0M211.6 543.2h0M215.2 539.6h0M208.9 532.0h0M215.6 545.3h0M244.2 542.1h0M222.4 535.1h0M216.1 528.5h0M210.8 528.3h0M236.0 547.2h0M217.1 536.1h0M214.4 545.9h0M231.7 543.7h0M240.1 544.6h0M232.9 541.6h0M236.2 539.7h0M217.0 529.0h0M208.5 535.6h0M218.5 545.7h0M231.0 538.3h0M217.2 535.9h0M243.6 543.9h0M228.4 535.5h0M208.6 533.9h0M224.5 536.8h0M219.9 546.0h0M224.1 534.8h0M209.1 542.1h0M230.6 538.8h0M237.2 549.0h0M236.8 545.1h0M218.4 531.0h0M208.0 533.7h0M236.1 539.6h0M220.0 536.1h0M216.8 533.7h0M245.5 542.4h0M223.4 540.8h0M229.5 545.6h0M219.5 542.5h0M226.0 547.9h0M210.3 529.5h0M214.5 546.3h0M216.1 542.8h0M209.7 541.8h0M213.9 531.3h0M228.0 536.6h0M229.6 547.0h0M239.7 541.2h0M233.8 549.1h0M209.2 538.3h0M226.7 539.8h0M211.0 529.2h0M236.5 544.4h0M216.3 537.7h0M229.2 542.7h0M211.4 545.5h0M221.9 542.4h0M226.9 539.7h0M234.0 542.7h0M213.1 544.5h0M243.9 543.7h0M236.3 548.5h0M224.3 544.7h0M215.4 546.6h0M234.5 546.1h0M228.4 544.0h0M213.5 527.5h0M242.1 544.0h0M222.8 547.1h0M213.9 533.3h0M234.2 545.2h0M206.8 540.0h0M226.0 544.7h0M223.4 538.4h0M211.0 545.7h0M239.5 549.5h0M211.3 534.8h0M217.7 539.8h0M218.7 540.4h0M231.2 539.0h0M215.0 537.4h0M209.3 536.3h0M222.4 534.2h0M235.7 538.5h0M224.1 546.7h0M226.5 545.5h0M233.9 547.9h0M222.6 547.6h0M237.8 545.4h0M239.3 541.7h0M224.4 536.0h0M226.9 542.4h0M231.1 548.1h0M220.8 541.5h0M212.3 536.3h0M219.0 533.2h0M214.2 545.4h0M218.4 541.4h0M238.1 546.9h0M214.4 543.6h0M212.7 546.3h0M227.2 544.4h0M229.8 536.9h0M210.6 532.7h0M233.0 538.6h0M214.5 539.9h0M233.2 545.6h0M243.1 541.1h0M206.1 537.6h0M211.7 534.8h0M239.5 543.9h0M213.0 531.2h0M209.6 541.7h0M231.9 538.5h0M236.1 546.3h0M213.7 531.6h0M230.3 547.7h0M210.6 537.1h0M218.4 540.1h0M231.2 542.1h0M229.2 543.5h0M209.0 531.8h0M214.3 542.2h0M241.0 546.3h0M210.0 533.6h0M224.2 537.8h0M241.4 544.4h0M226.9 543.0h0M218.2 541.4h0M217.2 542.9h0M214.6 529.4h0M223.9 538.1h0M234.0 537.7h0M208.4 539.9h0M228.1 548.6h0M223.6 535.4h0M219.4 545.1h0M235.1 549.2h0M229.9 540.3h0M227.6 543.0h0M213.1 532.8h0M229.3 536.2h0M227.8 539.1h0M212.6 528.9h0M225.3 541.8h0M218.3 536.8h0M216.1 529.2h0M216.7 538.4h0M218.1 540.7h0M242.3 541.5h0M220.9 541.3h0M222.2 541.0h0M233.3 541.1h0M219.7 547.5h0M214.8 529.5h0M237.7 541.1h0M239.8 542.5h0M229.4 545.2h0M217.6 543.2h0M234.3 543.8h0M238.8 546.5h0M239.7 544.5h0M223.3 547.4h0M223.1 535.1h0M237.4 547.0h0M228.4 536.2h0M209.1 537.8h0M241.0 544.5h0M214.2 532.9h0M213.2 533.0h0M225.5 544.2h0M223.2 545.8h0M225.2 535.0h0M236.0 549.2h0M225.9 545.6h0M233.0 548.8h0M217.1 540.4h0M221.8 533.9h0M235.3 541.5h0M206.7 539.0h0M210.2 532.9h0M212.0 527.3h0M245.5 542.4h0M215.8 544.0h0M210.2 538.3h0M217.8 532.4h0M235.1 548.3h0M236.7 543.1h0M211.2 541.6h0M222.2 538.1h0M232.3 543.6h0M225.3 537.4h0M215.8 542.9h0M233.3 539.7h0M217.9 545.8h0M240.0 543.7h0M241.3 547.9h0M238.3 546.3h0M243.3 544.8h0M238.1 547.2h0M222.0 545.5h0M238.3 543.1h0M229.6 539.9h0M235.5 540.4h0M221.0 546.1h0M229.5 544.6h0M214.0 531.6h0M223.2 533.4h0M241.7 544.1h0M213.6 541.7h0M215.8 540.4h0M236.4 540.6h0M211.7 537.2h0M212.7 538.9h0M237.6 546.1h0M209.8 536.1h0M216.7 535.0h0M224.1 546.5h0M219.7 541.5h0M210.5 540.9h0M225.7 536.4h0M214.0 541.8h0M215.2 534.3h0M218.9 544.0h0M207.9 541.9h0M222.5 545.8h0M214.9 536.0h0M240.8 545.9h0M215.6 541.9h0M213.9 533.2h0M240.1 549.7h0M231.1 540.7h0M238.8 542.0h0M216.5 536.7h0M228.7 537.9h0M234.4 541.0h0M231.4 544.5h0M233.1 544.0h0M244.5 542.5h0M226.2 540.5h0M216.3 546.6h0M219.8 531.0h0M224.5 542.5h0M220.7 537.1h0M216.4 546.5h0M207.0 534.5h0M208.7 535.6h0M232.1 547.8h0M226.1 537.7h0M214.5 537.4h0M237.1 540.6h0M212.6 537.6h0M244.7 541.8h0M233.1 544.7h0M222.7 546.6h0M244.8 543.1h0M235.5 546.1h0M206.0 536.9h0M214.4 540.6h0M219.0 537.1h0M231.8 540.3h0M215.2 538.7h0M229.9 542.6h0M241.3 545.0h0M226.5 547.7h0M218.8 547.0h0M229.4 540.3h0M221.1 546.0h0M226.3 547.7h0M223.2 544.6h0M221.1 546.8h0M215.7 532.3h0M228.5 547.0h0M210.7 528.3h0M216.4 534.1h0M241.1 543.3h0M223.2 535.4h0M216.3 543.8h0M218.7 541.7h0M238.1 541.0h0M218.1 530.7h0M212.8 543.0h0M220.9 538.3h0M206.9 536.6h0M231.7 548.1h0M221.4 538.8h0M241.0 541.3h0M210.4 538.1h0M237.8 546.4h0M213.7 543.6h0M228.4 548.0h0M215.0 534.0h0M214.5 537.0h0M229.8 538.9h0M211.3 527.6h0M217.2 544.7h0M225.7 542.5h0M230.5 543.6h0M211.3 544.0h0M236.2 549.5h0M230.0 541.8h0M224.1 537.4h0M208.1 539.4h0M236.7 543.4h0M229.2 539.8h0M207.9 542.1h0M211.4 532.8h0M210.0 529.5h0M219.2 545.6h0M226.6 536.0h0M215.9 546.6h0M230.7 547.1h0M216.3 532.4h0M211.1 543.7h0M216.6 541.3h0M213.2 528.5h0M224.3 539.2h0M233.0 540.4h0M211.2 527.1h0M209.7 530.9h0M210.5 542.3h0M218.8 530.0h0M210.1 545.0h0M219.8 531.0h0M231.0 537.5h0M211.0 535.1h0M239.9 547.2h0M220.4 541.2h0M233.3 543.8h0M239.6 541.0h0M219.6 534.4h0M229.9 546.6h0M222.5 538.9h0M237.1 543.9h0M214.6 540.7h0M219.7 534.8h0M234.2 548.7h0M230.8 540.4h0M211.3 537.8h0M231.1 536.5h0M231.6 537.7h0M232.2 546.8h0M243.1 544.1h0M220.8 539.6h0M205.4 538.2h0M227.0 540.9h0M222.1 538.6h0M232.8 543.4h0M231.1 541.1h0M229.7 539.6h0M214.2 536.0h0M238.9 546.0h0M207.3 541.4h0M220.7 530.5h0M207.7 536.9h0M224.7 536.8h0M230.6 540.5h0M213.3 541.6h0M239.1 539.4h0M218.2 537.7h0M241.8 542.0h0M209.9 529.3h0M212.5 528.4h0M240.5 546.4h0M235.5 547.8h0M220.7 536.5h0M210.9 529.6h0M223.1 534.9h0M221.9 538.1h0M233.9 539.7h0M234.2 542.4h0M238.9 546.1h0M232.7 547.1h0M211.1 532.1h0M225.4 538.1h0M240.3 544.2h0M210.7 528.1h0M216.9 534.2h0M210.7 543.0h0M223.2 538.6h0M212.9 546.2h0M215.2 537.1h0M220.9 546.5h0M214.4 536.7h0M208.4 540.8h0M222.0 539.6h0M210.6 536.4h0M213.4 531.9h0M222.0 534.0h0M229.9 545.8h0M230.1 543.3h0M228.8 540.0h0M211.4 533.1h0M209.9 529.8h0M228.9 535.9h0M212.1 544.3h0M236.3 547.9h0M222.6 545.6h0M221.5 539.6h0M207.2 536.6h0M223.0 540.9h0M236.7 542.5h0M208.5 537.1h0M217.4 545.0h0M221.6 536.3h0M223.1 542.0h0M212.8 538.2h0M207.5 534.5h0M213.2 532.7h0M214.9 542.4h0M238.2 546.2h0M209.2 530.8h0M246.9 519.9h0M250.2 518.0h0M250.0 517.3h0M239.0 530.7h0M237.1 527.9h0M244.9 523.2h0M235.5 530.1h0M236.8 528.1h0M249.6 517.6h0M235.1 532.7h0M250.0 518.4h0M239.8 525.3h0M240.6 524.8h0M241.2 527.5h0M249.2 517.3h0M235.0 531.9h0M248.2 519.4h0M248.0 521.6h0M242.9 522.9h0M248.9 520.0h0M235.0 531.7h0M245.4 522.5h0M249.8 519.8h0M239.8 529.4h0M244.1 523.4h0"/>
<path stroke="#44ccb0" stroke-width="1.3" stroke-linecap="round" fill="none" opacity="0.88" d="M189.1 552.2h0M203.1 557.1h0M224.1 560.4h0M209.9 571.3h0M219.8 558.4h0M224.4 563.0h0M199.0 566.9h0M223.7 557.0h0M223.3 552.6h0M216.3 565.3h0M214.5 555.0h0M221.2 564.5h0M208.5 565.9h0M203.9 564.1h0M204.3 570.2h0M222.0 572.2h0M193.6 563.3h0M212.6 574.4h0M213.2 551.8h0M214.6 558.2h0M212.6 565.9h0M195.8 558.8h0M217.9 560.9h0M204.1 570.0h0M211.3 555.7h0M213.4 558.6h0M224.0 563.0h0M198.4 560.3h0M226.3 570.2h0M199.5 570.1h0M214.9 569.1h0M218.0 567.6h0M225.1 574.9h0M214.0 551.2h0M198.0 552.9h0M202.5 562.6h0M194.5 556.7h0M219.4 564.5h0M220.6 563.2h0M218.4 557.0h0M210.8 555.5h0M202.9 569.4h0M198.8 554.5h0M192.9 556.4h0M221.0 562.8h0M208.5 563.2h0M223.2 560.9h0M207.3 551.3h0M190.4 552.7h0M193.9 552.4h0M202.1 569.7h0M203.1 550.5h0M201.6 565.8h0M213.8 563.6h0M210.6 560.5h0M193.4 556.2h0M207.2 557.7h0M219.4 555.2h0M192.0 552.9h0M194.9 550.9h0M205.5 548.3h0M205.7 569.6h0M217.5 569.2h0M194.0 555.9h0M217.7 567.4h0M216.6 551.6h0M208.3 561.5h0M212.3 551.7h0M208.1 565.2h0M217.2 574.8h0M191.1 553.5h0M205.4 573.3h0M214.6 562.0h0M199.3 564.6h0M196.3 567.0h0M203.1 550.2h0M211.6 570.5h0M211.1 548.4h0M217.1 570.7h0M197.9 553.2h0M192.0 565.9h0M199.4 560.0h0M214.5 553.1h0M208.6 557.5h0M207.2 567.2h0M216.8 569.7h0M205.0 548.6h0M197.9 549.8h0M207.8 565.1h0M207.7 572.6h0M202.2 567.3h0M223.4 551.7h0M198.5 563.8h0M204.2 572.1h0M215.8 553.7h0M214.4 549.0h0M203.7 554.3h0M216.3 574.8h0M220.0 551.8h0M214.9 560.7h0M212.1 574.1h0M199.3 556.0h0M208.5 553.2h0M223.1 552.1h0M223.1 569.7h0M205.2 550.9h0M197.4 550.0h0M210.6 570.0h0M190.7 554.9h0M213.6 552.7h0M225.5 565.0h0M203.7 554.6h0M217.6 558.5h0M215.8 551.7h0M219.6 570.0h0M223.9 569.7h0M196.4 559.1h0M192.7 562.7h0M202.6 561.8h0M213.1 555.3h0M209.1 565.2h0M190.1 552.1h0M201.7 566.4h0M201.7 550.1h0M216.4 573.4h0M225.7 566.8h0M193.0 552.2h0M200.4 568.1h0M206.8 569.4h0M194.6 559.9h0M189.8 552.8h0M217.7 553.0h0M190.8 562.8h0M220.0 551.3h0M221.8 561.7h0M199.2 557.1h0M198.2 553.8h0M221.6 571.0h0M197.4 569.6h0M201.8 555.8h0M204.5 564.6h0M195.5 564.9h0M222.8 557.9h0M202.7 560.6h0M212.2 552.0h0M213.4 570.6h0M212.6 558.4h0M207.2 558.0h0M200.6 572.1h0M205.7 550.9h0M198.7 555.5h0M225.9 557.2h0M219.2 554.7h0M195.0 553.0h0M217.1 558.7h0M215.4 560.5h0M213.0 554.2h0M204.2 554.1h0M208.4 557.8h0M215.1 550.9h0M207.6 553.8h0M213.4 549.2h0M190.1 555.8h0M210.1 573.7h0M189.7 562.2h0M210.9 553.6h0M227.2 571.6h0M211.4 567.7h0M220.2 560.3h0M191.7 557.4h0M203.7 558.5h0M190.8 552.2h0M191.1 566.0h0M206.8 558.7h0M223.6 574.1h0M221.6 551.4h0M194.4 565.3h0M223.3 559.5h0M215.6 550.9h0M208.9 562.2h0M215.7 575.6h0M196.6 555.1h0M206.5 566.3h0M197.7 559.1h0M218.0 563.5h0M206.0 548.3h0M205.7 549.0h0M192.7 561.0h0M212.9 556.8h0M202.6 556.4h0M203.6 554.8h0M210.6 557.8h0M204.8 555.7h0M206.7 568.0h0M221.0 553.0h0M221.0 567.1h0M221.4 559.3h0M203.5 572.3h0M213.8 550.0h0M218.8 573.1h0M217.2 576.1h0M211.1 572.2h0M210.9 554.3h0M214.4 553.7h0M225.0 555.5h0M220.3 569.5h0M224.1 556.4h0M202.0 570.1h0M201.9 553.1h0M201.9 556.5h0M227.2 560.9h0M221.0 571.5h0M215.6 575.4h0M191.4 553.9h0M213.0 572.7h0M219.3 572.6h0M205.0 572.6h0M222.9 576.8h0M227.4 564.5h0M224.4 559.6h0M202.3 554.4h0M199.2 555.5h0M197.3 565.5h0M206.0 566.1h0M221.9 566.7h0M222.5 562.4h0M191.2 558.0h0M209.2 573.6h0M226.0 557.5h0M216.6 570.7h0M192.9 561.4h0M223.1 569.2h0M218.5 565.3h0M200.5 555.5h0M189.4 553.8h0M218.5 567.6h0M223.5 555.4h0M200.9 563.1h0M221.2 566.9h0M209.7 569.9h0M218.8 556.3h0M195.1 552.4h0M215.1 572.1h0M202.7 560.2h0M218.2 571.2h0M222.3 565.6h0M224.5 561.3h0M221.1 563.9h0M204.6 553.3h0M201.0 555.7h0M207.5 551.9h0M200.8 557.2h0M210.2 568.8h0M218.6 569.1h0M210.0 565.8h0M225.8 576.7h0M225.8 559.1h0M197.9 550.2h0M190.9 557.2h0M193.5 562.1h0M216.9 575.3h0M213.7 551.8h0M203.2 559.2h0M201.6 565.3h0M196.3 565.2h0M207.3 569.6h0M194.6 560.4h0M221.0 574.7h0M200.6 568.8h0M199.6 549.4h0M204.4 549.9h0M217.0 550.0h0M201.7 554.9h0M208.1 556.8h0M204.9 551.9h0M224.6 555.9h0M213.8 569.6h0M198.4 567.1h0M197.2 555.3h0M200.3 568.1h0M217.5 560.6h0M191.8 565.5h0M199.4 566.3h0M223.9 564.0h0M225.7 563.2h0M225.8 558.6h0M199.8 569.0h0M215.3 564.3h0M207.7 564.3h0M194.6 552.6h0M208.3 555.6h0M200.4 569.0h0M224.4 555.0h0M217.5 552.4h0M189.1 553.9h0M217.6 562.0h0M216.1 558.5h0M223.6 565.5h0M198.8 553.9h0M211.9 561.3h0M201.8 555.6h0M220.9 552.8h0M198.2 554.8h0M224.6 575.8h0M204.1 560.9h0M206.1 559.8h0M222.0 566.7h0M210.8 568.8h0M199.6 548.3h0M220.3 567.5h0M207.3 560.1h0M217.1 560.5h0M214.0 558.6h0M190.4 561.4h0M213.4 555.7h0M225.8 573.3h0M225.6 576.8h0M223.7 554.6h0M216.7 568.8h0M213.9 561.2h0M198.9 551.1h0M219.3 566.7h0M210.6 570.6h0M202.7 561.3h0M208.0 556.8h0M203.6 569.0h0M206.6 570.5h0M216.2 557.8h0M199.4 563.4h0M212.3 555.9h0M226.9 562.4h0M224.0 568.0h0M190.1 563.8h0M213.6 567.1h0M221.1 565.8h0M213.3 565.8h0M219.5 573.1h0M198.9 565.4h0M198.5 563.9h0M196.8 555.6h0M198.2 569.1h0M206.1 559.1h0M223.3 566.4h0M198.8 570.0h0M216.3 576.2h0M198.6 569.0h0M199.6 563.5h0M214.9 551.3h0M215.0 548.9h0M214.8 549.6h0M199.3 562.7h0M208.2 557.6h0M195.0 562.9h0M195.4 550.7h0M205.4 561.5h0M205.7 557.3h0M193.0 550.8h0M211.8 558.3h0M202.7 562.7h0M197.8 567.2h0M223.2 569.1h0M225.1 555.2h0M209.6 563.8h0M211.3 567.8h0M189.0 557.6h0M203.1 567.3h0M226.4 559.5h0M209.1 573.1h0M194.3 555.0h0M193.7 551.9h0M223.2 566.4h0M192.7 560.9h0M206.1 548.6h0M199.4 555.2h0M195.1 563.9h0M227.4 571.6h0M201.2 559.0h0M201.8 558.9h0M221.8 555.1h0M213.1 550.5h0M195.9 558.6h0M224.2 573.6h0M190.5 563.8h0M211.1 563.2h0M225.9 573.5h0M221.9 555.6h0M225.7 572.7h0M202.6 564.3h0M225.3 573.8h0M216.3 573.0h0M224.3 575.3h0M203.7 560.2h0M198.7 568.8h0M216.9 563.1h0M194.8 550.1h0M198.7 565.9h0M201.1 569.6h0M209.6 568.4h0M210.2 548.2h0M223.4 567.9h0M213.5 570.8h0M222.7 560.3h0M196.3 553.2h0M202.4 553.8h0M195.0 558.4h0M199.6 549.2h0M199.5 563.0h0M191.0 563.7h0M208.3 568.7h0M192.5 565.1h0M208.1 548.1h0M219.6 569.6h0M217.5 566.8h0M200.5 553.8h0M213.8 555.1h0M197.8 564.5h0M216.7 561.0h0M208.8 567.5h0M222.8 572.4h0M222.0 566.7h0M203.1 563.9h0M215.7 554.2h0M206.8 568.0h0M201.3 551.2h0M216.7 561.3h0M226.2 569.4h0M200.0 566.5h0M207.6 554.4h0M224.9 557.6h0M218.2 574.6h0M223.7 576.6h0M195.6 554.5h0M197.9 560.1h0M213.9 564.1h0M197.7 565.8h0M224.0 553.6h0M200.5 560.5h0M198.0 566.5h0M200.7 548.4h0M205.6 560.5h0M199.8 548.9h0M204.8 571.7h0M200.3 554.4h0M198.8 571.1h0M217.2 549.2h0M222.2 567.9h0M210.0 570.6h0M219.1 556.8h0M204.6 567.3h0M199.7 552.2h0M197.4 560.8h0M211.2 574.6h0M196.5 555.8h0M219.1 564.6h0M224.6 557.2h0M213.0 568.7h0M198.2 561.3h0M189.8 558.9h0M209.4 548.6h0M226.8 566.7h0M223.5 570.3h0M203.6 559.2h0M217.1 565.7h0M193.8 559.3h0M207.3 570.2h0M224.4 558.0h0M202.2 567.7h0M207.8 570.0h0M225.4 561.5h0M200.4 552.3h0M200.8 554.0h0M215.0 557.1h0M194.9 554.1h0M199.6 555.0h0M203.2 569.2h0M200.5 569.2h0M191.3 551.1h0M206.2 569.6h0M198.5 555.9h0M213.8 552.5h0M197.0 569.4h0M215.8 550.3h0M208.7 548.1h0M217.3 569.4h0M193.2 564.3h0M218.4 553.6h0M223.4 560.0h0M216.6 570.7h0M195.0 551.5h0M209.6 555.1h0M210.0 549.4h0M192.4 558.8h0M195.7 552.8h0M212.4 548.5h0M220.6 552.7h0M200.2 551.1h0M203.6 548.8h0M211.1 565.2h0M219.3 575.0h0M202.4 562.6h0M223.7 559.7h0M200.6 561.9h0M222.2 566.5h0M216.0 555.3h0M214.4 562.0h0M208.0 569.9h0M202.6 562.5h0M219.7 566.2h0M210.0 556.8h0M200.2 554.0h0M208.5 572.0h0M205.6 572.4h0M195.2 563.8h0M208.4 554.8h0M209.2 553.5h0M199.3 559.5h0M205.6 550.7h0M195.7 566.1h0M201.0 553.6h0M221.5 561.5h0M199.0 568.7h0M213.8 553.2h0M221.5 572.0h0M212.9 549.6h0M216.5 555.2h0M203.3 567.3h0M203.2 571.6h0M221.7 561.1h0M226.0 564.0h0M188.1 560.0h0M201.7 558.0h0M197.1 568.2h0M196.9 552.0h0M199.3 553.9h0M202.6 553.5h0M208.1 562.6h0M194.5 561.1h0M204.6 548.3h0M215.4 556.8h0M197.5 557.6h0M220.5 558.6h0M222.4 557.2h0M219.9 575.1h0M218.0 576.0h0M223.1 553.6h0M221.0 568.6h0M226.1 576.8h0M197.8 554.6h0M191.5 551.2h0M216.1 557.9h0M199.8 569.1h0M189.8 554.0h0M220.9 562.3h0M221.4 560.8h0M208.8 558.6h0M213.1 560.4h0M207.3 550.1h0M224.0 574.8h0M223.9 568.8h0M190.3 563.7h0M212.1 561.1h0M214.4 554.3h0M219.3 551.9h0M191.8 565.3h0M223.9 572.4h0M212.9 556.6h0M220.5 568.4h0M211.1 568.9h0M225.3 558.2h0M219.7 566.3h0M227.7 566.3h0M210.2 568.6h0M204.6 550.2h0M223.2 555.5h0M217.2 564.2h0M226.6 574.3h0M197.4 566.0h0M204.8 557.3h0M201.4 561.0h0M202.3 572.0h0M214.2 571.4h0M210.1 552.8h0M198.9 550.3h0M223.1 563.5h0M223.5 570.8h0M226.8 559.7h0M221.9 575.1h0M212.6 560.9h0M196.1 566.9h0M198.6 563.7h0M203.5 561.9h0M227.5 565.7h0M216.7 574.3h0M202.7 571.3h0M222.5 564.3h0M208.8 573.3h0M190.2 552.6h0M222.4 567.5h0M212.5 552.7h0M215.7 548.3h0M216.8 558.6h0M189.9 556.8h0M221.1 553.9h0M205.7 553.5h0M193.6 557.0h0M191.9 561.3h0M200.9 549.5h0M221.1 555.7h0M206.9 548.1h0M206.5 568.2h0M191.0 558.7h0M216.1 571.0h0M222.9 563.0h0M215.3 572.7h0M222.0 552.6h0M216.1 561.6h0M224.9 557.6h0M219.8 567.2h0M209.2 561.3h0M199.9 564.6h0M196.8 550.2h0M206.0 555.9h0M199.1 571.0h0M219.9 573.7h0M224.3 573.8h0M216.6 556.1h0M198.2 562.3h0M199.3 548.3h0M219.9 572.4h0M206.5 559.1h0M199.9 567.0h0M215.8 558.2h0M208.0 568.9h0M195.3 552.6h0M217.8 551.7h0M200.3 549.8h0M196.6 554.3h0M193.6 561.3h0M208.7 566.6h0M204.6 561.6h0M205.5 556.8h0M220.3 576.2h0M191.0 562.1h0M222.6 569.0h0M223.0 553.2h0M222.2 554.0h0M197.5 564.6h0M217.2 554.6h0M219.5 576.5h0M215.8 575.2h0M207.2 568.7h0M199.8 555.6h0M210.1 552.6h0M190.1 557.6h0M211.9 552.8h0M211.4 554.2h0M224.4 573.3h0M221.2 575.9h0M222.9 556.9h0M208.2 554.8h0M209.6 568.9h0M203.2 553.6h0M215.9 575.5h0M201.4 571.1h0M194.3 562.0h0M187.9 557.3h0M224.3 577.1h0M196.3 566.1h0M210.9 552.8h0M193.9 562.0h0M204.9 562.6h0M209.8 557.6h0M227.1 559.7h0M213.1 566.7h0M204.4 551.6h0M224.3 553.8h0M198.2 570.2h0M197.3 560.3h0M202.1 554.2h0M208.6 553.0h0M193.6 566.2h0M212.1 572.7h0M196.3 564.9h0M210.1 557.9h0M193.0 550.4h0M191.5 551.8h0M210.8 568.7h0M199.4 562.6h0M218.1 571.8h0M225.3 574.7h0M198.1 551.9h0M194.1 563.1h0M220.5 561.2h0M202.6 560.6h0M196.0 555.7h0M215.5 565.1h0M217.3 564.0h0M195.4 552.3h0M209.4 558.3h0M216.5 574.6h0M216.2 573.0h0M206.2 569.1h0M223.8 551.9h0M196.8 562.6h0M225.1 556.7h0M218.0 569.5h0M210.3 552.2h0M215.9 559.8h0M193.0 565.3h0M211.9 572.5h0M198.5 548.9h0M215.0 559.7h0M225.2 576.9h0M194.7 554.0h0M201.1 556.3h0M218.5 566.6h0M201.0 550.2h0M210.2 572.5h0M199.7 551.4h0M195.0 551.8h0M204.6 554.4h0M223.2 563.9h0M205.3 560.6h0M218.8 551.7h0M225.9 570.1h0M207.2 557.1h0M208.9 556.6h0M195.8 561.2h0M193.9 554.5h0M196.5 559.6h0M216.0 569.1h0M211.6 560.8h0M224.8 566.6h0M192.6 553.4h0M205.3 561.7h0M227.6 560.9h0M211.5 554.3h0M226.0 577.7h0M203.4 557.5h0M217.5 560.7h0M214.7 560.1h0M227.6 571.0h0M195.4 560.9h0M187.8 559.3h0M223.8 561.5h0M202.9 571.1h0M217.4 566.1h0M196.7 564.2h0M202.1 548.2h0M222.4 572.4h0M191.3 555.6h0M190.7 555.1h0M194.5 556.4h0M220.5 567.7h0M193.3 559.0h0M198.7 555.3h0M224.6 560.3h0M225.0 555.0h0M194.2 550.6h0M212.5 570.0h0M219.3 561.9h0M217.8 567.9h0M201.0 567.7h0M216.8 555.7h0M225.4 574.3h0M206.6 565.3h0M223.6 574.0h0M212.6 555.6h0M203.3 548.5h0M208.7 557.0h0M191.7 555.1h0M208.7 570.1h0M220.4 561.5h0M214.8 554.6h0M192.6 561.8h0M196.3 568.1h0M200.8 555.7h0M209.4 551.7h0M193.2 554.2h0M192.7 557.9h0M199.2 558.7h0M201.1 565.2h0M196.7 549.3h0M212.2 553.9h0M207.3 563.9h0M193.9 560.5h0M208.3 561.5h0M196.8 550.1h0M206.2 570.5h0M197.3 557.6h0M228.0 562.1h0M218.9 553.8h0M194.9 553.7h0M207.9 559.0h0M202.3 548.3h0M213.6 574.5h0M221.6 566.5h0M211.1 551.8h0M226.2 557.1h0M214.6 563.5h0M213.8 556.1h0M193.0 553.0h0M221.8 575.1h0M209.9 562.5h0M211.4 565.6h0M223.1 553.7h0M215.9 575.2h0M200.2 548.7h0M202.4 565.6h0M221.4 550.6h0M215.3 565.3h0M188.0 557.4h0M204.1 552.2h0M191.0 558.7h0M189.7 555.1h0M200.2 551.5h0M206.1 553.1h0M221.9 564.7h0M207.4 549.5h0M219.9 572.6h0M213.3 574.0h0M206.4 548.9h0M214.8 574.3h0M201.8 563.4h0M226.3 573.9h0M194.9 555.6h0M192.5 554.0h0M190.0 563.7h0M203.8 571.4h0M209.4 572.3h0M226.6 575.2h0M211.9 571.0h0M212.8 549.2h0M222.1 572.5h0M220.8 563.5h0M223.7 557.7h0M220.4 569.1h0M219.3 564.1h0M227.0 571.6h0M215.7 567.1h0M221.3 563.6h0"/>
<path stroke="#40c890" stroke-width="1.3" stroke-linecap="round" fill="none" opacity="0.88" d="M235.5 547.2h0M238.0 554.6h0M258.7 560.0h0M241.6 576.4h0M236.6 555.5h0M254.0 568.3h0M257.6 567.9h0M251.0 570.2h0M224.1 565.4h0M246.2 573.3h0M226.2 545.6h0M253.9 548.6h0M243.6 554.7h0M255.5 561.7h0M237.8 549.0h0M233.0 550.4h0M243.3 573.3h0M257.6 554.6h0M252.0 549.8h0M229.7 557.8h0M247.0 549.7h0M229.7 573.8h0M247.2 578.7h0M226.0 563.2h0M225.9 566.5h0M232.5 569.5h0M235.0 566.1h0M253.2 565.1h0M240.1 549.1h0M225.6 553.2h0M259.7 567.7h0M230.3 546.5h0M228.0 545.9h0M231.1 559.4h0M245.6 551.3h0M246.4 569.5h0M258.7 553.4h0M240.6 553.8h0M244.5 564.0h0M230.4 573.3h0M256.7 551.6h0M261.6 558.1h0M242.5 562.5h0M247.3 561.2h0M257.7 555.2h0M248.6 565.1h0M228.0 560.4h0M261.9 563.4h0M240.4 572.9h0M226.0 555.7h0M223.3 549.4h0M253.7 577.5h0M226.7 571.4h0M226.1 555.9h0M231.6 576.9h0M254.1 566.1h0M250.7 572.1h0M244.6 573.4h0M247.2 568.2h0M223.4 552.7h0M224.3 554.2h0M244.8 548.2h0M227.7 547.8h0M237.5 552.7h0M252.7 551.3h0M234.8 553.0h0M235.0 572.8h0M252.0 572.8h0M236.2 570.7h0M251.3 565.1h0M230.1 553.9h0M238.3 561.7h0M229.8 555.0h0M230.2 561.3h0M233.0 566.5h0M253.9 574.5h0M260.6 554.8h0M234.6 554.4h0M238.6 564.3h0M237.8 557.3h0M246.4 569.3h0M256.3 560.8h0M241.5 554.3h0M229.6 552.8h0M241.0 549.2h0M236.5 571.6h0M255.1 562.4h0M224.1 557.8h0M234.6 557.7h0M224.8 560.5h0M245.1 579.1h0M229.9 545.8h0M243.7 576.0h0M231.7 547.1h0M255.8 556.2h0M254.8 570.6h0M243.7 555.4h0M254.6 558.4h0M238.6 580.2h0M258.4 567.1h0M236.0 573.7h0M238.8 573.3h0M256.3 562.0h0M252.6 550.1h0M256.5 566.5h0M257.2 570.0h0M242.9 551.6h0M237.6 550.0h0M230.9 546.9h0M247.3 553.5h0M258.6 555.5h0M242.7 557.4h0M233.5 572.7h0M250.0 571.4h0M228.0 554.5h0M244.9 560.7h0M240.6 563.7h0M234.0 578.0h0M258.4 554.6h0M253.5 571.7h0M244.7 573.5h0M259.9 561.5h0M238.2 565.5h0M258.9 557.9h0M225.5 560.4h0M228.3 569.6h0M243.2 575.9h0M234.5 566.0h0M255.5 574.1h0M248.4 552.1h0M247.3 549.5h0M255.8 564.8h0M237.8 551.6h0M226.4 558.8h0M237.8 577.6h0M243.6 566.1h0M233.4 555.6h0M225.7 555.6h0M258.9 568.7h0M255.7 554.4h0M225.2 557.1h0M260.8 564.3h0M257.6 559.2h0M240.4 566.3h0M249.4 555.9h0M231.9 572.8h0M231.3 546.7h0M233.9 556.5h0M261.6 565.2h0M252.1 549.6h0M240.5 577.2h0M237.2 553.8h0M243.4 552.0h0M230.6 574.9h0M259.3 557.6h0M241.6 559.3h0M226.2 568.2h0M234.1 570.7h0M234.5 565.1h0M254.4 565.6h0M226.7 566.8h0M244.0 577.7h0M233.5 556.7h0M229.2 570.8h0M225.7 556.3h0M236.7 579.4h0M232.4 578.7h0M231.5 576.7h0M249.6 549.6h0M239.4 564.7h0M228.7 569.3h0M244.4 554.2h0M226.2 555.5h0M242.4 580.3h0M250.7 571.3h0M244.3 569.6h0M252.2 549.7h0M238.6 555.1h0M241.6 563.6h0M228.7 546.1h0M229.7 571.4h0M235.7 554.4h0M227.3 568.2h0M245.0 562.3h0M240.4 580.5h0M253.1 564.6h0M242.8 567.4h0M239.6 580.0h0M250.2 567.5h0M225.1 566.9h0M236.1 558.1h0M255.8 574.5h0M256.2 565.8h0M253.0 562.3h0M256.2 565.3h0M229.3 569.9h0M235.0 554.1h0M249.9 550.2h0M245.7 557.3h0M231.0 577.7h0M246.4 564.3h0M244.5 561.9h0M256.5 571.9h0M240.2 552.8h0M244.0 568.3h0M228.1 550.4h0M253.7 563.5h0M251.2 577.1h0M242.7 558.9h0M254.6 555.4h0M242.3 568.7h0M224.4 561.2h0M241.7 558.5h0M261.2 570.8h0M252.6 575.7h0M236.2 566.2h0M251.7 569.2h0M250.6 553.5h0M228.7 574.1h0M236.4 576.8h0M235.3 568.8h0M251.6 562.2h0M223.6 548.7h0M239.9 570.1h0M245.4 576.3h0M235.1 553.2h0M245.1 556.6h0M256.4 560.4h0M237.2 559.1h0M239.8 568.0h0M232.3 555.0h0M222.9 549.2h0M224.6 556.6h0M227.8 550.1h0M254.1 569.1h0M237.0 563.9h0M254.5 550.6h0M228.4 547.3h0M258.3 554.8h0M226.1 557.3h0M249.2 561.7h0M250.8 553.9h0M234.4 565.8h0M223.8 558.4h0M241.8 546.2h0M235.1 579.2h0M255.1 572.9h0M245.2 570.9h0M253.5 573.1h0M237.7 559.4h0M260.7 569.4h0M225.0 557.9h0M237.9 552.6h0M224.2 564.7h0M234.9 567.0h0M235.9 559.4h0M231.0 578.2h0M251.6 568.9h0M255.0 574.3h0M238.9 567.0h0M230.4 565.6h0M232.8 557.5h0M230.9 546.3h0M240.7 557.6h0M261.4 564.8h0M227.3 558.6h0M257.6 572.7h0M244.5 564.2h0M249.8 562.6h0M240.9 563.0h0M227.4 567.1h0M241.2 577.6h0M241.3 565.2h0M253.2 577.7h0M239.5 545.6h0M233.8 577.3h0M257.1 570.6h0M260.9 567.1h0M250.0 569.7h0M237.0 550.0h0M242.7 562.6h0M245.4 569.9h0M248.4 574.9h0M243.4 559.2h0M234.0 572.5h0M228.6 569.3h0M230.8 546.5h0M234.9 564.3h0M245.7 559.9h0M243.0 558.8h0M234.7 556.3h0M247.2 571.7h0M260.6 569.6h0M253.1 575.8h0M245.9 555.4h0M235.9 576.5h0M244.8 573.4h0M243.7 555.6h0M254.9 565.8h0M233.7 558.2h0M242.6 563.2h0M260.0 560.8h0M236.9 558.1h0M256.2 552.5h0M228.3 555.2h0M231.5 553.6h0M238.5 563.6h0M236.0 545.1h0M236.9 564.7h0M247.7 561.5h0M243.1 560.5h0M223.7 549.5h0M246.8 568.4h0M246.5 572.8h0M244.3 552.3h0M237.8 549.8h0M258.8 569.9h0M230.5 574.7h0M226.2 552.4h0M261.8 564.1h0M248.1 574.1h0M248.3 557.4h0M235.0 568.5h0M240.8 558.4h0M250.6 548.3h0M244.9 569.6h0M236.3 570.7h0M251.9 574.9h0M242.2 545.5h0M250.9 550.7h0M240.4 547.0h0M228.9 561.2h0M242.2 550.0h0M248.3 570.2h0M224.0 548.2h0M245.2 548.2h0M231.7 576.7h0M225.4 556.2h0M228.2 548.8h0M229.8 571.0h0M257.2 562.3h0M235.9 564.3h0M246.9 564.8h0M253.2 574.8h0M258.7 567.1h0M227.1 559.8h0M230.6 577.0h0M255.4 567.1h0M253.3 551.2h0M240.4 544.2h0M239.8 566.1h0M252.4 549.9h0M234.9 570.6h0M239.2 562.8h0M222.0 546.1h0M251.9 555.1h0M228.0 551.2h0M247.8 559.4h0M260.8 562.8h0M240.5 576.6h0M252.0 563.1h0M251.9 547.6h0M244.8 552.5h0M257.6 558.7h0M251.1 549.5h0M235.4 563.0h0M222.9 549.2h0M247.2 563.8h0M247.7 563.1h0M228.5 577.3h0M238.8 569.2h0M235.0 571.2h0M238.7 547.9h0M230.3 575.6h0M230.6 557.5h0M242.2 575.8h0M251.2 570.3h0M230.1 575.2h0M260.7 561.2h0M261.2 564.8h0M251.7 553.6h0M226.6 551.0h0M246.1 555.9h0M244.6 545.5h0M232.7 556.8h0M255.0 549.8h0M238.7 558.5h0M246.7 549.1h0M241.6 575.9h0M224.4 562.4h0M250.3 576.1h0M254.4 553.1h0M252.0 557.2h0M238.7 546.3h0M229.2 555.2h0M231.2 546.0h0M246.1 561.6h0M240.8 575.9h0M246.0 555.9h0M252.4 561.3h0M248.3 576.9h0M253.0 548.8h0M252.2 562.8h0M234.1 571.5h0M229.2 551.3h0M229.6 577.8h0M240.2 545.2h0M242.7 560.9h0M241.1 560.8h0M229.7 563.6h0M254.1 571.0h0M247.8 564.2h0M261.0 567.5h0M250.4 553.8h0M230.9 576.7h0M236.4 554.0h0M229.3 573.5h0M244.9 555.8h0M232.9 570.9h0M246.8 568.8h0M253.7 551.3h0M241.0 552.6h0M236.6 572.8h0M228.4 576.4h0M230.7 571.3h0M233.7 568.0h0M246.6 553.4h0M241.9 565.4h0M237.5 561.0h0M247.0 550.8h0M235.6 568.3h0M229.5 545.3h0M261.4 556.6h0M240.9 575.6h0M228.4 577.0h0M239.0 546.9h0M257.4 558.8h0M227.1 565.7h0M244.6 575.5h0M249.1 555.2h0M244.5 576.2h0M246.1 572.2h0M256.6 555.9h0M233.7 563.7h0M233.9 571.5h0M256.6 551.6h0M260.5 555.8h0M227.2 570.1h0M248.7 548.4h0M226.5 559.0h0M247.0 573.6h0M239.6 579.0h0M255.7 572.8h0M236.4 579.8h0M243.2 552.6h0M244.5 552.3h0M227.4 554.2h0M238.9 558.5h0M226.5 561.8h0M240.3 568.4h0M243.7 545.5h0M246.3 576.0h0M245.0 562.0h0M228.4 568.0h0M236.8 549.7h0M237.1 558.5h0M248.8 547.0h0M231.0 564.4h0M241.0 560.0h0M253.7 571.6h0M257.0 562.2h0M257.6 566.9h0M242.6 564.5h0M247.7 573.2h0M246.3 569.1h0M249.2 564.5h0M258.4 553.5h0M248.1 566.1h0M251.2 578.0h0M225.3 554.8h0M244.3 565.7h0M239.3 555.5h0M246.0 567.3h0M240.8 550.9h0M231.4 547.9h0M236.7 560.1h0M252.7 565.5h0M233.0 545.4h0M240.6 554.2h0M243.7 573.0h0M229.0 556.7h0M229.2 555.5h0M237.7 571.1h0M231.5 575.5h0M246.0 566.1h0M245.3 559.2h0M239.1 547.8h0M239.8 561.4h0M226.8 569.6h0M240.8 574.4h0M258.2 554.6h0M236.9 562.1h0M238.6 578.6h0M253.3 562.6h0M246.0 573.4h0M233.5 547.4h0M228.9 546.1h0M225.1 562.5h0M230.4 566.3h0M236.1 547.1h0M246.4 556.7h0M229.4 577.4h0M240.2 551.5h0M235.1 569.2h0M237.8 573.9h0M242.9 578.9h0M251.1 556.5h0M238.0 579.8h0M230.0 549.3h0M245.3 547.3h0M258.4 557.4h0M243.9 571.8h0M234.6 571.7h0M244.8 574.9h0M256.5 555.3h0M258.0 569.6h0M248.7 571.8h0M251.1 578.4h0M234.8 578.4h0M247.2 579.2h0M250.2 553.3h0M246.3 558.5h0M257.8 566.7h0M240.3 569.3h0M234.2 579.2h0M234.6 553.2h0M228.1 553.8h0M233.4 574.8h0M248.9 564.6h0M245.5 563.2h0M258.7 558.4h0M227.3 569.1h0M254.1 562.5h0M229.9 577.1h0M230.1 570.4h0M224.2 557.6h0M250.2 565.8h0M250.2 552.0h0M231.4 569.0h0M257.6 553.0h0M248.8 554.2h0M253.7 566.4h0M231.4 578.0h0M256.3 551.6h0M240.6 579.3h0M230.6 561.6h0M229.9 552.0h0M239.5 567.0h0M253.7 549.8h0M230.9 572.0h0M231.8 558.9h0M236.9 565.4h0M231.4 545.5h0M239.9 561.1h0M232.0 578.7h0M244.4 549.7h0M253.6 552.9h0M256.7 572.3h0M258.6 559.5h0M256.3 569.8h0M233.6 567.1h0M251.7 567.1h0M230.5 573.5h0M228.9 568.6h0M248.5 555.3h0M247.0 575.2h0M231.7 546.6h0M258.9 565.1h0M236.8 562.2h0M235.2 555.0h0M248.9 569.7h0M231.8 562.3h0M237.1 570.8h0M253.9 555.9h0M239.3 544.8h0M255.4 566.0h0M226.1 562.4h0M228.9 559.5h0M244.6 579.5h0M243.5 565.7h0M249.8 547.4h0M230.7 549.4h0M229.0 577.1h0M235.3 549.5h0M256.9 559.1h0M256.3 567.7h0M244.0 577.4h0M237.4 576.9h0M261.4 568.2h0M235.7 547.7h0M233.2 550.7h0M253.9 564.0h0M249.0 554.6h0M227.3 572.2h0M226.7 566.1h0M248.5 571.6h0M229.3 554.0h0M247.0 562.8h0M224.7 550.7h0M254.1 550.7h0M240.9 557.6h0M238.7 557.3h0M241.6 572.0h0M230.4 552.0h0M260.7 559.5h0M230.6 552.0h0M256.9 565.7h0M238.5 552.9h0M235.9 548.4h0M230.0 569.4h0M228.0 545.7h0M233.0 568.8h0M240.8 569.5h0M255.1 573.9h0M239.5 561.1h0M244.1 576.4h0M228.3 565.5h0M249.2 569.5h0M241.1 547.5h0M250.3 571.8h0M229.2 575.0h0M228.5 554.7h0M231.7 564.0h0M237.9 552.8h0M238.4 551.6h0M249.6 577.2h0M248.1 556.9h0M232.4 562.5h0M236.8 564.7h0M248.1 555.9h0M224.0 555.4h0M240.3 554.4h0M230.7 549.3h0M240.2 566.9h0M252.1 567.7h0M253.1 559.5h0M248.8 549.5h0M260.8 559.6h0M233.9 553.1h0M251.6 549.9h0M244.4 565.0h0M230.8 550.9h0M260.8 557.0h0M260.6 564.7h0M253.3 563.5h0M256.4 564.2h0M240.7 578.0h0M226.4 555.2h0M240.5 580.7h0M250.9 568.0h0M229.1 558.6h0M225.9 565.5h0M241.5 568.7h0M236.1 561.2h0M241.1 551.3h0M236.1 575.2h0M247.8 548.9h0M245.9 549.7h0M251.5 562.0h0M254.1 564.9h0M224.3 550.0h0M259.1 558.3h0M234.9 568.6h0M251.0 559.4h0M245.2 565.8h0M232.5 550.1h0M243.1 554.8h0M240.2 547.7h0M225.0 564.4h0M234.7 570.3h0M226.5 571.7h0M246.6 565.1h0M251.7 572.2h0M230.3 574.7h0M234.3 565.7h0M235.7 565.1h0M235.9 577.5h0M261.7 559.3h0M226.7 566.0h0M261.7 564.5h0M251.4 574.4h0M223.1 550.7h0M233.4 559.8h0M232.2 569.2h0M238.8 554.5h0M236.8 574.9h0M249.8 549.0h0M258.7 555.1h0M242.9 557.6h0M233.7 571.1h0M230.2 570.2h0M245.8 550.5h0M230.5 546.8h0M236.3 560.5h0M239.3 567.5h0M243.6 562.6h0M243.7 546.6h0M228.1 559.8h0M247.4 563.4h0M238.8 568.7h0M260.4 563.2h0M239.5 547.0h0M256.0 555.5h0M252.7 555.2h0M243.4 555.9h0M231.8 557.2h0M245.0 550.4h0M251.6 551.7h0M252.3 576.3h0M249.7 575.5h0M236.8 556.6h0M235.3 578.8h0M239.9 566.6h0M230.8 568.3h0M229.2 569.0h0M244.8 549.2h0M249.9 559.5h0M225.6 566.3h0M241.3 554.2h0M242.9 551.0h0M240.8 548.9h0M229.1 554.4h0M235.9 566.6h0M254.3 573.1h0M232.9 575.0h0M245.8 568.6h0M243.6 550.8h0M227.7 568.1h0M230.0 557.6h0M240.6 557.3h0M260.0 557.1h0M251.3 574.2h0M257.1 570.8h0M231.2 553.4h0M243.7 566.8h0M237.6 575.4h0M240.1 580.0h0M239.9 579.9h0M246.5 566.9h0M232.5 546.8h0M242.3 562.2h0M260.6 560.4h0M245.3 554.1h0M249.7 551.7h0M250.7 553.4h0M225.3 563.1h0M233.5 552.4h0M227.4 560.3h0M245.1 561.8h0M258.4 564.6h0M228.7 569.9h0M233.6 552.0h0M238.6 564.9h0M249.9 558.0h0M254.6 551.9h0M235.2 562.9h0M229.2 551.7h0M257.8 552.6h0M224.8 555.1h0M257.2 562.0h0M230.2 559.0h0M234.9 564.0h0M239.4 563.7h0M239.3 569.0h0M228.0 560.5h0M240.1 563.5h0M243.1 576.4h0M239.7 546.7h0M226.2 570.5h0M246.5 570.4h0M223.3 547.3h0M241.3 572.0h0M236.5 548.7h0M254.8 569.9h0M240.7 557.6h0M256.3 571.0h0M232.8 566.6h0M253.8 560.7h0M234.1 567.0h0M247.5 549.1h0M235.5 554.1h0M236.5 574.5h0M248.2 558.4h0M237.0 560.9h0M234.1 564.8h0M238.8 546.3h0M246.7 562.8h0M249.4 563.7h0M230.9 574.8h0M245.1 566.2h0M250.1 568.7h0M224.0 548.5h0M249.6 577.0h0M256.8 572.8h0M259.9 560.6h0M247.5 558.9h0M237.7 551.3h0M239.0 544.5h0M248.7 564.5h0M241.9 565.5h0M259.0 558.2h0M242.6 569.1h0M259.3 565.7h0M238.1 552.8h0M237.7 569.6h0M240.6 554.2h0M258.9 562.4h0M258.6 565.0h0M232.9 558.1h0M255.2 562.5h0M238.1 564.5h0M243.5 558.7h0M235.3 555.1h0M253.2 551.5h0M228.4 555.1h0M233.9 574.1h0M245.8 575.3h0M248.6 557.6h0M261.3 569.5h0M246.2 547.0h0M234.3 551.5h0M243.8 559.4h0M230.4 561.1h0M238.8 544.5h0M237.7 566.6h0M243.7 579.4h0M253.0 548.2h0M237.9 558.7h0M260.0 561.8h0M238.1 550.9h0M244.8 549.7h0M244.2 575.6h0M231.4 571.1h0M239.4 549.4h0M238.3 562.3h0M228.4 573.7h0M247.1 562.8h0M250.5 572.9h0M232.8 566.3h0M232.7 547.1h0M249.5 566.1h0M232.6 555.7h0M251.8 558.9h0M246.7 560.4h0M239.1 551.2h0M255.2 570.3h0M224.8 564.7h0M228.6 549.1h0M242.3 561.6h0M253.8 553.2h0M240.5 547.0h0M244.0 578.5h0M259.9 561.8h0M235.3 555.0h0M242.4 559.1h0M245.6 571.3h0M234.9 568.6h0M227.0 548.7h0M249.1 549.7h0M246.8 550.7h0M234.2 554.2h0M259.3 565.8h0M240.8 569.5h0M244.0 564.0h0M255.1 560.2h0M226.0 567.7h0M253.8 553.6h0M231.8 573.6h0M229.4 548.7h0M235.9 564.8h0M261.2 563.1h0M229.9 549.4h0M248.0 552.2h0M243.8 552.4h0M234.2 561.2h0M252.7 560.7h0M232.2 560.8h0M256.5 570.6h0M236.8 550.3h0M254.9 568.3h0M238.0 573.8h0M240.1 560.7h0M230.2 562.0h0M240.2 555.3h0M228.7 564.1h0M236.6 577.1h0M255.3 575.3h0M226.6 563.7h0M255.7 572.0h0M234.0 578.4h0M230.5 549.8h0M244.3 580.0h0M243.4 547.9h0M250.4 548.1h0M249.7 548.8h0M246.4 568.0h0M229.1 562.4h0M246.9 577.5h0M256.6 563.0h0M251.3 568.6h0M236.0 554.4h0M248.6 556.4h0M234.9 558.2h0M238.7 556.1h0M245.5 553.5h0M255.3 561.7h0M232.3 560.3h0M253.4 565.4h0M235.5 556.9h0M259.5 569.5h0M224.5 547.4h0M239.5 561.1h0M244.3 578.0h0M258.9 566.6h0M241.1 576.8h0M246.6 567.9h0M261.5 568.2h0M250.2 567.8h0M236.6 571.1h0M245.2 578.3h0M261.3 555.4h0M243.6 560.5h0M240.2 553.4h0M243.3 553.3h0M239.3 551.1h0M245.8 577.2h0M240.3 554.2h0M257.9 569.9h0M239.4 575.7h0M242.6 575.6h0M231.1 567.2h0M240.3 556.6h0M228.8 569.7h0M232.1 547.0h0M247.4 565.3h0M242.8 573.6h0M261.3 564.3h0M254.3 572.4h0M234.4 577.2h0M238.5 544.6h0M253.1 575.2h0M234.2 557.8h0M255.8 572.5h0M225.9 567.4h0M254.6 551.7h0M256.1 573.2h0M228.6 569.7h0M230.0 549.4h0M223.4 557.7h0M235.3 551.9h0M239.6 547.0h0M253.8 570.5h0M235.2 545.0h0M241.0 563.7h0M248.9 548.2h0M243.2 552.5h0M229.9 572.0h0M226.7 558.3h0M233.5 561.2h0M250.9 553.3h0M245.5 558.6h0M254.1 577.8h0M241.0 571.8h0M231.1 573.4h0M233.6 578.8h0M250.7 558.7h0M244.8 553.3h0M224.9 560.5h0M244.8 572.2h0M244.7 572.6h0M234.8 548.6h0M237.7 565.0h0M235.6 574.8h0M256.3 555.4h0M236.0 567.7h0M240.5 548.1h0M259.3 559.3h0M228.0 577.3h0M247.4 563.5h0M230.1 547.5h0M249.8 576.3h0M238.1 569.5h0M253.1 561.5h0M254.7 569.2h0M234.5 555.6h0M246.3 556.9h0M232.4 577.4h0M229.8 571.4h0M249.5 547.3h0M228.1 550.1h0M241.3 562.6h0M243.0 570.6h0M253.4 567.1h0M235.8 549.5h0M229.4 560.8h0M233.5 556.3h0M258.0 553.9h0M242.2 571.2h0M246.8 557.4h0M233.4 564.4h0M225.9 547.9h0M257.3 566.6h0M244.6 555.1h0M237.4 556.2h0M239.4 554.1h0M245.0 551.8h0M235.7 558.7h0M241.2 558.1h0M235.6 573.4h0M250.6 552.1h0M258.0 564.8h0M232.2 565.5h0M228.1 570.9h0M251.3 563.7h0M226.9 570.2h0M226.1 566.3h0M255.3 572.5h0M244.0 573.5h0M256.9 570.4h0M237.9 569.8h0M236.8 553.4h0M237.8 544.7h0M251.7 568.9h0M237.8 559.5h0M224.5 555.7h0M231.0 570.4h0M234.3 572.8h0M254.0 575.1h0M245.9 572.5h0M242.7 547.1h0M250.2 550.9h0M259.6 570.0h0M241.3 544.5h0M248.9 567.0h0M234.3 552.0h0M246.0 566.8h0M246.2 573.8h0M238.8 554.8h0M246.0 553.6h0M248.0 552.8h0M224.6 566.6h0M232.2 559.4h0M252.2 572.0h0M240.0 565.1h0M260.4 569.2h0M244.8 577.3h0M260.4 565.7h0M233.9 551.5h0M239.4 556.2h0M232.2 552.4h0M259.4 564.1h0M229.2 547.9h0M245.3 559.4h0M247.0 569.4h0M237.4 558.3h0M223.7 556.0h0M243.9 546.8h0"/>
<path d="M116.8 340.2V591.8H439.2" stroke="#333" stroke-width="1.1" fill="none"/>
<line x1="139.8" x2="139.8" y1="591.8" y2="594.8" stroke="#333" stroke-width="1"/>
<text x="139.8" y="606.6" font-size="11" text-anchor="middle" fill="#222">−10</text>
<line x1="202.4" x2="202.4" y1="591.8" y2="594.8" stroke="#333" stroke-width="1"/>
<text x="202.4" y="606.6" font-size="11" text-anchor="middle" fill="#222">−5</text>
<line x1="265.0" x2="265.0" y1="591.8" y2="594.8" stroke="#333" stroke-width="1"/>
<text x="265.0" y="606.6" font-size="11" text-anchor="middle" fill="#222">0</text>
<line x1="327.6" x2="327.6" y1="591.8" y2="594.8" stroke="#333" stroke-width="1"/>
<text x="327.6" y="606.6" font-size="11" text-anchor="middle" fill="#222">5</text>
<line x1="390.2" x2="390.2" y1="591.8" y2="594.8" stroke="#333" stroke-width="1"/>
<text x="390.2" y="606.6" font-size="11" text-anchor="middle" fill="#222">10</text>
<line x1="113.8" x2="116.8" y1="380.8" y2="380.8" stroke="#333" stroke-width="1"/>
<text x="111" y="384.8" font-size="11" text-anchor="end" fill="#222">5</text>
<line x1="113.8" x2="116.8" y1="439.5" y2="439.5" stroke="#333" stroke-width="1"/>
<text x="111" y="443.5" font-size="11" text-anchor="end" fill="#222">0</text>
<line x1="113.8" x2="116.8" y1="498.2" y2="498.2" stroke="#333" stroke-width="1"/>
<text x="111" y="502.2" font-size="11" text-anchor="end" fill="#222">−5</text>
<line x1="113.8" x2="116.8" y1="556.9" y2="556.9" stroke="#333" stroke-width="1"/>
<text x="111" y="560.9" font-size="11" text-anchor="end" fill="#222">−10</text>
<text x="277.4" y="620.7" font-size="13" text-anchor="middle" fill="#111">UMAP_1</text>
<text transform="translate(87.2 466) rotate(-90)" font-size="13" text-anchor="middle" fill="#111">UMAP_2</text>
<g font-size="9.8" fill="#111" stroke="#111" stroke-width="0.28"><text x="141.5" y="372.4">Conventional dendritic cell</text><text x="152.3" y="387.0">Macophage foamy</text><text x="135.0" y="404.1">Macrophage M2 #1</text><text x="170.5" y="422.4">Macrophage M2 #2</text><text x="258.0" y="437.7">B cell</text><text x="137.1" y="449.4">Macrophage M2 #3</text><text x="249.5" y="452.7">CD4 T cell</text><text x="181.5" y="475.4">Dendritic cell</text><text x="311.0" y="374.4">CD8 T cell #2</text><text x="359.4" y="399.9">NKT cell #2</text><text x="294.5" y="415.4">CD8 T cell #1</text><text x="404.3" y="422.0">NK cell</text><text x="302.3" y="433.4">NKT cell #1</text><text x="274.5" y="476.4">Double negative T cell #1</text><text x="154.2" y="493.7">Smooth muscle cell</text><text x="160.5" y="518.4">Myofibroblast</text><text x="247.1" y="506.6">Endothelial cell #4</text><text x="195.9" y="541.1">Endothelial cell #3</text><text x="140.9" y="555.2">Endothelial cell #2</text><text x="213.0" y="571.4">Endothelial cell #1</text></g>
<circle cx="458.8" cy="338.2" r="3.3" fill="#e8706e"/>
<text x="472" y="341.9" font-size="10.6" fill="#111" stroke="#111" stroke-width="0.15">Double negative T cell #1</text>
<circle cx="458.8" cy="352.1" r="3.3" fill="#e0843c"/>
<text x="472" y="355.8" font-size="10.6" fill="#111" stroke="#111" stroke-width="0.15">CD8 T cell #1</text>
<circle cx="458.8" cy="365.9" r="3.3" fill="#d4922c"/>
<text x="472" y="369.6" font-size="10.6" fill="#111" stroke="#111" stroke-width="0.15">Macophage foamy</text>
<circle cx="458.8" cy="379.8" r="3.3" fill="#c0a030"/>
<text x="472" y="383.4" font-size="10.6" fill="#111" stroke="#111" stroke-width="0.15">NKT cell #1</text>
<circle cx="458.8" cy="393.6" r="3.3" fill="#a8aa30"/>
<text x="472" y="397.3" font-size="10.6" fill="#111" stroke="#111" stroke-width="0.15">Macrophage M2 #1</text>
<circle cx="458.8" cy="407.4" r="3.3" fill="#88b030"/>
<text x="472" y="411.1" font-size="10.6" fill="#111" stroke="#111" stroke-width="0.15">Macrophage M2 #2</text>
<circle cx="458.8" cy="421.3" r="3.3" fill="#54be2a"/>
<text x="472" y="425.0" font-size="10.6" fill="#111" stroke="#111" stroke-width="0.15">NKT cell #2</text>
<circle cx="458.8" cy="435.1" r="3.3" fill="#40c85c"/>
<text x="472" y="438.8" font-size="10.6" fill="#111" stroke="#111" stroke-width="0.15">CD8 T cell #2</text>
<circle cx="458.8" cy="449.0" r="3.3" fill="#40c890"/>
<text x="472" y="452.7" font-size="10.6" fill="#111" stroke="#111" stroke-width="0.15">Endothelial cell #1</text>
<circle cx="458.8" cy="462.8" r="3.3" fill="#44ccb0"/>
<text x="472" y="466.5" font-size="10.6" fill="#111" stroke="#111" stroke-width="0.15">Endothelial cell #2</text>
<circle cx="458.8" cy="476.7" r="3.3" fill="#40c8c8"/>
<text x="472" y="480.4" font-size="10.6" fill="#111" stroke="#111" stroke-width="0.15">Macrophage M2 #3</text>
<circle cx="458.8" cy="490.5" r="3.3" fill="#44c0e0"/>
<text x="472" y="494.2" font-size="10.6" fill="#111" stroke="#111" stroke-width="0.15">Endothelial cell #3</text>
<circle cx="458.8" cy="504.4" r="3.3" fill="#40b0f0"/>
<text x="472" y="508.1" font-size="10.6" fill="#111" stroke="#111" stroke-width="0.15">Endothelial cell #4</text>
<circle cx="458.8" cy="518.2" r="3.3" fill="#50a0f8"/>
<text x="472" y="522.0" font-size="10.6" fill="#111" stroke="#111" stroke-width="0.15">Conventional dendritic cell</text>
<circle cx="458.8" cy="532.1" r="3.3" fill="#9090f8"/>
<text x="472" y="535.8" font-size="10.6" fill="#111" stroke="#111" stroke-width="0.15">B cell</text>
<circle cx="458.8" cy="546.0" r="3.3" fill="#c080f8"/>
<text x="472" y="549.7" font-size="10.6" fill="#111" stroke="#111" stroke-width="0.15">NK cell</text>
<circle cx="458.8" cy="559.8" r="3.3" fill="#e070f0"/>
<text x="472" y="563.5" font-size="10.6" fill="#111" stroke="#111" stroke-width="0.15">Myofibroblast</text>
<circle cx="458.8" cy="573.6" r="3.3" fill="#f068e0"/>
<text x="472" y="577.4" font-size="10.6" fill="#111" stroke="#111" stroke-width="0.15">Smooth muscle cell</text>
<circle cx="458.8" cy="587.5" r="3.3" fill="#f068c0"/>
<text x="472" y="591.2" font-size="10.6" fill="#111" stroke="#111" stroke-width="0.15">CD4 T cell</text>
<circle cx="458.8" cy="601.3" r="3.3" fill="#f07098"/>
<text x="472" y="605.0" font-size="10.6" fill="#111" stroke="#111" stroke-width="0.15">Dendritic cell</text>
<defs><filter id="bl" x="-5%" y="-5%" width="110%" height="110%"><feGaussianBlur stdDeviation="0.5"/></filter><linearGradient id="ph" x1="0" y1="0" x2="1" y2="1"><stop offset="0" stop-color="#2c4846"/><stop offset="0.5" stop-color="#274342"/><stop offset="1" stop-color="#2f4b49"/></linearGradient></defs>
<rect x="98" y="13" width="121" height="86" fill="url(#ph)"/>
<filter id="nz" x="0" y="0" width="100%" height="100%"><feTurbulence type="fractalNoise" baseFrequency="0.35" numOctaves="3" seed="4"/><feColorMatrix type="matrix" values="0 0 0 0 0.3  0 0 0 0 0.45  0 0 0 0 0.44  0.8 0 0 0 -0.36"/></filter>
<rect x="98" y="13" width="121" height="86" filter="url(#nz)"/>
<filter id="nz2" x="0" y="0" width="100%" height="100%"><feTurbulence type="fractalNoise" baseFrequency="0.15" numOctaves="2" seed="9"/><feColorMatrix type="matrix" values="0 0 0 0 0.12  0 0 0 0 0.2  0 0 0 0 0.2  0.9 0 0 0 -0.38"/></filter>
<rect x="98" y="13" width="121" height="86" filter="url(#nz2)"/>
<g filter="url(#bl)" fill="none" stroke-linecap="round" stroke-linejoin="round">
<path d="M140 38 L133 17.5 M139 30 L134 29.5 M140 32 L140 16.5 M141 33 L145 17 M142 33 L151.5 21 M144 28 L150 27" stroke="#ea7448" stroke-width="1.2"/>
<path d="M137 31 Q141 26 146 30 L147.5 38 Q146.5 43 142 42 Q137.5 40 137 35 Z" fill="#ea7448" stroke="#ea7448" stroke-width="0.8"/>
<path d="M110 31 Q114 34 118 38 Q122 40 124 43 Q121 45 117 42 Q112 38 110 31Z" fill="#ea7448" stroke="#ea7448" stroke-width="1.2"/>
<path d="M113 37 L110 40 M116 39 L113 44" stroke="#ea7448" stroke-width="1"/>
<path d="M118 50 Q124 44 133 45 Q139 46 140 51 Q139 58 133 62 Q126 65.5 120 63 Q115.5 58 118 50 Z" fill="#ea7448" stroke="#ea7448" stroke-width="1"/>
<path d="M121 52 Q126 47 133 48.5 Q136 53 131 58.5 Q125 61 121.5 58 Q120 55 121 52Z" fill="#e04a30"/>
<path d="M119 62 L113 70 L105.5 83.5 M113 70 L104.5 70.5 M121 63.5 L121.5 80.5 M118 60 L110.5 60.5 M112 61 L115 64" stroke="#ea7448" stroke-width="1.5"/>
<path d="M178 34 Q182 30 191 28.5 Q187 32 181 34.5Z" fill="#ea7448" stroke="#ea7448" stroke-width="1.4"/>
<path d="M175.5 45 Q178 39.5 184 40 Q189 42 189 49 Q188.5 56 184 58.5 Q178.5 58 176 52 Q174.5 48 175.5 45 Z" fill="#ea7448" stroke="#ea7448" stroke-width="1"/>
<circle cx="179.5" cy="46" r="1.6" fill="#b83a28"/><circle cx="183.5" cy="50.5" r="1.4" fill="#c03e2a"/><circle cx="180" cy="52" r="1" fill="#c84a30"/>
<path d="M183 40.5 Q192 38.5 201 40 Q207 42 214.5 43" stroke="#ea7448" stroke-width="2.6"/>
<path d="M199 39.5 L201.5 35.5" stroke="#ea7448" stroke-width="1.6"/>
<path d="M183 57.5 L181 72 L178 93.5 M182 66 L186 78 L190 84.5 M187 55 L196 60 L206.5 60.5 M194 59.5 L197 66 L196.3 72.5 M197 61.5 L201 66.5 M176.5 55 L168.7 57.1" stroke="#ea7448" stroke-width="1.5"/>
<path d="M178 44 Q181 41.5 184 43" stroke="#f29a70" stroke-width="1" opacity="0.8"/>
</g>
<circle cx="111.2" cy="112.3" r="7.1" fill="#fff" stroke="#222" stroke-width="1.1"/>
<text x="111.2" y="114.9" font-size="7.2" font-weight="bold" text-anchor="middle" fill="#222">1</text>
<text x="120.6" y="114.9" font-size="9.5" fill="#333" stroke="#333" stroke-width="0.18" textLength="45.8" lengthAdjust="spacingAndGlyphs">Pulmonary</text>
<text x="120.6" y="127.2" font-size="9.5" fill="#333" stroke="#333" stroke-width="0.18" textLength="66.8" lengthAdjust="spacingAndGlyphs">endarterectomy</text>
<circle cx="289.4" cy="53" r="23.4" fill="#f1f0f1" stroke="#b4c2ca" stroke-width="1.3"/>
<circle cx="289.4" cy="53" r="21.4" fill="none" stroke="#cdd6dc" stroke-width="0.8"/>
<ellipse cx="288.5" cy="51" rx="11" ry="9.5" fill="#f0d4cc" opacity="0.8"/>
<g opacity="0.85"><circle cx="293.4" cy="46.7" r="1.2" fill="#c8404e"/><circle cx="284.7" cy="59.3" r="1.2" fill="#c85058"/><circle cx="284.4" cy="36.9" r="1.1" fill="#c8404e"/><circle cx="290.9" cy="45.0" r="1.2" fill="#c85058"/><circle cx="295.4" cy="55.0" r="1.4" fill="#c85058"/><circle cx="295.0" cy="53.7" r="1.2" fill="#c8404e"/><circle cx="281.8" cy="46.1" r="1.4" fill="#c8404e"/><circle cx="281.8" cy="63.7" r="0.9" fill="#c85058"/><circle cx="281.1" cy="53.4" r="0.7" fill="#b83a48"/><circle cx="281.5" cy="50.4" r="1.2" fill="#c85058"/><circle cx="282.4" cy="50.7" r="0.7" fill="#c85058"/><circle cx="273.1" cy="58.1" r="1.2" fill="#e8a098"/><circle cx="286.9" cy="49.1" r="0.7" fill="#c85058"/><circle cx="284.4" cy="49.8" r="1.1" fill="#d25a60"/><circle cx="294.9" cy="51.4" r="1.3" fill="#b83a48"/><circle cx="282.3" cy="53.9" r="1.0" fill="#e8a098"/><circle cx="284.9" cy="50.5" r="1.4" fill="#b83a48"/><circle cx="284.2" cy="44.2" r="0.7" fill="#e8a098"/><circle cx="292.7" cy="52.0" r="1.4" fill="#c8404e"/><circle cx="285.1" cy="43.6" r="1.2" fill="#c85058"/><circle cx="291.9" cy="48.4" r="0.9" fill="#c8404e"/><circle cx="290.1" cy="53.6" r="0.7" fill="#d25a60"/><circle cx="293.3" cy="46.4" r="1.2" fill="#d25a60"/><circle cx="286.2" cy="61.6" r="0.8" fill="#c85058"/><circle cx="288.9" cy="49.3" r="0.6" fill="#d25a60"/><circle cx="286.6" cy="57.8" r="0.6" fill="#b83a48"/><circle cx="276.1" cy="48.2" r="1.0" fill="#c8404e"/><circle cx="286.8" cy="54.6" r="1.4" fill="#c85058"/><circle cx="289.5" cy="52.6" r="1.3" fill="#d25a60"/><circle cx="278.9" cy="51.2" r="1.3" fill="#c85058"/><circle cx="285.3" cy="50.0" r="1.4" fill="#c85058"/><circle cx="286.9" cy="43.6" r="0.7" fill="#e08088"/><circle cx="292.0" cy="53.4" r="0.9" fill="#d25a60"/><circle cx="298.3" cy="49.0" r="0.9" fill="#e8a098"/><circle cx="279.7" cy="43.5" r="0.8" fill="#b83a48"/><circle cx="283.6" cy="49.1" r="0.7" fill="#d25a60"/><circle cx="293.2" cy="44.1" r="1.3" fill="#b83a48"/><circle cx="296.9" cy="62.0" r="1.3" fill="#e08088"/><circle cx="269.1" cy="58.4" r="1.3" fill="#c85058"/><circle cx="279.7" cy="51.4" r="1.0" fill="#e08088"/><circle cx="288.8" cy="51.7" r="0.7" fill="#c8404e"/><circle cx="284.0" cy="46.6" r="1.3" fill="#c85058"/><circle cx="292.6" cy="50.9" r="0.8" fill="#c85058"/><circle cx="280.9" cy="44.0" r="1.3" fill="#e08088"/><circle cx="287.1" cy="56.0" r="1.3" fill="#e08088"/><circle cx="286.8" cy="49.5" r="1.0" fill="#e08088"/><circle cx="280.8" cy="41.3" r="0.9" fill="#b83a48"/><circle cx="291.0" cy="57.2" r="0.6" fill="#d25a60"/><circle cx="289.4" cy="56.8" r="1.2" fill="#c8404e"/><circle cx="294.6" cy="48.9" r="1.5" fill="#e8a098"/><circle cx="290.6" cy="55.0" r="1.0" fill="#c85058"/><circle cx="284.1" cy="38.0" r="0.9" fill="#e08088"/><circle cx="277.8" cy="59.3" r="0.9" fill="#e08088"/><circle cx="283.5" cy="43.4" r="1.2" fill="#d25a60"/><circle cx="286.9" cy="52.0" r="1.4" fill="#e08088"/><circle cx="283.2" cy="48.5" r="0.9" fill="#e08088"/><circle cx="287.5" cy="37.7" r="1.2" fill="#e08088"/><circle cx="285.7" cy="53.3" r="1.2" fill="#e08088"/><circle cx="288.2" cy="55.3" r="0.8" fill="#c8404e"/><circle cx="288.4" cy="58.3" r="0.7" fill="#b83a48"/><circle cx="271.9" cy="53.6" r="1.5" fill="#c8404e"/><circle cx="285.9" cy="52.5" r="1.0" fill="#c85058"/><circle cx="281.9" cy="55.1" r="1.5" fill="#c85058"/><circle cx="285.0" cy="54.4" r="1.1" fill="#b83a48"/><circle cx="279.1" cy="59.7" r="0.7" fill="#d25a60"/><circle cx="285.2" cy="48.9" r="1.5" fill="#d25a60"/><circle cx="279.2" cy="52.4" r="1.3" fill="#e8a098"/><circle cx="288.8" cy="51.6" r="0.7" fill="#c8404e"/><circle cx="303.7" cy="49.8" r="0.6" fill="#d25a60"/><circle cx="282.7" cy="45.8" r="0.8" fill="#e8a098"/><circle cx="287.6" cy="54.2" r="1.1" fill="#d25a60"/><circle cx="286.7" cy="46.1" r="1.1" fill="#e8a098"/><circle cx="293.2" cy="57.5" r="0.9" fill="#d25a60"/><circle cx="278.6" cy="38.1" r="0.6" fill="#c8404e"/><circle cx="291.7" cy="52.1" r="1.3" fill="#b83a48"/><circle cx="285.0" cy="45.0" r="1.1" fill="#e08088"/><circle cx="286.5" cy="54.1" r="0.8" fill="#e08088"/><circle cx="286.9" cy="50.6" r="0.8" fill="#e08088"/><circle cx="279.8" cy="51.4" r="0.7" fill="#c8404e"/><circle cx="293.7" cy="55.0" r="1.4" fill="#d25a60"/><circle cx="279.4" cy="50.8" r="0.8" fill="#b83a48"/><circle cx="282.7" cy="49.7" r="1.1" fill="#e08088"/><circle cx="286.6" cy="53.3" r="1.5" fill="#e08088"/><circle cx="289.2" cy="47.8" r="1.5" fill="#e08088"/><circle cx="280.0" cy="46.7" r="0.9" fill="#e08088"/></g>
<path d="M319 53.5H336" stroke="#222" stroke-width="1"/><path d="M339 53.5L334.5 51.3V55.7Z" fill="#222"/>
<path d="M343 43.5H348V61H343Z" fill="#efcb2e"/>
<path d="M347.5 40 Q348 38 350 38 H387 Q389.5 38 389.5 40.5 V66 Q389.5 68 387 68 H350 Q347.5 68 347.5 66Z" fill="#ee5d2c"/>
<path d="M349 36.5 L387 35.2 L389.5 39.5 L350 40.5Z" fill="#d9963c"/>
<path d="M350 40.5 L353 59.5 L361.5 40.3Z" fill="#d5a058"/>
<rect x="359.8" y="28.5" width="4" height="8" rx="2" fill="#f4f4f4" stroke="#d0d0d0" stroke-width="0.5"/>
<rect x="371.5" y="27.3" width="4" height="9" rx="2" fill="#f4f4f4" stroke="#d0d0d0" stroke-width="0.5"/>
<path d="M362.5 49.5 L391 47.8 L402 66.5 L376.5 73 L362.5 68.5Z" fill="#efcb2e"/>
<path d="M369.5 51.5 L391 50 L399 64 L377 69 Z" fill="#f1e06c"/>
<path d="M375 59.5 L386 58.8 L386.3 61.5 L375.3 62.2Z" fill="#3f6fc4"/>
<circle cx="388.5" cy="56.0" r="1" fill="#e04848"/>
<circle cx="391.5" cy="55.8" r="1" fill="#e04848"/>
<circle cx="389.5" cy="59.0" r="1" fill="#e04848"/>
<circle cx="392.5" cy="58.8" r="1" fill="#e04848"/>
<circle cx="391.0" cy="62.3" r="1" fill="#e04848"/>
<circle cx="394.0" cy="62.0" r="1" fill="#e04848"/>
<ellipse cx="359.5" cy="69.5" rx="1.3" ry="0.8" fill="#333"/>
<ellipse cx="378.0" cy="74.0" rx="1.3" ry="0.8" fill="#333"/>
<ellipse cx="395.5" cy="71.6" rx="1.3" ry="0.8" fill="#333"/>
<circle cx="268.1" cy="112.3" r="7.1" fill="#fff" stroke="#222" stroke-width="1.1"/>
<text x="268.1" y="114.9" font-size="7.2" font-weight="bold" text-anchor="middle" fill="#222">2</text>
<text x="279.6" y="113.6" font-size="9.5" fill="#333" stroke="#333" stroke-width="0.18" textLength="104.2" lengthAdjust="spacingAndGlyphs">Enzymatic digestion and</text>
<text x="279.6" y="125.9" font-size="9.5" fill="#333" stroke="#333" stroke-width="0.18" textLength="80.6" lengthAdjust="spacingAndGlyphs">tissue dissociation</text>
<path d="M474 45 Q477 40 482 40.5 Q486 37.5 491 39 Q496 38.5 499 42 Q504 43 504 48 Q507 52 505 56 Q507 61 503 64.5 Q502 70 496 71 Q492 74.5 487 73 Q482 75 478.5 71 Q473.5 70 473.5 65 Q470 62 472.5 58 Q470 54 472 51 Q471.5 47 474 45Z" fill="#c64c58"/>
<path d="M477 47 Q483 43.5 490 45.5 M479 60 Q485 62.5 493 58.5 M487 51 Q493 49 500 53 M495 44 Q499 46 501 49 M476 55 Q479 53 482 55" stroke="#d8707a" stroke-width="1.5" fill="none" stroke-linecap="round"/>
<path d="M491 51.8 L522.5 32.5 M491 51.8 L523 72" stroke="#444" stroke-width="0.55"/>
<circle cx="540" cy="51.6" r="25" fill="#f8eef0" stroke="#3a3a3a" stroke-width="0.8"/>
<circle cx="533.8" cy="41.0" r="6.1" fill="#f0c080" opacity="0.95"/><circle cx="533.8" cy="41.0" r="2.3" fill="#e8905c"/>
<circle cx="528.8" cy="53.5" r="5.6" fill="#f0c080" opacity="0.95"/><circle cx="528.8" cy="53.5" r="2.1" fill="#e8905c"/>
<circle cx="535.5" cy="61.5" r="6.2" fill="#72c872" opacity="0.95"/><circle cx="535.5" cy="61.5" r="2.4" fill="#48a848"/>
<circle cx="545.5" cy="43.8" r="6.3" fill="#70c870" opacity="0.95"/><circle cx="545.5" cy="43.8" r="2.4" fill="#48a848"/>
<circle cx="554.2" cy="49.5" r="6.0" fill="#74bce0" opacity="0.95"/><circle cx="554.2" cy="49.5" r="2.3" fill="#4a98c0"/>
<circle cx="549.5" cy="60.5" r="6.2" fill="#a484d8" opacity="0.95"/><circle cx="549.5" cy="60.5" r="2.4" fill="#8060c0"/>
<circle cx="545.5" cy="54.5" r="6.2" fill="#9a70d0" opacity="0.95"/><circle cx="545.5" cy="54.5" r="2.4" fill="#7a4ab8"/>
<circle cx="537.5" cy="50.5" r="6.6" fill="#4aa4d2" opacity="0.95"/><circle cx="537.5" cy="50.5" r="2.5" fill="#2a78a8"/>
<circle cx="458.6" cy="112.3" r="7.1" fill="#fff" stroke="#222" stroke-width="1.1"/>
<text x="458.6" y="114.9" font-size="7.2" font-weight="bold" text-anchor="middle" fill="#222">3</text>
<text x="467.9" y="114.9" font-size="9.5" fill="#333" stroke="#333" stroke-width="0.18" textLength="115.4" lengthAdjust="spacingAndGlyphs">Cellular composition of the</text>
<text x="467.9" y="127.2" font-size="9.5" fill="#333" stroke="#333" stroke-width="0.18" textLength="69.6" lengthAdjust="spacingAndGlyphs">dissected tissue</text>
<path d="M125.2 185 H166 V201 H125.2Z" fill="#dcdcdc"/>
<path d="M125.2 185 H148 V201 H125.2Z" fill="#e4e4e4"/>
<rect x="141.3" y="169.7" width="29.6" height="22.4" rx="1" fill="#cfcfcf"/>
<rect x="143" y="171.4" width="26" height="19.2" fill="#5e5e5e"/>
<path d="M156.8 171.4 H163.8 L155.3 190.6 H148.3Z" fill="#bdbdbd"/>
<path d="M126 200 L179.5 198 L180 206 L142 211 L126 206Z" fill="#a8a8a8"/>
<path d="M127 199.5 L178.5 197.8 L179.5 203 L142 206.5 L127 203Z" fill="#b9b9b9"/>
<path d="M151.5 201.5 L160 201 L164 203.5 L155 204.5Z" fill="#777"/>
<path d="M125.7 205.5 L142 211 L180 206.5 L180 209 L142 214 L125.7 208.3Z" fill="#78e0a6"/>
<path d="M125.7 208.3 L142 214 L142 265.5 L125.7 252Z" fill="#d2d2d2"/>
<path d="M142 214 L180 209 L180 256 L142 265.5Z" fill="#dad8d8"/>
<path d="M142 219.5 L180 214.3 L180 215.6 L142 221Z" fill="#3a3a3a"/>
<path d="M161 216.8 V260.5" stroke="#c4c2c2" stroke-width="0.6"/>
<path d="M125.7 222 L141.5 228 M125.7 236 L141.5 242" stroke="#c2c2c2" stroke-width="0.5"/>
<path d="M125.7 252 L142 265.5 L180 256 L180 257.5 L142 267 L125.7 253.5Z" fill="#4a4a4a"/>
<circle cx="100.1" cy="291.6" r="7.1" fill="#fff" stroke="#222" stroke-width="1.1"/>
<text x="100.1" y="294.2" font-size="7.2" font-weight="bold" text-anchor="middle" fill="#222">4</text>
<text x="111.5" y="294.5" font-size="9.5" fill="#333" stroke="#333" stroke-width="0.18" textLength="85.5" lengthAdjust="spacingAndGlyphs">3’end, droplet-based</text>
<text x="111.5" y="306.8" font-size="9.5" fill="#333" stroke="#333" stroke-width="0.18" textLength="115.9" lengthAdjust="spacingAndGlyphs">single-cell RNA sequencing</text>
<text x="332" y="187.5" font-size="7.9" text-anchor="middle" fill="#2a2a2a">Expression profile</text>
<path d="M291 191.3 H375.5" stroke="#222" stroke-width="0.9"/>
<rect x="291.0" y="196.7" width="8.1" height="11.7" fill="#2f7a1e"/>
<rect x="299.5" y="196.7" width="8.1" height="11.7" fill="#3c8a22"/>
<rect x="308.0" y="196.7" width="8.1" height="11.7" fill="#5aa82a"/>
<rect x="316.5" y="196.7" width="8.1" height="11.7" fill="#5aaa2a"/>
<rect x="325.0" y="196.7" width="8.1" height="11.7" fill="#eed040"/>
<rect x="333.5" y="196.7" width="8.1" height="11.7" fill="#e83c2c"/>
<rect x="342.0" y="196.7" width="8.1" height="11.7" fill="#e83c2c"/>
<rect x="350.5" y="196.7" width="8.1" height="11.7" fill="#e83c2c"/>
<rect x="359.0" y="196.7" width="8.1" height="11.7" fill="#e88a3a"/>
<rect x="367.5" y="196.7" width="8.1" height="11.7" fill="#e8663a"/>
<rect x="291.0" y="209.4" width="8.1" height="11.2" fill="#3c8a22"/>
<rect x="299.5" y="209.4" width="8.1" height="11.2" fill="#5aaa2a"/>
<rect x="308.0" y="209.4" width="8.1" height="11.2" fill="#88ea3a"/>
<rect x="316.5" y="209.4" width="8.1" height="11.2" fill="#f0ee50"/>
<rect x="325.0" y="209.4" width="8.1" height="11.2" fill="#e8663a"/>
<rect x="333.5" y="209.4" width="8.1" height="11.2" fill="#e83c2c"/>
<rect x="342.0" y="209.4" width="8.1" height="11.2" fill="#e83c2c"/>
<rect x="350.5" y="209.4" width="8.1" height="11.2" fill="#e8663a"/>
<rect x="359.0" y="209.4" width="8.1" height="11.2" fill="#e0f048"/>
<rect x="367.5" y="209.4" width="8.1" height="11.2" fill="#eaa23e"/>
<rect x="291.0" y="221.8" width="8.1" height="11.7" fill="#2f7a1e"/>
<rect x="299.5" y="221.8" width="8.1" height="11.7" fill="#e83c2c"/>
<rect x="308.0" y="221.8" width="8.1" height="11.7" fill="#5aa82a"/>
<rect x="316.5" y="221.8" width="8.1" height="11.7" fill="#b0f040"/>
<rect x="325.0" y="221.8" width="8.1" height="11.7" fill="#88ea30"/>
<rect x="333.5" y="221.8" width="8.1" height="11.7" fill="#f0d040"/>
<rect x="342.0" y="221.8" width="8.1" height="11.7" fill="#f0d040"/>
<rect x="350.5" y="221.8" width="8.1" height="11.7" fill="#eaa23e"/>
<rect x="359.0" y="221.8" width="8.1" height="11.7" fill="#f0f050"/>
<rect x="367.5" y="221.8" width="8.1" height="11.7" fill="#f0d848"/>
<rect x="291.0" y="246.4" width="8.1" height="11.7" fill="#3c8a22"/>
<rect x="299.5" y="246.4" width="8.1" height="11.7" fill="#f0d040"/>
<rect x="308.0" y="246.4" width="8.1" height="11.7" fill="#f0ee50"/>
<rect x="316.5" y="246.4" width="8.1" height="11.7" fill="#f0ee50"/>
<rect x="325.0" y="246.4" width="8.1" height="11.7" fill="#f0f050"/>
<rect x="333.5" y="246.4" width="8.1" height="11.7" fill="#f0d040"/>
<rect x="342.0" y="246.4" width="8.1" height="11.7" fill="#e88a3a"/>
<rect x="350.5" y="246.4" width="8.1" height="11.7" fill="#e88a3a"/>
<rect x="359.0" y="246.4" width="8.1" height="11.7" fill="#f0d040"/>
<rect x="367.5" y="246.4" width="8.1" height="11.7" fill="#e8663a"/>
<circle cx="258.4" cy="202.7" r="3.7" fill="#4aa8d0"/><circle cx="258.4" cy="202.7" r="1.3" fill="#2a7aa8"/>
<text x="267.6" y="206.0" font-size="8.6" fill="#2a2a2a" stroke="#2a2a2a" stroke-width="0.15" textLength="19.4" lengthAdjust="spacingAndGlyphs">Cell 1</text>
<circle cx="258.4" cy="214.7" r="3.7" fill="#68c468"/><circle cx="258.4" cy="214.7" r="1.3" fill="#48a048"/>
<text x="267.6" y="218.0" font-size="8.6" fill="#2a2a2a" stroke="#2a2a2a" stroke-width="0.15" textLength="19.6" lengthAdjust="spacingAndGlyphs">Cell 2</text>
<circle cx="258.4" cy="229.3" r="3.7" fill="#9a70cc"/><circle cx="258.4" cy="229.3" r="1.3" fill="#7a48b8"/>
<text x="267.6" y="232.6" font-size="8.6" fill="#2a2a2a" stroke="#2a2a2a" stroke-width="0.15" textLength="19.6" lengthAdjust="spacingAndGlyphs">Cell 3</text>
<circle cx="258.4" cy="252.6" r="3.7" fill="#f0b880"/><circle cx="258.4" cy="252.6" r="1.3" fill="#e88a58"/>
<text x="267.6" y="255.9" font-size="8.6" fill="#2a2a2a" stroke="#2a2a2a" stroke-width="0.15" textLength="20.6" lengthAdjust="spacingAndGlyphs">Cell N</text>
<text x="272" y="243" font-size="7.5" fill="#555">...</text>
<path d="M385 222.8 H431" stroke="#222" stroke-width="1"/><path d="M434.5 222.8 L429.5 220.3 V225.3Z" fill="#222"/>
<circle cx="260.9" cy="291.6" r="7.1" fill="#fff" stroke="#222" stroke-width="1.1"/>
<text x="260.9" y="294.2" font-size="7.2" font-weight="bold" text-anchor="middle" fill="#222">5</text>
<text x="270.3" y="294.9" font-size="9.5" fill="#333" stroke="#333" stroke-width="0.18" textLength="121.2" lengthAdjust="spacingAndGlyphs">Single-cell expression profile</text>
<path d="M457.7 169.7 V266.2 H555.4" stroke="#bbb" stroke-width="0.8" fill="none"/>
<text x="454.5" y="173.8" font-size="5" text-anchor="end" fill="#444">30</text>
<text x="454.5" y="187.6" font-size="5" text-anchor="end" fill="#444">20</text>
<text x="454.5" y="201.5" font-size="5" text-anchor="end" fill="#444">10</text>
<text x="454.5" y="215.3" font-size="5" text-anchor="end" fill="#444">0</text>
<text x="454.5" y="229.2" font-size="5" text-anchor="end" fill="#444">-10</text>
<text x="454.5" y="243.6" font-size="5" text-anchor="end" fill="#444">-20</text>
<text x="454.5" y="257.5" font-size="5" text-anchor="end" fill="#444">-30</text>
<text x="459.0" y="272.2" font-size="5" text-anchor="middle" fill="#444">-30</text>
<text x="474.4" y="272.2" font-size="5" text-anchor="middle" fill="#444">-20</text>
<text x="489.6" y="272.2" font-size="5" text-anchor="middle" fill="#444">-10</text>
<text x="505.4" y="272.2" font-size="5" text-anchor="middle" fill="#444">0</text>
<text x="521.0" y="272.2" font-size="5" text-anchor="middle" fill="#444">10</text>
<text x="536.2" y="272.2" font-size="5" text-anchor="middle" fill="#444">20</text>
<text x="551.2" y="272.2" font-size="5" text-anchor="middle" fill="#444">30</text>
<text x="507.7" y="280.6" font-size="5.6" text-anchor="middle" fill="#333">t-SNE1</text>
<text transform="translate(445 215.5) rotate(-90)" font-size="5.6" text-anchor="middle" fill="#333">t-SNE2</text>
<g><circle cx="475.2" cy="189.9" r="1.05" fill="#4a7cc4"/><circle cx="481.3" cy="191.3" r="1.05" fill="#4a7cc4"/><circle cx="468.8" cy="193.4" r="1.05" fill="#4a7cc4"/><circle cx="474.0" cy="184.6" r="1.05" fill="#4a7cc4"/><circle cx="471.0" cy="190.2" r="1.05" fill="#4a7cc4"/><circle cx="479.3" cy="187.8" r="1.05" fill="#4a7cc4"/><circle cx="475.4" cy="183.7" r="1.05" fill="#4a7cc4"/><circle cx="474.7" cy="180.7" r="1.05" fill="#4a7cc4"/><circle cx="478.6" cy="195.4" r="1.05" fill="#4a7cc4"/><circle cx="477.1" cy="191.7" r="1.05" fill="#4a7cc4"/><circle cx="476.9" cy="183.6" r="1.05" fill="#4a7cc4"/><circle cx="471.2" cy="185.7" r="1.05" fill="#4a7cc4"/><circle cx="475.3" cy="192.8" r="1.05" fill="#4a7cc4"/><circle cx="479.2" cy="193.7" r="1.05" fill="#4a7cc4"/><circle cx="481.4" cy="189.8" r="1.05" fill="#4a7cc4"/><circle cx="480.7" cy="187.9" r="1.05" fill="#4a7cc4"/><circle cx="479.1" cy="189.1" r="1.05" fill="#4a7cc4"/><circle cx="479.4" cy="183.8" r="1.05" fill="#4a7cc4"/><circle cx="478.3" cy="185.9" r="1.05" fill="#4a7cc4"/><circle cx="478.8" cy="187.3" r="1.05" fill="#4a7cc4"/><circle cx="470.8" cy="188.2" r="1.05" fill="#4a7cc4"/><circle cx="471.1" cy="191.9" r="1.05" fill="#4a7cc4"/><circle cx="476.5" cy="181.9" r="1.05" fill="#4a7cc4"/><circle cx="480.5" cy="191.3" r="1.05" fill="#4a7cc4"/><circle cx="474.6" cy="181.2" r="1.05" fill="#4a7cc4"/><circle cx="471.8" cy="185.5" r="1.05" fill="#4a7cc4"/><circle cx="467.1" cy="190.2" r="1.05" fill="#4a7cc4"/><circle cx="478.8" cy="192.6" r="1.05" fill="#4a7cc4"/><circle cx="470.6" cy="185.4" r="1.05" fill="#4a7cc4"/><circle cx="479.0" cy="184.5" r="1.05" fill="#4a7cc4"/><circle cx="478.3" cy="192.0" r="1.05" fill="#4a7cc4"/><circle cx="468.5" cy="184.0" r="1.05" fill="#4a7cc4"/><circle cx="476.5" cy="184.8" r="1.05" fill="#4a7cc4"/><circle cx="476.9" cy="194.6" r="1.05" fill="#4a7cc4"/><circle cx="481.2" cy="191.7" r="1.05" fill="#4a7cc4"/><circle cx="475.0" cy="194.5" r="1.05" fill="#4a7cc4"/><circle cx="470.2" cy="195.6" r="1.05" fill="#4a7cc4"/><circle cx="478.6" cy="193.9" r="1.05" fill="#4a7cc4"/><circle cx="470.0" cy="184.4" r="1.05" fill="#4a7cc4"/><circle cx="476.0" cy="188.1" r="1.05" fill="#4a7cc4"/><circle cx="478.0" cy="194.2" r="1.05" fill="#4a7cc4"/><circle cx="481.2" cy="189.9" r="1.05" fill="#4a7cc4"/><circle cx="472.3" cy="193.6" r="1.05" fill="#4a7cc4"/><circle cx="482.8" cy="188.8" r="1.05" fill="#4a7cc4"/><circle cx="467.9" cy="192.5" r="1.05" fill="#4a7cc4"/><circle cx="480.2" cy="189.6" r="1.05" fill="#4a7cc4"/><circle cx="475.2" cy="187.4" r="1.05" fill="#4a7cc4"/><circle cx="477.8" cy="185.7" r="1.05" fill="#4a7cc4"/><circle cx="470.3" cy="181.9" r="1.05" fill="#4a7cc4"/><circle cx="468.2" cy="191.3" r="1.05" fill="#4a7cc4"/><circle cx="479.4" cy="192.9" r="1.05" fill="#4a7cc4"/><circle cx="474.4" cy="191.6" r="1.05" fill="#4a7cc4"/><circle cx="469.1" cy="182.7" r="1.05" fill="#4a7cc4"/><circle cx="475.5" cy="184.8" r="1.05" fill="#4a7cc4"/><circle cx="478.2" cy="195.8" r="1.05" fill="#4a7cc4"/><circle cx="475.6" cy="188.5" r="1.05" fill="#4a7cc4"/><circle cx="474.9" cy="192.1" r="1.05" fill="#4a7cc4"/><circle cx="475.2" cy="191.5" r="1.05" fill="#4a7cc4"/><circle cx="469.2" cy="192.5" r="1.05" fill="#4a7cc4"/><circle cx="477.1" cy="193.3" r="1.05" fill="#4a7cc4"/><circle cx="473.7" cy="187.5" r="1.05" fill="#4a7cc4"/><circle cx="481.1" cy="185.1" r="1.05" fill="#4a7cc4"/><circle cx="470.1" cy="185.1" r="1.05" fill="#4a7cc4"/><circle cx="473.8" cy="187.0" r="1.05" fill="#4a7cc4"/><circle cx="467.8" cy="193.3" r="1.05" fill="#4a7cc4"/><circle cx="471.6" cy="185.4" r="1.05" fill="#4a7cc4"/><circle cx="468.1" cy="185.5" r="1.05" fill="#4a7cc4"/><circle cx="468.1" cy="184.5" r="1.05" fill="#4a7cc4"/><circle cx="479.4" cy="183.0" r="1.05" fill="#4a7cc4"/><circle cx="477.3" cy="193.0" r="1.05" fill="#4a7cc4"/><circle cx="479.8" cy="202.4" r="1.05" fill="#4a7cc4"/><circle cx="477.1" cy="221.9" r="1.05" fill="#4a7cc4"/><circle cx="469.6" cy="207.8" r="1.05" fill="#4a7cc4"/><circle cx="469.2" cy="212.2" r="1.05" fill="#4a7cc4"/><circle cx="466.8" cy="209.4" r="1.05" fill="#4a7cc4"/><circle cx="483.2" cy="219.4" r="1.05" fill="#4a7cc4"/><circle cx="474.8" cy="207.2" r="1.05" fill="#4a7cc4"/><circle cx="467.3" cy="225.2" r="1.05" fill="#4a7cc4"/><circle cx="474.3" cy="229.2" r="1.05" fill="#4a7cc4"/><circle cx="472.3" cy="204.3" r="1.05" fill="#4a7cc4"/><circle cx="476.5" cy="202.2" r="1.05" fill="#4a7cc4"/><circle cx="474.7" cy="204.8" r="1.05" fill="#4a7cc4"/><circle cx="466.3" cy="214.9" r="1.05" fill="#4a7cc4"/><circle cx="471.1" cy="202.9" r="1.05" fill="#4a7cc4"/><circle cx="464.9" cy="215.9" r="1.05" fill="#4a7cc4"/><circle cx="476.4" cy="222.1" r="1.05" fill="#4a7cc4"/><circle cx="474.7" cy="208.2" r="1.05" fill="#4a7cc4"/><circle cx="469.3" cy="223.7" r="1.05" fill="#4a7cc4"/><circle cx="484.8" cy="215.1" r="1.05" fill="#4a7cc4"/><circle cx="472.0" cy="216.1" r="1.05" fill="#4a7cc4"/><circle cx="469.8" cy="223.1" r="1.05" fill="#4a7cc4"/><circle cx="468.6" cy="213.9" r="1.05" fill="#4a7cc4"/><circle cx="479.2" cy="223.3" r="1.05" fill="#4a7cc4"/><circle cx="473.7" cy="226.8" r="1.05" fill="#4a7cc4"/><circle cx="482.8" cy="217.0" r="1.05" fill="#4a7cc4"/><circle cx="470.6" cy="204.4" r="1.05" fill="#4a7cc4"/><circle cx="466.3" cy="217.6" r="1.05" fill="#4a7cc4"/><circle cx="476.1" cy="209.4" r="1.05" fill="#4a7cc4"/><circle cx="477.4" cy="209.9" r="1.05" fill="#4a7cc4"/><circle cx="479.5" cy="221.3" r="1.05" fill="#4a7cc4"/><circle cx="476.3" cy="217.9" r="1.05" fill="#4a7cc4"/><circle cx="468.4" cy="226.2" r="1.05" fill="#4a7cc4"/><circle cx="472.7" cy="209.7" r="1.05" fill="#4a7cc4"/><circle cx="479.7" cy="216.4" r="1.05" fill="#4a7cc4"/><circle cx="478.0" cy="200.5" r="1.05" fill="#4a7cc4"/><circle cx="466.0" cy="221.5" r="1.05" fill="#4a7cc4"/><circle cx="472.2" cy="222.1" r="1.05" fill="#4a7cc4"/><circle cx="475.1" cy="224.7" r="1.05" fill="#4a7cc4"/><circle cx="468.2" cy="217.4" r="1.05" fill="#4a7cc4"/><circle cx="482.9" cy="211.9" r="1.05" fill="#4a7cc4"/><circle cx="478.0" cy="220.8" r="1.05" fill="#4a7cc4"/><circle cx="476.7" cy="222.2" r="1.05" fill="#4a7cc4"/><circle cx="465.1" cy="219.5" r="1.05" fill="#4a7cc4"/><circle cx="475.7" cy="203.3" r="1.05" fill="#4a7cc4"/><circle cx="471.2" cy="213.0" r="1.05" fill="#4a7cc4"/><circle cx="476.5" cy="213.0" r="1.05" fill="#4a7cc4"/><circle cx="476.2" cy="229.1" r="1.05" fill="#4a7cc4"/><circle cx="474.3" cy="216.2" r="1.05" fill="#4a7cc4"/><circle cx="480.8" cy="220.7" r="1.05" fill="#4a7cc4"/><circle cx="480.1" cy="220.0" r="1.05" fill="#4a7cc4"/><circle cx="478.9" cy="204.6" r="1.05" fill="#4a7cc4"/><circle cx="482.8" cy="208.0" r="1.05" fill="#4a7cc4"/><circle cx="471.8" cy="209.1" r="1.05" fill="#4a7cc4"/><circle cx="479.7" cy="221.6" r="1.05" fill="#4a7cc4"/><circle cx="473.4" cy="205.7" r="1.05" fill="#4a7cc4"/><circle cx="465.6" cy="222.0" r="1.05" fill="#4a7cc4"/><circle cx="468.6" cy="203.7" r="1.05" fill="#4a7cc4"/><circle cx="473.7" cy="213.3" r="1.05" fill="#4a7cc4"/><circle cx="479.0" cy="212.1" r="1.05" fill="#4a7cc4"/><circle cx="480.3" cy="216.2" r="1.05" fill="#4a7cc4"/><circle cx="469.7" cy="208.7" r="1.05" fill="#4a7cc4"/><circle cx="483.1" cy="209.3" r="1.05" fill="#4a7cc4"/><circle cx="470.6" cy="206.7" r="1.05" fill="#4a7cc4"/><circle cx="480.9" cy="216.1" r="1.05" fill="#4a7cc4"/><circle cx="476.2" cy="212.1" r="1.05" fill="#4a7cc4"/><circle cx="470.0" cy="211.7" r="1.05" fill="#4a7cc4"/><circle cx="478.3" cy="218.5" r="1.05" fill="#4a7cc4"/><circle cx="484.2" cy="218.6" r="1.05" fill="#4a7cc4"/><circle cx="479.1" cy="226.8" r="1.05" fill="#4a7cc4"/><circle cx="478.4" cy="204.4" r="1.05" fill="#4a7cc4"/><circle cx="471.2" cy="224.2" r="1.05" fill="#4a7cc4"/><circle cx="472.7" cy="214.8" r="1.05" fill="#4a7cc4"/><circle cx="478.6" cy="222.3" r="1.05" fill="#4a7cc4"/><circle cx="473.0" cy="210.9" r="1.05" fill="#4a7cc4"/><circle cx="469.9" cy="204.0" r="1.05" fill="#4a7cc4"/><circle cx="470.0" cy="213.2" r="1.05" fill="#4a7cc4"/><circle cx="465.3" cy="209.2" r="1.05" fill="#4a7cc4"/><circle cx="473.0" cy="220.1" r="1.05" fill="#4a7cc4"/><circle cx="476.2" cy="222.0" r="1.05" fill="#4a7cc4"/><circle cx="472.6" cy="223.6" r="1.05" fill="#4a7cc4"/><circle cx="481.5" cy="206.8" r="1.05" fill="#4a7cc4"/><circle cx="478.0" cy="229.0" r="1.05" fill="#4a7cc4"/><circle cx="464.3" cy="210.9" r="1.05" fill="#4a7cc4"/><circle cx="472.6" cy="217.9" r="1.05" fill="#4a7cc4"/><circle cx="473.1" cy="215.9" r="1.05" fill="#4a7cc4"/><circle cx="466.5" cy="222.2" r="1.05" fill="#4a7cc4"/><circle cx="481.0" cy="212.2" r="1.05" fill="#4a7cc4"/><circle cx="479.3" cy="213.8" r="1.05" fill="#4a7cc4"/><circle cx="479.0" cy="226.1" r="1.05" fill="#4a7cc4"/><circle cx="473.2" cy="208.5" r="1.05" fill="#4a7cc4"/><circle cx="466.4" cy="213.0" r="1.05" fill="#4a7cc4"/><circle cx="466.3" cy="218.5" r="1.05" fill="#4a7cc4"/><circle cx="483.1" cy="208.7" r="1.05" fill="#4a7cc4"/><circle cx="482.9" cy="216.7" r="1.05" fill="#4a7cc4"/><circle cx="467.1" cy="220.3" r="1.05" fill="#4a7cc4"/><circle cx="468.5" cy="207.6" r="1.05" fill="#4a7cc4"/><circle cx="483.3" cy="206.1" r="1.05" fill="#4a7cc4"/><circle cx="466.2" cy="208.9" r="1.05" fill="#4a7cc4"/><circle cx="476.1" cy="204.3" r="1.05" fill="#4a7cc4"/><circle cx="468.4" cy="212.3" r="1.05" fill="#4a7cc4"/><circle cx="475.3" cy="216.7" r="1.05" fill="#4a7cc4"/><circle cx="471.4" cy="208.4" r="1.05" fill="#4a7cc4"/><circle cx="475.0" cy="206.8" r="1.05" fill="#4a7cc4"/><circle cx="469.7" cy="219.7" r="1.05" fill="#4a7cc4"/><circle cx="477.4" cy="229.5" r="1.05" fill="#4a7cc4"/><circle cx="470.4" cy="211.8" r="1.05" fill="#4a7cc4"/><circle cx="481.7" cy="215.4" r="1.05" fill="#4a7cc4"/><circle cx="475.7" cy="216.3" r="1.05" fill="#4a7cc4"/><circle cx="476.8" cy="208.4" r="1.05" fill="#4a7cc4"/><circle cx="466.5" cy="219.8" r="1.05" fill="#4a7cc4"/><circle cx="472.2" cy="217.4" r="1.05" fill="#4a7cc4"/><circle cx="474.0" cy="202.0" r="1.05" fill="#4a7cc4"/><circle cx="467.7" cy="224.5" r="1.05" fill="#4a7cc4"/><circle cx="483.1" cy="215.8" r="1.05" fill="#4a7cc4"/><circle cx="466.2" cy="215.2" r="1.05" fill="#4a7cc4"/><circle cx="467.5" cy="221.3" r="1.05" fill="#4a7cc4"/><circle cx="476.0" cy="214.5" r="1.05" fill="#4a7cc4"/><circle cx="469.8" cy="223.1" r="1.05" fill="#4a7cc4"/><circle cx="476.0" cy="220.9" r="1.05" fill="#4a7cc4"/><circle cx="470.0" cy="201.4" r="1.05" fill="#4a7cc4"/><circle cx="473.8" cy="206.0" r="1.05" fill="#4a7cc4"/><circle cx="473.0" cy="218.8" r="1.05" fill="#4a7cc4"/><circle cx="478.4" cy="214.8" r="1.05" fill="#4a7cc4"/><circle cx="471.0" cy="215.0" r="1.05" fill="#4a7cc4"/><circle cx="468.9" cy="224.8" r="1.05" fill="#4a7cc4"/><circle cx="474.6" cy="219.0" r="1.05" fill="#4a7cc4"/><circle cx="467.8" cy="217.9" r="1.05" fill="#4a7cc4"/><circle cx="470.8" cy="217.3" r="1.05" fill="#4a7cc4"/><circle cx="470.7" cy="210.7" r="1.05" fill="#4a7cc4"/><circle cx="481.2" cy="219.7" r="1.05" fill="#4a7cc4"/><circle cx="503.7" cy="196.6" r="1.05" fill="#2a9c7c"/><circle cx="510.0" cy="217.9" r="1.05" fill="#2a9c7c"/><circle cx="496.5" cy="206.7" r="1.05" fill="#2a9c7c"/><circle cx="497.4" cy="197.7" r="1.05" fill="#2a9c7c"/><circle cx="510.3" cy="205.6" r="1.05" fill="#2a9c7c"/><circle cx="499.1" cy="189.1" r="1.05" fill="#2a9c7c"/><circle cx="497.6" cy="216.3" r="1.05" fill="#2a9c7c"/><circle cx="499.4" cy="207.7" r="1.05" fill="#2a9c7c"/><circle cx="512.1" cy="203.9" r="1.05" fill="#2a9c7c"/><circle cx="493.8" cy="210.0" r="1.05" fill="#2a9c7c"/><circle cx="507.8" cy="204.7" r="1.05" fill="#2a9c7c"/><circle cx="503.9" cy="221.5" r="1.05" fill="#2a9c7c"/><circle cx="510.0" cy="200.5" r="1.05" fill="#2a9c7c"/><circle cx="500.3" cy="202.0" r="1.05" fill="#2a9c7c"/><circle cx="497.7" cy="218.5" r="1.05" fill="#2a9c7c"/><circle cx="507.0" cy="221.8" r="1.05" fill="#2a9c7c"/><circle cx="496.2" cy="222.3" r="1.05" fill="#2a9c7c"/><circle cx="505.4" cy="212.8" r="1.05" fill="#2a9c7c"/><circle cx="508.7" cy="218.8" r="1.05" fill="#2a9c7c"/><circle cx="501.5" cy="206.6" r="1.05" fill="#2a9c7c"/><circle cx="502.9" cy="211.4" r="1.05" fill="#2a9c7c"/><circle cx="501.2" cy="199.8" r="1.05" fill="#2a9c7c"/><circle cx="496.5" cy="220.2" r="1.05" fill="#2a9c7c"/><circle cx="498.7" cy="208.1" r="1.05" fill="#2a9c7c"/><circle cx="495.2" cy="221.5" r="1.05" fill="#2a9c7c"/><circle cx="511.5" cy="214.0" r="1.05" fill="#2a9c7c"/><circle cx="497.3" cy="219.5" r="1.05" fill="#2a9c7c"/><circle cx="501.7" cy="225.0" r="1.05" fill="#2a9c7c"/><circle cx="509.2" cy="206.4" r="1.05" fill="#2a9c7c"/><circle cx="494.5" cy="213.1" r="1.05" fill="#2a9c7c"/><circle cx="500.2" cy="219.9" r="1.05" fill="#2a9c7c"/><circle cx="497.5" cy="214.7" r="1.05" fill="#2a9c7c"/><circle cx="500.2" cy="224.7" r="1.05" fill="#2a9c7c"/><circle cx="492.9" cy="215.2" r="1.05" fill="#2a9c7c"/><circle cx="496.1" cy="191.9" r="1.05" fill="#2a9c7c"/><circle cx="496.3" cy="197.7" r="1.05" fill="#2a9c7c"/><circle cx="494.6" cy="210.8" r="1.05" fill="#2a9c7c"/><circle cx="497.4" cy="217.3" r="1.05" fill="#2a9c7c"/><circle cx="496.9" cy="201.0" r="1.05" fill="#2a9c7c"/><circle cx="507.2" cy="221.1" r="1.05" fill="#2a9c7c"/><circle cx="499.4" cy="212.0" r="1.05" fill="#2a9c7c"/><circle cx="499.3" cy="222.1" r="1.05" fill="#2a9c7c"/><circle cx="499.2" cy="194.4" r="1.05" fill="#2a9c7c"/><circle cx="506.5" cy="196.0" r="1.05" fill="#2a9c7c"/><circle cx="496.6" cy="219.8" r="1.05" fill="#2a9c7c"/><circle cx="497.5" cy="194.4" r="1.05" fill="#2a9c7c"/><circle cx="503.4" cy="220.7" r="1.05" fill="#2a9c7c"/><circle cx="492.2" cy="209.5" r="1.05" fill="#2a9c7c"/><circle cx="508.0" cy="214.9" r="1.05" fill="#2a9c7c"/><circle cx="494.9" cy="192.0" r="1.05" fill="#2a9c7c"/><circle cx="494.2" cy="205.7" r="1.05" fill="#2a9c7c"/><circle cx="509.3" cy="202.1" r="1.05" fill="#2a9c7c"/><circle cx="506.7" cy="204.4" r="1.05" fill="#2a9c7c"/><circle cx="509.0" cy="218.0" r="1.05" fill="#2a9c7c"/><circle cx="499.7" cy="224.3" r="1.05" fill="#2a9c7c"/><circle cx="495.2" cy="223.6" r="1.05" fill="#2a9c7c"/><circle cx="503.3" cy="200.0" r="1.05" fill="#2a9c7c"/><circle cx="503.9" cy="190.1" r="1.05" fill="#2a9c7c"/><circle cx="505.3" cy="204.2" r="1.05" fill="#2a9c7c"/><circle cx="506.1" cy="217.3" r="1.05" fill="#2a9c7c"/><circle cx="508.3" cy="191.3" r="1.05" fill="#2a9c7c"/><circle cx="494.3" cy="199.8" r="1.05" fill="#2a9c7c"/><circle cx="493.6" cy="214.7" r="1.05" fill="#2a9c7c"/><circle cx="500.0" cy="202.4" r="1.05" fill="#2a9c7c"/><circle cx="504.5" cy="198.9" r="1.05" fill="#2a9c7c"/><circle cx="507.1" cy="220.8" r="1.05" fill="#2a9c7c"/><circle cx="492.1" cy="208.2" r="1.05" fill="#2a9c7c"/><circle cx="501.3" cy="216.9" r="1.05" fill="#2a9c7c"/><circle cx="498.9" cy="207.2" r="1.05" fill="#2a9c7c"/><circle cx="507.5" cy="193.3" r="1.05" fill="#2a9c7c"/><circle cx="507.3" cy="222.5" r="1.05" fill="#2a9c7c"/><circle cx="501.8" cy="216.2" r="1.05" fill="#2a9c7c"/><circle cx="509.7" cy="198.2" r="1.05" fill="#2a9c7c"/><circle cx="503.7" cy="206.1" r="1.05" fill="#2a9c7c"/><circle cx="502.1" cy="222.6" r="1.05" fill="#2a9c7c"/><circle cx="499.6" cy="200.4" r="1.05" fill="#2a9c7c"/><circle cx="496.3" cy="211.1" r="1.05" fill="#2a9c7c"/><circle cx="503.2" cy="207.3" r="1.05" fill="#2a9c7c"/><circle cx="500.6" cy="190.2" r="1.05" fill="#2a9c7c"/><circle cx="508.9" cy="208.1" r="1.05" fill="#2a9c7c"/><circle cx="497.4" cy="191.7" r="1.05" fill="#2a9c7c"/><circle cx="503.5" cy="207.5" r="1.05" fill="#2a9c7c"/><circle cx="508.7" cy="199.5" r="1.05" fill="#2a9c7c"/><circle cx="496.2" cy="211.1" r="1.05" fill="#2a9c7c"/><circle cx="499.2" cy="204.4" r="1.05" fill="#2a9c7c"/><circle cx="507.0" cy="211.7" r="1.05" fill="#2a9c7c"/><circle cx="501.6" cy="221.4" r="1.05" fill="#2a9c7c"/><circle cx="505.9" cy="221.9" r="1.05" fill="#2a9c7c"/><circle cx="504.8" cy="217.9" r="1.05" fill="#2a9c7c"/><circle cx="503.9" cy="217.2" r="1.05" fill="#2a9c7c"/><circle cx="505.3" cy="212.2" r="1.05" fill="#2a9c7c"/><circle cx="500.4" cy="209.5" r="1.05" fill="#2a9c7c"/><circle cx="503.4" cy="217.9" r="1.05" fill="#2a9c7c"/><circle cx="506.9" cy="201.9" r="1.05" fill="#2a9c7c"/><circle cx="498.2" cy="189.1" r="1.05" fill="#2a9c7c"/><circle cx="495.0" cy="209.1" r="1.05" fill="#2a9c7c"/><circle cx="494.0" cy="212.5" r="1.05" fill="#2a9c7c"/><circle cx="489.8" cy="204.4" r="1.05" fill="#2a9c7c"/><circle cx="502.0" cy="211.0" r="1.05" fill="#2a9c7c"/><circle cx="501.8" cy="205.5" r="1.05" fill="#2a9c7c"/><circle cx="491.0" cy="200.9" r="1.05" fill="#2a9c7c"/><circle cx="509.5" cy="200.8" r="1.05" fill="#2a9c7c"/><circle cx="506.5" cy="192.9" r="1.05" fill="#2a9c7c"/><circle cx="504.6" cy="207.1" r="1.05" fill="#2a9c7c"/><circle cx="504.6" cy="206.7" r="1.05" fill="#2a9c7c"/><circle cx="507.1" cy="222.6" r="1.05" fill="#2a9c7c"/><circle cx="498.5" cy="209.4" r="1.05" fill="#2a9c7c"/><circle cx="509.8" cy="196.3" r="1.05" fill="#2a9c7c"/><circle cx="504.1" cy="192.9" r="1.05" fill="#2a9c7c"/><circle cx="506.2" cy="209.2" r="1.05" fill="#2a9c7c"/><circle cx="497.0" cy="200.7" r="1.05" fill="#2a9c7c"/><circle cx="495.5" cy="199.7" r="1.05" fill="#2a9c7c"/><circle cx="498.5" cy="218.9" r="1.05" fill="#2a9c7c"/><circle cx="494.7" cy="212.7" r="1.05" fill="#2a9c7c"/><circle cx="501.2" cy="222.4" r="1.05" fill="#2a9c7c"/><circle cx="502.1" cy="193.3" r="1.05" fill="#2a9c7c"/><circle cx="494.9" cy="212.8" r="1.05" fill="#2a9c7c"/><circle cx="497.2" cy="216.5" r="1.05" fill="#2a9c7c"/><circle cx="504.1" cy="201.3" r="1.05" fill="#2a9c7c"/><circle cx="494.6" cy="205.5" r="1.05" fill="#2a9c7c"/><circle cx="493.6" cy="199.0" r="1.05" fill="#2a9c7c"/><circle cx="503.8" cy="206.9" r="1.05" fill="#2a9c7c"/><circle cx="492.9" cy="192.2" r="1.05" fill="#2a9c7c"/><circle cx="500.1" cy="197.6" r="1.05" fill="#2a9c7c"/><circle cx="498.4" cy="200.0" r="1.05" fill="#2a9c7c"/><circle cx="498.3" cy="214.7" r="1.05" fill="#2a9c7c"/><circle cx="499.8" cy="200.6" r="1.05" fill="#2a9c7c"/><circle cx="506.0" cy="201.9" r="1.05" fill="#2a9c7c"/><circle cx="495.8" cy="204.7" r="1.05" fill="#2a9c7c"/><circle cx="495.1" cy="221.2" r="1.05" fill="#2a9c7c"/><circle cx="505.9" cy="218.2" r="1.05" fill="#2a9c7c"/><circle cx="494.3" cy="202.6" r="1.05" fill="#2a9c7c"/><circle cx="508.8" cy="216.8" r="1.05" fill="#2a9c7c"/><circle cx="502.6" cy="218.1" r="1.05" fill="#2a9c7c"/><circle cx="502.8" cy="220.0" r="1.05" fill="#2a9c7c"/><circle cx="497.2" cy="193.4" r="1.05" fill="#2a9c7c"/><circle cx="503.8" cy="203.2" r="1.05" fill="#2a9c7c"/><circle cx="506.5" cy="197.9" r="1.05" fill="#2a9c7c"/><circle cx="508.7" cy="216.0" r="1.05" fill="#2a9c7c"/><circle cx="498.0" cy="203.3" r="1.05" fill="#2a9c7c"/><circle cx="501.7" cy="198.4" r="1.05" fill="#2a9c7c"/><circle cx="494.6" cy="218.1" r="1.05" fill="#2a9c7c"/><circle cx="493.7" cy="196.0" r="1.05" fill="#2a9c7c"/><circle cx="498.0" cy="206.7" r="1.05" fill="#2a9c7c"/><circle cx="497.2" cy="193.1" r="1.05" fill="#2a9c7c"/><circle cx="500.9" cy="197.6" r="1.05" fill="#2a9c7c"/><circle cx="504.4" cy="194.7" r="1.05" fill="#2a9c7c"/><circle cx="510.8" cy="215.4" r="1.05" fill="#2a9c7c"/><circle cx="506.9" cy="223.1" r="1.05" fill="#2a9c7c"/><circle cx="505.1" cy="224.0" r="1.05" fill="#2a9c7c"/><circle cx="495.1" cy="191.8" r="1.05" fill="#2a9c7c"/><circle cx="500.1" cy="225.2" r="1.05" fill="#2a9c7c"/><circle cx="494.0" cy="222.6" r="1.05" fill="#2a9c7c"/><circle cx="510.9" cy="201.0" r="1.05" fill="#2a9c7c"/><circle cx="493.9" cy="221.1" r="1.05" fill="#2a9c7c"/><circle cx="500.5" cy="204.7" r="1.05" fill="#2a9c7c"/><circle cx="499.5" cy="201.4" r="1.05" fill="#2a9c7c"/><circle cx="493.5" cy="194.3" r="1.05" fill="#2a9c7c"/><circle cx="489.7" cy="201.1" r="1.05" fill="#2a9c7c"/><circle cx="490.1" cy="203.5" r="1.05" fill="#2a9c7c"/><circle cx="504.8" cy="191.4" r="1.05" fill="#2a9c7c"/><circle cx="496.9" cy="188.9" r="1.05" fill="#2a9c7c"/><circle cx="509.3" cy="195.3" r="1.05" fill="#2a9c7c"/><circle cx="510.8" cy="196.9" r="1.05" fill="#2a9c7c"/><circle cx="505.5" cy="210.4" r="1.05" fill="#2a9c7c"/><circle cx="508.7" cy="214.4" r="1.05" fill="#2a9c7c"/><circle cx="504.7" cy="220.0" r="1.05" fill="#2a9c7c"/><circle cx="510.0" cy="198.7" r="1.05" fill="#2a9c7c"/><circle cx="506.1" cy="197.8" r="1.05" fill="#2a9c7c"/><circle cx="494.3" cy="208.8" r="1.05" fill="#2a9c7c"/><circle cx="500.6" cy="221.0" r="1.05" fill="#2a9c7c"/><circle cx="503.1" cy="211.3" r="1.05" fill="#2a9c7c"/><circle cx="504.3" cy="194.3" r="1.05" fill="#2a9c7c"/><circle cx="494.3" cy="216.1" r="1.05" fill="#2a9c7c"/><circle cx="503.9" cy="204.1" r="1.05" fill="#2a9c7c"/><circle cx="496.8" cy="221.3" r="1.05" fill="#2a9c7c"/><circle cx="489.7" cy="210.7" r="1.05" fill="#2a9c7c"/><circle cx="512.3" cy="206.2" r="1.05" fill="#2a9c7c"/><circle cx="491.7" cy="205.8" r="1.05" fill="#2a9c7c"/><circle cx="492.5" cy="215.6" r="1.05" fill="#2a9c7c"/><circle cx="512.2" cy="205.6" r="1.05" fill="#2a9c7c"/><circle cx="495.6" cy="206.4" r="1.05" fill="#2a9c7c"/><circle cx="505.6" cy="190.2" r="1.05" fill="#2a9c7c"/><circle cx="504.9" cy="218.6" r="1.05" fill="#2a9c7c"/><circle cx="494.7" cy="219.4" r="1.05" fill="#2a9c7c"/><circle cx="497.9" cy="200.2" r="1.05" fill="#2a9c7c"/><circle cx="494.3" cy="190.4" r="1.05" fill="#2a9c7c"/><circle cx="509.0" cy="202.7" r="1.05" fill="#2a9c7c"/><circle cx="496.1" cy="208.6" r="1.05" fill="#2a9c7c"/><circle cx="499.3" cy="188.2" r="1.05" fill="#2a9c7c"/><circle cx="497.6" cy="224.8" r="1.05" fill="#2a9c7c"/><circle cx="491.7" cy="225.2" r="1.05" fill="#2a9c7c"/><circle cx="503.3" cy="238.4" r="1.05" fill="#2a9c7c"/><circle cx="496.5" cy="223.1" r="1.05" fill="#2a9c7c"/><circle cx="507.0" cy="231.5" r="1.05" fill="#2a9c7c"/><circle cx="507.0" cy="230.7" r="1.05" fill="#2a9c7c"/><circle cx="499.1" cy="232.4" r="1.05" fill="#2a9c7c"/><circle cx="502.6" cy="233.9" r="1.05" fill="#2a9c7c"/><circle cx="498.8" cy="233.7" r="1.05" fill="#2a9c7c"/><circle cx="501.0" cy="240.6" r="1.05" fill="#2a9c7c"/><circle cx="498.7" cy="219.4" r="1.05" fill="#2a9c7c"/><circle cx="502.1" cy="222.3" r="1.05" fill="#2a9c7c"/><circle cx="495.7" cy="222.5" r="1.05" fill="#2a9c7c"/><circle cx="506.9" cy="224.9" r="1.05" fill="#2a9c7c"/><circle cx="492.3" cy="236.6" r="1.05" fill="#2a9c7c"/><circle cx="500.0" cy="234.0" r="1.05" fill="#2a9c7c"/><circle cx="502.1" cy="233.1" r="1.05" fill="#2a9c7c"/><circle cx="498.3" cy="240.4" r="1.05" fill="#2a9c7c"/><circle cx="501.7" cy="223.1" r="1.05" fill="#2a9c7c"/><circle cx="496.5" cy="224.5" r="1.05" fill="#2a9c7c"/><circle cx="501.3" cy="239.2" r="1.05" fill="#2a9c7c"/><circle cx="502.8" cy="238.8" r="1.05" fill="#2a9c7c"/><circle cx="497.4" cy="231.8" r="1.05" fill="#2a9c7c"/><circle cx="498.1" cy="229.0" r="1.05" fill="#2a9c7c"/><circle cx="503.8" cy="221.9" r="1.05" fill="#2a9c7c"/><circle cx="496.4" cy="224.3" r="1.05" fill="#2a9c7c"/><circle cx="506.2" cy="227.9" r="1.05" fill="#2a9c7c"/><circle cx="503.4" cy="233.3" r="1.05" fill="#2a9c7c"/><circle cx="506.6" cy="235.3" r="1.05" fill="#2a9c7c"/><circle cx="494.8" cy="239.7" r="1.05" fill="#2a9c7c"/><circle cx="495.5" cy="232.6" r="1.05" fill="#2a9c7c"/><circle cx="501.8" cy="223.9" r="1.05" fill="#2a9c7c"/><circle cx="500.0" cy="221.7" r="1.05" fill="#2a9c7c"/><circle cx="495.9" cy="237.1" r="1.05" fill="#2a9c7c"/><circle cx="498.5" cy="228.1" r="1.05" fill="#2a9c7c"/><circle cx="498.4" cy="231.6" r="1.05" fill="#2a9c7c"/><circle cx="502.2" cy="235.0" r="1.05" fill="#2a9c7c"/><circle cx="500.5" cy="233.2" r="1.05" fill="#2a9c7c"/><circle cx="502.8" cy="230.8" r="1.05" fill="#2a9c7c"/><circle cx="506.3" cy="232.1" r="1.05" fill="#2a9c7c"/><circle cx="500.9" cy="223.7" r="1.05" fill="#2a9c7c"/><circle cx="494.0" cy="234.0" r="1.05" fill="#2a9c7c"/><circle cx="505.8" cy="233.6" r="1.05" fill="#2a9c7c"/><circle cx="501.6" cy="234.3" r="1.05" fill="#2a9c7c"/><circle cx="502.4" cy="227.9" r="1.05" fill="#2a9c7c"/><circle cx="493.3" cy="227.6" r="1.05" fill="#2a9c7c"/><circle cx="494.2" cy="232.4" r="1.05" fill="#2a9c7c"/><circle cx="503.3" cy="225.1" r="1.05" fill="#2a9c7c"/><circle cx="495.6" cy="230.7" r="1.05" fill="#2a9c7c"/><circle cx="495.3" cy="234.4" r="1.05" fill="#2a9c7c"/><circle cx="505.7" cy="226.9" r="1.05" fill="#2a9c7c"/><circle cx="495.8" cy="235.6" r="1.05" fill="#2a9c7c"/><circle cx="507.0" cy="234.7" r="1.05" fill="#2a9c7c"/><circle cx="506.2" cy="223.6" r="1.05" fill="#2a9c7c"/><circle cx="504.0" cy="238.4" r="1.05" fill="#2a9c7c"/><circle cx="494.0" cy="230.3" r="1.05" fill="#2a9c7c"/><circle cx="498.9" cy="233.9" r="1.05" fill="#2a9c7c"/><circle cx="500.1" cy="240.8" r="1.05" fill="#2a9c7c"/><circle cx="506.2" cy="233.3" r="1.05" fill="#2a9c7c"/><circle cx="497.1" cy="219.5" r="1.05" fill="#2a9c7c"/><circle cx="514.7" cy="192.5" r="1.05" fill="#2a9c7c"/><circle cx="516.7" cy="192.2" r="1.05" fill="#2a9c7c"/><circle cx="512.8" cy="188.4" r="1.05" fill="#2a9c7c"/><circle cx="512.8" cy="196.0" r="1.05" fill="#2a9c7c"/><circle cx="512.7" cy="193.4" r="1.05" fill="#2a9c7c"/><circle cx="512.0" cy="194.1" r="1.05" fill="#2a9c7c"/><circle cx="511.4" cy="190.3" r="1.05" fill="#2a9c7c"/><circle cx="510.0" cy="192.7" r="1.05" fill="#2a9c7c"/><circle cx="510.0" cy="194.1" r="1.05" fill="#2a9c7c"/><circle cx="514.6" cy="197.4" r="1.05" fill="#2a9c7c"/><circle cx="513.2" cy="195.5" r="1.05" fill="#2a9c7c"/><circle cx="514.0" cy="190.9" r="1.05" fill="#2a9c7c"/><circle cx="517.5" cy="193.1" r="1.05" fill="#2a9c7c"/><circle cx="509.7" cy="190.0" r="1.05" fill="#2a9c7c"/><circle cx="512.3" cy="196.4" r="1.05" fill="#2a9c7c"/><circle cx="511.2" cy="194.7" r="1.05" fill="#2a9c7c"/><circle cx="513.3" cy="188.2" r="1.05" fill="#2a9c7c"/><circle cx="516.1" cy="188.8" r="1.05" fill="#2a9c7c"/><circle cx="512.9" cy="193.6" r="1.05" fill="#2a9c7c"/><circle cx="513.4" cy="196.7" r="1.05" fill="#2a9c7c"/><circle cx="512.5" cy="207.3" r="1.05" fill="#2a9c7c"/><circle cx="511.1" cy="214.3" r="1.05" fill="#2a9c7c"/><circle cx="513.9" cy="205.2" r="1.05" fill="#2a9c7c"/><circle cx="513.2" cy="224.3" r="1.05" fill="#2a9c7c"/><circle cx="504.5" cy="206.3" r="1.05" fill="#2a9c7c"/><circle cx="509.8" cy="217.8" r="1.05" fill="#2a9c7c"/><circle cx="505.8" cy="215.1" r="1.05" fill="#2a9c7c"/><circle cx="506.3" cy="220.9" r="1.05" fill="#2a9c7c"/><circle cx="507.5" cy="222.0" r="1.05" fill="#2a9c7c"/><circle cx="507.3" cy="211.0" r="1.05" fill="#2a9c7c"/><circle cx="509.4" cy="205.2" r="1.05" fill="#2a9c7c"/><circle cx="509.1" cy="227.2" r="1.05" fill="#2a9c7c"/><circle cx="511.2" cy="213.4" r="1.05" fill="#2a9c7c"/><circle cx="505.8" cy="223.0" r="1.05" fill="#2a9c7c"/><circle cx="516.0" cy="217.2" r="1.05" fill="#2a9c7c"/><circle cx="511.6" cy="214.9" r="1.05" fill="#2a9c7c"/><circle cx="516.4" cy="209.1" r="1.05" fill="#2a9c7c"/><circle cx="508.9" cy="207.6" r="1.05" fill="#2a9c7c"/><circle cx="514.6" cy="205.5" r="1.05" fill="#2a9c7c"/><circle cx="507.2" cy="225.8" r="1.05" fill="#2a9c7c"/><circle cx="514.2" cy="209.1" r="1.05" fill="#2a9c7c"/><circle cx="507.3" cy="207.0" r="1.05" fill="#2a9c7c"/><circle cx="502.9" cy="213.9" r="1.05" fill="#2a9c7c"/><circle cx="503.1" cy="212.9" r="1.05" fill="#2a9c7c"/><circle cx="504.0" cy="208.7" r="1.05" fill="#2a9c7c"/><circle cx="510.2" cy="219.8" r="1.05" fill="#2a9c7c"/><circle cx="506.3" cy="222.6" r="1.05" fill="#2a9c7c"/><circle cx="511.4" cy="212.2" r="1.05" fill="#2a9c7c"/><circle cx="512.7" cy="205.4" r="1.05" fill="#2a9c7c"/><circle cx="516.0" cy="214.6" r="1.05" fill="#2a9c7c"/><circle cx="504.6" cy="204.1" r="1.05" fill="#2a9c7c"/><circle cx="504.8" cy="213.5" r="1.05" fill="#2a9c7c"/><circle cx="511.3" cy="215.7" r="1.05" fill="#2a9c7c"/><circle cx="510.9" cy="202.5" r="1.05" fill="#2a9c7c"/><circle cx="511.0" cy="210.6" r="1.05" fill="#2a9c7c"/><circle cx="506.6" cy="205.4" r="1.05" fill="#2a9c7c"/><circle cx="514.1" cy="216.7" r="1.05" fill="#2a9c7c"/><circle cx="515.4" cy="212.8" r="1.05" fill="#2a9c7c"/><circle cx="511.4" cy="218.9" r="1.05" fill="#2a9c7c"/><circle cx="510.7" cy="224.2" r="1.05" fill="#2a9c7c"/><circle cx="509.9" cy="205.7" r="1.05" fill="#2a9c7c"/><circle cx="513.1" cy="216.7" r="1.05" fill="#2a9c7c"/><circle cx="510.6" cy="205.5" r="1.05" fill="#2a9c7c"/><circle cx="515.5" cy="217.3" r="1.05" fill="#2a9c7c"/><circle cx="514.3" cy="208.3" r="1.05" fill="#2a9c7c"/><circle cx="515.3" cy="208.8" r="1.05" fill="#2a9c7c"/><circle cx="513.0" cy="213.6" r="1.05" fill="#2a9c7c"/><circle cx="517.3" cy="214.0" r="1.05" fill="#2a9c7c"/><circle cx="515.9" cy="204.7" r="1.05" fill="#2a9c7c"/><circle cx="517.4" cy="216.5" r="1.05" fill="#2a9c7c"/><circle cx="509.2" cy="214.9" r="1.05" fill="#2a9c7c"/><circle cx="507.8" cy="216.8" r="1.05" fill="#2a9c7c"/><circle cx="517.1" cy="212.3" r="1.05" fill="#2a9c7c"/><circle cx="513.6" cy="207.6" r="1.05" fill="#2a9c7c"/><circle cx="515.3" cy="220.1" r="1.05" fill="#2a9c7c"/><circle cx="514.9" cy="212.6" r="1.05" fill="#2a9c7c"/><circle cx="509.3" cy="216.9" r="1.05" fill="#2a9c7c"/><circle cx="507.3" cy="221.9" r="1.05" fill="#2a9c7c"/><circle cx="504.8" cy="221.5" r="1.05" fill="#2a9c7c"/><circle cx="502.7" cy="210.5" r="1.05" fill="#2a9c7c"/><circle cx="536.8" cy="186.0" r="1.05" fill="#8a52c8"/><circle cx="537.9" cy="207.9" r="1.05" fill="#8a52c8"/><circle cx="545.2" cy="193.5" r="1.05" fill="#8a52c8"/><circle cx="542.2" cy="200.2" r="1.05" fill="#8a52c8"/><circle cx="537.8" cy="190.7" r="1.05" fill="#8a52c8"/><circle cx="539.4" cy="198.6" r="1.05" fill="#8a52c8"/><circle cx="541.2" cy="201.1" r="1.05" fill="#8a52c8"/><circle cx="536.1" cy="185.8" r="1.05" fill="#8a52c8"/><circle cx="543.4" cy="198.3" r="1.05" fill="#8a52c8"/><circle cx="543.9" cy="206.6" r="1.05" fill="#8a52c8"/><circle cx="541.5" cy="186.8" r="1.05" fill="#8a52c8"/><circle cx="529.1" cy="197.5" r="1.05" fill="#8a52c8"/><circle cx="533.4" cy="191.6" r="1.05" fill="#8a52c8"/><circle cx="538.5" cy="191.5" r="1.05" fill="#8a52c8"/><circle cx="534.8" cy="186.8" r="1.05" fill="#8a52c8"/><circle cx="530.6" cy="192.7" r="1.05" fill="#8a52c8"/><circle cx="531.0" cy="189.6" r="1.05" fill="#8a52c8"/><circle cx="533.2" cy="196.0" r="1.05" fill="#8a52c8"/><circle cx="529.6" cy="194.6" r="1.05" fill="#8a52c8"/><circle cx="530.2" cy="199.7" r="1.05" fill="#8a52c8"/><circle cx="547.0" cy="199.0" r="1.05" fill="#8a52c8"/><circle cx="542.1" cy="199.9" r="1.05" fill="#8a52c8"/><circle cx="533.7" cy="200.6" r="1.05" fill="#8a52c8"/><circle cx="541.3" cy="203.9" r="1.05" fill="#8a52c8"/><circle cx="540.1" cy="200.4" r="1.05" fill="#8a52c8"/><circle cx="534.6" cy="186.4" r="1.05" fill="#8a52c8"/><circle cx="537.7" cy="199.6" r="1.05" fill="#8a52c8"/><circle cx="538.3" cy="187.5" r="1.05" fill="#8a52c8"/><circle cx="544.2" cy="198.8" r="1.05" fill="#8a52c8"/><circle cx="539.9" cy="200.8" r="1.05" fill="#8a52c8"/><circle cx="543.6" cy="185.6" r="1.05" fill="#8a52c8"/><circle cx="532.5" cy="189.2" r="1.05" fill="#8a52c8"/><circle cx="538.0" cy="204.7" r="1.05" fill="#8a52c8"/><circle cx="537.0" cy="204.3" r="1.05" fill="#8a52c8"/><circle cx="544.6" cy="191.9" r="1.05" fill="#8a52c8"/><circle cx="543.8" cy="196.3" r="1.05" fill="#8a52c8"/><circle cx="545.0" cy="202.1" r="1.05" fill="#8a52c8"/><circle cx="533.0" cy="196.1" r="1.05" fill="#8a52c8"/><circle cx="533.3" cy="204.8" r="1.05" fill="#8a52c8"/><circle cx="535.0" cy="200.9" r="1.05" fill="#8a52c8"/><circle cx="541.0" cy="202.0" r="1.05" fill="#8a52c8"/><circle cx="530.1" cy="203.1" r="1.05" fill="#8a52c8"/><circle cx="530.1" cy="191.5" r="1.05" fill="#8a52c8"/><circle cx="539.4" cy="203.6" r="1.05" fill="#8a52c8"/><circle cx="542.3" cy="191.4" r="1.05" fill="#8a52c8"/><circle cx="542.6" cy="197.6" r="1.05" fill="#8a52c8"/><circle cx="548.8" cy="191.7" r="1.05" fill="#8a52c8"/><circle cx="539.5" cy="207.3" r="1.05" fill="#8a52c8"/><circle cx="539.1" cy="187.5" r="1.05" fill="#8a52c8"/><circle cx="539.9" cy="187.1" r="1.05" fill="#8a52c8"/><circle cx="547.3" cy="190.3" r="1.05" fill="#8a52c8"/><circle cx="538.6" cy="197.3" r="1.05" fill="#8a52c8"/><circle cx="541.4" cy="188.9" r="1.05" fill="#8a52c8"/><circle cx="534.1" cy="195.4" r="1.05" fill="#8a52c8"/><circle cx="543.5" cy="196.3" r="1.05" fill="#8a52c8"/><circle cx="532.7" cy="187.8" r="1.05" fill="#8a52c8"/><circle cx="538.2" cy="185.3" r="1.05" fill="#8a52c8"/><circle cx="541.4" cy="194.4" r="1.05" fill="#8a52c8"/><circle cx="541.1" cy="202.9" r="1.05" fill="#8a52c8"/><circle cx="539.1" cy="192.2" r="1.05" fill="#8a52c8"/><circle cx="541.2" cy="192.8" r="1.05" fill="#8a52c8"/><circle cx="544.6" cy="191.2" r="1.05" fill="#8a52c8"/><circle cx="536.3" cy="189.0" r="1.05" fill="#8a52c8"/><circle cx="537.1" cy="193.4" r="1.05" fill="#8a52c8"/><circle cx="540.1" cy="190.1" r="1.05" fill="#8a52c8"/><circle cx="533.1" cy="200.2" r="1.05" fill="#8a52c8"/><circle cx="544.4" cy="191.2" r="1.05" fill="#8a52c8"/><circle cx="533.4" cy="187.0" r="1.05" fill="#8a52c8"/><circle cx="539.0" cy="185.8" r="1.05" fill="#8a52c8"/><circle cx="544.8" cy="195.4" r="1.05" fill="#8a52c8"/><circle cx="537.0" cy="208.5" r="1.05" fill="#8a52c8"/><circle cx="529.7" cy="191.8" r="1.05" fill="#8a52c8"/><circle cx="533.1" cy="205.0" r="1.05" fill="#8a52c8"/><circle cx="544.0" cy="192.8" r="1.05" fill="#8a52c8"/><circle cx="529.6" cy="193.2" r="1.05" fill="#8a52c8"/><circle cx="548.0" cy="201.4" r="1.05" fill="#8a52c8"/><circle cx="546.7" cy="202.3" r="1.05" fill="#8a52c8"/><circle cx="546.7" cy="203.4" r="1.05" fill="#8a52c8"/><circle cx="540.7" cy="185.8" r="1.05" fill="#8a52c8"/><circle cx="548.9" cy="199.2" r="1.05" fill="#8a52c8"/><circle cx="547.7" cy="198.1" r="1.05" fill="#8a52c8"/><circle cx="547.7" cy="204.5" r="1.05" fill="#8a52c8"/><circle cx="538.4" cy="200.2" r="1.05" fill="#8a52c8"/><circle cx="542.0" cy="201.0" r="1.05" fill="#8a52c8"/><circle cx="546.0" cy="192.2" r="1.05" fill="#8a52c8"/><circle cx="534.1" cy="195.1" r="1.05" fill="#8a52c8"/><circle cx="549.0" cy="193.8" r="1.05" fill="#8a52c8"/><circle cx="549.8" cy="194.8" r="1.05" fill="#8a52c8"/><circle cx="543.4" cy="201.4" r="1.05" fill="#8a52c8"/><circle cx="547.9" cy="194.5" r="1.05" fill="#8a52c8"/><circle cx="535.1" cy="206.4" r="1.05" fill="#8a52c8"/><circle cx="546.9" cy="195.0" r="1.05" fill="#8a52c8"/><circle cx="533.2" cy="192.0" r="1.05" fill="#8a52c8"/><circle cx="547.8" cy="191.7" r="1.05" fill="#8a52c8"/><circle cx="544.8" cy="207.2" r="1.05" fill="#8a52c8"/><circle cx="542.1" cy="199.3" r="1.05" fill="#8a52c8"/><circle cx="545.1" cy="189.4" r="1.05" fill="#8a52c8"/><circle cx="541.4" cy="194.7" r="1.05" fill="#8a52c8"/><circle cx="538.5" cy="192.2" r="1.05" fill="#8a52c8"/><circle cx="548.6" cy="198.7" r="1.05" fill="#8a52c8"/><circle cx="525.2" cy="211.1" r="1.05" fill="#8a52c8"/><circle cx="530.4" cy="218.9" r="1.05" fill="#8a52c8"/><circle cx="523.6" cy="209.1" r="1.05" fill="#8a52c8"/><circle cx="530.0" cy="212.7" r="1.05" fill="#8a52c8"/><circle cx="521.8" cy="209.4" r="1.05" fill="#8a52c8"/><circle cx="521.5" cy="212.7" r="1.05" fill="#8a52c8"/><circle cx="530.2" cy="209.7" r="1.05" fill="#8a52c8"/><circle cx="527.0" cy="207.3" r="1.05" fill="#8a52c8"/><circle cx="530.0" cy="206.5" r="1.05" fill="#8a52c8"/><circle cx="531.6" cy="213.7" r="1.05" fill="#8a52c8"/><circle cx="530.6" cy="204.7" r="1.05" fill="#8a52c8"/><circle cx="524.4" cy="213.4" r="1.05" fill="#8a52c8"/><circle cx="523.9" cy="204.0" r="1.05" fill="#8a52c8"/><circle cx="530.2" cy="204.4" r="1.05" fill="#8a52c8"/><circle cx="530.4" cy="206.0" r="1.05" fill="#8a52c8"/><circle cx="521.8" cy="209.2" r="1.05" fill="#8a52c8"/><circle cx="531.1" cy="217.3" r="1.05" fill="#8a52c8"/><circle cx="532.0" cy="215.1" r="1.05" fill="#8a52c8"/><circle cx="529.8" cy="203.9" r="1.05" fill="#8a52c8"/><circle cx="529.7" cy="205.1" r="1.05" fill="#8a52c8"/><circle cx="521.5" cy="213.8" r="1.05" fill="#8a52c8"/><circle cx="531.0" cy="214.3" r="1.05" fill="#8a52c8"/><circle cx="528.2" cy="206.0" r="1.05" fill="#8a52c8"/><circle cx="522.5" cy="212.4" r="1.05" fill="#8a52c8"/><circle cx="524.9" cy="219.5" r="1.05" fill="#8a52c8"/><circle cx="526.1" cy="213.0" r="1.05" fill="#8a52c8"/><circle cx="524.9" cy="221.0" r="1.05" fill="#8a52c8"/><circle cx="524.8" cy="213.3" r="1.05" fill="#8a52c8"/><circle cx="525.1" cy="218.1" r="1.05" fill="#8a52c8"/><circle cx="529.6" cy="216.2" r="1.05" fill="#8a52c8"/><circle cx="523.6" cy="215.7" r="1.05" fill="#8a52c8"/><circle cx="528.6" cy="218.3" r="1.05" fill="#8a52c8"/><circle cx="524.3" cy="219.2" r="1.05" fill="#8a52c8"/><circle cx="523.5" cy="211.3" r="1.05" fill="#8a52c8"/><circle cx="530.3" cy="212.7" r="1.05" fill="#8a52c8"/><circle cx="528.2" cy="211.5" r="1.05" fill="#8a52c8"/><circle cx="530.6" cy="207.1" r="1.05" fill="#8a52c8"/><circle cx="529.8" cy="206.6" r="1.05" fill="#8a52c8"/><circle cx="524.3" cy="209.2" r="1.05" fill="#8a52c8"/><circle cx="526.5" cy="209.3" r="1.05" fill="#8a52c8"/><circle cx="531.6" cy="213.8" r="1.05" fill="#8a52c8"/><circle cx="531.7" cy="211.1" r="1.05" fill="#8a52c8"/><circle cx="533.6" cy="209.4" r="1.05" fill="#8a52c8"/><circle cx="525.8" cy="218.6" r="1.05" fill="#8a52c8"/><circle cx="527.7" cy="218.1" r="1.05" fill="#8a52c8"/><circle cx="531.0" cy="219.3" r="1.05" fill="#8a52c8"/><circle cx="532.5" cy="206.8" r="1.05" fill="#8a52c8"/><circle cx="533.2" cy="215.7" r="1.05" fill="#8a52c8"/><circle cx="530.8" cy="213.2" r="1.05" fill="#8a52c8"/><circle cx="527.0" cy="209.0" r="1.05" fill="#8a52c8"/><circle cx="488.0" cy="251.0" r="1.05" fill="#d4b830"/><circle cx="499.7" cy="249.8" r="1.05" fill="#d4b830"/><circle cx="500.2" cy="249.0" r="1.05" fill="#d4b830"/><circle cx="487.4" cy="251.2" r="1.05" fill="#d4b830"/><circle cx="499.3" cy="258.1" r="1.05" fill="#d4b830"/><circle cx="501.2" cy="258.7" r="1.05" fill="#d4b830"/><circle cx="496.1" cy="251.7" r="1.05" fill="#d4b830"/><circle cx="497.3" cy="255.4" r="1.05" fill="#d4b830"/><circle cx="499.0" cy="248.5" r="1.05" fill="#d4b830"/><circle cx="501.7" cy="251.7" r="1.05" fill="#d4b830"/><circle cx="493.4" cy="250.8" r="1.05" fill="#d4b830"/><circle cx="502.7" cy="253.2" r="1.05" fill="#d4b830"/><circle cx="493.3" cy="261.8" r="1.05" fill="#d4b830"/><circle cx="497.6" cy="259.0" r="1.05" fill="#d4b830"/><circle cx="498.6" cy="249.8" r="1.05" fill="#d4b830"/><circle cx="491.9" cy="254.0" r="1.05" fill="#d4b830"/><circle cx="497.5" cy="249.7" r="1.05" fill="#d4b830"/><circle cx="488.6" cy="256.9" r="1.05" fill="#d4b830"/><circle cx="500.5" cy="250.8" r="1.05" fill="#d4b830"/><circle cx="497.1" cy="255.3" r="1.05" fill="#d4b830"/><circle cx="493.1" cy="260.4" r="1.05" fill="#d4b830"/><circle cx="499.7" cy="248.2" r="1.05" fill="#d4b830"/><circle cx="498.7" cy="251.7" r="1.05" fill="#d4b830"/><circle cx="497.1" cy="255.7" r="1.05" fill="#d4b830"/><circle cx="494.4" cy="246.0" r="1.05" fill="#d4b830"/><circle cx="499.6" cy="260.2" r="1.05" fill="#d4b830"/><circle cx="496.5" cy="254.1" r="1.05" fill="#d4b830"/><circle cx="487.1" cy="251.9" r="1.05" fill="#d4b830"/><circle cx="498.6" cy="256.0" r="1.05" fill="#d4b830"/><circle cx="499.6" cy="250.7" r="1.05" fill="#d4b830"/><circle cx="499.0" cy="257.8" r="1.05" fill="#d4b830"/><circle cx="491.7" cy="245.9" r="1.05" fill="#d4b830"/><circle cx="502.9" cy="249.9" r="1.05" fill="#d4b830"/><circle cx="495.9" cy="257.9" r="1.05" fill="#d4b830"/><circle cx="491.4" cy="261.1" r="1.05" fill="#d4b830"/><circle cx="490.8" cy="253.8" r="1.05" fill="#d4b830"/><circle cx="498.0" cy="259.9" r="1.05" fill="#d4b830"/><circle cx="499.5" cy="254.1" r="1.05" fill="#d4b830"/><circle cx="498.1" cy="259.1" r="1.05" fill="#d4b830"/><circle cx="492.9" cy="251.1" r="1.05" fill="#d4b830"/><circle cx="498.0" cy="253.1" r="1.05" fill="#d4b830"/><circle cx="503.4" cy="254.2" r="1.05" fill="#d4b830"/><circle cx="496.1" cy="254.3" r="1.05" fill="#d4b830"/><circle cx="495.5" cy="256.1" r="1.05" fill="#d4b830"/><circle cx="497.1" cy="246.2" r="1.05" fill="#d4b830"/><circle cx="486.6" cy="251.5" r="1.05" fill="#d4b830"/><circle cx="502.0" cy="252.9" r="1.05" fill="#d4b830"/><circle cx="498.3" cy="250.4" r="1.05" fill="#d4b830"/><circle cx="494.0" cy="250.0" r="1.05" fill="#d4b830"/><circle cx="487.9" cy="252.6" r="1.05" fill="#d4b830"/><circle cx="486.2" cy="250.8" r="1.05" fill="#d4b830"/><circle cx="498.8" cy="246.9" r="1.05" fill="#d4b830"/><circle cx="486.8" cy="253.8" r="1.05" fill="#d4b830"/><circle cx="489.0" cy="259.8" r="1.05" fill="#d4b830"/><circle cx="500.8" cy="254.1" r="1.05" fill="#d4b830"/><circle cx="493.6" cy="247.2" r="1.05" fill="#d4b830"/><circle cx="493.3" cy="257.5" r="1.05" fill="#d4b830"/><circle cx="497.4" cy="248.8" r="1.05" fill="#d4b830"/><circle cx="495.2" cy="255.3" r="1.05" fill="#d4b830"/><circle cx="496.1" cy="252.3" r="1.05" fill="#d4b830"/><circle cx="496.8" cy="258.9" r="1.05" fill="#d4b830"/><circle cx="491.9" cy="259.6" r="1.05" fill="#d4b830"/><circle cx="494.6" cy="246.3" r="1.05" fill="#d4b830"/><circle cx="498.6" cy="259.4" r="1.05" fill="#d4b830"/><circle cx="490.0" cy="253.2" r="1.05" fill="#d4b830"/><circle cx="496.3" cy="252.6" r="1.05" fill="#d4b830"/><circle cx="495.0" cy="258.0" r="1.05" fill="#d4b830"/><circle cx="498.1" cy="257.9" r="1.05" fill="#d4b830"/><circle cx="497.9" cy="252.3" r="1.05" fill="#d4b830"/><circle cx="501.0" cy="253.2" r="1.05" fill="#d4b830"/><circle cx="539.6" cy="235.3" r="1.05" fill="#d4b830"/><circle cx="535.1" cy="243.4" r="1.05" fill="#d4b830"/><circle cx="532.1" cy="236.4" r="1.05" fill="#d4b830"/><circle cx="542.4" cy="236.0" r="1.05" fill="#d4b830"/><circle cx="535.6" cy="238.9" r="1.05" fill="#d4b830"/><circle cx="536.7" cy="244.7" r="1.05" fill="#d4b830"/><circle cx="531.2" cy="233.7" r="1.05" fill="#d4b830"/><circle cx="528.9" cy="241.3" r="1.05" fill="#d4b830"/><circle cx="522.7" cy="241.2" r="1.05" fill="#d4b830"/><circle cx="539.7" cy="235.4" r="1.05" fill="#d4b830"/><circle cx="532.7" cy="240.2" r="1.05" fill="#d4b830"/><circle cx="530.2" cy="233.7" r="1.05" fill="#d4b830"/><circle cx="541.2" cy="241.4" r="1.05" fill="#d4b830"/><circle cx="533.7" cy="245.2" r="1.05" fill="#d4b830"/><circle cx="533.5" cy="236.5" r="1.05" fill="#d4b830"/><circle cx="526.0" cy="234.1" r="1.05" fill="#d4b830"/><circle cx="530.0" cy="234.4" r="1.05" fill="#d4b830"/><circle cx="533.5" cy="241.4" r="1.05" fill="#d4b830"/><circle cx="540.2" cy="237.3" r="1.05" fill="#d4b830"/><circle cx="536.6" cy="243.9" r="1.05" fill="#d4b830"/><circle cx="529.0" cy="232.8" r="1.05" fill="#d4b830"/><circle cx="528.5" cy="231.6" r="1.05" fill="#d4b830"/><circle cx="524.4" cy="241.3" r="1.05" fill="#d4b830"/><circle cx="539.0" cy="232.8" r="1.05" fill="#d4b830"/><circle cx="526.7" cy="230.3" r="1.05" fill="#d4b830"/><circle cx="523.7" cy="238.8" r="1.05" fill="#d4b830"/><circle cx="527.6" cy="235.1" r="1.05" fill="#d4b830"/><circle cx="535.3" cy="235.7" r="1.05" fill="#d4b830"/><circle cx="537.6" cy="235.4" r="1.05" fill="#d4b830"/><circle cx="523.6" cy="232.3" r="1.05" fill="#d4b830"/><circle cx="544.9" cy="237.2" r="1.05" fill="#d4b830"/><circle cx="535.7" cy="229.9" r="1.05" fill="#d4b830"/><circle cx="527.6" cy="231.8" r="1.05" fill="#d4b830"/><circle cx="527.0" cy="242.6" r="1.05" fill="#d4b830"/><circle cx="542.6" cy="234.0" r="1.05" fill="#d4b830"/><circle cx="530.1" cy="238.0" r="1.05" fill="#d4b830"/><circle cx="541.6" cy="234.5" r="1.05" fill="#d4b830"/><circle cx="538.3" cy="236.8" r="1.05" fill="#d4b830"/><circle cx="533.9" cy="233.2" r="1.05" fill="#d4b830"/><circle cx="540.0" cy="239.7" r="1.05" fill="#d4b830"/><circle cx="531.2" cy="235.0" r="1.05" fill="#d4b830"/><circle cx="522.9" cy="238.1" r="1.05" fill="#d4b830"/><circle cx="531.5" cy="243.9" r="1.05" fill="#d4b830"/><circle cx="525.0" cy="238.6" r="1.05" fill="#d4b830"/><circle cx="539.0" cy="240.3" r="1.05" fill="#d4b830"/><circle cx="533.0" cy="230.4" r="1.05" fill="#d4b830"/><circle cx="542.1" cy="239.0" r="1.05" fill="#d4b830"/><circle cx="521.8" cy="235.7" r="1.05" fill="#d4b830"/><circle cx="541.5" cy="231.2" r="1.05" fill="#d4b830"/><circle cx="532.0" cy="229.3" r="1.05" fill="#d4b830"/><circle cx="535.4" cy="239.8" r="1.05" fill="#d4b830"/><circle cx="527.8" cy="240.9" r="1.05" fill="#d4b830"/><circle cx="530.2" cy="233.0" r="1.05" fill="#d4b830"/><circle cx="527.9" cy="240.8" r="1.05" fill="#d4b830"/><circle cx="534.4" cy="230.7" r="1.05" fill="#d4b830"/><circle cx="526.3" cy="232.5" r="1.05" fill="#d4b830"/><circle cx="527.1" cy="239.3" r="1.05" fill="#d4b830"/><circle cx="523.8" cy="233.8" r="1.05" fill="#d4b830"/><circle cx="533.9" cy="236.6" r="1.05" fill="#d4b830"/><circle cx="523.6" cy="231.8" r="1.05" fill="#d4b830"/><circle cx="537.1" cy="234.4" r="1.05" fill="#d4b830"/><circle cx="535.2" cy="241.4" r="1.05" fill="#d4b830"/><circle cx="523.5" cy="236.0" r="1.05" fill="#d4b830"/><circle cx="538.3" cy="234.2" r="1.05" fill="#d4b830"/><circle cx="531.7" cy="242.5" r="1.05" fill="#d4b830"/><circle cx="540.0" cy="239.9" r="1.05" fill="#d4b830"/><circle cx="543.4" cy="236.4" r="1.05" fill="#d4b830"/><circle cx="543.7" cy="235.5" r="1.05" fill="#d4b830"/><circle cx="530.2" cy="231.2" r="1.05" fill="#d4b830"/><circle cx="529.1" cy="229.4" r="1.05" fill="#d4b830"/><circle cx="526.7" cy="239.9" r="1.05" fill="#d4b830"/><circle cx="524.7" cy="232.7" r="1.05" fill="#d4b830"/><circle cx="540.9" cy="240.0" r="1.05" fill="#d4b830"/><circle cx="534.8" cy="234.5" r="1.05" fill="#d4b830"/><circle cx="527.2" cy="233.7" r="1.05" fill="#d4b830"/><circle cx="542.8" cy="240.7" r="1.05" fill="#d4b830"/><circle cx="529.9" cy="233.6" r="1.05" fill="#d4b830"/><circle cx="525.6" cy="238.5" r="1.05" fill="#d4b830"/><circle cx="537.1" cy="236.4" r="1.05" fill="#d4b830"/><circle cx="540.3" cy="232.1" r="1.05" fill="#d4b830"/><circle cx="518.1" cy="247.4" r="1.05" fill="#d4b830"/><circle cx="515.7" cy="246.7" r="1.05" fill="#d4b830"/><circle cx="518.2" cy="245.3" r="1.05" fill="#d4b830"/><circle cx="514.0" cy="242.0" r="1.05" fill="#d4b830"/><circle cx="520.0" cy="247.8" r="1.05" fill="#d4b830"/><circle cx="517.0" cy="247.8" r="1.05" fill="#d4b830"/><circle cx="511.0" cy="244.2" r="1.05" fill="#d4b830"/><circle cx="510.6" cy="244.2" r="1.05" fill="#d4b830"/><circle cx="510.7" cy="241.7" r="1.05" fill="#d4b830"/><circle cx="516.9" cy="245.2" r="1.05" fill="#d4b830"/><circle cx="510.9" cy="244.6" r="1.05" fill="#d4b830"/><circle cx="522.3" cy="245.0" r="1.05" fill="#d4b830"/><circle cx="512.3" cy="242.0" r="1.05" fill="#d4b830"/><circle cx="511.1" cy="240.9" r="1.05" fill="#d4b830"/><circle cx="512.3" cy="242.4" r="1.05" fill="#d4b830"/><circle cx="519.8" cy="239.8" r="1.05" fill="#d4b830"/><circle cx="513.7" cy="243.2" r="1.05" fill="#d4b830"/><circle cx="516.1" cy="239.5" r="1.05" fill="#d4b830"/><circle cx="512.6" cy="241.8" r="1.05" fill="#d4b830"/><circle cx="510.3" cy="246.5" r="1.05" fill="#d4b830"/><circle cx="511.9" cy="244.2" r="1.05" fill="#d4b830"/><circle cx="522.5" cy="244.9" r="1.05" fill="#d4b830"/><circle cx="517.3" cy="244.0" r="1.05" fill="#d4b830"/><circle cx="520.9" cy="245.8" r="1.05" fill="#d4b830"/><circle cx="513.3" cy="241.6" r="1.05" fill="#d4b830"/><circle cx="517.6" cy="244.1" r="1.05" fill="#d4b830"/><circle cx="520.6" cy="244.6" r="1.05" fill="#d4b830"/><circle cx="512.8" cy="239.9" r="1.05" fill="#d4b830"/><circle cx="518.9" cy="246.1" r="1.05" fill="#d4b830"/><circle cx="519.3" cy="245.8" r="1.05" fill="#d4b830"/><circle cx="549.0" cy="221.5" r="1.05" fill="#d4b830"/><circle cx="549.3" cy="224.6" r="1.05" fill="#d4b830"/><circle cx="548.1" cy="224.0" r="1.05" fill="#d4b830"/><circle cx="548.3" cy="224.1" r="1.05" fill="#d4b830"/><circle cx="548.2" cy="223.9" r="1.05" fill="#d4b830"/></g>
<text x="562" y="203.8" font-size="8.6" fill="#5480c8" textLength="36.4" lengthAdjust="spacingAndGlyphs">Cell type 1</text>
<text x="562" y="216.7" font-size="8.6" fill="#34a486" textLength="36.8" lengthAdjust="spacingAndGlyphs">Cell type 2</text>
<text x="562" y="230.3" font-size="8.6" fill="#8c64c4" textLength="36.8" lengthAdjust="spacingAndGlyphs">Cell type 3</text>
<text x="562" y="243.4" font-size="8.6" fill="#b08c44" textLength="38.1" lengthAdjust="spacingAndGlyphs">Cell type N</text>
<circle cx="445.9" cy="291.6" r="7.1" fill="#fff" stroke="#222" stroke-width="1.1"/>
<text x="445.9" y="294.2" font-size="7.2" font-weight="bold" text-anchor="middle" fill="#222">6</text>
<text x="456.6" y="294.9" font-size="9.5" fill="#333" stroke="#333" stroke-width="0.18" textLength="146.6" lengthAdjust="spacingAndGlyphs">Clustering &amp; cell type identification</text>
</svg></body></html>
